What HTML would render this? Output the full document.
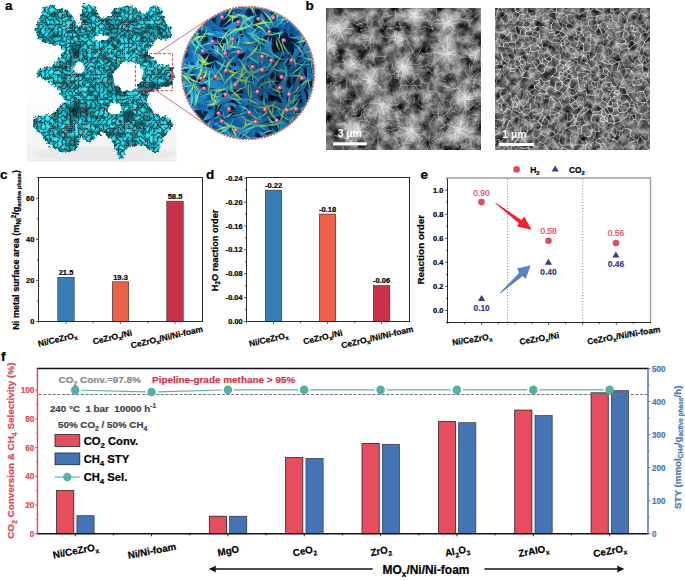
<!DOCTYPE html>
<html><head><meta charset="utf-8"><style>
html,body{margin:0;padding:0;background:#fff;width:685px;height:581px;overflow:hidden}
svg{display:block}
text{font-family:"Liberation Sans",sans-serif}
</style></head><body>
<svg width="685" height="581" viewBox="0 0 685 581" font-family="Liberation Sans, sans-serif">
<defs>
<linearGradient id="floor" x1="0" y1="0" x2="0" y2="1">
 <stop offset="0" stop-color="#ffffff"/><stop offset="0.6" stop-color="#fdfdfd"/><stop offset="1" stop-color="#f0f0f0"/>
</linearGradient>
<filter id="rough" x="-10%" y="-10%" width="120%" height="120%" color-interpolation-filters="sRGB">
 <feTurbulence type="fractalNoise" baseFrequency="0.3" numOctaves="2" seed="4" result="n"/>
 <feDisplacementMap in="SourceGraphic" in2="n" scale="6" xChannelSelector="R" yChannelSelector="G" result="d"/>
 <feTurbulence type="turbulence" baseFrequency="0.24" numOctaves="2" seed="9" result="t"/>
 <feColorMatrix in="t" type="matrix" values="1 0 0 0 0  1 0 0 0 0  1 0 0 0 0  0 0 0 0 1" result="tg"/>
 <feComponentTransfer in="tg" result="col">
  <feFuncR type="table" tableValues="0.02 0.08 0.19 0.25 0.27 0.28"/>
  <feFuncG type="table" tableValues="0.13 0.55 0.84 0.91 0.93 0.93"/>
  <feFuncB type="table" tableValues="0.16 0.6 0.89 0.95 0.97 0.97"/>
 </feComponentTransfer>
 <feTurbulence type="fractalNoise" baseFrequency="0.05" numOctaves="2" seed="3" result="lo"/>
 <feColorMatrix in="lo" type="matrix" values="0 0 0 0 0  0 0 0 0 0.12  0 0 0 0 0.14  -2.0 0 0 0 1.0" result="sh"/>
 <feComposite in="sh" in2="col" operator="over" result="col2"/>
 <feTurbulence type="fractalNoise" baseFrequency="0.7" numOctaves="1" seed="21" result="t2"/>
 <feColorMatrix in="t2" type="matrix" values="0 0 0 0 0.55  0 0 0 0 0.1  0 0 0 0 0.08  0 0 -14 0 4.6" result="rd"/>
 <feComposite in="rd" in2="col2" operator="over" result="col3"/>
 <feComposite in="col3" in2="d" operator="in"/>
</filter>
<filter id="rough2" x="-10%" y="-10%" width="120%" height="120%">
 <feTurbulence type="fractalNoise" baseFrequency="0.3" numOctaves="2" seed="5" result="n"/>
 <feDisplacementMap in="SourceGraphic" in2="n" scale="5" xChannelSelector="R" yChannelSelector="G"/>
</filter>
<clipPath id="circ"><circle cx="248" cy="73" r="66"/></clipPath>
<radialGradient id="pk" cx="0.38" cy="0.35" r="0.65">
 <stop offset="0" stop-color="#fff0f4"/><stop offset="0.4" stop-color="#e8708c"/><stop offset="1" stop-color="#a8304c"/>
</radialGradient>
<filter id="sem1" x="0" y="0" width="100%" height="100%" color-interpolation-filters="sRGB">
 <feTurbulence type="fractalNoise" baseFrequency="0.09" numOctaves="4" seed="2" result="lo"/>
 <feColorMatrix in="lo" type="matrix" values="1.1 0 0 0 -0.17  1.1 0 0 0 -0.17  1.1 0 0 0 -0.17  0 0 0 0 1"/>
</filter>
<filter id="sem2" x="0" y="0" width="100%" height="100%" color-interpolation-filters="sRGB">
 <feTurbulence type="fractalNoise" baseFrequency="0.14" numOctaves="3" seed="5" result="lo"/>
 <feColorMatrix in="lo" type="matrix" values="0.9 0 0 0 -0.07  0.9 0 0 0 -0.07  0.9 0 0 0 -0.07  0 0 0 0 1"/>
</filter>
<linearGradient id="lf0" x1="0" y1="0" x2="1" y2="1"><stop offset="0" stop-color="#38b2f6"/><stop offset="1" stop-color="#12589a"/></linearGradient>
<linearGradient id="lf1" x1="1" y1="0" x2="0" y2="1"><stop offset="0" stop-color="#2898e4"/><stop offset="1" stop-color="#0c4480"/></linearGradient>
<linearGradient id="lf2" x1="0" y1="1" x2="1" y2="0"><stop offset="0" stop-color="#34acf2"/><stop offset="1" stop-color="#105090"/></linearGradient>
<linearGradient id="lf3" x1="1" y1="1" x2="0" y2="0"><stop offset="0" stop-color="#2290dc"/><stop offset="1" stop-color="#0a3c72"/></linearGradient>
<radialGradient id="cbg" cx="0.55" cy="0.6" r="0.6"><stop offset="0" stop-color="#061a36"/><stop offset="1" stop-color="#0f4a86"/></radialGradient>
<radialGradient id="cshade" cx="0.68" cy="0.6" r="0.5"><stop offset="0" stop-color="#000814" stop-opacity="0.4"/><stop offset="1" stop-color="#000814" stop-opacity="0"/></radialGradient>
<radialGradient id="fl"><stop offset="0" stop-color="#e4e4e4" stop-opacity="0.8"/><stop offset="0.55" stop-color="#c8c8c8" stop-opacity="0.55"/><stop offset="1" stop-color="#b0b0b0" stop-opacity="0"/></radialGradient>
<filter id="rough3" x="-20%" y="-20%" width="140%" height="140%"><feTurbulence type="fractalNoise" baseFrequency="0.25" numOctaves="2" seed="7" result="n"/><feDisplacementMap in="SourceGraphic" in2="n" scale="7" xChannelSelector="R" yChannelSelector="G"/></filter>
<clipPath id="s1c"><rect x="326.8" y="8.2" width="154" height="141.7"/></clipPath>
</defs>
<rect x="26.5" y="0" width="150" height="162" fill="url(#floor)"/>
<ellipse cx="105" cy="154" rx="72" ry="7" fill="#e2e2e2" opacity="0.5"/>
<g filter="url(#rough)"><polygon points="35.3,28.9 38.1,22.7 42.0,12.0 45.7,6.2 52.5,4.8 58.0,8.3 66.3,9.6 72.5,15.1 77.3,24.8 79.2,27.0 80.8,13.8 82.8,5.5 89.7,3.4 96.6,8.3 97.8,13.8 103.3,17.9 108.8,16.5 114.3,8.3 122.5,6.2 130.8,5.5 137.7,9.6 142.5,13.8 145.9,12.4 151.5,5.5 158.3,5.5 162.5,12.4 166.6,24.8 171.4,27.5 172.1,34.4 166.6,39.9 159.7,38.6 155.6,41.3 150.0,46.8 147.3,52.3 152.8,57.8 159.7,64.7 168.0,66.0 174.0,69.0 175.0,75.0 172.1,84.8 163.8,87.5 155.6,90.3 150.0,92.0 147.3,94.4 148.7,105.4 154.2,113.7 160.8,116.1 167.0,116.1 171.9,119.9 173.2,126.0 169.5,131.0 164.5,136.0 160.8,144.7 158.3,150.9 150.8,150.9 145.9,147.2 142.2,144.7 136.0,145.9 128.5,147.2 124.8,152.1 121.0,160.8 118.6,157.1 114.9,147.2 109.9,137.2 102.4,132.3 95.0,136.2 91.6,142.0 85.7,142.0 81.0,137.4 78.7,142.0 76.4,149.0 69.4,152.6 60.0,151.4 53.0,147.9 47.2,143.2 42.5,135.0 33.8,129.2 33.2,117.5 39.0,115.2 48.4,115.2 55.4,111.7 60.0,105.8 64.9,101.3 60.8,94.4 55.3,86.2 45.7,80.7 38.8,76.5 36.0,73.0 38.8,69.6 45.7,67.6 52.5,65.5 58.0,60.0 59.4,57.8 63.6,51.0 59.4,45.4 45.7,42.7 37.4,38.6" fill="#38d4e6"/></g>
<g fill="#ffffff" filter="url(#rough2)"><ellipse cx="79.4" cy="67.6" rx="5.2" ry="5.8"/><path d="M123,62 L113,74 L114,83 L123,91.5 L132,90.5 L137,86.5 L141.5,80 L143.5,72.4 L140.5,66 L135.5,62.5 Z"/><ellipse cx="101.5" cy="37.8" rx="7" ry="3.1"/><ellipse cx="114.8" cy="108.7" rx="7" ry="5.6"/></g>
<ellipse cx="128.5" cy="116" rx="6" ry="6" fill="#0c4a55" opacity="0.85" filter="url(#rough2)"/>
<rect x="135.4" y="53.7" width="37" height="37" fill="none" stroke="#c8303c" stroke-width="0.9" stroke-dasharray="3,1.6"/>
<line x1="156.3" y1="53.7" x2="208.5" y2="19" stroke="#c8303c" stroke-width="0.7"/>
<line x1="156.3" y1="90.7" x2="208.5" y2="126.5" stroke="#c8303c" stroke-width="0.7"/>
<defs><linearGradient id="bh" x1="0" y1="0" x2="1" y2="0"><stop offset="0" stop-color="#1890e0"/><stop offset="0.5" stop-color="#c4ee48"/><stop offset="1" stop-color="#20a8e8"/></linearGradient><linearGradient id="bv" x1="0" y1="0" x2="0" y2="1"><stop offset="0" stop-color="#1890e0"/><stop offset="0.5" stop-color="#c4ee48"/><stop offset="1" stop-color="#20a8e8"/></linearGradient><linearGradient id="ch" x1="0" y1="0" x2="1" y2="0"><stop offset="0" stop-color="#1aa0e8"/><stop offset="0.5" stop-color="#5ee8c0"/><stop offset="1" stop-color="#1a98e0"/></linearGradient><linearGradient id="cv" x1="0" y1="0" x2="0" y2="1"><stop offset="0" stop-color="#1aa0e8"/><stop offset="0.5" stop-color="#5ee8c0"/><stop offset="1" stop-color="#1a98e0"/></linearGradient><radialGradient id="cbg2" cx="0.55" cy="0.55" r="0.65"><stop offset="0" stop-color="#020a18"/><stop offset="1" stop-color="#0a2e58"/></radialGradient></defs>
<g clip-path="url(#circ)">
<rect x="180" y="5" width="136" height="136" fill="url(#cbg2)"/>
<path d="M215.7,89.8Q196.5,89.5 177.4,87.9Q196.0,100.2 215.7,89.8Z" fill="url(#lf3)"/>
<path d="M249.4,63.2Q251.1,50.6 258.4,40.2Q243.9,47.8 249.4,63.2Z" fill="url(#lf3)"/>
<path d="M226.5,28.4Q216.1,25.3 205.4,24.6Q214.9,32.3 226.5,28.4Z" fill="url(#lf1)"/>
<path d="M253.6,17.1Q243.3,33.7 256.8,47.9Q251.8,32.9 253.6,17.1Z" fill="url(#lf0)"/>
<path d="M261.7,45.6Q266.7,34.4 256.7,27.3Q263.7,35.3 261.7,45.6Z" fill="url(#cv)"/>
<path d="M303.7,73.2Q304.9,84.0 298.5,92.9Q312.5,86.0 303.7,73.2Z" fill="url(#lf0)"/>
<path d="M310.9,74.6Q301.8,89.7 284.1,89.5Q303.1,92.3 310.9,74.6Z" fill="url(#ch)"/>
<path d="M219.0,111.6Q228.1,109.1 235.3,103.1Q223.3,100.0 219.0,111.6Z" fill="url(#lf0)"/>
<path d="M238.2,109.4Q226.8,112.9 215.9,108.2Q226.7,114.8 238.2,109.4Z" fill="url(#ch)"/>
<path d="M271.6,106.3Q285.2,117.6 293.9,102.2Q283.6,108.6 271.6,106.3Z" fill="url(#lf0)"/>
<path d="M275.0,106.1Q285.3,101.3 296.1,104.6Q285.2,99.6 275.0,106.1Z" fill="url(#bh)"/>
<path d="M243.5,25.5Q253.2,33.2 264.2,38.7Q257.3,26.8 243.5,25.5Z" fill="url(#lf2)"/>
<path d="M250.1,40.2Q253.8,28.6 264.9,23.8Q251.8,26.8 250.1,40.2Z" fill="url(#cv)"/>
<path d="M303.4,49.3Q299.7,37.8 301.8,25.9Q291.2,38.3 303.4,49.3Z" fill="url(#lf3)"/>
<path d="M200.9,47.0Q210.1,41.9 220.7,42.3Q208.4,34.8 200.9,47.0Z" fill="url(#lf3)"/>
<path d="M214.2,57.2Q208.6,43.6 208.9,28.9Q206.7,44.0 214.2,57.2Z" fill="url(#cv)"/>
<path d="M172.4,56.6Q183.3,43.9 199.8,41.0Q178.7,35.9 172.4,56.6Z" fill="url(#lf0)"/>
<path d="M192.5,51.0Q181.8,47.7 172.7,41.4Q180.9,49.7 192.5,51.0Z" fill="url(#bh)"/>
<path d="M317.2,36.1Q301.8,30.2 289.2,19.7Q295.5,41.0 317.2,36.1Z" fill="url(#lf0)"/>
<path d="M292.6,19.5Q304.0,19.5 310.8,28.8Q305.3,17.1 292.6,19.5Z" fill="url(#ch)"/>
<path d="M247.2,83.8Q261.9,83.4 274.1,91.5Q264.6,73.8 247.2,83.8Z" fill="url(#lf2)"/>
<path d="M260.6,103.4Q271.9,92.7 267.2,77.9Q269.7,92.1 260.6,103.4Z" fill="url(#cv)"/>
<path d="M234.8,72.0Q234.9,86.7 249.5,85.0Q240.0,81.0 234.8,72.0Z" fill="url(#lf2)"/>
<path d="M231.0,71.2Q244.7,74.9 254.6,84.9Q246.2,72.2 231.0,71.2Z" fill="url(#bh)"/>
<path d="M226.2,88.1Q221.2,68.6 201.2,66.1Q214.0,76.8 226.2,88.1Z" fill="url(#lf0)"/>
<path d="M219.1,70.3Q209.9,74.2 210.0,84.2Q212.4,75.8 219.1,70.3Z" fill="url(#bv)"/>
<path d="M216.8,135.5Q217.9,124.0 224.5,114.5Q208.1,120.4 216.8,135.5Z" fill="url(#lf3)"/>
<path d="M206.2,131.4Q213.2,115.4 230.5,112.8Q211.8,113.6 206.2,131.4Z" fill="url(#ch)"/>
<path d="M251.6,63.6Q272.0,58.7 265.5,38.8Q259.4,51.7 251.6,63.6Z" fill="url(#lf3)"/>
<path d="M226.6,22.4Q248.4,16.1 241.6,-5.6Q240.0,11.6 226.6,22.4Z" fill="url(#lf0)"/>
<path d="M249.9,127.5Q250.1,106.6 229.5,102.5Q241.1,113.8 249.9,127.5Z" fill="url(#lf0)"/>
<path d="M228.2,124.4Q243.3,134.1 254.8,148.0Q253.2,123.0 228.2,124.4Z" fill="url(#lf2)"/>
<path d="M220.9,42.6Q234.4,55.1 249.3,44.5Q234.9,46.7 220.9,42.6Z" fill="url(#lf0)"/>
<path d="M241.0,51.3Q232.0,47.3 226.8,38.9Q230.4,49.2 241.0,51.3Z" fill="url(#bh)"/>
<path d="M323.6,104.3Q308.3,112.3 291.1,114.1Q310.6,120.0 323.6,104.3Z" fill="url(#lf2)"/>
<path d="M313.1,121.0Q302.9,112.7 296.9,101.0Q300.5,114.6 313.1,121.0Z" fill="url(#cv)"/>
<path d="M325.0,50.8Q318.1,64.1 312.3,77.8Q330.2,69.8 325.0,50.8Z" fill="url(#lf0)"/>
<path d="M316.0,52.6Q320.9,61.9 320.0,72.4Q324.1,61.3 316.0,52.6Z" fill="url(#bv)"/>
<path d="M256.9,95.7Q253.2,120.4 277.9,124.1Q259.8,115.5 256.9,95.7Z" fill="url(#lf3)"/>
<path d="M217.8,26.9Q223.4,14.2 231.3,2.8Q213.4,8.6 217.8,26.9Z" fill="url(#lf2)"/>
<path d="M221.2,26.5Q232.7,22.0 233.5,9.7Q231.1,20.8 221.2,26.5Z" fill="url(#bv)"/>
<path d="M236.2,88.1Q227.5,85.5 218.6,83.7Q225.1,95.2 236.2,88.1Z" fill="url(#lf3)"/>
<path d="M209.9,89.3Q227.7,90.0 238.8,76.0Q226.9,88.3 209.9,89.3Z" fill="url(#ch)"/>
<path d="M237.9,131.7Q251.7,126.4 246.2,112.6Q242.1,122.2 237.9,131.7Z" fill="url(#lf0)"/>
<path d="M233.0,117.4Q245.7,117.0 257.9,121.0Q246.2,114.1 233.0,117.4Z" fill="url(#bh)"/>
<path d="M222.0,27.4Q234.2,32.8 242.5,43.2Q241.5,23.3 222.0,27.4Z" fill="url(#lf2)"/>
<path d="M223.5,16.9Q228.8,9.2 231.9,0.4Q218.0,3.7 223.5,16.9Z" fill="url(#lf1)"/>
<path d="M229.4,26.1Q240.5,10.8 227.7,-3.1Q238.4,10.9 229.4,26.1Z" fill="url(#cv)"/>
<path d="M190.0,21.5Q190.5,33.2 197.6,42.5Q203.0,28.7 190.0,21.5Z" fill="url(#lf1)"/>
<path d="M200.4,33.6Q192.7,32.3 185.4,29.4Q191.8,35.5 200.4,33.6Z" fill="url(#bh)"/>
<path d="M301.1,94.0Q282.6,95.3 284.4,113.7Q293.0,104.0 301.1,94.0Z" fill="url(#lf1)"/>
<path d="M222.5,84.0Q243.0,83.3 251.2,64.5Q236.3,73.5 222.5,84.0Z" fill="url(#lf1)"/>
<path d="M241.6,76.6Q231.6,77.1 226.6,68.4Q230.3,79.5 241.6,76.6Z" fill="url(#ch)"/>
<path d="M275.9,73.0Q269.6,84.9 259.7,94.0Q277.8,91.2 275.9,73.0Z" fill="url(#lf0)"/>
<path d="M288.4,71.4Q281.1,83.0 269.9,91.0Q288.3,89.8 288.4,71.4Z" fill="url(#lf0)"/>
<path d="M277.7,89.1Q286.4,87.0 286.9,78.1Q284.2,85.2 277.7,89.1Z" fill="url(#bv)"/>
<path d="M161.5,80.5Q172.5,64.5 191.8,61.6Q167.8,56.8 161.5,80.5Z" fill="url(#lf3)"/>
<path d="M172.8,61.0Q181.6,67.9 181.1,79.1Q183.8,66.9 172.8,61.0Z" fill="url(#bv)"/>
<path d="M249.5,35.8Q259.8,38.8 269.7,34.6Q259.0,24.7 249.5,35.8Z" fill="url(#lf2)"/>
<path d="M247.2,35.5Q260.1,28.6 273.1,35.4Q260.1,26.3 247.2,35.5Z" fill="url(#ch)"/>
<path d="M259.4,55.9Q244.4,71.0 258.1,87.4Q257.3,71.6 259.4,55.9Z" fill="url(#lf1)"/>
<path d="M296.2,78.5Q288.1,61.7 272.9,72.4Q285.7,71.1 296.2,78.5Z" fill="url(#lf0)"/>
<path d="M240.3,50.1Q255.3,54.3 270.2,58.9Q259.0,41.8 240.3,50.1Z" fill="url(#lf1)"/>
<path d="M197.3,45.1Q181.5,55.7 191.4,71.9Q192.2,58.0 197.3,45.1Z" fill="url(#lf2)"/>
<path d="M192.6,73.3Q191.5,62.0 192.3,50.6Q188.7,62.0 192.6,73.3Z" fill="url(#bv)"/>
<path d="M186.1,39.2Q194.0,57.8 211.6,48.0Q198.0,46.0 186.1,39.2Z" fill="url(#lf0)"/>
<path d="M244.6,50.3Q259.1,29.4 237.7,15.5Q250.5,31.1 244.6,50.3Z" fill="url(#lf1)"/>
<path d="M236.0,38.1Q242.8,32.8 251.3,34.2Q242.3,31.0 236.0,38.1Z" fill="url(#bh)"/>
<path d="M298.6,79.4Q289.0,84.9 285.8,95.6Q299.8,93.6 298.6,79.4Z" fill="url(#lf3)"/>
<path d="M300.1,80.5Q298.2,93.1 285.9,96.7Q300.3,95.0 300.1,80.5Z" fill="url(#bv)"/>
<path d="M263.1,110.5Q259.3,87.7 236.5,83.9Q249.9,97.1 263.1,110.5Z" fill="url(#lf1)"/>
<path d="M238.5,47.6Q249.0,42.2 258.8,35.7Q241.5,29.4 238.5,47.6Z" fill="url(#lf0)"/>
<path d="M239.9,33.7Q252.6,32.3 259.4,43.2Q253.8,30.0 239.9,33.7Z" fill="url(#bh)"/>
<path d="M190.5,42.4Q182.1,58.0 196.9,67.8Q192.6,55.4 190.5,42.4Z" fill="url(#lf1)"/>
<path d="M268.1,102.0Q267.9,83.9 272.4,66.4Q256.0,82.5 268.1,102.0Z" fill="url(#lf2)"/>
<path d="M269.6,78.8Q269.9,87.5 265.4,95.0Q272.5,88.2 269.6,78.8Z" fill="url(#cv)"/>
<path d="M216.6,44.1Q199.3,36.2 193.8,54.5Q204.0,46.5 216.6,44.1Z" fill="url(#lf3)"/>
<path d="M189.6,40.1Q197.7,54.2 214.0,53.8Q199.1,51.8 189.6,40.1Z" fill="url(#ch)"/>
<path d="M251.1,90.0Q241.4,98.8 233.8,109.3Q251.0,107.3 251.1,90.0Z" fill="url(#lf3)"/>
<path d="M302.6,56.8Q322.4,43.5 315.1,20.8Q312.4,40.1 302.6,56.8Z" fill="url(#lf1)"/>
<path d="M322.3,25.3Q304.2,29.9 301.8,48.3Q305.9,31.3 322.3,25.3Z" fill="url(#cv)"/>
<path d="M258.3,2.9Q264.8,14.3 273.0,24.5Q273.2,8.6 258.3,2.9Z" fill="url(#lf3)"/>
<path d="M259.3,89.6Q244.7,86.3 232.5,77.5Q240.0,96.6 259.3,89.6Z" fill="url(#lf3)"/>
<path d="M249.2,92.1Q252.0,79.9 247.2,68.3Q250.3,80.0 249.2,92.1Z" fill="url(#bv)"/>
<path d="M314.8,109.4Q300.2,95.1 287.6,111.3Q301.1,107.8 314.8,109.4Z" fill="url(#lf3)"/>
<path d="M295.1,120.9Q292.7,104.9 304.7,94.1Q290.3,104.1 295.1,120.9Z" fill="url(#bv)"/>
<path d="M187.0,123.2Q187.9,106.1 198.2,92.5Q174.9,101.4 187.0,123.2Z" fill="url(#lf0)"/>
<path d="M186.9,96.6Q202.5,101.5 203.2,117.9Q204.4,100.1 186.9,96.6Z" fill="url(#cv)"/>
<path d="M233.6,22.5Q232.4,35.8 229.6,48.8Q243.5,37.5 233.6,22.5Z" fill="url(#lf0)"/>
<path d="M226.6,38.1Q234.1,46.7 243.3,39.9Q234.4,43.7 226.6,38.1Z" fill="url(#bh)"/>
<path d="M246.2,110.2Q243.4,92.0 225.3,95.0Q236.5,101.5 246.2,110.2Z" fill="url(#lf1)"/>
<path d="M245.5,116.6Q243.8,97.2 224.4,95.1Q241.4,99.5 245.5,116.6Z" fill="url(#cv)"/>
<path d="M288.0,31.7Q304.3,42.6 312.6,24.9Q301.3,31.6 288.0,31.7Z" fill="url(#lf3)"/>
<path d="M318.2,28.9Q303.9,15.7 287.3,25.8Q303.6,18.2 318.2,28.9Z" fill="url(#bh)"/>
<path d="M235.0,37.1Q229.0,43.9 222.4,50.2Q236.8,51.3 235.0,37.1Z" fill="url(#lf1)"/>
<path d="M216.4,36.7Q219.6,52.8 235.4,57.2Q221.8,50.7 216.4,36.7Z" fill="url(#bv)"/>
<path d="M279.8,131.7Q288.7,126.9 290.1,116.9Q277.5,119.1 279.8,131.7Z" fill="url(#lf2)"/>
<path d="M181.3,77.8Q188.5,61.1 181.0,44.5Q180.8,61.1 181.3,77.8Z" fill="url(#lf1)"/>
<path d="M192.5,67.9Q179.3,58.5 163.2,59.6Q178.8,60.4 192.5,67.9Z" fill="url(#ch)"/>
<path d="M237.0,128.1Q230.5,114.4 222.0,101.8Q217.6,121.8 237.0,128.1Z" fill="url(#lf1)"/>
<path d="M235.2,127.4Q224.2,122.1 223.2,110.0Q221.7,123.9 235.2,127.4Z" fill="url(#cv)"/>
<path d="M238.2,127.6Q251.9,120.1 266.3,126.2Q251.5,113.0 238.2,127.6Z" fill="url(#lf1)"/>
<path d="M260.7,118.8Q254.2,127.3 244.5,131.8Q255.6,129.0 260.7,118.8Z" fill="url(#bh)"/>
<path d="M243.2,87.3Q229.0,79.5 218.8,92.0Q230.8,88.5 243.2,87.3Z" fill="url(#lf3)"/>
<path d="M224.2,83.6Q224.8,92.5 231.3,98.6Q227.4,91.3 224.2,83.6Z" fill="url(#cv)"/>
<path d="M221.8,53.0Q221.7,69.5 238.1,69.2Q227.5,63.6 221.8,53.0Z" fill="url(#lf2)"/>
<path d="M194.9,110.3Q214.9,102.0 208.8,81.3Q203.0,96.4 194.9,110.3Z" fill="url(#lf3)"/>
<path d="M239.5,4.7Q237.7,17.3 240.2,29.7Q251.0,16.9 239.5,4.7Z" fill="url(#lf1)"/>
<path d="M233.6,28.7Q230.9,14.8 239.8,3.8Q228.4,14.2 233.6,28.7Z" fill="url(#bv)"/>
<path d="M256.1,133.8Q245.3,127.6 237.3,117.9Q239.5,134.3 256.1,133.8Z" fill="url(#lf1)"/>
<path d="M170.3,73.0Q184.8,59.5 204.5,60.7Q181.8,51.4 170.3,73.0Z" fill="url(#lf1)"/>
<path d="M196.8,56.2Q180.9,58.7 181.1,74.8Q183.4,60.8 196.8,56.2Z" fill="url(#cv)"/>
<path d="M291.7,75.7Q278.4,58.1 256.6,61.6Q274.2,68.6 291.7,75.7Z" fill="url(#lf2)"/>
<path d="M294.2,106.4Q279.3,119.4 295.6,130.7Q293.5,118.6 294.2,106.4Z" fill="url(#lf1)"/>
<path d="M254.1,33.7Q266.8,29.3 278.4,22.3Q261.2,17.3 254.1,33.7Z" fill="url(#lf3)"/>
<path d="M197.5,22.2Q206.3,32.3 218.5,26.7Q208.5,22.3 197.5,22.2Z" fill="url(#lf3)"/>
<path d="M213.5,34.1Q201.2,29.0 198.8,15.9Q199.5,30.3 213.5,34.1Z" fill="url(#bv)"/>
<path d="M198.3,108.1Q213.3,111.2 214.4,95.9Q207.4,103.4 198.3,108.1Z" fill="url(#lf3)"/>
<path d="M169.0,77.4Q185.0,84.5 193.6,99.7Q194.1,74.4 169.0,77.4Z" fill="url(#lf2)"/>
<path d="M186.2,97.9Q192.2,85.9 182.9,76.4Q190.6,86.2 186.2,97.9Z" fill="url(#cv)"/>
<path d="M237.5,22.3Q242.0,39.7 259.5,44.2Q247.4,34.4 237.5,22.3Z" fill="url(#lf3)"/>
<path d="M235.4,92.4Q218.1,81.1 214.4,60.7Q208.6,87.3 235.4,92.4Z" fill="url(#lf2)"/>
<path d="M201.6,108.3Q192.5,100.4 180.7,99.0Q187.3,112.3 201.6,108.3Z" fill="url(#lf1)"/>
<path d="M198.3,88.4Q190.3,98.2 191.1,110.9Q192.3,98.8 198.3,88.4Z" fill="url(#cv)"/>
<path d="M310.9,40.0Q299.3,33.4 287.9,26.3Q294.3,41.8 310.9,40.0Z" fill="url(#lf3)"/>
<path d="M248.9,117.2Q229.7,119.3 210.9,123.8Q232.3,133.9 248.9,117.2Z" fill="url(#lf0)"/>
<path d="M218.2,130.3Q224.2,115.5 239.3,110.3Q222.9,114.1 218.2,130.3Z" fill="url(#bh)"/>
<path d="M273.7,145.5Q283.5,134.3 270.8,126.6Q275.7,135.5 273.7,145.5Z" fill="url(#lf2)"/>
<path d="M257.6,41.6Q241.2,45.2 226.3,52.9Q246.1,58.8 257.6,41.6Z" fill="url(#lf2)"/>
<path d="M243.8,36.3Q233.5,47.1 236.4,61.7Q235.9,47.8 243.8,36.3Z" fill="url(#bv)"/>
<path d="M225.0,65.2Q228.1,49.3 212.8,43.9Q215.6,56.4 225.0,65.2Z" fill="url(#lf0)"/>
<path d="M214.6,50.8Q222.0,56.8 229.9,51.5Q222.1,53.5 214.6,50.8Z" fill="url(#ch)"/>
<path d="M254.7,40.8Q240.7,53.3 255.3,65.1Q253.7,53.0 254.7,40.8Z" fill="url(#lf0)"/>
<path d="M258.8,64.3Q263.1,49.2 258.9,34.1Q260.7,49.2 258.8,64.3Z" fill="url(#cv)"/>
<path d="M272.5,63.9Q247.9,71.6 257.4,95.6Q260.8,77.7 272.5,63.9Z" fill="url(#lf2)"/>
<path d="M259.7,66.9Q268.4,78.9 273.1,92.9Q271.3,77.3 259.7,66.9Z" fill="url(#cv)"/>
<path d="M247.9,137.5Q252.8,120.7 256.9,103.7Q239.9,117.3 247.9,137.5Z" fill="url(#lf1)"/>
<path d="M208.1,47.1Q213.7,65.4 229.3,54.4Q218.4,51.5 208.1,47.1Z" fill="url(#lf1)"/>
<path d="M221.6,65.5Q217.8,53.5 217.5,40.9Q215.3,53.9 221.6,65.5Z" fill="url(#bv)"/>
<path d="M189.1,36.7Q189.9,58.3 210.6,64.8Q197.0,52.9 189.1,36.7Z" fill="url(#lf2)"/>
<path d="M253.6,23.6Q241.8,10.7 233.2,-4.5Q232.9,17.1 253.6,23.6Z" fill="url(#lf1)"/>
<path d="M257.2,4.8Q241.2,4.2 234.9,18.9Q242.1,5.6 257.2,4.8Z" fill="url(#bh)"/>
<path d="M291.8,133.8Q292.2,118.2 290.8,102.6Q284.1,118.4 291.8,133.8Z" fill="url(#lf3)"/>
<path d="M265.5,102.4Q277.5,106.0 287.3,113.7Q282.3,96.8 265.5,102.4Z" fill="url(#lf1)"/>
<path d="M278.1,99.4Q275.2,108.0 280.4,115.4Q276.9,107.7 278.1,99.4Z" fill="url(#bv)"/>
<path d="M301.2,70.8Q295.6,86.5 283.4,97.7Q301.8,90.6 301.2,70.8Z" fill="url(#lf3)"/>
<path d="M257.9,106.6Q257.6,116.1 258.3,125.7Q268.0,115.9 257.9,106.6Z" fill="url(#lf3)"/>
<path d="M261.4,125.8Q261.4,113.4 251.8,105.6Q258.3,114.9 261.4,125.8Z" fill="url(#cv)"/>
<path d="M243.1,88.9Q234.0,80.9 225.6,72.3Q224.0,91.5 243.1,88.9Z" fill="url(#lf3)"/>
<path d="M229.6,55.9Q234.7,45.0 226.8,35.9Q227.3,46.0 229.6,55.9Z" fill="url(#lf1)"/>
<path d="M245.7,61.1Q251.6,76.0 267.4,73.6Q256.6,67.3 245.7,61.1Z" fill="url(#lf0)"/>
<path d="M247.8,55.9Q259.1,62.4 265.2,73.8Q260.9,60.6 247.8,55.9Z" fill="url(#cv)"/>
<path d="M194.3,67.5Q175.2,75.4 182.8,94.6Q185.7,79.8 194.3,67.5Z" fill="url(#lf1)"/>
<path d="M288.6,29.1Q275.6,18.9 260.8,26.1Q274.8,27.0 288.6,29.1Z" fill="url(#lf2)"/>
<path d="M284.2,29.0Q272.6,37.4 259.4,31.7Q272.9,40.4 284.2,29.0Z" fill="url(#ch)"/>
<path d="M249.2,42.6Q244.8,62.4 226.9,71.9Q253.9,69.3 249.2,42.6Z" fill="url(#lf2)"/>
<path d="M223.0,52.0Q230.8,66.7 246.6,61.4Q231.7,64.5 223.0,52.0Z" fill="url(#ch)"/>
<path d="M220.5,72.0Q209.8,73.0 199.3,75.4Q211.4,83.1 220.5,72.0Z" fill="url(#lf1)"/>
<path d="M213.8,62.5Q203.5,75.7 212.6,89.8Q205.9,75.8 213.8,62.5Z" fill="url(#bv)"/>
<path d="M271.1,39.8Q252.0,56.4 265.8,77.5Q266.2,58.3 271.1,39.8Z" fill="url(#lf2)"/>
<path d="M258.7,61.1Q269.4,58.5 274.2,48.6Q268.0,56.7 258.7,61.1Z" fill="url(#bh)"/>
<path d="M207.5,35.7Q220.3,36.9 232.6,40.7Q223.1,22.9 207.5,35.7Z" fill="url(#lf0)"/>
<path d="M199.9,105.9Q219.8,109.4 217.4,89.4Q210.4,99.5 199.9,105.9Z" fill="url(#lf3)"/>
<path d="M200.6,97.3Q208.2,92.6 216.9,94.9Q207.9,90.4 200.6,97.3Z" fill="url(#ch)"/>
<path d="M267.1,135.0Q257.6,126.2 244.9,128.7Q255.7,133.0 267.1,135.0Z" fill="url(#lf3)"/>
<path d="M256.5,69.7Q262.5,48.0 243.4,36.0Q249.4,53.1 256.5,69.7Z" fill="url(#lf0)"/>
<path d="M208.2,132.9Q224.7,130.4 240.6,125.4Q221.9,118.3 208.2,132.9Z" fill="url(#lf3)"/>
<path d="M248.5,117.5Q235.4,116.9 222.4,117.8Q235.6,129.2 248.5,117.5Z" fill="url(#lf1)"/>
<path d="M227.8,18.9Q250.7,14.9 257.7,-7.3Q241.8,4.7 227.8,18.9Z" fill="url(#lf3)"/>
<path d="M252.1,5.3Q238.4,1.0 226.0,8.2Q238.6,3.3 252.1,5.3Z" fill="url(#ch)"/>
<path d="M241.7,118.4Q249.7,129.1 252.2,142.3Q261.1,124.1 241.7,118.4Z" fill="url(#lf1)"/>
<path d="M189.8,117.0Q196.5,102.5 199.9,86.9Q183.5,98.2 189.8,117.0Z" fill="url(#lf2)"/>
<path d="M182.4,104.3Q190.7,101.2 199.5,101.1Q190.1,98.0 182.4,104.3Z" fill="url(#ch)"/>
<path d="M184.7,101.7Q198.2,104.1 211.3,99.8Q197.2,89.6 184.7,101.7Z" fill="url(#lf0)"/>
<path d="M275.2,104.9Q265.0,116.4 250.5,121.8Q272.5,127.5 275.2,104.9Z" fill="url(#lf3)"/>
<path d="M261.1,108.8Q256.1,117.3 263.6,123.8Q258.8,116.9 261.1,108.8Z" fill="url(#cv)"/>
<path d="M244.1,38.8Q232.6,42.7 221.5,47.4Q237.5,55.7 244.1,38.8Z" fill="url(#lf2)"/>
<path d="M239.4,92.4Q228.9,70.6 205.4,76.7Q225.0,78.9 239.4,92.4Z" fill="url(#lf2)"/>
<path d="M215.5,78.6Q223.6,82.4 224.5,91.2Q225.7,80.9 215.5,78.6Z" fill="url(#cv)"/>
<path d="M242.7,81.3Q255.8,71.5 248.9,56.7Q247.9,69.5 242.7,81.3Z" fill="url(#lf3)"/>
<path d="M240.7,77.4Q251.4,69.4 251.9,56.1Q249.0,68.1 240.7,77.4Z" fill="url(#cv)"/>
<path d="M297.5,32.7Q292.3,19.5 293.2,5.3Q278.8,21.6 297.5,32.7Z" fill="url(#lf1)"/>
<path d="M281.4,10.2Q292.0,18.9 305.6,20.3Q293.0,16.5 281.4,10.2Z" fill="url(#bh)"/>
<path d="M287.5,72.5Q275.8,90.3 288.6,107.4Q284.9,90.0 287.5,72.5Z" fill="url(#lf0)"/>
<path d="M192.1,89.9Q182.2,80.6 172.8,70.9Q172.3,90.7 192.1,89.9Z" fill="url(#lf1)"/>
<path d="M191.9,88.3Q187.7,73.5 173.0,69.0Q185.3,75.9 191.9,88.3Z" fill="url(#cv)"/>
<path d="M297.6,81.5Q301.7,96.6 304.7,111.8Q310.5,94.5 297.6,81.5Z" fill="url(#lf1)"/>
<path d="M306.3,82.9Q295.6,91.3 290.8,104.1Q297.1,92.4 306.3,82.9Z" fill="url(#cv)"/>
<path d="M190.3,76.0Q203.2,75.1 214.3,68.6Q199.8,64.3 190.3,76.0Z" fill="url(#lf1)"/>
<path d="M185.7,79.4Q197.8,70.6 212.6,73.0Q197.3,68.3 185.7,79.4Z" fill="url(#bh)"/>
<path d="M245.5,64.4Q264.8,65.7 265.1,46.4Q255.1,55.2 245.5,64.4Z" fill="url(#lf0)"/>
<path d="M263.8,65.0Q261.0,49.1 244.9,48.1Q259.7,50.5 263.8,65.0Z" fill="url(#ch)"/>
<path d="M197.6,80.9Q204.5,67.1 190.0,61.8Q191.8,72.1 197.6,80.9Z" fill="url(#lf3)"/>
<path d="M202.0,73.2Q191.2,76.2 181.2,71.2Q191.0,78.8 202.0,73.2Z" fill="url(#ch)"/>
<path d="M186.6,78.5Q184.7,98.9 204.6,103.9Q196.5,90.6 186.6,78.5Z" fill="url(#lf2)"/>
<path d="M210.8,144.7Q218.4,124.7 237.6,115.3Q210.8,117.9 210.8,144.7Z" fill="url(#lf3)"/>
<path d="M221.0,126.6Q229.9,129.7 234.1,138.1Q231.1,128.3 221.0,126.6Z" fill="url(#ch)"/>
<path d="M303.8,115.4Q319.0,103.1 315.6,83.9Q310.6,99.9 303.8,115.4Z" fill="url(#lf0)"/>
<path d="M275.8,114.3Q265.9,94.3 245.5,103.5Q263.3,101.5 275.8,114.3Z" fill="url(#lf0)"/>
<path d="M282.4,37.5Q283.7,22.1 291.1,8.7Q270.1,18.0 282.4,37.5Z" fill="url(#lf1)"/>
<path d="M280.1,21.1Q287.3,24.0 291.0,30.9Q289.4,21.8 280.1,21.1Z" fill="url(#bh)"/>
<path d="M262.1,28.5Q280.6,21.1 299.9,25.6Q280.0,13.5 262.1,28.5Z" fill="url(#lf2)"/>
<path d="M227.3,39.8Q242.0,56.6 259.8,42.9Q243.1,46.2 227.3,39.8Z" fill="url(#lf2)"/>
<path d="M271.7,113.3Q256.2,105.4 241.2,96.4Q252.1,112.7 271.7,113.3Z" fill="url(#lf0)"/>
<path d="M248.3,99.1Q259.8,98.2 266.6,107.6Q260.5,96.7 248.3,99.1Z" fill="url(#ch)"/>
<path d="M292.5,15.9Q279.9,25.9 290.3,38.2Q287.4,26.7 292.5,15.9Z" fill="url(#lf3)"/>
<path d="M295.5,19.8Q285.5,18.8 281.2,27.9Q286.8,21.0 295.5,19.8Z" fill="url(#ch)"/>
<path d="M307.8,135.8Q287.4,126.7 284.6,104.5Q281.3,131.2 307.8,135.8Z" fill="url(#lf3)"/>
<path d="M299.3,112.0Q287.5,117.5 288.6,130.5Q289.4,118.6 299.3,112.0Z" fill="url(#cv)"/>
<path d="M245.9,122.2Q234.4,134.8 218.1,139.5Q239.2,142.4 245.9,122.2Z" fill="url(#lf2)"/>
<path d="M221.3,128.1Q230.6,131.5 236.3,139.7Q232.5,129.2 221.3,128.1Z" fill="url(#bh)"/>
<path d="M291.3,107.4Q299.6,87.7 278.5,84.4Q288.4,93.9 291.3,107.4Z" fill="url(#lf0)"/>
<path d="M269.6,87.7Q259.2,92.0 248.0,90.5Q260.6,103.0 269.6,87.7Z" fill="url(#lf0)"/>
<path d="M180.0,113.4Q196.1,106.5 212.3,112.9Q195.9,93.9 180.0,113.4Z" fill="url(#lf3)"/>
<path d="M287.7,65.0Q303.4,56.1 302.6,38.0Q293.8,50.8 287.7,65.0Z" fill="url(#lf0)"/>
<path d="M304.8,67.2Q307.0,47.6 288.6,40.5Q304.2,49.3 304.8,67.2Z" fill="url(#bv)"/>
<path d="M215.6,96.0Q223.4,85.3 228.5,73.2Q214.7,80.4 215.6,96.0Z" fill="url(#lf3)"/>
<path d="M230.7,87.4Q218.9,88.7 207.2,86.4Q218.8,90.8 230.7,87.4Z" fill="url(#bh)"/>
<path d="M260.2,103.0Q259.3,88.0 265.2,74.2Q250.1,86.4 260.2,103.0Z" fill="url(#lf3)"/>
<path d="M257.0,96.3Q258.3,86.1 267.6,81.8Q256.4,84.7 257.0,96.3Z" fill="url(#bv)"/>
<path d="M270.8,118.0Q281.7,116.6 292.1,113.0Q279.0,104.9 270.8,118.0Z" fill="url(#lf0)"/>
<path d="M282.2,103.8Q283.2,118.8 274.4,131.1Q285.4,119.4 282.2,103.8Z" fill="url(#cv)"/>
<path d="M210.4,135.6Q222.1,152.7 241.2,144.8Q226.0,139.4 210.4,135.6Z" fill="url(#lf1)"/>
<path d="M233.7,145.4Q226.6,140.6 224.6,132.2Q224.6,142.0 233.7,145.4Z" fill="url(#bv)"/>
<path d="M228.5,84.6Q205.1,86.4 205.4,109.9Q211.8,92.5 228.5,84.6Z" fill="url(#lf3)"/>
<path d="M206.5,89.5Q213.8,100.4 226.6,97.8Q215.0,97.5 206.5,89.5Z" fill="url(#ch)"/>
<path d="M283.4,6.3Q276.6,22.4 262.0,32.3Q282.2,27.0 283.4,6.3Z" fill="url(#lf3)"/>
<path d="M215.5,104.7Q207.6,111.4 202.8,120.5Q217.4,119.2 215.5,104.7Z" fill="url(#lf2)"/>
<path d="M256.6,127.4Q259.4,138.7 270.8,140.4Q265.1,132.4 256.6,127.4Z" fill="url(#lf0)"/>
<path d="M274.8,128.6Q268.5,139.7 257.6,146.2Q270.4,141.6 274.8,128.6Z" fill="url(#bv)"/>
<path d="M316.8,93.0Q316.1,112.6 301.9,126.1Q324.9,116.5 316.8,93.0Z" fill="url(#lf2)"/>
<path d="M293.3,116.7Q302.8,104.6 318.2,104.4Q301.7,102.3 293.3,116.7Z" fill="url(#bh)"/>
<path d="M250.6,85.9Q243.3,70.4 236.0,55.0Q233.9,74.8 250.6,85.9Z" fill="url(#lf0)"/>
<path d="M232.2,60.7Q234.6,78.4 252.5,79.3Q236.3,76.6 232.2,60.7Z" fill="url(#bh)"/>
<path d="M287.1,25.0Q285.1,12.2 281.0,-0.1Q271.9,15.4 287.1,25.0Z" fill="url(#lf0)"/>
<path d="M248.6,107.6Q249.4,128.0 269.9,128.4Q259.0,118.2 248.6,107.6Z" fill="url(#lf0)"/>
<path d="M292.6,52.9Q271.8,46.5 261.8,65.8Q276.0,56.6 292.6,52.9Z" fill="url(#lf3)"/>
<path d="M282.3,48.8Q280.4,64.1 266.7,71.3Q282.0,65.2 282.3,48.8Z" fill="url(#cv)"/>
<path d="M197.1,55.9Q216.6,52.8 211.7,33.7Q206.9,46.4 197.1,55.9Z" fill="url(#lf1)"/>
<path d="M204.2,30.6Q193.4,45.7 201.9,62.2Q195.4,45.8 204.2,30.6Z" fill="url(#cv)"/>
<path d="M302.2,31.0Q306.7,42.1 307.6,54.0Q315.4,40.1 302.2,31.0Z" fill="url(#lf3)"/>
<path d="M190.5,79.9Q192.3,96.6 208.9,93.7Q200.1,86.2 190.5,79.9Z" fill="url(#lf1)"/>
<path d="M192.5,76.4Q191.9,93.1 207.9,98.0Q193.7,91.8 192.5,76.4Z" fill="url(#bv)"/>
<path d="M250.1,121.2Q260.8,100.5 247.0,81.7Q247.0,101.6 250.1,121.2Z" fill="url(#lf1)"/>
<path d="M288.0,37.1Q308.2,45.8 319.6,27.1Q305.2,36.3 288.0,37.1Z" fill="url(#lf2)"/>
<path d="M303.5,25.3Q303.4,35.7 298.9,45.2Q306.1,36.4 303.5,25.3Z" fill="url(#bv)"/>
<path d="M234.1,119.6Q240.5,109.1 251.0,102.5Q232.7,101.3 234.1,119.6Z" fill="url(#lf1)"/>
<path d="M175.6,63.5Q194.4,66.6 201.6,49.0Q188.4,55.9 175.6,63.5Z" fill="url(#lf3)"/>
<path d="M214.4,113.1Q209.0,124.0 198.5,129.9Q216.8,131.3 214.4,113.1Z" fill="url(#lf2)"/>
<path d="M209.7,108.3Q226.6,98.0 245.9,94.1Q223.7,90.7 209.7,108.3Z" fill="url(#lf0)"/>
<path d="M216.4,113.8Q218.9,99.4 233.2,96.4Q217.3,97.9 216.4,113.8Z" fill="url(#bv)"/>
<path d="M266.9,110.5Q277.7,111.0 287.8,107.1Q275.4,97.0 266.9,110.5Z" fill="url(#lf1)"/>
<path d="M267.6,104.3Q281.2,108.3 288.9,120.1Q283.1,105.7 267.6,104.3Z" fill="url(#bh)"/>
<path d="M227.3,51.1Q236.3,73.2 260.1,71.7Q243.8,61.2 227.3,51.1Z" fill="url(#lf1)"/>
<path d="M301.7,61.4Q311.0,44.0 326.2,31.3Q299.8,34.9 301.7,61.4Z" fill="url(#lf2)"/>
<path d="M277.5,87.2Q280.3,114.1 307.4,112.4Q285.0,108.6 277.5,87.2Z" fill="url(#lf0)"/>
<path d="M289.0,108.9Q289.8,100.6 290.8,92.3Q286.7,100.3 289.0,108.9Z" fill="url(#bv)"/>
<path d="M288.2,53.5Q281.1,64.9 272.4,75.1Q288.3,70.1 288.2,53.5Z" fill="url(#lf0)"/>
<path d="M261.8,90.5Q250.5,76.3 235.9,87.0Q248.8,88.9 261.8,90.5Z" fill="url(#lf1)"/>
<path d="M218.3,78.4Q211.6,91.2 222.4,100.7Q222.1,89.2 218.3,78.4Z" fill="url(#lf2)"/>
<path d="M190.8,44.8Q195.0,58.3 207.8,52.2Q198.8,49.6 190.8,44.8Z" fill="url(#lf1)"/>
<path d="M260.9,11.9Q256.9,21.9 261.6,31.6Q270.0,21.5 260.9,11.9Z" fill="url(#lf1)"/>
<path d="M257.8,18.0Q266.8,23.7 271.3,33.4Q268.5,22.2 257.8,18.0Z" fill="url(#bv)"/>
<path d="M235.3,97.2Q219.5,96.7 204.6,101.8Q221.5,109.4 235.3,97.2Z" fill="url(#lf0)"/>
<path d="M217.8,101.9Q220.0,93.2 228.8,91.4Q218.6,91.8 217.8,101.9Z" fill="url(#ch)"/>
<path d="M247.9,88.6Q265.2,93.1 282.3,98.1Q267.7,83.9 247.9,88.6Z" fill="url(#lf1)"/>
<path d="M227.5,-6.0Q231.5,10.2 247.9,13.2Q238.3,2.9 227.5,-6.0Z" fill="url(#lf0)"/>
<path d="M247.9,19.6Q243.9,5.7 229.9,9.4Q239.2,14.0 247.9,19.6Z" fill="url(#lf3)"/>
<path d="M170.1,56.7Q173.3,72.1 187.7,65.9Q177.3,64.3 170.1,56.7Z" fill="url(#lf1)"/>
<path d="M169.6,61.3Q180.4,65.2 189.3,57.9Q179.9,62.2 169.6,61.3Z" fill="url(#ch)"/>
<path d="M198.1,76.9Q214.6,97.3 236.5,82.8Q216.9,82.6 198.1,76.9Z" fill="url(#lf2)"/>
<path d="M217.6,69.1Q213.6,78.6 220.8,85.9Q215.2,78.3 217.6,69.1Z" fill="url(#bv)"/>
<path d="M209.1,77.3Q215.1,90.5 226.8,82.1Q217.5,81.4 209.1,77.3Z" fill="url(#lf2)"/>
<path d="M257.2,140.2Q252.0,127.1 238.2,129.9Q248.1,134.3 257.2,140.2Z" fill="url(#lf3)"/>
<path d="M235.6,146.3Q243.8,131.7 259.7,126.7Q242.1,129.6 235.6,146.3Z" fill="url(#ch)"/>
<path d="M264.9,-3.3Q248.8,-4.8 244.4,10.8Q255.3,4.7 264.9,-3.3Z" fill="url(#lf0)"/>
<path d="M294.7,83.7Q309.9,78.0 301.0,64.3Q297.6,73.9 294.7,83.7Z" fill="url(#lf3)"/>
<path d="M305.5,64.2Q297.4,73.0 295.8,85.0Q298.9,73.8 305.5,64.2Z" fill="url(#bv)"/>
<path d="M281.2,79.1Q281.8,64.7 289.7,52.7Q274.5,62.3 281.2,79.1Z" fill="url(#lf3)"/>
<path d="M259.7,146.3Q245.3,143.2 232.3,136.4Q241.8,153.0 259.7,146.3Z" fill="url(#lf3)"/>
<path d="M253.3,149.2Q254.0,136.4 241.4,133.6Q251.4,138.3 253.3,149.2Z" fill="url(#bv)"/>
<path d="M217.2,29.9Q224.6,14.7 227.8,-2.0Q211.8,10.4 217.2,29.9Z" fill="url(#lf3)"/>
<path d="M230.9,2.5Q219.0,5.6 220.8,17.8Q221.1,7.0 230.9,2.5Z" fill="url(#bv)"/>
<path d="M285.6,61.2Q271.1,62.3 267.3,76.3Q277.1,69.5 285.6,61.2Z" fill="url(#lf2)"/>
<path d="M218.3,67.8Q240.9,65.4 241.2,42.7Q235.4,60.4 218.3,67.8Z" fill="url(#lf0)"/>
<path d="M310.7,41.5Q306.3,56.3 293.2,64.4Q314.4,62.4 310.7,41.5Z" fill="url(#lf3)"/>
<path d="M273.2,132.4Q257.2,116.1 238.3,128.9Q256.0,128.6 273.2,132.4Z" fill="url(#lf1)"/>
<path d="M249.1,124.4Q258.7,125.2 266.8,130.7Q259.5,123.2 249.1,124.4Z" fill="url(#ch)"/>
<path d="M322.1,60.0Q310.7,50.7 297.1,56.4Q309.4,59.8 322.1,60.0Z" fill="url(#lf0)"/>
<path d="M194.3,45.7Q189.8,65.3 205.1,78.4Q198.3,62.5 194.3,45.7Z" fill="url(#lf2)"/>
<path d="M197.1,68.3Q207.2,63.5 209.6,52.5Q204.7,61.5 197.1,68.3Z" fill="url(#bv)"/>
<path d="M274.8,4.7Q263.2,-5.4 255.2,7.7Q264.8,4.9 274.8,4.7Z" fill="url(#lf2)"/>
<path d="M231.1,77.7Q241.1,78.0 251.0,76.0Q240.4,69.6 231.1,77.7Z" fill="url(#lf2)"/>
<path d="M176.5,34.6Q187.7,38.7 199.5,40.8Q191.2,25.8 176.5,34.6Z" fill="url(#lf3)"/>
<path d="M289.5,67.2Q279.2,60.8 267.1,59.9Q274.7,74.4 289.5,67.2Z" fill="url(#lf3)"/>
<path d="M291.8,87.7Q293.1,69.0 305.8,55.3Q284.8,65.5 291.8,87.7Z" fill="url(#lf3)"/>
<path d="M282.5,66.5Q296.6,60.5 309.1,69.3Q296.9,58.1 282.5,66.5Z" fill="url(#ch)"/>
<path d="M212.3,51.6Q225.2,65.9 235.6,49.7Q224.1,53.0 212.3,51.6Z" fill="url(#lf0)"/>
<path d="M227.1,59.6Q225.4,52.5 226.1,45.3Q222.8,52.7 227.1,59.6Z" fill="url(#bv)"/>
<path d="M247.9,22.7Q232.7,17.4 223.0,30.2Q235.7,27.4 247.9,22.7Z" fill="url(#lf0)"/>
<path d="M230.6,32.8Q242.5,31.2 244.7,19.4Q240.8,29.4 230.6,32.8Z" fill="url(#ch)"/>
<path d="M272.0,67.1Q268.8,52.4 253.8,53.1Q263.4,59.4 272.0,67.1Z" fill="url(#lf2)"/>
<path d="M266.5,77.4Q254.7,66.0 259.9,50.4Q252.6,66.5 266.5,77.4Z" fill="url(#cv)"/>
<path d="M264.4,27.1Q255.2,41.2 239.1,45.9Q260.5,48.2 264.4,27.1Z" fill="url(#lf3)"/>
<path d="M264.7,45.8Q259.2,31.6 244.0,32.6Q258.0,33.5 264.7,45.8Z" fill="url(#ch)"/>
<path d="M232.3,134.7Q247.1,129.3 262.5,132.2Q246.1,117.9 232.3,134.7Z" fill="url(#lf2)"/>
<path d="M220.9,77.4Q240.4,82.0 254.0,67.4Q237.6,72.7 220.9,77.4Z" fill="url(#lf3)"/>
<path d="M243.0,144.1Q238.8,127.4 221.5,127.3Q233.8,133.8 243.0,144.1Z" fill="url(#lf3)"/>
<path d="M294.3,44.2Q295.5,62.8 283.5,77.2Q302.7,65.2 294.3,44.2Z" fill="url(#lf1)"/>
<path d="M294.5,54.3Q285.3,58.5 281.1,67.7Q286.5,59.6 294.5,54.3Z" fill="url(#cv)"/>
<path d="M186.4,23.6Q202.7,21.3 217.4,28.6Q204.0,12.8 186.4,23.6Z" fill="url(#lf0)"/>
<path d="M236.5,138.3Q251.7,126.9 250.4,108.0Q245.1,123.9 236.5,138.3Z" fill="url(#lf2)"/>
<path d="M217.3,120.1Q200.1,125.2 208.5,141.1Q210.0,129.4 217.3,120.1Z" fill="url(#lf2)"/>
<path d="M275.2,61.0Q270.8,78.3 288.6,79.5Q280.5,71.2 275.2,61.0Z" fill="url(#lf3)"/>
<path d="M289.5,77.6Q285.1,69.1 275.8,67.1Q283.7,71.1 289.5,77.6Z" fill="url(#ch)"/>
<path d="M274.4,61.1Q267.1,49.3 269.3,35.6Q258.4,51.0 274.4,61.1Z" fill="url(#lf0)"/>
<path d="M226.1,14.9Q223.9,1.4 210.7,4.6Q218.6,9.4 226.1,14.9Z" fill="url(#lf3)"/>
<path d="M215.7,3.5Q218.4,11.9 213.4,19.2Q220.3,12.1 215.7,3.5Z" fill="url(#cv)"/>
<path d="M308.0,82.6Q308.4,94.0 308.0,105.5Q315.6,94.0 308.0,82.6Z" fill="url(#lf2)"/>
<path d="M303.6,87.1Q310.5,91.5 310.2,99.7Q312.2,90.6 303.6,87.1Z" fill="url(#cv)"/>
<path d="M223.7,55.6Q245.8,56.2 244.6,34.1Q235.8,46.4 223.7,55.6Z" fill="url(#lf1)"/>
<path d="M244.5,46.7Q233.7,47.1 223.9,42.4Q233.1,49.6 244.5,46.7Z" fill="url(#ch)"/>
<path d="M247.9,67.9Q245.4,85.5 240.0,102.5Q257.1,88.2 247.9,67.9Z" fill="url(#lf3)"/>
<path d="M236.6,33.6Q248.0,26.3 256.1,15.4Q240.2,17.9 236.6,33.6Z" fill="url(#lf1)"/>
<path d="M248.2,15.2Q237.2,22.8 243.3,34.6Q238.8,23.2 248.2,15.2Z" fill="url(#bv)"/>
<path d="M228.4,86.3Q222.4,68.6 220.3,50.1Q209.3,71.6 228.4,86.3Z" fill="url(#lf3)"/>
<path d="M232.3,84.9Q225.3,68.3 231.1,51.3Q217.8,68.6 232.3,84.9Z" fill="url(#lf1)"/>
<path d="M225.6,33.1Q211.0,19.5 195.7,6.8Q201.5,30.3 225.6,33.1Z" fill="url(#lf1)"/>
<path d="M260.7,114.7Q250.3,110.0 239.0,111.5Q248.2,124.0 260.7,114.7Z" fill="url(#lf1)"/>
<path d="M255.2,60.7Q267.5,75.5 265.8,94.7Q275.3,73.1 255.2,60.7Z" fill="url(#lf3)"/>
<path d="M320.3,49.6Q316.2,68.5 304.3,83.8Q327.9,74.0 320.3,49.6Z" fill="url(#lf0)"/>
<path d="M235.2,149.6Q236.0,128.8 215.8,123.7Q227.9,134.8 235.2,149.6Z" fill="url(#lf0)"/>
<path d="M225.2,129.3Q231.8,136.8 232.5,146.8Q233.4,136.1 225.2,129.3Z" fill="url(#bv)"/>
<path d="M309.7,81.1Q314.6,63.8 303.2,49.9Q304.7,65.9 309.7,81.1Z" fill="url(#lf3)"/>
<path d="M296.3,63.0Q307.4,68.3 317.1,60.8Q307.2,66.6 296.3,63.0Z" fill="url(#ch)"/>
<path d="M300.1,117.5Q281.1,101.9 262.0,117.5Q281.1,110.4 300.1,117.5Z" fill="url(#lf1)"/>
<path d="M269.6,109.6Q272.2,122.7 285.2,126.1Q274.6,120.4 269.6,109.6Z" fill="url(#cv)"/>
<path d="M186.1,25.0Q202.1,31.8 219.0,36.1Q206.2,19.7 186.1,25.0Z" fill="url(#lf1)"/>
<path d="M279.8,67.2Q269.0,53.2 272.4,35.8Q261.0,55.1 279.8,67.2Z" fill="url(#lf0)"/>
<path d="M242.2,97.7Q252.2,101.5 261.2,107.2Q253.6,98.8 242.2,97.7Z" fill="url(#bh)"/>
<path d="M251.3,24.0Q261.3,27.3 267.8,35.4Q263.4,24.2 251.3,24.0Z" fill="url(#bh)"/>
<path d="M271.6,65.8Q256.4,65.8 247.8,78.4Q258.3,69.5 271.6,65.8Z" fill="url(#ch)"/>
<path d="M278.6,56.4Q275.7,67.5 264.7,70.9Q278.4,70.1 278.6,56.4Z" fill="url(#bv)"/>
<path d="M237.4,105.8Q246.4,108.6 252.0,116.2Q249.0,105.0 237.4,105.8Z" fill="url(#ch)"/>
<path d="M240.4,60.7Q257.8,56.3 260.2,38.5Q255.0,53.8 240.4,60.7Z" fill="url(#bv)"/>
<path d="M300.5,56.1Q312.2,65.0 323.7,55.9Q312.1,60.8 300.5,56.1Z" fill="url(#bh)"/>
<path d="M273.3,119.2Q271.5,107.1 277.8,96.6Q269.2,106.7 273.3,119.2Z" fill="url(#bv)"/>
<path d="M251.8,108.2Q241.6,114.9 229.4,115.9Q242.4,117.3 251.8,108.2Z" fill="url(#ch)"/>
<path d="M201.8,63.2Q187.7,64.6 185.3,78.6Q189.5,66.6 201.8,63.2Z" fill="url(#bh)"/>
<path d="M241.5,73.5Q251.0,72.0 260.7,72.5Q250.9,69.4 241.5,73.5Z" fill="url(#bh)"/>
<path d="M311.1,41.2Q302.0,38.0 294.5,43.9Q302.5,41.1 311.1,41.2Z" fill="url(#bh)"/>
<path d="M221.8,108.4Q209.2,99.7 211.6,84.6Q206.4,100.9 221.8,108.4Z" fill="url(#bv)"/>
<path d="M267.2,63.8Q276.7,75.9 290.5,69.1Q277.3,73.5 267.2,63.8Z" fill="url(#bh)"/>
<path d="M230.0,16.0Q244.2,13.7 253.2,24.9Q245.7,9.6 230.0,16.0Z" fill="url(#bh)"/>
<path d="M178.8,98.8Q195.3,96.0 194.2,79.2Q192.7,93.9 178.8,98.8Z" fill="url(#bv)"/>
<path d="M236.3,56.8Q242.3,63.5 245.6,71.8Q244.1,62.4 236.3,56.8Z" fill="url(#cv)"/>
<path d="M275.8,102.9Q277.9,120.4 295.6,121.5Q279.9,118.4 275.8,102.9Z" fill="url(#bh)"/>
<path d="M229.3,40.2Q220.0,43.7 222.4,53.3Q222.9,45.2 229.3,40.2Z" fill="url(#bv)"/>
<path d="M229.9,86.6Q219.8,91.1 208.9,88.9Q220.2,95.1 229.9,86.6Z" fill="url(#bh)"/>
<path d="M197.7,65.4Q208.2,66.3 216.9,60.3Q207.6,64.1 197.7,65.4Z" fill="url(#bh)"/>
<path d="M195.4,69.7Q184.4,62.5 175.2,71.8Q184.9,66.7 195.4,69.7Z" fill="url(#ch)"/>
<path d="M256.7,87.6Q268.0,80.5 281.3,81.7Q267.2,77.4 256.7,87.6Z" fill="url(#bh)"/>
<path d="M203.5,85.6Q193.0,96.2 196.2,110.7Q195.9,97.0 203.5,85.6Z" fill="url(#bv)"/>
<path d="M243.1,61.9Q251.7,66.4 251.8,76.2Q253.7,65.2 243.1,61.9Z" fill="url(#bv)"/>
<path d="M239.3,13.1Q244.1,19.9 246.0,28.1Q246.7,18.8 239.3,13.1Z" fill="url(#bv)"/>
<path d="M221.6,92.8Q232.7,103.2 247.3,98.9Q233.2,100.9 221.6,92.8Z" fill="url(#bh)"/>
<path d="M282.6,6.2Q275.6,12.6 276.7,22.0Q278.6,13.7 282.6,6.2Z" fill="url(#bv)"/>
<path d="M288.2,53.6Q295.1,59.5 295.2,68.6Q297.9,58.2 288.2,53.6Z" fill="url(#bv)"/>
<path d="M275.0,45.7Q263.7,35.6 248.7,37.8Q262.8,38.7 275.0,45.7Z" fill="url(#bh)"/>
<path d="M182.3,54.3Q173.1,66.5 183.5,77.8Q175.7,66.4 182.3,54.3Z" fill="url(#bv)"/>
<path d="M250.4,79.2Q244.1,90.6 251.3,101.3Q246.6,90.5 250.4,79.2Z" fill="url(#bv)"/>
<path d="M222.9,80.5Q216.4,76.4 211.0,71.0Q214.8,78.4 222.9,80.5Z" fill="url(#bh)"/>
<path d="M193.6,85.5Q205.9,73.5 201.6,57.0Q202.0,72.5 193.6,85.5Z" fill="url(#bv)"/>
<path d="M314.3,51.1Q307.7,64.4 314.2,77.6Q310.0,64.4 314.3,51.1Z" fill="url(#cv)"/>
<path d="M274.3,29.0Q271.5,13.6 257.1,7.5Q269.2,15.4 274.3,29.0Z" fill="url(#bv)"/>
<path d="M308.8,100.0Q303.7,115.4 288.1,119.9Q305.6,117.4 308.8,100.0Z" fill="url(#bh)"/>
<path d="M204.8,61.5Q193.9,68.5 182.3,63.0Q194.2,72.4 204.8,61.5Z" fill="url(#ch)"/>
<path d="M222.2,21.0Q236.8,12.1 231.4,-4.1Q232.8,10.7 222.2,21.0Z" fill="url(#bv)"/>
<path d="M248.1,123.1Q261.0,129.0 274.5,125.1Q261.2,125.8 248.1,123.1Z" fill="url(#bh)"/>
<path d="M245.6,58.2Q244.5,69.4 236.6,77.4Q247.6,70.8 245.6,58.2Z" fill="url(#cv)"/>
<path d="M199.5,135.2Q205.7,127.5 212.9,120.6Q202.6,124.6 199.5,135.2Z" fill="url(#bv)"/>
<path d="M298.7,96.9Q293.1,102.6 285.5,105.2Q294.3,104.5 298.7,96.9Z" fill="url(#ch)"/>
<path d="M198.4,53.4Q194.3,38.1 180.6,30.2Q191.2,40.5 198.4,53.4Z" fill="url(#cv)"/>
<path d="M245.7,49.8Q234.9,44.3 223.3,47.6Q234.6,47.3 245.7,49.8Z" fill="url(#bh)"/>
<path d="M235.1,-1.6Q249.5,4.2 257.3,17.7Q252.0,1.3 235.1,-1.6Z" fill="url(#bh)"/>
<path d="M204.4,37.8Q195.4,46.3 192.4,58.3Q197.3,47.5 204.4,37.8Z" fill="url(#bv)"/>
<path d="M205.2,126.1Q198.0,120.6 194.8,112.2Q195.7,122.3 205.2,126.1Z" fill="url(#bv)"/>
<path d="M229.3,33.7Q222.7,38.2 214.9,36.8Q223.2,40.3 229.3,33.7Z" fill="url(#bh)"/>
<path d="M192.2,68.1Q201.1,65.2 199.3,56.0Q197.3,63.0 192.2,68.1Z" fill="url(#cv)"/>
<path d="M276.3,19.2Q277.0,10.3 283.2,3.9Q273.5,8.7 276.3,19.2Z" fill="url(#cv)"/>
<path d="M279.2,99.6Q266.6,110.3 251.2,104.3Q267.3,114.4 279.2,99.6Z" fill="url(#bh)"/>
<path d="M262.9,124.4Q249.3,124.9 239.4,134.2Q250.8,128.5 262.9,124.4Z" fill="url(#ch)"/>
<path d="M247.2,27.7Q261.1,22.9 275.9,22.5Q260.4,18.9 247.2,27.7Z" fill="url(#bh)"/>
<path d="M222.7,97.1Q218.0,103.9 209.7,103.6Q219.0,105.9 222.7,97.1Z" fill="url(#bh)"/>
<path d="M269.5,86.4Q275.0,94.1 284.2,92.1Q276.4,90.4 269.5,86.4Z" fill="url(#bh)"/>
<path d="M256.9,91.2Q251.9,78.8 252.7,65.3Q249.4,79.2 256.9,91.2Z" fill="url(#cv)"/>
<path d="M235.8,125.4Q222.1,124.9 211.2,133.1Q222.9,127.5 235.8,125.4Z" fill="url(#bh)"/>
<path d="M268.5,46.5Q256.5,40.1 246.8,30.5Q254.0,43.5 268.5,46.5Z" fill="url(#ch)"/>
<path d="M274.6,130.0Q265.8,129.1 259.7,135.6Q266.8,131.7 274.6,130.0Z" fill="url(#ch)"/>
<path d="M283.1,28.4Q276.7,34.4 279.2,42.7Q279.3,35.1 283.1,28.4Z" fill="url(#bv)"/>
<path d="M196.5,44.9Q200.4,36.8 194.7,29.8Q197.8,37.1 196.5,44.9Z" fill="url(#cv)"/>
<path d="M270.9,73.0Q259.0,74.2 254.2,85.1Q261.0,76.9 270.9,73.0Z" fill="url(#ch)"/>
<path d="M230.8,26.1Q230.2,37.0 228.1,47.8Q233.1,37.4 230.8,26.1Z" fill="url(#cv)"/>
<path d="M268.2,114.8Q262.9,101.9 265.4,88.1Q259.5,102.2 268.2,114.8Z" fill="url(#cv)"/>
<path d="M215.3,75.6Q224.1,68.8 225.7,57.7Q221.5,67.3 215.3,75.6Z" fill="url(#cv)"/>
<path d="M237.9,31.6Q244.6,18.6 258.9,15.1Q242.2,15.4 237.9,31.6Z" fill="url(#ch)"/>
<path d="M298.4,56.8Q311.5,47.8 325.7,54.8Q311.2,44.6 298.4,56.8Z" fill="url(#bh)"/>
<path d="M187.6,50.5Q203.8,54.8 206.6,71.4Q206.4,52.5 187.6,50.5Z" fill="url(#bv)"/>
<path d="M266.3,42.0Q269.5,60.1 287.9,60.4Q272.0,57.2 266.3,42.0Z" fill="url(#ch)"/>
<path d="M279.0,87.1Q293.0,76.5 283.3,61.8Q289.0,75.8 279.0,87.1Z" fill="url(#cv)"/>
<path d="M240.2,16.4Q232.6,16.4 225.5,13.8Q231.9,20.6 240.2,16.4Z" fill="url(#bh)"/>
<path d="M226.1,82.3Q231.9,96.5 246.1,102.1Q234.9,93.5 226.1,82.3Z" fill="url(#bh)"/>
<path d="M246.6,50.9Q236.4,48.4 227.6,54.2Q236.9,51.3 246.6,50.9Z" fill="url(#ch)"/>
<path d="M308.9,34.1Q313.4,47.9 312.8,62.3Q317.3,47.3 308.9,34.1Z" fill="url(#bv)"/>
<path d="M196.7,89.6Q188.2,80.6 182.6,69.5Q186.0,82.1 196.7,89.6Z" fill="url(#bv)"/>
<path d="M304.4,60.3Q320.8,62.4 327.9,77.4Q322.9,59.5 304.4,60.3Z" fill="url(#ch)"/>
<path d="M211.5,63.6Q201.6,62.5 195.4,54.6Q199.5,66.2 211.5,63.6Z" fill="url(#bh)"/>
<path d="M254.3,16.6Q252.1,4.9 253.0,-7.0Q248.4,5.1 254.3,16.6Z" fill="url(#bv)"/>
<path d="M278.2,134.2Q282.2,124.6 273.4,119.0Q280.2,125.2 278.2,134.2Z" fill="url(#cv)"/>
<path d="M223.8,76.2Q227.5,63.4 237.3,54.3Q224.1,61.3 223.8,76.2Z" fill="url(#bv)"/>
<path d="M255.4,19.8Q244.1,30.4 228.7,29.1Q245.5,34.5 255.4,19.8Z" fill="url(#bh)"/>
<path d="M243.2,69.5Q226.2,73.2 221.6,90.0Q228.8,76.0 243.2,69.5Z" fill="url(#bh)"/>
<path d="M267.8,99.4Q265.3,117.4 282.9,121.9Q268.4,115.3 267.8,99.4Z" fill="url(#bv)"/>
<path d="M283.8,115.2Q297.7,121.0 301.9,135.4Q300.2,118.7 283.8,115.2Z" fill="url(#bv)"/>
<path d="M207.9,25.1Q204.5,37.0 195.3,45.2Q206.9,38.5 207.9,25.1Z" fill="url(#bv)"/>
<path d="M285.7,30.2Q278.8,35.1 271.0,31.6Q279.1,38.2 285.7,30.2Z" fill="url(#ch)"/>
<path d="M232.0,84.2Q244.9,79.5 247.6,66.1Q242.2,77.2 232.0,84.2Z" fill="url(#bv)"/>
<path d="M220.1,31.2Q229.0,39.7 227.1,51.9Q232.0,38.7 220.1,31.2Z" fill="url(#bv)"/>
<path d="M188.2,79.5Q180.5,87.0 178.9,97.6Q182.3,87.9 188.2,79.5Z" fill="url(#bv)"/>
<path d="M223.3,83.7Q210.4,92.4 214.7,107.3Q212.5,93.1 223.3,83.7Z" fill="url(#bv)"/>
<path d="M197.6,48.6Q210.0,40.9 224.1,44.8Q209.6,38.1 197.6,48.6Z" fill="url(#ch)"/>
<path d="M251.7,72.2Q240.8,79.0 246.8,90.4Q244.8,80.1 251.7,72.2Z" fill="url(#bv)"/>
<path d="M244.5,116.6Q246.8,124.8 241.2,131.3Q249.5,125.4 244.5,116.6Z" fill="url(#bv)"/>
<path d="M214.0,109.5Q213.9,99.2 222.8,93.8Q212.0,98.1 214.0,109.5Z" fill="url(#bv)"/>
<path d="M217.4,35.2Q209.6,30.6 201.3,34.2Q209.3,34.9 217.4,35.2Z" fill="url(#ch)"/>
<path d="M231.7,73.2Q227.1,86.7 236.6,97.4Q229.7,86.2 231.7,73.2Z" fill="url(#cv)"/>
<path d="M212.8,133.8Q231.9,134.4 234.7,115.5Q229.1,131.1 212.8,133.8Z" fill="url(#ch)"/>
<path d="M285.9,103.9Q292.7,100.2 300.3,99.1Q292.0,98.1 285.9,103.9Z" fill="url(#bh)"/>
<path d="M235.5,81.3Q252.5,80.6 255.7,63.9Q251.1,79.0 235.5,81.3Z" fill="url(#ch)"/>
<path d="M299.1,86.5Q305.1,82.1 312.2,79.9Q303.6,79.2 299.1,86.5Z" fill="url(#bh)"/>
<path d="M247.3,27.9Q230.2,25.1 224.7,41.5Q232.0,28.0 247.3,27.9Z" fill="url(#bh)"/>
<path d="M274.9,34.1Q281.5,45.7 284.5,58.6Q284.2,44.6 274.9,34.1Z" fill="url(#bv)"/>
<path d="M242.6,-6.4Q254.0,0.4 254.8,13.7Q255.9,-0.7 242.6,-6.4Z" fill="url(#cv)"/>
<path d="M197.0,16.3Q204.0,24.6 200.4,34.7Q206.5,24.1 197.0,16.3Z" fill="url(#bv)"/>
<path d="M206.5,65.6Q205.5,76.0 198.8,83.9Q209.4,77.6 206.5,65.6Z" fill="url(#bv)"/>
<path d="M206.9,70.6Q209.8,82.4 207.8,94.5Q213.0,82.3 206.9,70.6Z" fill="url(#bv)"/>
<path d="M293.8,22.4Q285.3,14.5 276.6,22.1Q285.3,17.2 293.8,22.4Z" fill="url(#bh)"/>
<path d="M223.6,64.9Q229.3,76.4 241.7,73.0Q231.0,72.6 223.6,64.9Z" fill="url(#bh)"/>
<path d="M276.2,37.2Q274.5,45.7 280.6,51.9Q277.3,44.9 276.2,37.2Z" fill="url(#bv)"/>
<path d="M246.8,109.0Q251.2,118.9 262.1,119.9Q252.6,117.1 246.8,109.0Z" fill="url(#bh)"/>
<path d="M262.2,121.3Q247.2,123.8 237.1,112.4Q246.5,125.7 262.2,121.3Z" fill="url(#bh)"/>
<path d="M238.4,33.5Q239.4,42.4 235.0,50.3Q242.5,43.1 238.4,33.5Z" fill="url(#cv)"/>
<path d="M229.8,87.3Q241.3,85.7 239.1,74.4Q237.8,83.3 229.8,87.3Z" fill="url(#bv)"/>
<path d="M262.2,124.9Q276.9,119.5 291.2,125.7Q276.9,117.0 262.2,124.9Z" fill="url(#ch)"/>
<path d="M272.8,30.0Q263.8,23.3 259.2,13.1Q262.0,24.8 272.8,30.0Z" fill="url(#bv)"/>
<path d="M192.6,31.6Q195.0,47.2 210.1,52.0Q198.0,44.6 192.6,31.6Z" fill="url(#cv)"/>
<path d="M231.2,86.7Q247.5,78.0 241.2,60.6Q244.1,76.7 231.2,86.7Z" fill="url(#bv)"/>
<path d="M288.0,7.0Q284.6,20.9 272.8,29.2Q286.6,22.4 288.0,7.0Z" fill="url(#cv)"/>
<path d="M173.2,91.5Q185.1,89.6 185.7,77.6Q182.9,87.6 173.2,91.5Z" fill="url(#cv)"/>
<path d="M244.6,128.5Q228.6,127.5 217.7,115.8Q226.9,131.2 244.6,128.5Z" fill="url(#bh)"/>
<path d="M288.4,99.0Q288.0,90.4 294.8,85.1Q285.3,89.1 288.4,99.0Z" fill="url(#cv)"/>
<path d="M196.1,81.2Q180.3,76.7 175.1,61.1Q178.7,78.4 196.1,81.2Z" fill="url(#bh)"/>
<path d="M265.4,76.5Q272.5,80.5 275.3,88.1Q274.8,78.5 265.4,76.5Z" fill="url(#cv)"/>
<path d="M229.5,68.5Q221.6,63.7 213.7,59.1Q219.6,67.2 229.5,68.5Z" fill="url(#ch)"/>
<path d="M190.4,85.3Q192.6,100.0 188.7,114.4Q196.1,100.2 190.4,85.3Z" fill="url(#cv)"/>
<path d="M182.6,108.6Q191.3,108.5 199.8,110.4Q191.5,106.1 182.6,108.6Z" fill="url(#ch)"/>
<path d="M261.7,87.8Q258.7,73.6 244.2,72.5Q257.0,75.6 261.7,87.8Z" fill="url(#bh)"/>
<path d="M236.9,140.3Q237.3,130.1 229.1,124.0Q233.6,131.8 236.9,140.3Z" fill="url(#bv)"/>
<path d="M207.9,47.5Q220.6,51.4 226.3,63.4Q222.4,49.4 207.9,47.5Z" fill="url(#bh)"/>
<path d="M248.7,108.3Q254.4,95.3 249.5,81.9Q252.1,95.2 248.7,108.3Z" fill="url(#bv)"/>
<path d="M264.7,22.6Q275.8,10.8 292.0,10.8Q274.4,7.6 264.7,22.6Z" fill="url(#ch)"/>
<path d="M299.2,99.2Q294.3,107.9 284.8,110.8Q297.0,111.3 299.2,99.2Z" fill="url(#bh)"/>
<path d="M227.7,50.8Q235.4,45.1 233.1,35.8Q233.2,44.3 227.7,50.8Z" fill="url(#bv)"/>
<path d="M260.5,65.9Q256.0,57.6 246.7,56.4Q253.8,60.8 260.5,65.9Z" fill="url(#ch)"/>
<path d="M250.8,85.3Q234.4,87.7 227.8,102.9Q235.7,89.4 250.8,85.3Z" fill="url(#bh)"/>
<path d="M273.5,81.4Q278.2,89.5 279.9,98.7Q280.6,88.6 273.5,81.4Z" fill="url(#bv)"/>
<path d="M286.1,121.1Q274.8,125.2 262.7,124.0Q275.2,128.7 286.1,121.1Z" fill="url(#ch)"/>
<path d="M189.5,68.9Q200.5,70.8 206.2,61.2Q199.6,68.8 189.5,68.9Z" fill="url(#bh)"/>
<path d="M258.3,40.6Q248.9,43.0 239.4,41.5Q249.1,46.9 258.3,40.6Z" fill="url(#bh)"/>
<path d="M308.2,57.5Q298.5,69.2 285.8,77.4Q300.8,71.8 308.2,57.5Z" fill="url(#ch)"/>
<path d="M209.1,36.2Q194.8,32.9 187.2,45.5Q196.3,36.4 209.1,36.2Z" fill="url(#bh)"/>
<path d="M219.4,46.5Q224.3,32.7 237.0,25.3Q222.3,31.0 219.4,46.5Z" fill="url(#bv)"/>
<path d="M214.0,66.8Q221.3,75.4 225.3,86.0Q223.8,74.0 214.0,66.8Z" fill="url(#bv)"/>
<path d="M274.9,128.1Q272.4,119.1 264.7,113.8Q270.2,120.7 274.9,128.1Z" fill="url(#bv)"/>
<path d="M281.1,37.1Q281.6,50.9 293.6,57.9Q284.3,49.3 281.1,37.1Z" fill="url(#cv)"/>
<path d="M274.9,59.4Q266.1,50.0 253.5,52.1Q265.1,53.0 274.9,59.4Z" fill="url(#bh)"/>
<path d="M221.5,41.1Q229.4,32.4 241.0,30.3Q227.8,29.4 221.5,41.1Z" fill="url(#ch)"/>
<path d="M206.5,67.8Q197.0,71.6 196.3,81.8Q199.1,73.1 206.5,67.8Z" fill="url(#bv)"/>
<path d="M173.1,85.3Q187.4,90.2 199.7,81.4Q187.1,87.6 173.1,85.3Z" fill="url(#ch)"/>
<path d="M229.3,37.6Q242.4,32.3 245.2,18.4Q240.4,30.6 229.3,37.6Z" fill="url(#cv)"/>
<path d="M219.8,98.0Q214.0,105.0 204.8,104.5Q215.6,108.9 219.8,98.0Z" fill="url(#bh)"/>
<path d="M256.7,117.9Q268.0,117.8 267.9,106.5Q265.6,115.5 256.7,117.9Z" fill="url(#bv)"/>
<path d="M273.3,53.4Q270.6,64.1 263.4,72.4Q274.4,66.1 273.3,53.4Z" fill="url(#cv)"/>
<path d="M189.5,83.5Q176.3,81.4 169.0,70.3Q174.1,84.8 189.5,83.5Z" fill="url(#bh)"/>
<path d="M217.9,73.9Q207.6,81.8 194.9,85.1Q208.9,84.5 217.9,73.9Z" fill="url(#ch)"/>
<path d="M255.6,30.0Q247.7,25.5 242.2,18.4Q246.3,27.1 255.6,30.0Z" fill="url(#bh)"/>
<path d="M230.7,79.3Q230.8,86.4 229.5,93.5Q235.1,86.8 230.7,79.3Z" fill="url(#cv)"/>
<path d="M205.1,93.5Q196.1,89.9 194.8,80.2Q194.4,91.2 205.1,93.5Z" fill="url(#bv)"/>
<path d="M291.6,107.5Q297.2,99.5 293.4,90.5Q294.6,99.2 291.6,107.5Z" fill="url(#cv)"/>
<path d="M229.7,12.8Q220.3,0.6 206.4,7.1Q219.6,3.6 229.7,12.8Z" fill="url(#bh)"/>
<path d="M308.3,66.8Q304.5,81.6 313.0,94.2Q306.7,81.2 308.3,66.8Z" fill="url(#cv)"/>
<path d="M188.6,113.2Q203.2,100.3 192.0,84.3Q200.1,99.9 188.6,113.2Z" fill="url(#cv)"/>
<path d="M294.2,99.9Q277.4,108.1 282.5,126.1Q280.7,109.6 294.2,99.9Z" fill="url(#bv)"/>
<path d="M242.3,58.7Q241.2,73.1 255.4,76.0Q243.8,71.1 242.3,58.7Z" fill="url(#bv)"/>
<path d="M258.0,122.4Q245.4,120.5 239.4,131.8Q247.1,123.8 258.0,122.4Z" fill="url(#bh)"/>
<path d="M204.4,83.1Q189.7,81.4 182.9,68.4Q188.0,83.9 204.4,83.1Z" fill="url(#bh)"/>
<path d="M188.4,53.6Q182.8,43.5 188.4,33.3Q178.8,43.5 188.4,53.6Z" fill="url(#cv)"/>
<path d="M230.3,75.2Q241.3,83.5 255.0,82.4Q242.3,80.1 230.3,75.2Z" fill="url(#bh)"/>
<path d="M283.9,77.7Q297.9,73.8 310.7,80.6Q298.3,70.7 283.9,77.7Z" fill="url(#bh)"/>
<rect x="180" y="5" width="136" height="136" fill="url(#cshade)"/>
<circle cx="203.0" cy="51.3" r="2.2" fill="url(#pk)"/>
<circle cx="201.4" cy="78.5" r="2.2" fill="url(#pk)"/>
<circle cx="204.2" cy="88.6" r="2.2" fill="url(#pk)"/>
<circle cx="222.3" cy="17.5" r="2.2" fill="url(#pk)"/>
<circle cx="212.6" cy="41.8" r="2.2" fill="url(#pk)"/>
<circle cx="225.3" cy="53.7" r="2.2" fill="url(#pk)"/>
<circle cx="215.9" cy="76.9" r="2.2" fill="url(#pk)"/>
<circle cx="225.8" cy="94.9" r="2.2" fill="url(#pk)"/>
<circle cx="218.7" cy="113.5" r="2.2" fill="url(#pk)"/>
<circle cx="222.1" cy="121.5" r="2.2" fill="url(#pk)"/>
<circle cx="238.5" cy="22.3" r="2.2" fill="url(#pk)"/>
<circle cx="232.7" cy="39.6" r="2.2" fill="url(#pk)"/>
<circle cx="238.9" cy="52.2" r="2.2" fill="url(#pk)"/>
<circle cx="226.1" cy="70.8" r="2.2" fill="url(#pk)"/>
<circle cx="235.5" cy="84.9" r="2.2" fill="url(#pk)"/>
<circle cx="229.1" cy="109.3" r="2.2" fill="url(#pk)"/>
<circle cx="236.1" cy="130.3" r="2.2" fill="url(#pk)"/>
<circle cx="258.4" cy="18.9" r="2.2" fill="url(#pk)"/>
<circle cx="262.3" cy="56.8" r="2.2" fill="url(#pk)"/>
<circle cx="252.7" cy="67.0" r="2.2" fill="url(#pk)"/>
<circle cx="257.5" cy="91.9" r="2.2" fill="url(#pk)"/>
<circle cx="249.6" cy="112.7" r="2.2" fill="url(#pk)"/>
<circle cx="255.9" cy="122.2" r="2.2" fill="url(#pk)"/>
<circle cx="273.5" cy="18.0" r="2.2" fill="url(#pk)"/>
<circle cx="269.4" cy="32.2" r="2.2" fill="url(#pk)"/>
<circle cx="271.5" cy="60.7" r="2.2" fill="url(#pk)"/>
<circle cx="262.4" cy="70.2" r="2.2" fill="url(#pk)"/>
<circle cx="280.1" cy="88.0" r="2.2" fill="url(#pk)"/>
<circle cx="265.2" cy="109.7" r="2.2" fill="url(#pk)"/>
<circle cx="277.1" cy="120.9" r="2.2" fill="url(#pk)"/>
<circle cx="283.9" cy="40.5" r="2.2" fill="url(#pk)"/>
<circle cx="291.5" cy="60.4" r="2.2" fill="url(#pk)"/>
<circle cx="281.7" cy="77.2" r="2.2" fill="url(#pk)"/>
<circle cx="289.3" cy="94.5" r="2.2" fill="url(#pk)"/>
<circle cx="287.0" cy="110.3" r="2.2" fill="url(#pk)"/>
<circle cx="302.2" cy="78.4" r="2.2" fill="url(#pk)"/>
<circle cx="296.3" cy="109.3" r="2.2" fill="url(#pk)"/>
</g>
<circle cx="248" cy="73" r="65.6" fill="none" stroke="#8a8a8a" stroke-width="0.8"/>
<circle cx="248" cy="73" r="66.7" fill="none" stroke="#c8303c" stroke-width="0.9" stroke-dasharray="2,1.2"/>
<rect x="326.8" y="8.2" width="154" height="141.7" fill="#555" filter="url(#sem1)"/>
<g clip-path="url(#s1c)">
<path d="M360.7 117.3Q361.4 113.9 362.2 111.2M424.6 90.2Q422.3 90.5 417.0 92.1M357.0 19.8Q363.9 16.7 365.6 13.1M416.8 17.8Q413.4 15.2 412.7 13.1M380.7 135.9Q381.4 133.2 385.1 132.8M398.4 79.9Q397.5 77.6 394.4 77.9M411.8 134.4Q409.1 136.9 404.5 139.2M369.9 37.6Q371.4 40.4 370.6 43.7M369.6 123.0Q366.7 119.5 360.6 120.8M480.5 18.9Q482.7 12.4 483.1 9.9M472.3 57.3Q468.4 59.1 463.2 56.0M465.7 136.3Q465.5 142.7 467.3 146.2M428.9 140.1Q431.5 136.8 429.7 132.6M427.9 91.5Q423.0 94.5 422.2 96.9M472.1 82.1Q478.9 83.2 481.3 86.0M402.6 149.3Q404.5 152.7 403.5 155.9M347.0 93.0Q343.3 89.8 341.6 90.0M411.5 67.4Q412.6 72.9 415.1 76.7M396.5 107.8Q399.0 110.8 403.2 115.9M431.5 148.7Q428.4 143.4 429.0 139.0M388.3 20.6Q387.1 22.2 386.7 25.3M372.9 42.5Q370.9 41.2 370.1 38.0M366.9 33.1Q365.7 38.5 369.9 44.0M367.8 62.5Q369.5 63.7 371.6 69.1M413.8 64.8Q417.2 65.3 420.6 63.5M327.5 110.9Q330.6 111.5 331.4 113.1M432.5 30.1Q431.1 25.9 432.3 21.5M458.1 55.2Q462.1 57.1 464.2 57.7M467.2 125.0Q469.8 121.7 468.9 116.1M457.0 96.4Q452.4 99.1 450.6 102.7M433.8 60.9Q436.3 57.1 434.1 51.4M468.9 76.8Q465.4 72.8 465.2 69.4M405.8 105.8Q405.9 107.1 404.5 112.1M355.8 144.7Q353.3 145.0 346.7 143.1M396.6 128.2Q392.5 128.6 391.0 130.6M349.0 22.8Q346.9 24.6 337.9 25.9M327.2 89.0Q322.1 90.6 319.2 95.5M374.9 114.7Q371.1 116.2 368.3 116.1M385.8 119.0Q387.3 120.2 392.2 119.0M462.1 90.1Q456.0 88.9 454.9 82.6M395.7 103.9Q388.7 106.4 385.1 104.6M435.1 113.2Q442.1 114.0 444.0 111.8M377.3 81.0Q376.6 78.2 377.1 72.9M395.8 105.9Q398.6 103.2 400.1 102.8M338.8 95.4Q339.5 94.2 344.4 90.2M447.7 48.9Q448.9 48.6 451.1 46.2M403.4 143.8Q401.3 141.5 400.7 133.4M399.4 23.4Q400.1 28.0 404.5 33.1M402.5 131.7Q403.5 128.7 407.9 128.0M439.2 102.8Q440.1 107.6 446.3 111.8M475.4 107.3Q479.1 103.3 485.5 104.5M432.3 16.0Q430.0 19.2 430.7 21.2M354.0 114.8Q353.7 109.8 352.4 103.0M385.2 25.5Q382.3 22.5 382.2 16.4M459.9 62.7Q455.7 68.1 451.8 69.3M471.3 146.9Q470.1 139.8 470.6 136.2M393.9 30.6Q396.2 30.7 400.6 34.2M452.4 89.7Q449.9 87.3 443.2 85.7M398.6 8.9Q402.2 11.5 401.7 15.5M393.9 27.8Q391.8 29.1 386.4 28.0M372.1 73.7Q372.2 69.0 366.2 63.9M360.0 148.7Q366.7 150.1 369.3 146.1M467.9 49.0Q471.3 48.8 472.3 47.5M470.4 27.9Q470.2 20.6 464.0 19.3M400.0 130.2Q396.8 132.2 394.3 137.2M426.3 95.1Q430.5 94.5 434.7 94.6M339.4 26.2Q334.4 24.3 331.8 22.6M479.6 147.4Q476.6 150.1 474.5 149.6M471.6 79.8Q469.7 78.4 466.8 74.7M372.5 53.3Q370.4 56.1 370.0 56.6M468.4 103.6Q469.0 100.2 469.2 92.0M402.3 61.2Q401.7 65.9 402.9 73.1M415.3 69.3Q411.2 69.4 409.3 66.9M465.8 50.3Q466.6 53.8 464.9 54.7M340.8 95.7Q340.2 89.4 340.0 86.7M423.7 117.6Q421.2 119.2 421.9 124.3M359.3 75.7Q355.4 71.8 350.4 69.4M387.9 110.4Q382.3 110.7 380.7 115.6M399.4 67.8Q395.8 65.2 394.2 65.1M448.1 87.3Q453.7 89.5 459.6 88.2M339.2 97.0Q337.1 95.5 335.4 94.6M348.4 112.2Q346.6 116.1 345.6 118.4M416.7 78.2Q415.3 81.2 408.8 84.6M418.4 28.4Q419.9 28.2 425.4 26.7M392.8 106.9Q386.8 103.3 385.2 98.1M400.9 138.2Q399.1 134.2 396.8 133.8M355.8 92.9Q357.6 97.0 361.4 99.1M477.0 120.2Q472.6 117.1 468.2 116.6M472.2 64.8Q471.1 68.6 472.0 72.7M426.2 28.8Q423.3 30.1 420.3 30.7M391.6 68.7Q393.1 65.9 392.3 63.3M326.8 94.6Q326.3 90.1 326.1 88.1M480.5 72.6Q474.8 74.9 474.4 82.1M346.0 122.6Q339.9 122.0 336.5 127.2M400.1 121.1Q396.9 120.5 395.8 120.5M399.0 9.5Q403.0 8.5 404.0 3.5M396.7 60.0Q394.9 64.5 397.4 68.2M360.3 60.0Q357.1 65.0 356.9 67.2M403.2 110.4Q405.8 108.3 409.3 107.5M409.9 70.9Q413.5 73.9 415.5 80.0M433.2 139.3Q434.9 138.5 436.8 134.4M468.8 148.2Q467.5 150.4 465.7 151.2M418.1 135.5Q419.8 138.6 419.1 140.8M423.0 17.4Q423.2 19.0 426.0 20.7M404.1 51.4Q405.3 54.8 406.5 56.0M373.3 47.1Q372.7 45.2 374.0 38.9M370.3 104.5Q364.9 107.1 364.2 111.0M397.5 38.1Q401.4 36.5 408.2 40.4M428.4 20.5Q424.1 21.7 418.6 18.4M349.0 137.2Q346.4 139.1 340.9 136.8M458.4 85.4Q462.4 85.3 470.1 88.1M409.3 93.0Q408.8 96.2 407.3 97.2M335.5 33.9Q331.0 27.9 325.3 28.7M336.5 124.4Q340.9 125.4 345.3 124.2M355.2 114.8Q355.9 111.4 361.1 105.8M361.4 38.1Q363.7 39.0 373.0 35.0M426.2 67.6Q428.0 70.3 432.7 73.2M343.0 107.4Q348.2 104.2 354.9 107.0M407.8 15.9Q401.9 17.4 396.7 14.1M388.0 115.9Q389.6 117.7 388.5 123.9M330.5 57.6Q328.5 53.2 325.5 51.5M359.5 130.0Q352.8 133.2 349.4 133.5M358.6 23.4Q360.3 23.5 362.7 24.1M359.8 129.5Q358.1 127.1 360.3 120.0M327.7 13.1Q325.5 11.4 323.9 11.4M463.4 18.9Q464.6 17.5 467.5 17.1M375.8 94.9Q373.8 93.0 372.1 93.2M420.2 55.7Q419.9 57.0 417.6 61.5M345.4 53.1Q352.9 55.7 354.7 57.2M443.1 83.0Q444.9 83.9 448.6 87.6M423.5 82.4Q424.6 83.6 427.8 82.8M427.9 147.1Q427.4 154.5 425.0 156.2M431.6 52.7Q424.2 55.2 421.6 52.8M435.7 8.3Q437.9 14.0 435.8 17.2M439.3 119.7Q438.2 116.9 437.9 110.8M346.5 146.2Q352.3 142.0 353.4 138.8M475.0 96.4Q476.0 94.2 478.7 89.2M394.2 131.5Q391.2 129.2 384.9 129.6M480.2 58.5Q481.6 63.5 483.1 66.7M466.8 78.7Q470.7 78.0 473.8 75.6M383.4 60.0Q386.5 56.2 386.2 54.9M374.3 29.9Q372.9 32.9 372.9 34.4M414.7 143.8Q418.1 146.6 422.3 150.9M443.2 53.1Q439.8 51.9 438.5 53.2M425.7 107.2Q420.3 107.7 418.0 103.3M376.0 64.7Q371.9 60.7 374.1 53.1M467.6 28.3Q468.2 25.9 471.3 25.2M381.2 18.9Q383.1 16.3 385.5 16.3M378.1 121.6Q377.3 124.6 378.2 127.1M436.1 72.9Q435.4 69.3 439.8 63.2M404.4 131.5Q408.9 133.2 410.3 133.6M364.1 110.6Q362.9 114.1 365.1 118.8M441.9 100.0Q447.2 100.9 449.0 99.0M411.7 147.9Q419.4 152.8 421.3 154.9M398.6 49.7Q399.1 45.9 397.6 40.8M339.1 63.5Q338.5 69.2 334.1 70.7M474.7 17.0Q478.0 14.0 482.9 13.7M427.7 19.2Q428.1 24.1 431.9 26.2M426.8 105.0Q432.8 107.8 433.7 114.1M382.6 145.5Q380.8 143.6 381.4 141.6M473.1 87.2Q473.0 83.0 477.2 78.4M383.9 43.8Q390.8 40.0 393.2 38.4M402.4 134.0Q406.8 132.2 410.3 133.3M388.9 116.8Q390.3 115.6 390.2 112.7M396.7 14.1Q401.3 13.6 405.4 18.7M327.1 40.0Q327.7 32.8 327.7 30.9M364.0 113.6Q362.2 116.0 358.0 118.3M479.5 19.5Q475.1 24.3 475.4 26.9M418.4 100.6Q419.7 98.3 418.5 96.4M331.8 39.8Q330.3 35.1 331.0 30.7M391.0 133.8Q398.2 132.0 400.7 130.9M339.1 21.1Q341.3 21.8 342.7 24.2M423.5 25.8Q430.0 29.2 434.0 28.7M459.8 86.2Q452.9 88.8 451.0 91.0M399.9 121.6Q395.6 119.5 396.8 111.5M378.8 146.8Q376.9 138.8 378.6 135.2M452.8 57.9Q457.0 60.4 462.6 57.6M400.2 145.8Q395.4 142.3 395.3 139.5M408.7 68.8Q408.1 68.2 405.8 65.1M342.6 95.7Q342.4 90.6 346.9 87.8M431.1 16.9Q430.8 14.1 427.0 10.9M400.0 123.1Q395.0 122.0 393.5 124.7M350.9 57.0Q354.4 57.7 356.7 62.0M360.3 107.4Q356.4 110.5 353.1 112.1M340.8 96.7Q340.3 100.3 340.2 106.1M477.2 75.3Q475.4 75.4 473.8 78.2M357.0 131.3Q352.4 134.1 348.2 132.6M350.8 63.4Q348.6 63.5 341.6 59.5M458.6 127.3Q460.3 133.1 461.4 137.8M464.9 119.7Q464.1 118.3 461.0 118.1M371.5 134.3Q372.3 136.6 374.5 139.3M396.8 77.4Q396.8 74.9 397.3 73.2M340.0 56.0Q339.2 54.2 333.8 48.5M469.7 79.6Q471.6 79.7 475.7 79.6M455.8 25.9Q451.9 25.8 446.2 23.8M380.4 27.3Q377.3 28.0 372.0 29.6M326.8 8.1Q323.0 6.8 318.5 7.8M402.4 86.0Q404.5 85.5 406.8 83.6M329.0 86.2Q327.0 85.4 323.3 79.2M379.2 67.8Q384.6 68.0 388.8 69.4M471.3 103.8Q475.2 105.2 481.3 109.0M355.6 147.9Q353.8 152.1 351.1 158.4M445.1 114.9Q448.4 111.4 451.7 107.1M365.1 66.6Q358.6 64.0 353.6 64.1M365.8 70.9Q365.0 68.8 366.5 66.4M438.5 67.3Q437.1 65.5 434.0 65.8M396.4 116.2Q399.9 115.7 403.1 117.9M387.6 119.2Q390.3 118.1 392.3 119.5M440.4 99.9Q439.9 95.7 437.8 92.2M371.1 19.3Q373.5 22.4 370.1 29.6M399.3 141.3Q396.2 138.9 393.0 138.1M368.2 77.2Q369.2 78.7 372.5 78.6M421.7 85.9Q413.7 84.7 409.9 85.7M450.9 86.4Q449.3 87.5 445.7 87.4M367.8 14.4Q367.6 19.2 364.9 23.2M334.5 42.9Q336.5 41.3 337.5 37.9M456.9 77.3Q456.9 79.4 458.2 84.2M439.8 127.8Q443.8 126.5 445.4 128.3M380.2 24.8Q381.2 26.6 387.3 33.8M426.2 141.7Q429.6 137.2 429.5 135.4M428.5 91.1Q437.5 90.2 439.5 95.4M358.0 145.5Q355.9 147.6 349.3 146.4M472.0 12.1Q469.2 9.8 466.7 8.9M384.9 81.2Q383.5 88.1 388.3 91.5M368.9 29.5Q368.7 26.7 367.1 24.8M395.2 9.8Q395.8 13.9 395.9 21.0M471.7 142.5Q464.0 146.8 461.6 147.7M358.2 113.1Q355.9 115.5 351.7 114.6M367.4 24.8Q366.5 20.1 367.2 16.5M442.8 139.6Q438.4 138.4 434.4 140.9M398.7 27.8Q394.2 25.2 393.3 23.6M473.8 17.8Q468.9 23.4 468.5 25.0M439.9 50.3Q436.4 48.7 431.2 47.2M438.6 104.4Q439.5 108.9 437.1 112.1M368.6 115.0Q363.4 110.5 362.7 104.6M327.8 125.7Q328.7 122.3 327.2 120.7M370.2 110.8Q370.4 108.6 370.8 104.8M441.5 128.2Q444.1 124.4 446.5 123.8M446.2 100.6Q451.4 101.7 451.4 108.4M393.5 25.1Q394.3 22.1 397.5 19.7M461.7 131.5Q456.7 131.1 455.4 129.1M448.8 77.2Q451.2 76.4 451.7 74.3M366.8 103.9Q363.5 106.1 359.0 110.8M458.5 99.4Q454.5 104.2 456.1 109.3M408.4 41.2Q408.9 47.8 412.7 50.8M446.4 80.8Q443.4 79.6 441.5 80.0M337.0 86.1Q336.1 88.7 337.7 90.7M469.9 82.8Q468.6 81.8 467.1 79.0M420.9 121.2Q419.4 115.4 421.6 113.9M439.5 150.0Q442.6 149.9 444.6 148.0M437.4 115.7Q438.0 114.6 439.3 110.9M474.2 88.1Q473.8 85.4 474.2 78.3M359.2 122.4Q357.8 124.6 352.7 123.0M441.2 88.8Q443.3 90.2 444.9 91.4M356.7 24.7Q359.7 24.4 361.5 23.0M452.3 121.3Q452.0 126.5 446.7 130.6M422.8 79.7Q423.3 82.2 420.5 84.8M395.3 13.4Q395.4 17.6 399.8 21.2M417.8 43.8Q419.2 40.8 419.0 38.9M352.0 80.0Q351.5 85.5 354.3 87.4M385.3 90.0Q382.1 90.2 375.8 86.7M406.2 132.0Q400.0 136.8 396.8 136.8M419.3 66.4Q421.7 66.8 429.8 65.4M451.7 72.3Q455.2 72.0 460.6 75.6M382.6 114.3Q385.9 111.8 389.0 107.3M341.6 73.0Q344.4 71.9 344.7 66.7M439.8 129.6Q440.3 131.7 439.4 135.2M465.2 79.3Q467.1 81.5 466.3 86.5M402.7 144.2Q406.1 143.4 411.6 143.6M463.3 119.2Q461.6 120.3 458.8 121.3M358.4 12.5Q355.0 15.0 355.4 18.3M416.8 137.1Q416.1 135.0 416.4 132.3M455.2 89.7Q453.9 88.1 450.5 82.4M446.1 145.8Q447.0 143.9 449.8 143.8M394.8 33.2Q398.2 33.7 399.7 31.5M468.5 98.5Q459.9 99.5 456.7 98.4M433.4 42.9Q436.3 44.6 439.5 43.8M384.4 14.4Q380.7 18.0 379.3 19.2M456.7 10.6Q462.6 8.5 464.3 3.6M362.8 124.8Q366.3 122.7 367.7 119.6M450.9 100.2Q450.7 103.4 450.5 105.2M334.2 135.9Q341.0 135.2 344.1 137.2M335.6 42.4Q333.0 41.0 327.0 34.3M406.8 38.3Q410.6 36.5 412.4 31.7M344.1 103.3Q343.1 101.3 339.8 100.2M350.6 99.1Q348.3 100.7 344.4 98.7M407.4 102.3Q410.3 95.2 410.9 92.8M413.3 63.2Q410.9 63.2 404.5 57.1M404.7 58.3Q410.8 53.1 413.6 52.0M409.2 134.1Q412.0 131.8 410.6 123.2M338.6 55.2Q334.3 56.3 333.5 59.1M418.6 55.6Q421.6 55.8 423.6 56.9M393.4 97.7Q397.8 97.7 399.7 99.9M364.0 86.0Q363.8 92.5 369.1 94.7M326.9 87.6Q328.4 82.9 335.7 82.3M348.7 107.2Q345.5 108.0 343.2 112.1M480.9 60.2Q479.8 64.7 480.7 66.0M336.4 28.2Q336.2 29.6 334.8 32.8M397.6 44.2Q399.2 46.4 400.2 48.0M440.3 132.5Q436.3 134.5 432.2 139.6M444.1 131.8Q441.7 130.3 440.0 127.9M427.0 85.9Q426.5 90.4 430.6 97.0M339.8 84.7Q335.9 90.7 335.6 94.9M423.6 18.5Q417.8 15.2 414.2 13.8M381.3 76.3Q381.8 78.5 383.7 84.2M434.1 75.5Q437.9 75.2 442.8 71.7M470.0 36.2Q466.0 37.3 460.7 37.1M391.7 74.2Q393.9 73.8 401.4 75.7M464.4 119.5Q467.2 117.4 471.2 114.1M477.7 135.6Q472.2 141.2 469.6 141.5M458.2 60.7Q453.8 62.0 452.1 64.6M342.2 146.4Q344.0 149.0 344.0 150.2M332.2 88.0Q334.0 81.2 341.5 80.5M462.4 140.1Q461.1 135.9 463.8 132.8M407.5 43.7Q405.1 36.7 406.1 34.4M470.4 95.1Q474.4 92.4 476.0 92.0M388.9 14.5Q386.5 12.6 382.3 13.9M340.9 139.5Q340.7 136.9 339.6 135.0M478.6 114.5Q477.0 114.3 474.7 111.3M466.1 123.1Q461.3 121.1 456.1 125.2M470.8 129.8Q475.5 128.7 477.8 126.0M331.4 64.8Q331.6 65.6 329.6 69.5M426.8 137.0Q422.8 144.3 420.3 145.4M431.4 69.7Q427.6 69.8 426.7 71.7M460.8 18.9Q465.8 21.0 468.9 19.8M456.7 117.9Q463.0 116.7 464.4 108.8M357.8 33.2Q365.0 36.0 366.9 36.6M476.0 46.2Q477.5 46.8 481.7 48.2M393.0 92.2Q393.1 94.9 396.3 103.2M472.3 86.1Q475.3 92.1 472.3 98.0M470.3 68.9Q468.6 67.6 469.7 63.1M366.4 28.3Q362.7 29.6 359.6 31.0M392.4 117.4Q389.7 115.9 386.7 116.2M337.8 113.5Q336.2 109.3 334.1 108.8M355.0 82.6Q357.2 82.3 361.4 81.1M430.6 63.5Q428.4 63.7 424.8 65.4M393.8 99.4Q396.3 98.6 397.2 97.1M370.6 122.4Q367.3 120.4 363.4 116.6M432.3 100.1Q429.3 98.0 428.9 88.7M396.2 26.3Q399.1 28.1 405.9 26.9M435.1 74.2Q435.8 71.3 434.4 69.3M359.1 41.9Q361.9 39.6 370.9 40.8M338.2 123.9Q347.2 124.9 350.0 122.5M348.4 23.8Q349.1 24.4 352.0 26.0M398.1 105.0Q395.4 103.3 387.6 108.0M405.8 118.1Q407.1 120.4 409.8 123.6M404.1 73.5Q407.5 68.2 412.9 66.8M402.2 68.2Q404.0 60.4 401.1 57.0M392.3 126.2Q387.2 125.0 385.3 119.9M399.5 46.0Q395.8 46.6 391.4 44.9M465.0 41.3Q467.7 41.4 473.5 43.5M441.9 149.9Q442.2 145.4 443.6 144.3M365.3 48.9Q367.8 46.5 369.7 42.8M337.8 33.6Q336.0 38.9 338.7 41.3M382.6 126.9Q376.2 132.0 373.8 132.3M386.7 9.3Q391.2 6.6 391.6 3.0M401.8 142.7Q403.2 144.9 407.7 151.8M451.2 136.3Q446.4 132.0 441.9 133.1M438.5 128.0Q441.8 129.5 442.8 135.0M348.1 24.2Q346.6 19.8 346.1 17.1M369.3 64.8Q372.0 66.3 374.3 69.3M461.6 149.1Q461.6 147.8 463.5 144.0M402.8 133.3Q399.8 131.1 397.6 126.8M381.0 111.7Q380.0 115.2 379.0 119.4M450.2 71.9Q448.4 65.8 446.0 63.7M336.6 42.7Q340.3 42.9 341.7 43.0M459.8 114.6Q461.2 115.0 463.3 117.5M420.0 138.8Q420.4 143.9 416.8 148.8M346.0 34.4Q347.4 28.3 353.8 27.4M379.8 32.6Q381.7 37.8 388.4 37.6M345.4 116.7Q349.6 118.6 350.1 124.0M433.4 104.7Q430.4 104.0 428.8 105.5M449.0 100.4Q451.7 99.5 455.5 96.1M385.8 56.6Q383.0 56.4 375.4 56.2M334.3 144.6Q332.5 146.5 332.0 150.0M466.2 51.4Q462.7 49.4 460.2 48.9M435.4 115.7Q432.8 118.7 429.9 118.7M462.6 135.0Q464.7 136.2 466.7 136.7M338.4 18.9Q342.8 20.0 348.4 23.6M418.7 25.9Q414.2 24.8 411.1 25.0M419.5 90.7Q415.8 86.8 415.3 84.7M412.1 53.3Q414.9 49.6 414.9 48.4M332.9 8.4Q331.5 10.6 334.7 16.4M449.5 118.9Q447.4 117.5 447.7 113.0M433.3 118.5Q428.8 121.5 429.4 126.0M377.0 18.8Q373.3 20.2 372.3 21.3M456.1 54.4Q454.0 55.4 450.3 58.1M436.6 131.9Q435.2 134.6 431.4 137.4M416.6 122.8Q419.4 125.9 420.7 131.2M329.6 75.8Q326.7 77.7 326.3 80.3M386.3 16.9Q391.4 15.0 392.7 15.3M386.1 59.1Q387.5 64.1 381.9 70.3M339.6 76.7Q331.0 77.7 328.7 72.5M392.6 149.7Q397.7 151.0 403.5 151.0M441.2 122.4Q442.7 115.4 447.3 112.6M430.1 66.9Q431.8 65.7 434.2 61.6M363.9 125.1Q370.9 124.7 375.2 127.6M395.6 84.7Q400.6 83.2 402.0 77.2M437.4 70.0Q436.0 72.6 431.5 80.0M329.0 35.3Q329.3 38.2 331.4 42.5M428.9 10.2Q427.4 4.8 424.1 3.7M458.5 32.2Q460.7 29.5 463.6 28.8M345.7 63.5Q340.0 64.0 335.3 64.1M435.7 140.1Q437.3 138.4 441.8 138.3M364.8 77.1Q365.5 72.6 372.5 69.4M381.6 110.4Q383.0 111.4 387.0 110.2M388.6 16.6Q388.3 13.0 385.0 10.6M388.0 99.4Q391.9 102.6 394.1 104.4M424.6 15.7Q427.2 17.8 429.1 22.4M414.0 103.1Q413.9 98.8 414.9 97.5M406.6 130.5Q406.5 134.1 406.3 137.8M364.0 44.8Q365.0 41.1 369.7 38.9M466.6 13.6Q465.9 12.0 460.4 7.1M410.9 46.6Q412.6 47.9 412.1 52.7M409.3 146.1Q405.5 146.0 403.5 147.8M432.9 17.4Q434.9 19.3 438.5 20.1M349.0 39.4Q349.9 38.1 353.5 36.3M429.2 103.2Q426.4 100.8 421.1 100.7M439.5 130.8Q442.0 133.6 441.3 136.1M448.8 122.1Q450.9 122.6 453.1 123.2M423.2 92.7Q427.8 91.2 428.9 83.9M347.2 132.1Q344.4 140.1 348.3 144.0M344.7 64.6Q349.2 65.9 352.2 65.5M455.8 46.6Q451.5 52.7 449.7 53.6M408.8 103.8Q405.7 98.3 401.9 95.5M416.4 57.8Q418.9 52.7 420.7 49.2M439.4 17.6Q440.8 19.3 445.5 18.7M350.9 141.7Q354.3 141.7 355.1 139.8M452.0 111.1Q457.9 112.1 459.1 114.4M446.8 124.2Q451.2 126.1 456.8 128.9M362.9 26.5Q360.6 27.7 352.2 22.0M471.8 51.4Q471.0 48.9 466.2 46.7M461.5 144.0Q461.5 148.6 460.4 152.1M412.7 98.9Q410.7 98.1 408.7 96.8M466.9 119.3Q467.5 124.2 466.8 125.5M413.3 96.8Q413.6 93.2 415.6 90.0M470.1 34.5Q470.3 39.0 473.9 41.3M473.2 106.0Q471.4 105.6 463.6 110.9M360.7 70.4Q361.3 66.7 356.8 59.5M403.6 96.4Q406.9 94.4 407.4 85.8M342.9 14.7Q346.5 17.9 347.0 18.6M439.7 118.9Q442.8 125.3 446.1 126.6M354.8 74.3Q351.9 80.9 353.0 84.5M378.3 117.7Q376.5 115.1 372.8 111.8M391.6 77.3Q390.9 80.5 388.7 81.2M385.8 124.1Q384.1 127.5 381.2 128.3M353.4 74.3Q357.1 74.7 359.9 71.5M399.2 145.9Q397.1 142.3 394.5 138.1M457.5 41.9Q457.9 38.3 457.1 32.6M401.0 80.5Q402.9 82.9 398.5 91.1M397.7 76.0Q401.1 75.0 405.3 73.4M355.2 130.2Q359.5 131.5 363.2 132.3M398.0 149.7Q400.7 147.9 404.4 148.9M379.5 129.9Q379.3 133.8 379.6 135.1M449.1 72.5Q451.1 72.6 454.8 70.2M363.7 34.7Q361.3 35.3 355.7 40.4M455.0 144.6Q458.4 146.4 459.7 149.0M452.7 61.8Q449.2 61.9 448.2 60.5M452.7 126.0Q457.2 129.9 460.0 134.1M360.7 19.1Q362.4 22.4 366.6 23.4M402.2 39.8Q398.7 35.9 397.1 35.5M477.0 140.3Q476.5 143.5 479.4 146.4M439.1 149.0Q438.5 154.6 436.3 159.4M443.5 32.8Q443.6 27.5 446.5 26.0M473.3 75.2Q477.4 73.3 478.1 70.8M409.2 95.2Q411.5 93.0 412.7 92.5M442.8 40.4Q440.0 39.4 439.1 37.9M427.1 146.2Q424.2 149.5 424.8 155.4M461.3 140.9Q467.4 134.8 469.0 132.3M461.3 108.3Q459.1 105.3 458.4 101.4M361.4 38.0Q363.0 37.0 366.4 34.3M422.3 111.9Q421.7 111.9 418.5 110.3M330.1 89.5Q331.5 86.7 330.9 81.6M460.6 129.8Q458.9 128.9 451.5 122.7M360.6 61.7Q360.0 60.7 359.8 57.6M409.8 85.5Q404.2 86.2 400.4 84.5M479.8 98.9Q474.4 93.6 473.7 92.1M398.6 102.0Q392.0 101.2 388.1 99.3M348.9 20.9Q343.9 21.5 338.7 23.4M471.7 114.4Q477.0 115.5 478.9 114.2M419.1 73.8Q415.9 75.0 414.8 74.6M447.1 55.3Q449.8 53.7 450.7 50.4M340.7 84.7Q338.5 92.2 336.7 94.0M456.6 66.3Q452.3 65.0 449.9 58.9M399.0 58.0Q399.5 57.2 402.4 53.6M343.6 29.8Q340.3 32.1 338.6 33.0M403.3 31.3Q399.1 31.6 397.4 32.0M429.0 9.8Q431.0 8.5 431.4 5.6M368.4 55.5Q370.8 48.1 371.1 45.4M439.6 147.4Q439.5 149.7 442.3 151.7M368.2 64.7Q370.3 65.0 372.2 65.2M364.6 38.9Q363.0 34.3 360.8 29.4M371.0 110.5Q369.4 113.4 367.1 115.4M384.1 114.9Q379.1 112.8 376.6 107.2M387.5 27.4Q385.7 29.8 386.2 31.2M422.3 82.8Q418.9 75.9 416.4 73.2M332.6 91.8Q341.1 89.5 343.7 91.2M340.5 19.0Q337.3 16.4 333.8 16.7M368.4 124.4Q369.2 121.1 370.8 119.9M468.4 128.8Q471.5 125.6 477.7 122.6M377.2 113.3Q374.2 118.1 375.3 120.4M326.5 79.3Q326.9 77.5 328.5 72.8M465.0 11.0Q459.1 7.6 454.5 8.1M365.9 9.5Q367.2 9.3 370.1 6.8M409.1 83.4Q407.9 80.7 406.3 79.1M400.9 9.2Q402.8 4.6 408.3 4.0M385.9 100.2Q388.8 99.4 394.7 95.9M352.0 51.7Q347.9 49.7 344.4 48.8M362.8 44.4Q364.6 45.1 367.4 49.1M423.3 99.6Q424.6 97.1 422.7 92.1M449.5 59.9Q453.0 59.8 454.8 57.9M425.2 49.1Q426.4 49.1 428.7 46.6M395.6 69.3Q397.5 72.4 398.1 73.1M424.7 55.7Q423.6 59.4 420.4 60.4M346.3 79.2Q347.0 81.2 346.7 89.3M335.3 135.6Q340.0 139.3 345.8 136.7M378.6 127.2Q379.7 119.5 380.2 115.9M478.8 127.4Q477.6 123.8 479.0 122.3M474.8 141.5Q473.4 144.5 473.7 145.8M457.4 91.0Q459.3 92.1 464.1 91.7" stroke="#cfcfcf" stroke-width="0.7" fill="none" opacity="0.7"/>
<circle cx="336.8" cy="27.6" r="17.4" fill="url(#fl)" filter="url(#rough3)"/>
<circle cx="415" cy="15.3" r="14.5" fill="url(#fl)" filter="url(#rough3)"/>
<circle cx="446.8" cy="22.7" r="15.9" fill="url(#fl)" filter="url(#rough3)"/>
<circle cx="446.8" cy="52" r="17.4" fill="url(#fl)" filter="url(#rough3)"/>
<circle cx="402.8" cy="66.7" r="14.5" fill="url(#fl)" filter="url(#rough3)"/>
<circle cx="369.8" cy="81.3" r="14.5" fill="url(#fl)" filter="url(#rough3)"/>
<circle cx="463.9" cy="98.5" r="14.5" fill="url(#fl)" filter="url(#rough3)"/>
<circle cx="383.2" cy="105.8" r="14.5" fill="url(#fl)" filter="url(#rough3)"/>
<circle cx="351.4" cy="64.2" r="10.2" fill="url(#fl)" filter="url(#rough3)"/>
<circle cx="410.1" cy="130.2" r="15.9" fill="url(#fl)" filter="url(#rough3)"/>
<circle cx="459" cy="130.2" r="17.4" fill="url(#fl)" filter="url(#rough3)"/>
<circle cx="356.3" cy="130.2" r="14.5" fill="url(#fl)" filter="url(#rough3)"/>
<circle cx="473.7" cy="54.5" r="8.7" fill="url(#fl)" filter="url(#rough3)"/>
<circle cx="397.9" cy="39.8" r="8.7" fill="url(#fl)" filter="url(#rough3)"/>
<circle cx="330" cy="45" r="11.6" fill="url(#fl)" filter="url(#rough3)"/>
<path d="M335.1 25.4Q345.0 23.6 349.6 21.8M338.1 26.4Q341.7 35.3 343.6 39.7M334.7 26.2Q333.1 28.4 330.3 31.9M339.0 30.5Q329.3 35.7 326.5 36.5M336.9 28.3Q345.0 29.5 348.2 25.1M338.3 27.3Q339.9 31.4 338.3 40.3M339.7 28.0Q340.2 35.7 344.0 38.7M335.7 25.6Q330.5 26.6 328.1 23.2M337.5 26.8Q335.6 27.9 330.0 32.3M335.7 26.1Q338.2 21.4 345.9 16.6M337.3 28.9Q342.9 33.5 352.0 33.3M335.8 25.5Q326.2 26.3 322.3 29.9M336.0 25.5Q339.3 29.2 347.3 26.1M337.2 26.8Q333.9 30.0 326.3 35.9M339.7 28.3Q338.7 24.2 336.1 20.1M339.1 30.5Q349.5 26.7 354.2 29.9M333.9 27.4Q332.4 30.5 326.8 29.6M337.6 25.5Q342.4 25.7 343.2 29.3M413.6 16.6Q420.2 18.1 424.0 15.5M415.2 16.9Q421.0 16.1 423.5 19.7M412.9 14.8Q416.0 14.0 419.5 11.5M414.2 13.2Q418.2 10.9 420.3 8.8M415.4 13.4Q413.0 9.9 408.6 9.8M417.8 13.1Q413.0 15.0 411.2 12.9M414.3 14.1Q416.9 10.4 418.7 5.8M415.3 13.1Q411.8 14.3 409.2 13.4M413.6 15.3Q418.2 15.7 422.9 13.3M417.3 16.9Q409.7 17.7 407.7 14.6M417.0 15.0Q420.3 11.1 421.1 8.8M416.1 17.6Q409.3 11.6 407.2 9.8M417.2 16.8Q415.3 17.7 413.5 22.0M413.2 16.8Q410.3 19.1 404.3 21.5M412.8 17.2Q408.4 18.0 404.4 16.0M417.6 12.4Q413.7 13.4 407.6 9.8M413.2 17.8Q417.2 14.3 415.8 7.6M417.1 17.9Q423.7 18.7 427.2 15.2M446.9 22.3Q450.5 21.7 453.7 17.2M444.3 24.6Q443.5 17.7 439.1 14.5M447.9 25.3Q452.9 24.2 459.4 21.7M445.3 22.2Q444.7 24.5 444.4 29.7M448.2 19.9Q453.7 27.9 455.0 30.7M449.6 23.0Q448.9 24.2 444.5 29.2M444.8 20.0Q442.3 19.5 433.2 20.7M448.0 21.4Q444.6 24.8 434.4 23.6M447.2 20.3Q451.3 26.6 454.5 28.8M444.1 25.2Q443.8 29.8 441.9 35.0M444.2 23.7Q451.4 18.2 457.9 19.7M447.5 20.3Q448.1 16.4 446.5 14.4M447.0 25.5Q451.2 31.6 455.8 33.8M444.6 22.2Q442.6 20.1 439.8 19.5M445.4 24.1Q451.6 21.2 454.8 23.8M449.5 22.3Q450.9 19.7 450.9 13.6M446.9 25.1Q441.9 27.1 437.4 35.7M444.2 20.0Q441.0 16.4 442.1 10.5M444.8 53.9Q454.2 54.9 456.6 54.5M444.6 49.2Q444.1 42.1 438.3 40.3M449.5 51.0Q446.9 54.7 440.1 57.1M448.1 54.9Q445.1 58.4 441.3 65.4M447.3 50.2Q448.0 47.3 447.6 37.3M446.0 54.2Q441.3 52.6 438.4 54.2M446.8 50.2Q449.2 52.9 457.0 57.1M447.3 52.5Q450.6 52.6 455.0 51.6M448.3 51.5Q448.0 60.9 450.8 64.3M446.3 54.9Q441.6 55.4 435.4 52.3M447.5 49.2Q450.9 41.2 451.4 39.0M444.3 53.9Q444.7 47.6 441.2 45.1M444.4 50.8Q435.3 49.8 429.7 55.6M448.4 54.6Q444.9 53.2 445.0 49.2M444.7 52.4Q441.6 51.3 436.7 52.9M448.5 52.4Q446.9 51.9 442.8 47.5M444.3 53.6Q451.0 54.1 455.6 51.3M448.1 51.1Q442.0 47.4 441.0 45.0M400.3 67.5Q397.7 65.2 397.1 61.6M401.5 68.9Q398.3 70.9 398.2 79.3M403.3 65.9Q400.2 63.7 397.9 60.8M404.8 69.6Q407.1 60.6 409.2 57.3M402.7 68.2Q404.3 66.1 401.7 59.6M400.3 66.6Q403.0 67.6 412.6 67.0M403.0 65.3Q401.7 68.1 397.6 72.8M404.8 65.2Q400.8 67.0 398.8 65.8M401.7 68.5Q403.0 74.1 403.0 77.3M402.6 67.8Q398.9 71.3 393.9 73.5M400.1 69.1Q403.5 69.9 408.1 70.7M403.9 64.6Q406.0 68.0 404.5 71.5M404.1 65.3Q404.4 69.8 403.3 73.0M402.4 64.3Q398.3 67.8 396.3 71.8M403.1 64.0Q399.1 65.9 397.9 68.1M402.1 68.7Q398.0 68.4 396.3 65.8M404.5 66.2Q408.8 62.9 414.3 64.2M402.1 66.7Q401.6 62.5 397.4 61.5M369.7 79.6Q364.5 84.7 363.3 85.8M369.8 82.1Q369.9 84.4 371.0 90.4M370.8 82.0Q376.5 85.8 381.5 87.1M369.0 84.2Q374.8 85.1 377.6 83.3M369.2 82.3Q369.0 78.8 367.4 75.7M369.7 80.7Q372.0 81.6 374.8 80.1M369.1 80.4Q363.5 80.8 359.0 76.3M370.9 84.0Q369.5 80.5 367.3 79.0M371.3 82.2Q366.5 78.4 361.6 79.2M370.6 78.9Q373.6 74.4 376.9 68.5M370.4 83.2Q368.9 85.8 365.4 93.6M371.6 80.8Q378.1 82.3 379.9 87.8M367.3 79.9Q371.4 78.4 376.9 79.1M371.4 79.9Q374.8 82.9 376.8 83.4M367.8 83.8Q368.6 77.9 368.3 75.7M368.9 80.4Q370.6 78.6 374.4 76.4M371.5 83.5Q365.0 78.7 363.1 76.7M372.3 81.7Q366.7 76.1 364.2 71.6M464.1 98.0Q464.1 94.2 469.8 89.1M464.6 99.9Q466.1 102.2 464.8 105.8M466.2 99.4Q472.0 99.6 473.8 99.1M461.7 96.5Q462.7 97.1 466.8 99.4M462.1 98.9Q463.7 97.2 467.5 94.1M465.5 100.9Q465.2 109.1 471.6 112.0M465.6 97.3Q463.3 94.5 462.1 92.2M462.9 97.4Q464.5 94.6 465.2 89.3M463.9 99.3Q464.8 104.3 465.7 111.7M466.0 96.9Q460.5 93.0 458.5 88.4M466.2 97.2Q469.2 98.4 478.9 94.6M462.1 100.1Q466.9 96.3 471.3 97.8M464.7 99.3Q470.0 100.6 476.9 97.8M461.2 98.8Q464.5 102.1 467.4 104.2M466.8 100.8Q469.1 95.0 471.1 92.7M461.7 96.5Q457.6 100.6 457.8 105.1M465.8 98.4Q464.1 93.6 466.1 91.5M466.9 99.6Q468.5 97.9 470.5 95.7M381.6 107.0Q385.3 107.5 388.5 112.1M385.5 108.1Q388.7 106.2 391.1 103.7M385.3 104.2Q377.7 110.0 376.4 112.8M381.5 105.1Q376.1 104.1 374.8 100.5M382.0 105.9Q382.2 111.8 384.5 115.6M381.1 104.8Q376.6 102.1 368.8 103.7M382.1 105.6Q381.8 110.3 384.6 114.5M381.7 108.1Q378.6 101.5 379.2 96.5M384.5 106.7Q389.3 106.5 393.1 109.9M380.6 103.8Q387.0 103.2 388.6 101.8M386.0 108.0Q389.4 105.0 392.6 98.6M386.0 104.1Q382.7 104.4 379.6 103.7M385.6 107.0Q386.7 107.7 390.7 108.8M382.0 106.0Q379.5 113.7 378.6 116.0M384.8 108.0Q382.8 106.4 383.4 101.1M382.6 104.3Q384.1 103.4 384.4 99.4M382.1 106.3Q380.3 100.4 375.2 99.2M385.2 103.2Q387.8 107.1 387.9 110.0M351.0 66.1Q353.0 66.6 354.4 68.8M353.5 66.9Q356.5 66.6 360.2 70.2M352.8 63.0Q354.5 60.8 354.8 59.4M348.9 61.4Q350.3 62.9 353.4 64.5M353.1 62.5Q355.0 64.5 355.6 66.0M353.0 66.3Q350.1 65.8 348.2 65.6M354.1 66.4Q356.9 63.0 357.2 59.6M351.2 62.8Q354.7 64.0 354.9 67.5M352.9 66.3Q354.4 67.0 354.1 70.2M349.1 67.0Q349.2 66.1 349.3 62.8M352.5 62.6Q354.3 65.9 356.7 69.2M353.6 65.2Q350.5 61.0 351.5 58.0M353.3 64.8Q355.1 61.0 359.0 59.9M349.2 66.4Q351.8 63.9 353.0 61.3M349.0 65.5Q344.8 64.0 342.8 59.1M351.8 64.8Q353.4 62.3 356.5 61.4M350.0 64.3Q353.6 65.0 355.4 63.4M349.6 61.2Q353.3 61.4 355.8 57.7M407.7 130.7Q404.5 129.8 397.9 125.8M411.9 130.6Q415.0 127.6 419.5 128.8M411.1 128.2Q406.7 126.5 405.9 120.1M408.7 130.7Q410.9 129.9 414.5 127.7M412.9 129.9Q415.6 135.5 414.5 137.6M409.5 129.8Q405.8 134.5 403.1 136.2M410.9 128.7Q410.9 135.6 412.7 139.8M412.3 130.2Q421.1 137.7 422.8 138.9M407.3 132.9Q407.3 136.1 413.5 142.0M410.1 130.5Q416.0 136.1 421.9 134.2M412.0 128.0Q413.0 133.7 408.9 136.8M412.2 129.6Q407.1 126.8 400.9 127.9M409.8 129.4Q411.2 132.0 405.9 141.3M410.5 128.2Q414.1 124.1 413.6 121.9M407.2 128.1Q408.7 131.0 408.2 134.5M412.1 129.5Q413.1 127.0 408.9 118.9M409.3 132.7Q406.2 128.7 400.3 122.9M410.6 128.4Q415.7 135.5 418.7 137.1M461.9 132.5Q468.0 135.3 469.4 138.1M459.8 132.7Q459.9 128.2 461.3 121.2M458.3 129.0Q450.9 126.1 447.0 122.9M459.7 131.6Q458.0 127.6 455.6 126.9M458.3 130.7Q451.6 136.7 446.0 136.8M456.7 133.1Q462.8 131.4 469.2 137.4M457.2 130.2Q455.2 132.4 453.9 140.0M456.0 130.3Q454.7 139.4 455.0 142.0M456.1 130.1Q455.5 133.3 448.7 143.3M458.8 130.8Q462.3 126.9 467.5 125.2M458.2 130.5Q457.4 136.2 459.0 138.2M460.6 128.3Q453.5 131.7 447.9 131.0M461.2 129.7Q466.3 130.7 468.1 130.3M456.8 127.2Q458.5 128.2 462.1 134.5M457.7 130.6Q461.2 128.2 461.7 120.1M458.0 133.1Q460.0 131.7 465.2 126.9M461.1 132.3Q467.0 132.0 473.6 131.8M457.0 127.6Q461.0 128.0 467.6 130.8M358.2 130.2Q358.6 128.4 358.0 124.2M354.6 127.4Q356.3 123.2 354.7 121.6M353.5 127.5Q356.1 123.1 356.6 121.5M354.4 132.5Q356.9 133.6 361.1 136.5M358.3 128.1Q360.7 125.2 366.0 126.3M359.0 129.7Q357.6 126.1 357.0 124.7M355.4 132.0Q353.9 138.3 356.8 142.3M354.5 132.9Q350.8 129.7 344.4 128.4M355.7 129.4Q358.3 128.4 364.4 127.5M354.3 131.8Q352.4 138.0 350.5 143.6M358.6 131.6Q356.2 134.1 350.5 138.2M355.0 127.5Q353.8 130.5 349.4 137.3M356.3 132.9Q362.0 129.9 362.7 123.4M353.9 132.4Q358.5 126.6 358.2 120.8M354.8 130.5Q348.9 135.6 345.7 139.6M358.8 131.1Q366.8 130.9 369.7 133.3M357.8 132.0Q363.6 133.1 364.9 140.8M358.4 128.0Q351.4 131.3 349.1 134.5M476.2 53.8Q479.3 51.4 479.3 49.3M473.5 55.3Q471.7 54.7 468.7 56.5M472.1 54.2Q475.0 56.0 477.7 55.4M475.5 51.7Q478.7 50.6 479.7 51.0M472.9 55.4Q474.2 54.1 475.8 52.0M476.0 51.6Q476.3 55.0 475.6 56.8M474.3 51.7Q475.1 52.8 478.6 53.2M475.1 57.0Q477.9 57.5 478.8 56.8M475.5 54.0Q471.6 50.2 469.8 49.0M475.0 57.4Q474.1 60.4 473.6 63.8M471.2 55.4Q470.3 56.0 466.3 53.5M473.3 52.8Q475.0 54.2 477.4 54.0M473.4 57.4Q475.9 58.6 479.0 60.9M473.3 55.9Q471.9 55.5 468.8 53.8M471.1 53.4Q471.8 51.1 473.3 50.8M473.6 55.9Q471.1 57.5 470.6 58.1M473.0 53.1Q472.4 53.5 469.8 56.5M475.4 55.1Q476.1 58.4 474.4 59.3M399.5 39.3Q401.8 37.6 403.1 38.1M400.8 41.1Q402.8 42.8 403.3 47.1M398.8 41.9Q396.1 44.4 393.4 43.5M398.5 37.9Q396.0 37.2 393.7 32.2M399.1 41.6Q402.0 40.1 403.8 40.1M399.5 42.3Q399.2 44.3 401.4 46.9M395.9 38.3Q394.5 36.6 394.6 31.0M400.1 40.0Q404.0 40.8 405.5 43.0M396.9 40.1Q402.4 41.3 404.3 39.1M397.6 42.1Q397.6 43.5 397.9 45.3M399.8 37.5Q400.8 38.2 402.8 38.6M395.7 37.5Q396.8 32.7 396.4 30.0M399.5 40.3Q398.0 38.0 399.3 33.8M395.3 41.8Q395.7 37.0 395.1 34.1M397.3 38.3Q399.0 34.5 400.2 33.3M398.8 42.0Q398.0 41.8 395.4 42.0M396.0 39.4Q394.7 40.1 392.8 39.4M397.7 38.4Q397.4 34.9 400.6 31.7M329.7 44.9Q326.7 43.9 326.1 40.9M332.7 45.0Q327.7 45.0 325.3 45.4M328.3 43.2Q329.2 40.3 332.5 39.9M328.5 46.5Q331.2 47.1 336.5 45.7M328.8 47.6Q330.4 46.0 331.3 44.5M330.7 42.3Q329.4 38.8 329.7 37.7M329.6 45.4Q330.2 48.7 327.4 51.2M330.3 45.0Q331.8 45.5 336.9 46.4M329.0 43.7Q331.5 47.7 336.6 49.1M331.9 47.8Q334.5 50.2 334.4 55.0M329.2 47.6Q327.7 43.3 326.5 41.8M329.1 45.0Q325.7 44.6 322.6 45.4M329.5 42.7Q327.5 45.3 325.3 50.2M331.6 46.2Q327.3 48.0 326.5 52.8M332.9 42.3Q328.3 42.1 325.5 41.6M327.6 46.7Q330.0 47.2 332.2 47.0M332.9 45.8Q334.1 39.1 335.7 36.0M329.5 42.6Q328.6 43.6 327.7 47.5" stroke="#eeeeee" stroke-width="0.6" fill="none" opacity="0.8"/>
</g>
<defs><clipPath id="s2c"><rect x="495.1" y="8.2" width="154.7" height="141.7"/></clipPath></defs>
<rect x="495.1" y="8.2" width="154.7" height="141.7" fill="#666" filter="url(#sem2)"/>
<g clip-path="url(#s2c)">
<path d="M490.2 5.1Q491.4 3.1 494.7 1.9M494.7 1.9Q497.4 0.5 499.7 -0.6M655.5 155.1Q655.2 154.9 654.0 154.7M654.0 154.7Q653.4 154.8 652.5 154.4M487.2 87.9Q487.9 88.0 490.8 86.4M490.8 86.4Q492.4 84.4 493.5 84.2M490.2 78.9Q490.1 80.9 491.4 81.7M491.4 81.7Q492.2 82.5 493.5 84.2M490.2 78.9Q490.8 76.7 491.7 75.6M491.7 75.6Q493.3 74.6 494.8 73.7M494.7 84.3Q496.8 83.3 496.7 80.0M496.7 80.0Q497.6 78.2 500.4 77.9M500.4 77.9Q499.4 77.3 498.4 76.7M498.4 76.7Q497.7 76.5 497.5 75.4M652.5 154.4Q652.3 153.7 652.5 153.1M652.5 153.1Q652.0 153.4 652.0 153.7M497.0 87.5Q497.1 88.1 497.7 89.0M497.7 89.0Q497.1 88.7 496.8 88.6M496.8 88.6Q497.0 89.9 497.6 91.4M497.6 91.4Q497.3 92.2 496.6 92.7M504.6 88.0Q503.0 88.1 501.9 90.0M501.9 90.0Q500.0 93.2 500.0 94.2M487.2 87.9Q488.7 88.5 489.0 89.0M489.0 89.0Q489.3 90.3 489.1 92.1M494.7 84.3Q496.2 84.3 496.8 85.2M496.8 85.2Q496.5 86.1 497.0 87.5M489.1 92.1Q490.1 90.9 492.3 89.7M492.3 89.7Q493.6 89.0 496.8 88.6M489.1 92.1Q489.3 92.3 490.1 91.9M490.1 91.9Q489.6 93.2 489.8 94.0M494.4 94.5Q494.0 93.7 492.7 93.1M492.7 93.1Q492.0 92.7 489.8 94.0M481.8 127.3Q483.0 127.0 485.7 128.2M485.7 128.2Q486.4 128.2 487.9 129.3M490.5 117.5Q490.6 117.5 490.9 117.4M490.9 117.4Q491.4 116.9 492.4 116.4M487.9 129.3Q489.5 127.6 490.9 127.1M490.9 127.1Q492.2 126.4 493.9 126.6M490.2 5.1Q490.6 5.7 490.7 5.8M490.7 5.8Q490.0 6.1 489.2 6.5M537.7 71.0Q535.0 71.2 534.2 72.3M534.2 72.3Q533.6 72.7 533.1 73.4M535.1 68.0Q535.6 69.1 535.8 70.0M535.8 70.0Q536.7 69.8 537.1 69.6M538.5 64.9Q536.4 62.5 535.9 61.7M535.9 61.7Q534.8 61.8 534.2 60.7M527.8 70.6Q528.2 70.6 528.8 70.7M528.8 70.7Q529.5 69.2 529.2 68.6M527.8 70.6Q527.1 71.1 526.7 70.8M526.7 70.8Q526.4 70.9 525.8 71.0M525.8 71.0Q523.8 70.5 523.5 68.3M523.5 68.3Q522.7 65.7 523.2 65.0M525.3 62.9Q526.4 62.1 526.6 61.7M526.6 61.7Q527.6 61.6 527.8 62.4M532.3 73.6Q531.3 73.1 530.7 72.9M530.7 72.9Q528.6 71.2 527.8 70.6M532.3 73.6Q532.4 74.8 530.9 77.0M530.9 77.0Q530.4 78.1 529.8 79.0M522.5 77.2Q522.4 76.5 521.5 75.8M521.5 75.8Q522.2 75.1 522.5 75.1M523.2 74.0Q523.3 73.9 523.2 73.6M523.2 73.6Q523.1 74.2 522.5 75.1M532.2 62.7Q531.4 63.1 531.0 63.9M531.0 63.9Q530.5 63.2 529.6 63.1M523.7 90.2Q522.8 91.2 524.3 94.6M524.3 94.6Q522.3 96.4 522.8 99.0M522.8 99.0Q523.6 99.5 524.0 99.8M524.0 99.8Q526.4 101.4 527.1 102.1M526.5 90.6Q526.6 90.9 526.3 91.3M526.3 91.3Q525.7 90.9 525.7 90.1M526.5 90.6Q527.6 93.1 527.2 94.3M527.2 94.3Q528.9 97.5 528.8 99.4M527.1 102.1Q527.6 102.2 527.7 102.8M527.7 102.8Q527.8 102.5 528.3 102.0M533.9 95.5Q532.9 96.1 532.1 97.0M532.1 97.0Q529.7 97.7 528.8 99.4M535.5 96.3Q535.2 95.7 534.0 95.7M534.0 95.7Q533.9 95.6 533.9 95.5M532.5 5.6Q533.3 7.5 535.3 7.5M535.3 7.5Q535.9 7.2 536.1 7.3M488.9 95.3Q489.4 96.7 490.2 97.3M490.2 97.3Q490.1 98.0 490.1 99.3M490.1 99.3Q488.4 101.0 487.0 101.1M487.0 101.1Q486.0 101.6 485.4 102.0M489.8 94.0Q489.0 94.5 488.4 95.6M488.4 95.6Q488.5 95.3 488.9 95.3M492.8 105.5Q495.5 106.2 496.6 106.0M496.6 106.0Q498.5 106.9 498.8 108.1M492.8 105.5Q492.3 105.8 491.7 105.8M491.7 105.8Q491.3 106.7 491.5 107.2M501.0 109.6Q500.7 109.3 499.9 109.0M499.9 109.0Q499.2 108.3 498.8 108.1M501.0 109.6Q499.4 109.6 497.3 110.9M497.3 110.9Q493.2 110.6 492.1 109.9M492.1 109.9Q491.9 109.4 491.4 109.3M491.4 109.3Q491.0 109.0 491.2 108.2M485.4 102.0Q487.1 102.6 487.8 104.0M487.8 104.0Q488.6 106.9 491.5 107.2M481.2 111.0Q484.5 110.0 485.2 108.7M485.2 108.7Q487.4 106.6 491.2 108.2M493.1 113.8Q493.5 111.9 493.1 111.4M493.1 111.4Q492.6 111.1 492.1 109.9M537.9 105.2Q536.5 105.0 535.8 104.5M535.8 104.5Q535.2 104.1 534.0 102.0M535.5 96.3Q537.6 95.6 538.3 95.2M538.3 95.2Q538.5 95.2 538.8 95.1M540.7 105.6Q540.9 103.4 540.9 101.4M540.9 101.4Q541.4 100.3 542.0 98.2M538.8 95.1Q539.4 95.5 541.3 95.7M541.3 95.7Q542.3 97.4 542.0 98.2M528.9 91.5Q530.4 91.2 532.1 89.5M532.1 89.5Q533.3 88.7 535.3 88.8M539.8 90.6Q538.3 90.9 537.0 89.9M537.0 89.9Q536.6 89.4 535.3 88.8M493.1 113.8Q496.8 111.8 498.9 112.6M498.9 112.6Q499.9 113.6 503.3 113.6M506.0 87.7Q506.1 88.3 507.3 90.4M507.3 90.4Q507.1 91.9 507.8 92.5M507.8 92.5Q507.8 93.1 507.6 93.3M507.6 93.3Q507.1 95.2 505.5 95.6M501.5 96.3Q503.1 96.5 504.0 95.5M504.0 95.5Q505.2 95.2 505.5 95.6M510.5 120.8Q511.7 123.1 511.2 123.9M511.2 123.9Q512.4 124.1 513.3 125.7M513.3 125.7Q510.3 128.1 509.6 128.1M509.6 128.1Q509.1 129.0 507.8 130.9M507.8 130.9Q508.1 130.6 508.0 130.1M508.0 130.1Q507.6 130.1 506.9 129.6M502.7 127.1Q501.8 126.5 500.0 126.9M500.0 126.9Q499.8 127.8 499.5 128.4M496.2 126.7Q496.5 127.4 496.7 128.1M496.7 128.1Q497.6 128.1 499.5 128.4M504.3 118.6Q504.0 119.1 502.9 119.4M502.9 119.4Q503.0 119.3 503.5 119.4M504.3 118.6Q505.0 119.3 507.4 118.9M507.4 118.9Q508.5 119.8 509.2 120.8M506.9 129.6Q505.9 128.6 504.9 127.9M504.9 127.9Q504.4 127.2 502.7 127.1M493.9 126.6Q494.8 126.7 495.9 127.3M495.9 127.3Q496.2 126.9 496.2 126.7M504.3 118.6Q504.2 117.5 503.0 116.0M503.0 116.0Q503.6 115.4 504.1 115.3M544.0 159.1Q544.2 158.1 545.0 157.8M545.0 157.8Q544.9 158.0 544.6 158.3M544.0 159.1Q542.1 157.8 541.8 157.2M541.8 157.2Q539.6 155.9 538.9 156.0M539.8 154.1Q539.9 154.1 540.4 154.1M540.4 154.1Q539.1 154.5 538.9 156.0M572.1 147.1Q572.1 148.2 572.7 148.9M572.7 148.9Q572.8 149.9 572.1 150.2M575.5 144.7Q577.0 145.0 578.0 144.0M578.0 144.0Q578.7 144.9 579.7 145.0M571.6 146.5Q571.0 144.4 568.0 144.3M568.0 144.3Q567.0 144.1 566.0 144.1M566.0 144.1Q565.4 142.9 565.8 140.2M565.8 140.2Q564.9 136.2 563.2 134.3M563.2 134.3Q564.4 135.5 567.3 137.6M567.3 137.6Q568.3 138.5 570.4 138.5M562.8 133.7Q562.1 134.3 561.9 135.2M561.9 135.2Q562.6 135.2 563.2 134.3M565.9 128.3Q567.8 128.3 568.2 129.5M568.2 129.5Q570.0 130.8 571.2 130.9M571.2 130.9Q571.5 131.2 572.7 132.1M572.7 132.1Q572.8 133.0 571.9 135.0M576.4 136.6Q574.5 137.6 573.4 136.8M573.4 136.8Q572.7 138.5 570.8 138.9M538.5 157.0Q539.4 157.6 539.6 157.8M539.6 157.8Q539.0 157.1 538.7 156.3M531.1 158.7Q530.9 156.6 530.5 155.8M530.5 155.8Q531.0 155.2 531.4 154.5M515.4 126.6Q514.8 126.2 514.0 125.4M514.0 125.4Q513.6 125.4 513.3 125.7M515.4 126.6Q514.2 128.2 515.4 131.3M515.4 131.3Q516.1 133.6 514.7 136.3M647.7 76.4Q646.0 78.2 644.5 78.3M644.5 78.3Q643.6 78.9 643.0 79.1M647.7 76.4Q650.0 77.0 651.5 80.9M651.5 80.9Q651.7 81.9 654.0 84.4M654.0 84.4Q653.5 84.3 653.3 84.7M653.3 84.7Q652.6 85.3 651.5 86.0M643.0 79.8Q642.7 80.0 642.1 79.6M642.1 79.6Q642.6 79.3 643.0 79.1M653.4 72.0Q652.3 72.2 650.9 72.5M650.9 72.5Q649.3 72.3 648.3 72.8M648.3 72.8Q648.4 72.9 648.7 72.9M648.7 72.9Q648.0 73.6 647.7 73.6M647.3 32.7Q647.9 33.2 648.7 33.8M648.7 33.8Q649.2 34.2 649.5 35.2M649.5 35.2Q650.4 34.2 652.6 33.9M652.6 33.9Q655.5 33.4 657.5 32.1M651.2 28.0Q651.3 26.2 650.8 25.3M650.8 25.3Q651.7 24.7 652.2 24.8M664.3 31.5Q662.4 32.1 661.7 32.4M661.7 32.4Q660.8 33.5 657.5 32.1M579.3 84.9Q579.5 84.9 579.9 85.2M579.9 85.2Q579.7 85.0 579.6 84.9M577.0 78.8Q578.1 79.0 581.1 78.7M581.1 78.7Q582.0 80.3 584.0 80.6M584.0 80.6Q584.5 80.7 584.8 81.6M584.8 81.6Q585.0 81.6 585.2 81.4M542.0 98.2Q543.8 98.7 545.4 98.1M545.4 98.1Q547.5 98.6 549.7 97.7M547.9 93.6Q548.1 94.6 550.0 96.3M550.0 96.3Q550.3 96.8 550.4 97.0M534.2 60.7Q535.0 60.2 534.8 59.0M534.8 59.0Q534.9 58.8 535.3 58.4M535.3 58.4Q535.8 58.1 537.5 58.9M537.5 58.9Q537.8 58.4 538.0 57.6M523.7 90.2Q523.5 89.3 523.3 88.7M523.3 88.7Q521.8 88.6 521.1 88.9M520.0 89.9Q518.6 91.2 517.8 92.7M517.8 92.7Q516.5 95.0 516.5 96.2M521.1 88.9Q519.3 86.8 518.7 86.6M518.7 86.6Q517.6 84.4 518.1 83.5M509.4 93.1Q509.3 93.8 509.4 94.4M509.4 94.4Q509.3 94.1 509.6 93.2M509.4 93.1Q513.0 90.6 513.8 87.6M513.8 87.6Q516.7 85.8 517.8 83.4M518.1 83.5Q517.7 83.6 517.4 84.3M517.4 84.3Q517.8 83.7 517.8 83.4M510.7 93.2Q511.0 93.5 511.2 93.7M511.2 93.7Q510.0 93.7 509.6 93.2M512.6 100.9Q512.2 103.9 512.1 104.8M512.1 104.8Q512.2 105.5 510.9 106.7M510.9 106.7Q511.4 107.5 511.5 108.1M511.5 108.1Q512.1 108.0 512.8 107.2M522.5 77.2Q521.2 79.8 521.0 80.7M521.0 80.7Q518.5 81.1 518.1 83.5M522.4 75.1Q522.9 74.9 523.2 75.0M523.2 75.0Q522.8 75.1 522.5 75.1M517.8 83.4Q517.0 83.2 516.6 82.7M516.6 82.7Q515.4 82.9 513.2 82.0M515.2 72.8Q515.4 72.9 515.7 72.6M515.7 72.6Q514.9 72.4 514.7 72.0M506.0 87.7Q506.8 86.3 507.4 83.6M507.4 83.6Q508.7 82.8 508.8 81.7M497.5 75.4Q497.7 74.1 499.3 71.9M499.3 71.9Q500.4 71.0 500.1 69.4M491.3 68.8Q491.5 68.1 491.2 67.7M491.2 67.7Q491.5 68.5 491.8 68.9M491.3 68.8Q489.5 65.9 488.7 64.2M488.7 64.2Q489.1 63.6 488.4 62.0M527.4 7.1Q527.4 7.3 527.3 7.5M527.3 7.5Q527.0 6.7 526.4 6.3M527.4 7.1Q529.8 7.1 530.7 6.4M530.7 6.4Q531.8 6.0 532.5 5.6M526.4 6.3Q524.8 6.1 524.5 5.3M524.5 5.3Q524.4 5.0 524.5 4.3M524.5 4.3Q523.0 3.3 521.4 2.0M521.4 2.0Q520.0 1.1 520.8 -2.6M584.0 80.6Q583.3 79.5 583.5 78.7M583.5 78.7Q583.5 78.0 583.5 76.9M583.5 76.9Q581.8 77.4 580.8 77.2M580.8 77.2Q579.4 76.1 577.3 76.5M651.2 2.8Q651.5 3.4 651.0 4.3M651.0 4.3Q651.2 4.2 651.3 3.9M651.3 3.9Q648.8 4.6 646.8 4.5M646.8 4.5Q643.4 4.8 640.9 4.5M651.4 4.1Q651.2 4.2 651.2 4.3M651.2 4.3Q651.3 4.0 651.3 3.9M651.7 6.0Q653.7 6.7 655.8 6.0M655.8 6.0Q656.6 7.0 657.9 7.4M655.3 15.6Q654.8 14.3 656.3 11.5M656.3 11.5Q656.9 10.4 656.6 9.7M657.9 7.4Q657.4 8.4 657.8 9.7M657.8 9.7Q657.4 9.6 656.6 9.7M539.8 90.6Q540.2 90.0 540.4 89.8M540.4 89.8Q540.6 89.7 540.7 89.4M512.9 108.5Q512.5 109.2 512.3 110.6M512.3 110.6Q512.4 111.5 512.2 112.0M512.2 112.0Q512.0 112.2 511.1 112.1M511.1 112.1Q511.6 112.1 512.3 112.8M512.3 112.8Q512.9 112.9 514.9 113.8M514.9 113.8Q516.1 114.2 516.9 116.5M516.9 116.5Q517.1 116.6 517.1 116.7M517.1 116.7Q517.5 116.6 518.0 116.5M518.0 116.5Q519.5 116.2 520.0 114.2M520.0 114.2Q520.4 113.3 520.5 113.1M508.0 106.1Q508.8 105.7 510.7 106.7M510.7 106.7Q510.7 106.7 510.9 106.7M508.0 106.1Q507.8 106.8 507.1 106.9M507.1 106.9Q506.6 107.8 506.9 108.7M512.9 107.3Q512.9 107.3 512.9 107.3M512.9 107.3Q512.9 108.1 512.9 108.5M516.3 107.2Q517.9 106.8 518.9 108.0M518.9 108.0Q519.4 108.6 519.7 109.6M519.7 109.6Q520.0 109.9 520.7 111.0M520.7 111.0Q521.2 111.3 521.5 112.0M521.5 112.0Q521.6 111.8 521.6 111.7M521.6 111.7Q521.1 112.6 520.5 113.1M504.1 115.3Q506.6 116.4 508.3 115.3M508.3 115.3Q511.6 113.0 512.3 112.8M510.5 120.8Q511.9 118.8 512.6 118.2M512.6 118.2Q515.7 117.2 516.9 116.5M501.3 103.9Q502.1 103.6 502.6 103.1M502.6 103.1Q503.7 102.6 504.1 102.7M506.9 102.7Q506.7 103.1 506.1 103.1M506.1 103.1Q507.0 102.6 507.5 101.9M494.4 94.5Q494.8 96.3 495.7 97.2M495.7 97.2Q496.0 99.4 496.3 101.3M498.8 108.1Q498.4 107.1 498.7 104.4M498.7 104.4Q498.5 103.3 498.2 102.8M494.0 103.3Q495.6 102.3 496.0 101.5M496.0 101.5Q496.1 101.7 496.1 101.9M508.0 106.1Q508.0 105.8 507.9 105.2M507.9 105.2Q507.8 104.0 506.9 102.7M545.8 152.7Q546.8 152.6 547.3 152.4M547.3 152.4Q547.7 152.4 547.8 152.3M545.8 152.7Q545.0 152.4 543.7 152.0M543.7 152.0Q541.9 150.1 541.6 149.4M545.8 155.7Q545.4 155.0 545.7 154.2M545.7 154.2Q547.0 154.9 547.9 154.7M545.8 155.7Q546.2 156.5 546.4 157.7M546.4 157.7Q546.2 157.7 545.9 157.6M545.9 157.6Q546.0 157.8 546.0 158.1M546.0 158.1Q546.3 158.3 547.1 158.4M547.1 158.4Q547.8 158.4 548.9 157.8M548.9 157.8Q549.0 157.0 549.7 156.8M547.9 152.4Q548.7 151.6 548.8 151.4M548.8 151.4Q548.4 152.1 547.8 152.3M547.9 152.4Q548.1 153.1 548.6 153.7M548.6 153.7Q548.0 154.1 547.9 154.7M542.4 154.6Q543.0 153.7 544.0 152.6M544.0 152.6Q544.7 152.1 545.8 152.7M543.5 155.1Q544.4 155.3 544.8 155.9M544.8 155.9Q545.1 155.5 545.8 155.7M544.6 158.3Q545.7 158.0 546.2 158.1M546.2 158.1Q546.0 158.0 545.9 157.6M552.4 157.7Q552.8 157.0 552.8 156.0M552.8 156.0Q554.6 154.0 554.3 152.7M547.9 152.4Q548.4 152.9 549.7 152.5M549.7 152.5Q550.4 151.6 553.4 151.3M554.3 152.7Q555.6 152.8 557.4 153.7M557.4 153.7Q557.9 153.6 558.3 153.1M543.7 143.4Q544.8 142.8 545.4 140.1M545.4 140.1Q545.8 139.4 545.7 137.6M543.7 143.4Q544.1 143.7 544.1 143.7M544.1 143.7Q544.4 144.3 545.0 145.7M549.5 138.2Q547.8 139.0 547.0 138.7M547.0 138.7Q546.8 138.0 545.7 137.6M549.5 138.2Q549.5 139.3 550.3 141.9M550.3 141.9Q549.8 143.2 549.6 144.3M545.1 145.7Q546.1 144.8 546.6 144.8M546.6 144.8Q548.0 145.3 548.9 145.3M549.6 144.3Q549.1 145.0 549.1 145.2M549.1 145.2Q548.9 145.2 548.9 145.3M559.6 155.6Q560.0 155.9 560.5 155.6M560.5 155.6Q561.4 156.4 562.4 156.1M562.4 156.1Q562.8 156.9 563.6 157.0M563.6 157.0Q563.4 156.8 563.2 156.9M540.5 142.3Q539.7 141.8 538.0 140.4M538.0 140.4Q538.2 139.7 537.7 137.3M534.5 137.5Q535.8 137.9 536.8 137.8M536.8 137.8Q537.4 137.5 537.7 137.3M534.5 137.5Q534.6 139.1 533.6 140.7M533.6 140.7Q533.0 141.6 533.2 143.1M534.5 137.5Q533.8 137.3 533.4 136.8M533.4 136.8Q532.7 136.4 532.4 136.1M532.4 136.1Q531.5 136.0 529.3 136.1M529.3 136.1Q528.5 136.9 525.2 136.7M525.2 136.7Q524.9 137.8 524.1 138.6M524.1 138.6Q523.2 138.9 522.4 138.5M533.2 143.1Q533.1 142.8 533.1 142.8M533.1 142.8Q533.1 143.2 532.8 143.7M532.8 143.7Q532.6 144.3 531.2 145.6M531.2 145.6Q530.1 145.1 528.7 145.2M516.6 152.0Q517.7 152.5 518.6 153.6M518.6 153.6Q519.3 152.8 520.1 152.8M520.1 152.8Q520.8 155.1 521.5 156.2M521.5 156.2Q521.9 157.0 523.0 158.3M531.0 159.0Q529.7 157.3 528.4 157.2M528.4 157.2Q527.0 158.0 524.7 157.0M524.7 157.0Q524.1 157.8 524.3 158.3M524.3 158.3Q523.4 158.5 523.0 158.3M512.3 146.3Q512.3 146.2 512.3 146.0M512.3 146.0Q513.4 145.1 514.3 144.3M512.3 146.3Q514.1 146.9 515.0 147.8M515.0 147.8Q514.9 148.6 516.2 149.9M516.2 149.9Q516.6 148.6 516.8 148.2M516.8 148.2Q517.4 147.9 517.9 147.8M520.5 137.7Q518.9 138.2 518.3 138.3M518.3 138.3Q518.3 137.8 517.8 137.4M519.8 146.1Q519.8 145.2 520.8 142.6M520.8 142.6Q521.1 140.5 521.9 138.5M519.8 146.1Q519.6 146.1 519.5 146.0M519.5 146.0Q518.5 147.2 517.9 147.8M507.5 136.8Q506.1 138.6 503.5 139.1M503.5 139.1Q502.8 140.3 500.8 143.2M507.5 136.8Q507.8 137.0 508.3 137.0M508.3 137.0Q508.2 136.9 508.0 136.8M508.0 136.8Q507.3 137.5 507.6 140.1M507.6 140.1Q508.0 141.0 507.9 141.4M502.7 145.8Q503.5 145.5 505.0 144.5M505.0 144.5Q505.3 143.3 507.9 141.4M580.6 144.4Q581.1 144.7 581.2 145.5M581.2 145.5Q582.4 145.2 583.3 145.0M580.6 144.4Q580.7 144.9 581.2 145.1M581.2 145.1Q580.6 145.2 579.7 145.0M583.1 148.6Q583.2 148.3 583.2 147.9M583.2 147.9Q583.0 148.0 582.4 148.5M583.1 148.6Q583.1 148.5 582.8 148.3M582.8 148.3Q584.1 147.0 583.9 145.6M627.3 58.2Q628.1 61.2 630.2 61.6M630.2 61.6Q630.9 62.5 631.2 62.7M627.3 58.2Q627.6 57.6 627.8 56.6M627.8 56.6Q629.1 56.0 630.6 53.9M634.4 64.3Q635.1 64.0 635.3 63.3M635.3 63.3Q635.0 63.0 635.0 61.8M635.0 61.8Q633.5 60.8 631.9 58.3M631.9 58.3Q632.5 57.1 630.6 53.9M627.3 58.2Q626.2 58.8 625.3 58.4M625.3 58.4Q624.6 60.3 622.7 60.3M622.7 60.3Q622.6 60.7 622.8 61.8M622.8 61.8Q622.5 61.5 622.3 61.2M625.5 67.3Q623.5 66.1 623.2 63.7M623.2 63.7Q622.4 62.7 622.3 61.2M612.0 65.2Q612.1 65.9 612.6 68.5M612.6 68.5Q612.8 68.9 612.9 69.7M614.9 71.5Q615.9 71.7 617.0 71.7M617.0 71.7Q617.0 71.3 617.6 70.7M582.8 160.5Q581.6 158.2 580.2 156.7M580.2 156.7Q578.6 153.9 576.2 152.5M583.1 148.6Q584.4 148.8 584.9 148.8M584.9 148.8Q585.7 149.1 585.8 150.4M585.8 150.4Q586.6 150.1 587.0 150.2M587.0 150.2Q586.6 150.3 586.1 150.9M587.6 143.5Q587.5 143.6 587.2 143.7M587.2 143.7Q587.7 143.6 587.9 143.7M590.8 150.5Q590.1 150.6 588.9 149.8M588.9 149.8Q587.3 151.2 586.1 150.9M590.8 150.5Q592.6 150.7 592.9 152.5M592.9 152.5Q593.0 152.3 593.0 152.3M593.7 162.6Q592.7 160.9 592.7 158.3M592.7 158.3Q592.1 156.7 593.0 152.3M648.3 72.8Q649.0 72.1 648.8 70.9M648.8 70.9Q649.0 68.8 647.8 67.3M647.8 67.3Q646.5 67.3 646.1 67.3M646.1 67.3Q646.2 66.6 646.1 65.8M642.5 70.8Q643.0 72.3 644.0 72.9M644.0 72.9Q644.4 72.7 645.6 73.0M646.1 65.8Q645.2 65.8 644.1 65.9M644.1 65.9Q643.2 65.3 642.8 65.2M635.5 66.6Q636.1 67.5 637.0 68.1M637.0 68.1Q639.0 68.7 639.6 71.7M641.7 64.6Q641.4 65.1 641.4 65.4M641.4 65.4Q641.9 65.3 642.3 64.8M642.5 70.8Q642.1 70.5 641.2 70.5M641.2 70.5Q640.4 71.1 639.6 71.7M642.8 65.2Q642.5 64.5 642.1 64.0M642.1 64.0Q642.3 64.2 642.3 64.8M647.8 67.3Q650.1 67.0 650.8 65.9M650.8 65.9Q651.1 66.1 651.7 65.8M651.7 65.8Q651.8 65.6 651.8 65.3M651.8 65.3Q652.2 65.6 652.7 65.7M641.3 76.8Q644.0 75.5 644.6 74.9M644.6 74.9Q645.1 74.4 645.6 73.0M640.1 75.0Q641.2 75.1 643.6 73.4M643.6 73.4Q644.8 73.0 645.6 73.0M645.6 73.0Q645.5 73.0 645.5 72.9M645.5 72.9Q645.6 72.9 645.6 73.0M649.6 35.4Q650.2 36.5 651.7 38.0M651.7 38.0Q652.1 38.6 651.9 39.5M652.4 39.4Q652.2 39.2 651.5 38.7M651.5 38.7Q651.6 39.3 651.9 39.5M649.5 49.1Q648.9 46.5 650.7 45.2M650.7 45.2Q651.8 43.2 651.9 42.5M649.5 49.1Q649.2 49.1 648.9 49.4M648.9 49.4Q648.5 49.2 646.9 48.5M646.9 48.5Q647.0 47.5 647.2 46.1M647.2 46.1Q646.4 44.5 646.9 43.0M646.9 43.0Q648.5 42.1 648.8 42.3M648.8 42.3Q650.8 41.3 651.5 41.3M644.3 41.4Q644.8 41.9 644.8 42.9M644.8 42.9Q645.9 43.5 646.9 43.0M651.9 39.5Q651.7 40.6 651.0 40.9M651.0 40.9Q651.3 41.2 651.5 41.3M642.4 46.8Q642.3 47.1 642.2 47.9M642.2 47.9Q641.6 47.0 640.5 46.6M640.5 46.6Q639.6 47.0 639.1 46.7M639.1 46.7Q638.6 45.9 638.0 45.4M641.3 39.7Q641.7 39.8 642.6 40.3M642.6 40.3Q643.8 40.6 644.1 41.4M641.3 39.7Q641.1 40.2 639.8 40.7M639.8 40.7Q637.9 41.8 637.0 43.7M637.0 43.7Q636.8 43.7 636.6 43.8M636.6 43.8Q637.0 44.1 638.0 45.4M645.3 48.9Q644.4 49.0 643.7 48.8M643.7 48.8Q643.5 48.2 642.4 46.8M645.3 48.9Q645.2 48.6 645.4 48.3M645.4 48.3Q645.8 48.1 646.9 48.5M644.3 41.4Q644.1 41.1 643.5 41.1M643.5 41.1Q643.6 41.4 644.1 41.4M639.2 52.3Q639.9 50.6 640.6 49.5M640.6 49.5Q640.3 47.8 640.5 46.6M639.2 52.3Q637.3 51.4 636.8 49.6M636.8 49.6Q636.8 49.3 636.5 48.8M636.5 48.8Q637.0 47.7 637.5 47.5M637.5 47.5Q638.3 46.0 638.0 45.4M630.4 52.4Q631.6 51.8 633.2 51.7M633.2 51.7Q634.1 50.8 636.5 48.8M497.2 11.8Q498.6 11.7 500.3 11.9M500.3 11.9Q502.4 11.4 503.1 11.3M503.1 11.3Q501.0 8.7 501.2 7.8M501.2 7.8Q501.1 5.5 500.3 3.9M499.7 -0.6Q500.5 0.2 501.2 1.3M501.2 1.3Q501.0 1.4 500.7 1.2M489.8 7.5Q493.7 9.0 494.4 10.4M494.4 10.4Q496.2 10.8 497.1 11.3M495.6 24.6Q496.0 27.4 494.1 28.7M494.1 28.7Q492.5 30.2 492.0 31.9M579.5 112.5Q579.7 112.2 580.2 111.9M580.2 111.9Q579.8 112.4 579.6 112.9M574.2 109.7Q573.5 110.5 572.3 111.9M572.3 111.9Q571.8 112.2 571.7 112.9M575.4 118.7Q575.2 118.2 574.6 117.6M574.6 117.6Q574.3 117.6 573.7 117.8M550.4 97.0Q550.2 96.9 550.4 96.3M550.4 96.3Q551.0 96.4 551.1 96.8M551.9 96.2Q551.2 96.2 550.7 96.9M550.7 96.9Q551.0 96.8 551.1 96.8M532.6 32.3Q533.2 31.7 534.3 31.3M534.3 31.3Q535.2 30.8 537.8 31.8M532.6 32.3Q532.8 31.8 534.3 29.9M534.3 29.9Q534.4 27.3 536.6 26.7M536.6 26.7Q536.9 26.6 537.7 26.2M537.7 26.2Q539.3 26.7 540.5 27.2M540.5 27.2Q540.2 27.8 540.1 28.8M540.1 28.8Q540.3 29.6 538.8 31.5M542.7 58.7Q542.9 59.4 543.1 59.6M543.1 59.6Q543.5 59.0 543.8 58.9M516.4 96.2Q516.3 96.0 515.7 95.4M515.7 95.4Q515.7 95.6 516.1 96.6M516.1 96.6Q514.9 97.2 514.2 97.7M514.2 97.7Q512.9 99.1 512.2 100.6M514.0 96.0Q513.7 97.1 513.7 97.5M513.7 97.5Q512.8 98.2 511.2 99.1M512.2 100.6Q511.6 100.4 510.7 100.6M510.7 100.6Q511.0 100.5 511.2 100.2M516.5 96.2Q517.2 95.8 517.4 95.7M517.4 95.7Q517.1 96.1 516.4 96.2M515.2 102.1Q515.5 102.2 515.5 102.6M515.5 102.6Q514.9 102.2 514.3 102.1M509.6 93.2Q510.9 95.2 511.0 95.6M511.0 95.6Q511.3 96.7 511.2 99.1M516.2 102.2Q517.3 102.3 517.6 102.2M517.6 102.2Q518.6 102.1 519.3 101.6M519.2 103.3Q519.1 103.4 518.9 103.5M518.9 103.5Q519.1 102.1 519.3 101.7M519.3 101.7Q518.9 101.6 518.5 101.4M518.5 101.4Q519.1 101.5 519.3 101.6M516.3 107.2Q515.4 107.7 515.2 107.9M515.2 107.9Q515.9 107.2 516.3 106.9M515.2 102.1Q515.0 102.2 514.5 102.3M514.5 102.3Q515.7 102.0 516.2 102.2M519.7 109.6Q519.5 108.9 519.3 106.8M519.3 106.8Q519.5 104.6 519.2 103.3M519.5 101.3Q519.9 101.9 520.2 102.5M520.2 102.5Q520.1 102.4 519.3 101.6M527.1 102.1Q526.6 103.4 525.9 104.6M525.9 104.6Q525.6 105.6 524.2 106.2M489.8 48.4Q489.5 49.1 489.0 49.1M489.0 49.1Q489.8 48.5 489.8 48.0M532.8 44.8Q532.0 45.2 530.8 45.9M530.8 45.9Q530.1 45.7 529.5 45.5M520.5 48.6Q521.1 48.2 522.6 47.9M522.6 47.9Q522.9 48.5 523.0 48.9M527.8 62.4Q527.3 60.9 528.5 57.6M528.5 57.6Q528.5 55.3 528.0 54.2M522.5 56.0Q522.1 56.1 521.8 56.8M521.8 56.8Q522.4 57.3 523.1 59.3M517.0 67.7Q516.8 67.9 516.5 67.8M516.5 67.8Q516.9 67.7 517.0 67.1M517.0 67.1Q516.9 66.6 517.3 65.9M517.3 65.9Q518.3 66.3 519.7 65.7M520.6 65.0Q520.7 64.7 520.3 64.2M520.3 64.2Q520.1 65.2 519.7 65.7M500.5 69.1Q501.3 71.9 502.9 73.2M502.9 73.2Q504.5 75.6 504.0 77.7M504.0 77.7Q504.1 77.5 504.4 77.1M504.4 77.1Q504.6 77.7 505.8 77.9M503.8 65.2Q504.1 65.5 504.2 65.8M504.2 65.8Q502.9 65.9 502.4 65.1M503.8 65.2Q501.9 67.7 504.0 72.1M504.0 72.1Q506.2 75.1 506.2 76.7M505.8 77.9Q505.5 77.8 505.2 77.5M505.2 77.5Q506.0 76.8 506.2 76.7M501.2 64.3Q499.7 64.5 499.2 64.8M499.2 64.8Q499.0 64.4 498.5 64.1M501.2 64.3Q501.8 63.7 502.1 63.5M502.1 63.5Q501.9 64.0 502.4 65.1M494.0 66.4Q494.0 66.7 493.5 67.3M493.5 67.3Q492.1 67.4 491.8 68.9M508.8 81.7Q507.0 80.2 506.7 79.8M506.7 79.8Q506.0 78.5 505.8 77.9M510.2 71.7Q509.5 72.4 508.3 73.7M508.3 73.7Q507.5 74.4 506.2 76.7M510.2 71.7Q510.0 71.6 509.6 71.5M509.6 71.5Q510.4 71.0 510.2 69.4M510.2 69.4Q509.6 68.7 508.0 67.8M508.0 67.8Q505.1 67.3 504.7 64.9M488.4 62.0Q489.5 61.3 489.9 61.0M489.9 61.0Q490.2 60.1 490.8 59.7M500.8 32.6Q500.4 32.6 499.2 32.7M499.2 32.7Q499.4 32.6 499.4 32.4M503.6 23.9Q504.0 23.3 505.5 23.4M505.5 23.4Q505.8 24.2 505.9 24.8M499.4 32.4Q499.6 32.3 500.3 31.6M500.3 31.6Q499.5 31.5 499.0 31.9M505.9 24.8Q506.4 25.2 507.4 26.0M507.4 26.0Q507.1 26.6 507.9 28.4M509.4 31.9Q509.5 30.4 509.1 29.6M509.1 29.6Q509.1 29.6 509.1 29.6M509.1 29.6Q508.9 29.7 508.7 29.9M508.7 29.9Q508.0 29.0 507.9 28.4M512.2 33.4Q512.7 33.6 513.7 32.9M513.7 32.9Q515.9 33.5 517.2 34.4M512.2 33.4Q511.7 32.6 511.5 32.2M511.5 32.2Q510.7 32.7 509.4 31.9M517.2 34.4Q516.0 32.3 516.0 31.1M516.0 31.1Q514.7 29.7 516.0 26.2M509.1 29.6Q510.3 29.2 512.9 28.5M512.9 28.5Q513.7 27.8 516.0 26.2M547.7 3.3Q547.5 4.1 545.5 6.2M545.5 6.2Q542.8 7.6 542.5 11.3M536.3 7.8Q536.2 8.2 537.0 9.7M537.0 9.7Q538.7 9.6 539.3 9.8M564.1 1.7Q565.9 0.8 567.0 -0.1M567.0 -0.1Q568.1 0.6 571.3 -0.5M585.2 81.4Q585.4 81.4 586.6 80.6M586.6 80.6Q586.7 81.3 586.4 81.7M586.4 81.7Q587.8 81.0 589.3 80.7M589.3 80.7Q590.1 79.4 590.0 78.9M590.2 73.6Q590.8 74.3 591.0 76.8M591.0 76.8Q590.6 78.2 590.0 78.9M588.7 73.7Q585.4 72.7 583.8 72.6M583.8 72.6Q582.2 72.8 578.6 71.7M577.3 76.5Q577.1 75.5 577.3 73.5M577.3 73.5Q577.2 73.2 578.0 72.0M578.0 72.0Q576.8 72.1 576.5 72.1M576.5 72.1Q575.3 71.1 575.3 70.2M609.1 63.9Q609.1 64.3 608.9 64.6M608.9 64.6Q609.2 64.2 609.1 63.9M616.4 62.3Q616.3 60.9 615.2 60.5M615.2 60.5Q615.2 60.6 615.2 60.6M609.1 63.9Q608.1 63.2 608.5 61.0M608.5 61.0Q608.9 60.0 610.3 58.9M615.2 60.6Q612.6 59.4 611.9 59.0M611.9 59.0Q610.6 59.1 610.3 58.9M640.9 4.5Q641.7 5.4 641.7 6.4M641.7 6.4Q641.9 7.3 641.3 8.0M651.7 6.0Q651.5 6.0 650.7 6.7M650.7 6.7Q651.1 6.6 651.5 6.5M655.3 15.6Q654.4 16.0 653.3 15.4M653.3 15.4Q650.6 15.5 649.5 15.4M656.6 9.7Q654.6 10.3 652.9 9.4M652.9 9.4Q652.2 9.5 651.2 8.6M627.3 48.2Q627.0 47.7 628.0 45.8M628.0 45.8Q627.0 45.3 627.0 44.6M627.0 44.6Q628.4 43.9 629.2 42.6M629.2 42.6Q630.8 41.3 631.0 40.3M634.0 40.5Q633.3 40.6 633.2 41.2M633.2 41.2Q632.7 41.0 631.0 40.3M638.2 100.0Q637.8 100.1 637.7 100.3M637.7 100.3Q637.3 101.7 637.0 102.1M636.9 103.4Q637.4 103.5 637.8 103.1M637.8 103.1Q637.8 103.6 637.4 105.0M637.4 105.0Q637.4 105.9 638.1 106.1M638.1 106.1Q638.6 106.0 639.9 106.4M645.0 102.8Q644.4 103.6 641.6 104.9M641.6 104.9Q641.4 106.2 639.9 106.4M526.6 124.0Q525.9 124.5 524.0 125.3M524.0 125.3Q524.0 126.1 523.2 126.4M526.6 124.0Q526.7 124.0 526.8 123.8M526.8 123.8Q527.1 122.7 528.1 122.5M528.1 122.5Q526.1 119.8 524.6 119.4M524.6 119.4Q522.5 119.8 518.7 117.9M518.7 117.9Q519.1 119.3 518.8 122.3M518.8 122.3Q519.3 124.6 518.8 125.3M523.2 126.4Q522.6 127.0 521.3 127.1M521.3 127.1Q521.2 127.0 521.2 127.0M518.8 125.3Q519.6 125.8 521.0 127.1M521.0 127.1Q521.1 127.0 521.2 127.0M527.2 131.4Q527.7 131.9 528.1 132.6M528.1 132.6Q527.5 131.9 527.2 131.5M527.2 131.4Q527.7 130.3 527.4 128.1M527.4 128.1Q527.8 124.9 526.6 124.0M527.2 131.5Q526.9 130.0 525.8 129.8M525.8 129.8Q525.7 127.9 523.2 126.4M515.4 126.6Q516.2 126.1 516.9 125.4M516.9 125.4Q517.6 125.0 518.8 125.3M518.0 116.5Q518.8 116.6 519.3 117.7M519.3 117.7Q519.0 117.9 518.7 117.9M522.4 138.5Q522.1 139.4 521.1 139.4M521.1 139.4Q521.5 138.9 521.9 138.5M514.7 136.3Q515.4 136.7 516.2 136.4M516.2 136.4Q517.4 137.4 517.8 137.4M524.2 106.2Q523.9 106.9 523.2 107.1M523.2 107.1Q523.0 108.5 523.8 109.4M530.5 108.5Q529.4 108.5 526.9 108.5M526.9 108.5Q525.5 108.7 523.8 109.4M521.5 112.0Q521.6 111.9 522.3 111.0M522.3 111.0Q522.0 111.6 521.5 112.0M523.8 109.4Q523.3 109.3 522.8 109.9M522.8 109.9Q522.5 111.0 521.5 112.0M553.3 149.9Q553.3 150.0 553.4 150.1M553.4 150.1Q553.6 149.3 552.6 148.3M552.6 148.3Q554.1 147.3 554.5 147.2M554.5 147.2Q556.1 145.2 556.3 144.4M556.3 144.4Q556.2 145.3 557.3 146.1M557.3 146.1Q557.6 146.6 557.7 146.9M553.4 151.3Q553.1 150.8 552.5 150.8M552.5 150.8Q553.1 150.0 553.3 149.9M558.3 153.1Q558.4 152.7 559.9 151.2M559.9 151.2Q560.0 151.0 560.1 150.9M560.1 150.9Q558.5 150.8 558.1 149.9M558.1 149.9Q558.1 148.2 557.6 147.8M548.9 145.3Q550.5 145.2 551.7 146.9M551.7 146.9Q551.7 147.7 552.6 148.3M553.4 141.9Q553.7 142.5 553.9 142.7M553.9 142.7Q555.6 144.1 556.3 144.0M553.4 141.9Q552.8 141.1 553.1 138.9M553.1 138.9Q553.7 138.2 554.0 136.6M556.3 144.0Q556.6 144.1 557.4 144.1M557.4 144.1Q559.0 142.7 559.4 142.2M559.4 142.2Q558.9 140.5 559.3 139.1M559.3 139.1Q560.5 136.0 560.2 134.6M560.2 134.6Q559.2 134.5 558.4 133.7M558.4 133.7Q557.0 133.5 555.9 134.2M554.0 136.6Q554.1 135.3 554.7 134.9M554.7 134.9Q555.4 134.7 555.9 134.2M549.6 144.3Q550.0 144.4 550.6 144.2M550.6 144.2Q551.6 143.8 553.4 141.9M556.3 144.4Q556.2 144.3 556.1 144.2M556.1 144.2Q556.3 144.2 556.3 144.0M549.5 138.2Q549.7 137.5 550.6 137.3M550.6 137.3Q552.1 136.7 554.0 136.6M562.1 145.3Q562.0 145.1 561.8 144.6M561.8 144.6Q561.5 144.9 561.9 146.0M562.8 133.7Q562.7 133.7 562.5 133.5M562.5 133.5Q560.6 134.2 560.2 134.6M566.0 144.1Q564.5 144.5 564.2 145.8M564.2 145.8Q563.1 145.1 562.1 145.3M563.2 156.9Q563.4 156.5 563.8 156.3M563.8 156.3Q564.8 156.3 565.3 156.7M532.4 136.1Q532.4 134.4 533.1 133.0M533.1 133.0Q534.4 131.7 533.8 129.7M527.2 131.4Q527.7 130.6 529.6 130.0M529.6 130.0Q530.0 129.0 532.0 128.1M528.1 122.5Q528.7 122.5 529.1 122.0M529.1 122.0Q529.3 122.2 529.6 122.1M531.2 124.9Q531.3 125.2 531.3 125.8M531.3 125.8Q531.4 125.5 531.4 125.3M540.6 133.2Q542.9 132.4 543.4 131.5M543.4 131.5Q546.7 131.2 548.4 129.3M545.1 136.3Q546.4 134.4 547.8 134.2M547.8 134.2Q548.1 132.6 549.7 131.1M549.7 131.1Q549.7 130.3 550.1 129.3M550.1 129.3Q549.0 129.1 548.4 129.3M537.7 137.3Q538.2 136.2 539.0 136.1M539.0 136.1Q540.7 135.6 540.7 133.7M533.8 129.7Q534.9 129.2 537.0 130.1M537.0 130.1Q537.8 130.3 539.3 129.9M539.3 129.9Q539.6 130.0 540.7 130.5M540.7 130.5Q541.0 132.4 540.6 133.2M543.7 143.4Q543.0 143.5 542.6 143.1M542.6 143.1Q542.0 142.9 540.5 142.3M545.7 137.6Q545.8 137.3 546.4 137.2M546.4 137.2Q545.9 137.2 545.1 136.3M555.0 133.3Q554.9 133.4 554.6 133.4M554.6 133.4Q555.0 133.9 555.9 134.2M555.0 133.3Q554.9 132.3 554.6 132.1M554.6 132.1Q554.7 131.3 555.0 129.6M551.0 123.5Q551.0 123.2 550.9 123.1M550.9 123.1Q550.6 124.2 549.4 124.2M548.4 129.3Q547.3 128.1 547.0 127.0M547.0 127.0Q547.3 126.9 547.5 126.3M549.4 124.2Q547.8 125.0 547.3 124.7M547.3 124.7Q547.6 125.2 547.5 126.3M547.5 126.3Q545.5 125.7 544.8 125.7M544.8 125.7Q542.8 126.3 541.5 125.2M531.4 125.3Q532.8 126.6 535.5 126.1M535.5 126.1Q538.4 124.7 541.4 125.1M538.3 150.8Q538.4 149.7 537.9 149.0M537.9 149.0Q536.7 147.1 536.0 146.5M538.3 150.8Q538.9 151.3 539.3 151.6M539.3 151.6Q539.4 151.5 539.5 151.4M540.1 150.8Q540.2 150.9 540.2 151.1M540.2 151.1Q539.9 151.3 539.5 151.4M538.2 144.8Q537.7 145.3 538.1 146.8M538.1 146.8Q537.6 146.5 536.0 146.5M541.6 149.4Q541.1 149.7 540.8 149.9M540.8 149.9Q540.4 150.3 540.1 150.8M540.0 142.5Q539.3 142.6 537.9 143.2M537.9 143.2Q537.7 144.2 538.2 144.8M539.8 154.1Q538.7 153.2 538.9 152.2M538.9 152.2Q539.0 152.0 539.5 151.4M535.5 146.2Q533.8 145.8 533.2 146.1M533.2 146.1Q532.9 145.2 532.8 143.7M535.5 146.2Q534.7 146.1 533.7 146.3M533.7 146.3Q533.9 148.0 533.8 148.4M538.3 150.8Q538.2 150.8 537.9 150.6M537.9 150.6Q537.1 150.6 536.6 150.8M536.6 150.8Q535.7 150.3 535.0 150.4M535.0 150.4Q534.6 148.8 533.8 148.4M492.1 134.0Q492.6 134.5 493.6 134.5M493.6 134.5Q493.7 135.0 493.9 135.7M492.1 134.0Q492.8 132.3 494.6 130.5M494.6 130.5Q498.5 131.1 499.5 129.3M499.5 129.3Q499.9 129.8 499.8 130.4M499.8 130.4Q499.3 131.1 499.8 133.1M490.7 132.9Q491.1 132.7 491.8 132.9M491.8 132.9Q492.2 133.5 492.1 134.0M488.3 141.8Q490.2 141.7 491.2 140.4M491.2 140.4Q494.1 137.9 494.2 136.7M494.2 136.7Q494.1 136.0 494.6 135.5M494.6 135.5Q494.1 135.8 493.9 135.7M487.9 129.3Q489.0 129.5 490.3 130.1M490.3 130.1Q490.7 131.6 490.7 132.9M499.5 128.4Q500.1 128.0 500.6 128.2M500.6 128.2Q499.9 128.9 499.5 129.3M507.5 136.8Q507.0 136.8 505.9 136.8M505.9 136.8Q505.6 136.5 504.7 136.5M508.8 136.2Q508.5 136.7 507.9 136.7M507.9 136.7Q508.0 136.7 508.0 136.8M504.7 136.5Q503.5 135.4 503.0 135.3M503.0 135.3Q501.7 133.6 499.8 133.1M495.4 155.8Q495.6 156.9 497.0 157.5M497.0 157.5Q499.1 158.1 500.0 157.2M512.3 146.3Q511.7 146.0 511.5 145.5M511.5 145.5Q511.8 145.8 511.6 146.3M516.1 151.5Q516.3 151.3 516.7 151.2M516.7 151.2Q516.9 150.6 516.2 149.9M516.1 151.5Q515.9 151.7 515.3 151.6M515.3 151.6Q516.3 152.1 516.6 152.0M510.5 153.6Q510.1 153.3 509.2 153.7M509.2 153.7Q509.6 153.7 510.0 153.9M502.7 145.8Q503.6 147.6 504.7 148.2M504.7 148.2Q504.5 148.3 504.3 148.4M501.2 158.7Q502.4 157.1 503.2 154.8M503.2 154.8Q504.4 153.4 504.7 151.7M510.0 153.9Q510.1 154.1 510.1 154.3M510.1 154.3Q509.3 153.5 508.9 153.0M508.9 153.0Q509.0 152.5 508.5 150.5M508.5 150.5Q507.9 149.4 508.3 146.7M638.8 55.4Q638.3 56.2 638.4 56.5M638.4 56.5Q638.5 57.4 638.3 58.2M638.8 55.4Q638.5 55.2 638.5 55.0M638.5 55.0Q639.2 55.1 639.7 54.9M639.7 54.9Q639.8 55.4 640.2 55.8M640.2 55.8Q641.6 54.9 642.4 54.9M641.3 63.6Q640.5 61.0 641.5 59.2M641.5 59.2Q641.1 56.8 642.8 55.2M635.0 61.8Q634.7 60.4 635.7 59.4M635.7 59.4Q637.6 58.4 638.3 58.2M630.7 53.8Q634.0 53.2 635.5 54.8M635.5 54.8Q638.0 54.5 638.8 55.4M630.7 53.8Q630.7 54.5 630.8 55.0M630.8 55.0Q630.8 54.5 630.6 53.9M639.2 52.3Q639.5 52.6 639.4 52.9M639.4 52.9Q639.7 54.0 639.7 54.9M630.4 52.4Q630.0 53.3 629.4 53.4M629.4 53.4Q630.3 53.4 630.7 53.8M645.3 48.9Q644.3 49.3 643.6 51.1M643.6 51.1Q644.2 53.8 642.4 54.9M635.4 66.6Q634.5 66.1 634.7 64.3M634.7 64.3Q634.5 64.3 634.4 64.3M626.3 68.8Q626.3 69.0 626.5 69.2M626.5 69.2Q626.3 69.0 625.7 68.3M626.3 68.8Q626.1 72.5 625.6 74.2M625.6 74.2Q625.3 76.0 622.8 78.0M625.7 68.3Q623.9 68.5 621.8 69.4M621.8 69.4Q620.0 70.0 619.3 71.2M622.8 78.0Q622.5 77.0 621.7 74.6M621.7 74.6Q619.5 72.2 619.3 71.2M635.4 66.6Q634.8 69.0 633.2 69.6M633.2 69.6Q632.9 69.8 631.3 70.7M617.6 70.7Q617.1 71.5 617.4 72.2M617.4 72.2Q618.6 71.4 619.3 71.2M622.3 61.2Q621.5 61.2 619.7 60.9M619.7 60.9Q619.0 61.4 619.2 62.5M602.8 46.1Q603.5 46.5 603.9 47.0M603.9 47.0Q603.8 46.8 603.7 46.6M602.8 46.1Q601.8 45.4 600.6 44.9M600.6 44.9Q599.8 45.6 599.3 45.7M599.3 45.7Q599.0 47.3 597.3 49.5M597.3 49.5Q596.4 52.1 596.3 53.9M596.3 53.9Q597.9 53.1 600.4 52.8M600.4 52.8Q601.1 53.7 602.2 54.1M602.2 54.1Q603.3 51.5 603.6 50.7M603.6 50.7Q603.0 49.1 603.7 46.6M609.1 63.9Q608.2 64.6 607.6 64.8M607.6 64.8Q607.7 64.7 608.1 64.4M609.1 63.9Q609.0 63.2 607.6 61.4M607.6 61.4Q605.4 59.7 604.4 57.8M602.0 61.5Q602.5 60.6 603.2 60.1M603.2 60.1Q603.0 60.2 602.1 61.0M604.4 57.8Q605.0 58.3 604.4 60.0M604.4 60.0Q603.3 61.0 602.1 61.0M584.5 87.1Q584.3 87.4 583.9 87.7M583.9 87.7Q584.1 88.4 585.3 89.6M586.4 82.6Q587.3 82.6 588.6 83.7M588.6 83.7Q588.4 84.9 589.2 86.1M589.2 86.1Q589.3 87.1 588.3 88.2M588.3 88.2Q588.1 88.6 588.7 89.5M580.0 88.7Q581.8 89.1 582.3 89.4M582.3 89.4Q584.0 90.3 585.3 89.6M586.4 81.7Q585.8 81.4 585.5 81.6M585.5 81.6Q586.1 81.9 586.4 82.6M578.9 91.5Q580.0 91.6 581.1 90.9M581.1 90.9Q584.4 89.8 585.5 89.9M578.9 91.5Q579.3 91.3 579.3 90.8M579.3 90.8Q579.0 89.6 580.0 88.7M576.6 93.7Q577.1 94.3 577.1 95.3M577.1 95.3Q577.5 95.7 579.3 96.8M576.6 93.7Q576.9 93.9 577.6 93.5M577.6 93.5Q578.1 92.3 578.9 91.5M579.3 96.8Q581.2 97.2 582.2 97.0M582.2 97.0Q582.4 97.3 583.7 98.2M586.7 95.4Q586.4 95.6 585.7 96.4M585.7 96.4Q585.8 96.7 585.6 97.3M610.9 77.4Q610.3 76.5 611.2 73.5M611.2 73.5Q609.7 73.0 609.2 70.7M610.9 77.4Q610.5 77.2 608.6 76.2M608.6 76.2Q608.1 76.4 607.6 76.2M609.2 70.7Q608.7 70.1 608.5 69.9M608.5 69.9Q608.6 70.3 608.6 70.8M602.1 73.6Q603.7 74.8 605.2 75.9M605.2 75.9Q605.5 76.4 606.0 77.0M602.1 73.6Q602.8 72.4 603.0 71.9M603.0 71.9Q603.2 71.9 603.6 72.0M606.0 77.0Q607.3 76.2 607.8 75.4M607.8 75.4Q607.8 75.6 607.6 76.2M604.9 68.2Q604.1 67.5 603.9 67.4M603.9 67.4Q604.1 68.0 604.2 68.4M612.9 69.7Q612.4 69.1 611.8 69.1M611.8 69.1Q609.8 69.0 609.2 70.7M602.1 73.6Q601.1 74.1 600.0 74.2M600.0 74.2Q599.7 74.2 598.7 75.2M606.0 77.0Q606.2 76.7 606.5 76.2M606.5 76.2Q606.1 76.8 605.5 77.5M598.7 75.2Q598.9 76.4 599.3 77.4M599.3 77.4Q599.3 78.1 599.9 78.7M610.9 77.4Q611.5 77.9 612.5 77.7M612.5 77.7Q612.4 78.0 612.4 78.1M613.5 77.6Q613.6 77.5 613.7 77.5M613.7 77.5Q612.7 77.7 612.4 78.1M622.8 78.5Q622.9 77.8 623.9 77.1M623.9 77.1Q623.1 77.9 622.8 78.0M613.5 77.6Q613.8 77.5 613.7 76.8M613.7 76.8Q613.9 77.8 615.0 78.3M631.1 70.7Q631.8 73.6 630.4 74.3M630.4 74.3Q627.9 76.7 627.3 78.6M622.8 78.5Q622.9 78.5 623.2 78.8M623.2 78.8Q623.2 78.9 623.2 78.9M627.3 78.6Q626.7 79.7 625.7 79.7M625.7 79.7Q624.6 79.4 623.2 78.9M636.9 97.4Q635.0 97.8 634.1 99.4M634.1 99.4Q633.6 99.6 632.1 100.4M632.1 100.4Q631.9 100.0 631.1 99.6M631.1 99.6Q631.4 99.9 632.0 100.8M632.0 100.8Q632.2 101.1 632.8 101.6M632.8 101.6Q633.7 101.5 634.5 102.5M597.3 149.6Q596.2 150.7 594.5 151.5M594.5 151.5Q593.4 151.5 593.0 152.3M597.3 149.6Q597.2 149.6 597.1 149.6M597.1 149.6Q596.8 148.7 596.7 147.9M583.3 145.0Q583.5 144.6 584.1 143.4M584.1 143.4Q583.6 141.8 583.2 141.3M580.6 144.4Q580.7 144.1 581.2 143.3M581.2 143.3Q582.4 142.1 582.4 141.3M582.4 141.3Q582.5 141.1 582.9 140.9M582.9 140.9Q583.2 141.1 583.2 141.3M575.5 144.7Q575.6 142.7 575.7 141.0M575.7 141.0Q577.4 139.7 578.3 138.4M582.4 141.3Q581.0 140.8 580.4 140.3M580.4 140.3Q579.6 138.6 578.3 138.4M576.4 136.6Q576.9 135.9 577.7 136.0M577.7 136.0Q577.9 136.2 578.0 136.3M572.1 147.1Q571.7 146.7 571.0 146.7M571.0 146.7Q571.2 146.6 571.6 146.5M578.3 138.4Q578.5 137.7 579.1 137.1M579.1 137.1Q578.5 136.4 578.0 136.3M597.3 149.6Q597.5 149.7 598.5 149.3M598.5 149.3Q598.1 149.6 598.0 149.9M596.7 147.9Q596.2 146.7 595.7 145.2M595.7 145.2Q596.8 144.0 596.5 141.3M590.9 144.4Q591.7 142.6 594.3 142.0M594.3 142.0Q595.5 141.6 596.2 140.7M655.2 147.6Q654.6 147.5 653.3 148.5M653.3 148.5Q651.6 149.7 650.5 149.7M620.2 152.5Q621.9 155.3 622.8 158.0M622.8 158.0Q623.2 159.4 625.1 162.8M638.2 76.6Q637.0 77.1 635.8 76.1M635.8 76.1Q634.6 75.8 634.3 76.0M639.1 73.8Q639.7 73.5 640.5 73.4M640.5 73.4Q640.3 74.1 639.6 74.8M639.1 73.8Q638.5 74.3 637.6 74.0M637.6 74.0Q636.6 74.0 633.9 73.9M639.6 71.7Q640.5 72.6 640.5 73.3M640.5 73.3Q639.8 73.5 639.1 73.8M640.1 75.0Q640.1 75.2 640.0 75.3M640.0 75.3Q639.9 75.2 639.6 74.8M652.6 63.0Q652.9 63.2 653.3 63.5M653.3 63.5Q653.2 64.0 653.2 64.6M653.2 64.6Q654.0 63.7 654.4 63.7M654.4 63.7Q657.1 64.1 658.0 62.3M653.1 59.8Q654.2 60.0 655.3 60.9M655.3 60.9Q656.3 61.2 658.0 62.3M653.7 53.0Q653.6 53.1 653.2 53.4M653.2 53.4Q652.6 54.3 651.2 56.0M646.1 65.8Q646.1 65.5 646.6 64.6M646.6 64.6Q646.7 64.6 646.7 64.7M651.7 65.8Q650.7 65.1 649.7 63.7M649.7 63.7Q649.8 63.0 649.3 62.6M649.3 62.6Q649.3 61.9 649.6 61.0M649.6 61.0Q649.6 61.3 649.7 61.3M655.9 47.6Q655.3 45.9 654.1 44.9M654.1 44.9Q653.9 44.4 652.0 42.6M655.9 47.6Q656.2 47.6 656.4 47.4M656.4 47.4Q658.5 45.7 659.0 44.9M652.0 42.6Q654.5 44.5 655.1 44.6M655.1 44.6Q656.1 43.6 658.5 44.2M653.5 52.5Q652.2 51.8 651.9 50.3M651.9 50.3Q650.6 49.0 649.5 49.1M657.3 40.7Q657.8 41.5 658.3 42.0M658.3 42.0Q658.1 43.6 658.5 44.2M526.5 31.3Q528.7 31.5 529.3 30.2M529.3 30.2Q529.5 30.4 530.4 30.7M530.4 30.7Q531.3 30.4 532.4 31.1M532.4 31.1Q532.7 31.4 532.1 32.6M532.1 35.4Q532.9 34.5 533.1 34.4M533.1 34.4Q532.7 33.5 532.1 32.6M524.1 36.8Q522.7 36.8 522.0 36.0M522.0 36.0Q521.4 35.6 519.4 35.3M524.1 36.8Q525.0 36.7 525.8 35.2M525.8 35.2Q525.7 35.3 525.5 35.7M528.1 43.2Q527.9 42.7 527.9 41.6M527.9 41.6Q526.5 42.2 526.0 42.1M528.1 43.2Q528.6 41.4 531.3 41.2M531.3 41.2Q532.7 40.1 533.1 36.9M526.0 42.1Q525.7 40.2 524.2 39.6M524.2 39.6Q523.7 38.6 524.1 36.8M533.1 36.9Q532.3 36.9 531.9 36.6M531.9 36.6Q531.8 35.6 532.1 35.4M532.6 32.3Q532.9 32.8 533.4 33.4M533.4 33.4Q532.6 33.1 532.1 32.6M533.4 37.0Q534.8 36.7 536.6 35.4M536.6 35.4Q536.8 33.6 537.8 31.8M495.5 21.6Q495.9 20.7 495.7 20.0M495.7 20.0Q497.3 19.3 497.7 19.0M495.5 21.6Q495.1 21.9 494.1 22.4M494.1 22.4Q492.2 22.8 491.3 23.0M490.6 22.7Q490.8 21.8 489.9 19.0M489.9 19.0Q488.1 17.5 487.9 16.5M490.6 22.7Q490.5 22.3 489.9 21.9M489.9 21.9Q490.9 22.3 491.3 23.0M491.2 15.3Q491.1 15.9 490.7 16.6M490.7 16.6Q490.0 17.3 487.9 16.3M487.9 16.5Q487.7 16.2 487.3 16.2M487.3 16.2Q487.5 16.2 487.9 16.3M488.9 31.9Q489.8 30.9 489.3 28.5M489.3 28.5Q489.1 25.8 491.3 23.0M490.3 32.4Q491.2 32.4 491.6 31.9M491.6 31.9Q491.9 31.8 492.0 31.9M486.1 22.7Q485.8 21.4 486.5 18.8M486.5 18.8Q488.0 17.2 487.9 16.5M489.8 7.5Q490.3 9.0 491.0 12.4M491.0 12.4Q491.4 13.2 491.2 15.3M497.2 11.8Q496.2 13.1 496.6 14.7M496.6 14.7Q496.3 16.4 496.6 17.2M503.0 52.7Q503.7 52.9 504.7 52.4M504.7 52.4Q506.5 53.8 507.4 53.6M503.0 52.7Q502.7 52.6 502.5 52.7M502.5 52.7Q501.9 52.9 501.2 53.6M507.4 53.6Q507.8 54.8 507.6 55.3M507.6 55.3Q507.9 56.3 510.1 59.2M507.1 62.7Q507.4 62.8 507.6 63.1M507.6 63.1Q508.2 62.7 508.2 62.1M503.9 47.3Q506.3 46.5 508.1 47.2M508.1 47.2Q509.8 46.7 510.5 46.9M513.1 49.8Q512.9 49.5 513.0 48.5M513.0 48.5Q513.2 48.4 513.8 48.9M513.1 49.8Q511.6 50.3 510.9 51.5M510.9 51.5Q510.3 53.2 507.4 53.6M510.5 46.9Q510.4 47.4 511.2 48.8M511.2 48.8Q512.0 49.0 513.8 48.9M506.5 36.4Q505.3 37.2 505.1 37.6M505.1 37.6Q504.7 38.3 502.4 40.9M498.7 39.2Q498.4 37.1 499.3 35.0M499.3 35.0Q499.1 34.4 499.4 32.4M498.7 39.2Q499.8 39.7 500.7 39.1M500.7 39.1Q500.7 39.7 500.4 40.4M500.4 40.4Q500.5 40.1 500.9 39.5M500.9 39.5Q501.5 40.5 502.4 40.9M507.5 43.2Q509.0 42.5 509.8 41.9M509.8 41.9Q510.0 41.3 511.0 40.0M507.5 43.2Q507.7 42.9 507.6 42.3M507.6 42.3Q507.3 42.7 507.5 43.2M510.6 39.0Q511.0 38.5 511.1 38.4M511.1 38.4Q510.7 39.1 511.0 40.0M508.2 43.7Q507.7 43.1 507.3 42.8M507.3 42.8Q507.5 43.0 507.5 43.2M513.4 42.2Q513.3 41.8 512.6 40.8M512.6 40.8Q511.6 40.4 511.0 40.0M510.5 46.9Q510.0 46.5 510.0 46.0M510.0 46.0Q508.8 44.5 508.2 43.7M504.0 43.6Q504.0 42.8 503.2 42.7M503.2 42.7Q502.4 42.2 502.4 40.9M490.7 33.5Q492.5 34.4 494.0 36.1M494.0 36.1Q496.1 39.2 498.0 39.4M490.7 33.5Q490.1 35.4 490.7 38.4M490.7 38.4Q491.4 41.6 492.1 42.3M492.1 42.3Q492.3 42.6 492.7 42.7M492.7 42.7Q492.5 42.6 492.3 42.6M498.7 39.2Q498.0 39.0 497.4 38.5M497.4 38.5Q497.7 39.0 498.0 39.4M490.3 32.4Q490.1 32.4 489.6 32.0M489.6 32.0Q489.8 32.2 490.7 33.5M549.7 97.7Q549.6 99.3 549.4 101.9M549.4 101.9Q547.9 105.1 548.8 106.1M554.1 107.0Q552.2 107.9 551.2 107.6M551.2 107.6Q550.3 107.2 550.1 107.1M548.8 106.1Q549.7 106.0 550.0 106.3M550.0 106.3Q550.2 106.7 550.1 107.1M540.7 105.6Q541.3 106.0 541.2 106.5M541.2 106.5Q541.6 107.1 542.4 107.4M554.1 107.0Q555.4 107.3 556.6 109.6M556.6 109.6Q559.2 110.6 560.6 111.0M550.1 107.1Q550.2 107.6 550.3 108.1M550.3 108.1Q550.4 110.4 550.3 111.5M550.3 111.5Q551.6 110.9 555.6 111.4M555.6 111.4Q556.6 112.4 559.5 113.0M559.5 113.0Q559.3 111.7 559.5 111.2M559.5 111.2Q559.9 110.8 560.6 111.0M567.9 113.4Q567.7 112.9 567.6 112.7M567.6 112.7Q567.4 113.0 567.0 113.5M567.0 113.5Q567.1 114.7 567.8 117.5M567.8 117.5Q567.5 119.6 567.0 121.3M556.1 102.5Q557.3 102.9 557.9 103.4M557.9 103.4Q558.9 102.2 559.6 101.9M562.6 108.1Q562.0 108.1 561.3 108.5M561.3 108.5Q561.3 109.8 561.6 110.5M561.6 110.5Q561.8 111.2 562.1 111.3M562.1 111.3Q561.2 111.4 560.6 111.0M566.0 127.2Q568.2 127.7 568.9 127.5M568.9 127.5Q569.1 126.9 569.9 125.9M566.0 127.2Q565.9 127.0 566.0 126.7M566.0 126.7Q565.8 126.4 565.0 124.9M569.9 125.9Q573.0 124.7 573.6 123.1M573.6 123.1Q574.2 120.9 575.5 118.9M575.4 118.7Q575.5 119.5 575.9 119.9M575.9 119.9Q576.0 119.5 575.5 118.9M565.0 124.9Q566.1 123.8 566.0 123.3M566.0 123.3Q566.1 121.7 567.0 121.3M570.6 104.7Q570.8 104.3 571.4 103.4M571.4 103.4Q571.2 103.6 571.5 104.1M571.5 104.1Q572.9 103.8 575.3 104.3M575.3 104.3Q576.6 103.9 577.4 103.8M578.6 105.3Q578.6 105.4 578.5 105.4M578.5 105.4Q578.1 105.0 577.4 103.8M574.2 109.7Q573.7 110.2 573.5 110.3M573.5 110.3Q573.8 109.7 574.1 109.5M582.5 104.9Q583.0 105.3 583.2 105.3M583.2 105.3Q583.1 105.9 583.8 107.0M569.7 104.3Q569.9 104.6 570.5 104.9M570.5 104.9Q570.5 104.8 570.6 104.7M576.2 100.7Q576.7 100.9 576.9 100.9M576.9 100.9Q576.0 100.6 575.4 100.9M576.2 100.7Q576.8 102.2 577.1 103.0M577.1 103.0Q577.1 103.2 577.4 103.8M583.7 98.2Q584.0 100.0 582.8 101.1M582.8 101.1Q583.8 103.8 582.5 104.9M538.0 57.5Q539.4 56.7 539.7 56.6M539.7 56.6Q539.0 54.6 539.3 54.1M545.0 58.2Q545.6 58.7 545.7 59.3M545.7 59.3Q545.6 59.0 545.0 58.2M545.0 58.2Q544.9 56.5 544.0 55.9M544.0 55.9Q544.5 54.6 543.6 53.5M514.8 59.8Q516.7 59.6 517.5 59.7M517.5 59.7Q518.2 60.8 519.2 61.6M514.7 58.6Q514.7 58.4 515.1 57.9M515.1 57.9Q516.5 58.1 517.7 56.6M517.7 56.6Q518.6 56.7 518.8 56.4M518.8 56.4Q519.8 56.6 520.4 56.7M519.3 61.5Q519.9 61.3 520.1 60.7M520.1 60.7Q519.8 61.3 519.2 61.6M513.1 49.8Q512.8 53.3 514.6 54.7M514.6 54.7Q515.7 56.0 514.7 58.6M510.1 59.2Q511.4 59.9 512.0 59.7M512.0 59.7Q513.4 59.6 514.4 59.1M522.5 56.0Q522.3 55.7 521.8 55.5M521.8 55.5Q522.2 55.5 522.4 55.9M522.4 55.9Q521.3 55.8 521.0 55.5M521.0 55.5Q520.5 56.1 520.4 56.7M510.6 64.3Q512.1 65.3 512.8 64.9M512.8 64.9Q513.3 64.7 514.8 65.3M515.4 66.3Q515.5 66.3 515.5 66.3M515.5 66.3Q514.9 65.8 514.8 65.3M510.2 69.4Q510.5 69.4 511.2 69.4M511.2 69.4Q510.7 69.2 510.6 69.0M508.2 62.1Q508.5 62.9 509.3 64.3M509.3 64.3Q509.9 64.5 510.6 64.3M514.8 59.8Q515.6 61.4 515.2 62.7M515.2 62.7Q514.4 63.5 514.8 65.3M497.4 52.6Q496.4 51.1 495.2 49.2M495.2 49.2Q495.8 46.1 494.9 45.1M497.4 52.6Q497.6 52.5 497.5 52.2M497.5 52.2Q496.4 52.2 495.4 52.8M494.0 52.7Q492.8 54.0 492.8 55.3M492.8 55.3Q491.3 56.3 490.6 56.3M490.8 59.7Q490.6 59.6 490.3 59.4M490.3 59.4Q490.9 58.8 491.0 58.2M494.2 60.6Q494.2 60.3 494.1 60.3M494.1 60.3Q494.0 60.4 494.0 60.5M494.2 60.6Q494.3 60.8 494.7 60.9M494.7 60.9Q496.1 60.3 496.9 60.8M494.0 60.5Q494.4 60.4 495.1 60.6M495.1 60.6Q494.9 59.3 494.5 58.3M497.0 59.4Q496.8 59.6 496.8 59.8M496.8 59.8Q496.0 59.6 494.7 58.2M494.0 66.4Q494.5 64.7 494.6 63.0M494.6 63.0Q495.1 61.5 494.2 60.6M498.5 64.1Q498.1 63.8 497.8 63.5M497.8 63.5Q498.0 62.9 496.9 60.8M491.0 58.2Q491.7 58.0 492.0 57.7M492.0 57.7Q493.8 57.2 494.5 58.3M498.7 52.7Q498.8 52.5 498.9 52.4M498.9 52.4Q498.2 52.4 497.4 52.6M602.8 46.1Q602.8 43.5 604.1 42.6M604.1 42.6Q603.3 40.6 603.5 38.3M603.5 38.3Q604.1 38.0 604.4 38.1M604.4 38.1Q605.4 37.9 606.9 38.7M603.7 46.6Q604.9 46.1 605.9 46.3M605.9 46.3Q606.0 46.7 606.4 46.7M606.4 46.7Q608.5 44.2 609.2 43.4M609.2 43.4Q610.4 40.9 610.9 40.3M610.9 40.3Q610.4 40.5 609.6 40.3M609.6 40.3Q607.7 39.4 606.9 38.7M596.5 16.0Q595.5 16.6 595.1 16.5M595.1 16.5Q594.0 16.4 592.3 17.0M591.7 16.1Q591.8 16.3 591.9 17.2M591.9 17.2Q592.2 17.1 592.3 17.0M591.7 16.1Q590.4 14.4 590.7 13.1M590.7 13.1Q590.1 11.2 590.6 10.5M590.6 10.5Q591.3 10.8 591.6 10.8M591.6 10.8Q592.0 10.6 592.7 9.9M596.7 20.0Q595.8 20.1 594.0 20.0M594.0 20.0Q593.2 19.2 591.4 19.5M566.0 11.0Q564.6 9.3 563.5 8.7M563.5 8.7Q562.1 6.8 559.3 5.0M559.5 -0.7Q559.0 1.4 559.3 2.2M559.3 2.2Q560.1 3.3 559.3 5.0M568.6 6.9Q568.5 5.9 568.7 5.5M568.7 5.5Q568.1 5.2 567.8 4.4M568.6 6.9Q569.2 8.2 568.4 9.1M568.4 9.1Q567.7 9.6 566.0 11.0M564.1 1.7Q565.2 1.7 566.1 2.6M566.1 2.6Q567.5 3.1 567.8 4.4M547.7 3.3Q547.9 7.0 550.2 8.2M550.2 8.2Q552.5 9.6 553.7 12.2M542.5 11.3Q543.6 11.5 544.0 12.5M544.0 12.5Q543.4 13.4 543.5 13.8M553.7 12.2Q553.0 12.4 551.5 12.8M551.5 12.8Q550.5 12.7 548.3 14.5M555.9 12.1Q555.6 11.8 554.7 12.3M554.7 12.3Q555.2 12.4 555.4 12.5M588.4 21.4Q588.4 20.4 588.5 20.0M588.5 20.0Q587.9 18.4 586.4 17.8M588.4 21.4Q588.8 20.1 589.8 19.8M589.8 19.8Q590.8 20.1 591.4 19.5M591.7 16.1Q590.3 16.9 588.0 16.0M588.0 16.0Q587.4 17.1 586.5 17.6M586.5 17.6Q587.2 17.3 587.6 17.2M587.6 17.2Q587.3 17.6 586.4 17.8M590.6 10.5Q590.1 11.0 589.2 10.8M589.2 10.8Q589.2 10.8 589.1 10.6M586.5 17.6Q587.1 16.2 586.6 15.1M586.6 15.1Q588.0 13.2 588.4 10.8M567.8 4.4Q569.7 3.1 570.6 3.0M570.6 3.0Q571.2 2.4 571.8 2.0M571.6 0.1Q571.9 0.5 572.1 0.6M572.1 0.6Q571.8 1.5 571.8 2.0M588.1 25.5Q588.2 25.4 588.3 25.4M588.3 25.4Q588.4 25.5 588.5 25.5M598.0 25.2Q595.9 25.3 594.3 24.9M594.3 24.9Q591.0 26.5 588.5 25.5M594.9 34.4Q595.8 33.9 595.8 32.4M595.8 32.4Q595.7 32.0 595.4 31.8M597.7 36.3Q598.7 36.5 599.5 36.9M599.5 36.9Q600.1 35.5 601.6 35.4M596.0 44.0Q596.1 43.8 596.0 43.4M596.0 43.4Q596.2 43.8 596.1 44.1M596.0 44.0Q595.9 41.5 597.7 39.5M597.7 39.5Q596.9 38.3 597.7 36.3M603.5 38.3Q602.6 37.2 602.3 36.5M602.3 36.5Q602.2 35.8 601.6 35.4M599.3 45.7Q598.7 45.4 597.7 45.8M597.7 45.8Q596.3 45.3 596.1 44.1M598.0 25.2Q598.4 24.8 598.5 24.4M598.5 24.4Q598.5 25.4 598.0 25.7M588.5 25.5Q589.8 27.2 591.0 28.7M591.0 28.7Q593.3 30.3 595.4 31.8M573.2 65.2Q573.3 64.6 573.6 64.0M573.6 64.0Q573.1 63.3 573.0 62.9M573.0 62.9Q573.3 62.5 573.3 62.3M573.3 62.3Q572.6 62.3 571.9 62.4M595.4 62.4Q593.8 61.4 593.5 60.3M593.5 60.3Q592.8 59.7 592.4 59.3M597.9 58.5Q598.1 57.5 597.5 56.9M597.5 56.9Q596.4 56.3 596.0 55.2M596.1 44.1Q595.5 46.3 594.5 47.3M594.5 47.3Q595.4 50.7 593.9 52.7M593.9 52.7Q594.6 53.8 595.8 53.8M595.8 53.8Q595.9 53.9 596.2 54.0M597.9 58.5Q597.6 58.7 597.4 58.8M597.4 58.8Q598.2 58.5 598.7 58.6M602.2 54.1Q602.4 53.3 602.9 53.1M602.9 53.1Q602.5 54.1 602.4 54.4M598.7 58.6Q599.7 57.3 601.1 56.3M601.1 56.3Q602.0 54.8 602.4 54.4M594.8 82.0Q595.5 83.9 594.9 84.6M594.9 84.6Q594.5 86.4 595.2 86.9M592.2 81.2Q591.8 81.7 590.8 84.0M590.8 84.0Q591.4 84.2 591.5 84.6M595.2 86.9Q594.7 86.9 594.3 86.8M594.3 86.8Q593.8 87.4 593.1 87.7M590.0 78.9Q590.9 79.3 591.2 78.9M591.2 78.9Q592.0 80.0 592.2 81.2M589.2 86.1Q589.5 85.4 589.8 85.0M589.8 85.0Q591.1 84.6 591.5 84.6M592.1 89.1Q590.7 89.2 590.4 88.7M590.4 88.7Q589.9 88.6 588.7 89.5M592.1 89.1Q592.4 89.0 592.6 88.4M592.6 88.4Q592.8 88.2 593.1 87.7M585.0 62.7Q583.7 62.5 582.6 62.5M582.6 62.5Q581.1 61.8 580.9 60.4M582.0 67.3Q581.4 67.6 581.2 68.6M581.2 68.6Q581.1 68.4 580.7 68.0M580.7 68.0Q581.5 67.4 580.6 65.2M580.6 65.2Q580.0 64.7 579.0 64.6M579.0 64.6Q577.8 64.1 577.6 63.3M577.6 63.3Q577.8 61.7 577.6 60.7M590.2 73.6Q590.3 73.1 590.7 72.8M590.7 72.8Q590.7 72.8 590.7 72.9M578.6 71.7Q579.3 70.4 579.1 68.8M579.1 68.8Q579.9 68.8 580.7 68.0M590.7 71.0Q590.6 70.9 590.2 70.9M590.2 70.9Q591.0 71.6 590.7 72.9M574.5 68.0Q575.6 66.5 577.4 66.8M577.4 66.8Q577.7 66.2 579.0 64.6M573.0 62.9Q574.0 61.1 574.4 60.8M574.4 60.8Q575.9 60.5 577.5 60.7M577.5 60.7Q577.2 60.8 576.4 61.2M576.4 61.2Q577.0 60.6 577.6 60.7M551.2 45.0Q551.7 45.6 552.7 45.9M552.7 45.9Q554.9 47.1 556.5 49.0M548.1 49.6Q547.9 50.1 548.2 51.0M548.2 51.0Q549.1 52.8 550.1 54.2M545.0 58.2Q547.3 57.9 547.9 57.2M547.9 57.2Q548.9 55.1 550.1 54.2M538.4 45.3Q538.1 44.7 536.6 44.0M536.6 44.0Q536.4 42.6 536.7 42.1M540.5 47.4Q540.8 47.1 541.4 47.2M541.4 47.2Q541.6 46.7 542.3 46.9M536.7 42.1Q536.8 41.4 536.8 40.9M536.8 40.9Q537.6 40.0 537.7 39.1M541.7 39.5Q541.0 39.2 540.6 38.9M540.6 38.9Q540.1 38.8 539.0 38.6M539.0 38.6Q538.6 39.0 538.4 39.2M538.4 39.2Q538.2 39.3 537.7 39.1M532.8 44.8Q533.1 43.5 534.2 43.3M534.2 43.3Q535.0 42.9 536.7 42.1M538.0 50.6Q538.5 50.4 540.1 49.9M540.1 49.9Q540.1 47.9 540.5 47.4M548.1 48.5Q547.6 47.6 546.0 47.8M546.0 47.8Q545.2 48.1 542.3 46.9M533.4 37.0Q533.9 37.2 535.5 37.5M535.5 37.5Q536.1 38.6 537.7 39.1M580.8 20.6Q578.3 19.9 577.3 20.1M577.3 20.1Q576.3 18.9 574.5 19.3M580.8 20.6Q581.7 23.2 581.3 24.1M581.3 24.1Q581.2 24.5 581.1 25.2M574.2 20.4Q575.4 20.9 576.3 22.8M576.3 22.8Q576.1 24.0 577.7 26.0M577.7 26.0Q578.8 26.4 579.6 26.6M579.6 26.6Q580.8 25.7 581.1 25.2M580.8 20.6Q581.1 19.8 581.9 19.6M581.9 19.6Q581.5 18.5 581.9 17.3M588.1 25.5Q588.3 25.1 588.7 24.7M588.7 24.7Q588.3 24.9 587.4 26.2M581.9 17.3Q583.3 17.7 583.5 18.7M583.5 18.7Q584.5 18.7 586.4 17.8M581.1 25.2Q581.0 25.4 581.1 25.5M581.1 25.5Q581.2 25.4 581.2 25.2M581.2 25.2Q583.1 25.0 583.7 25.4M583.7 25.4Q584.6 26.8 586.9 26.2M612.9 50.5Q613.8 49.0 614.1 46.9M614.1 46.9Q615.4 46.1 617.4 45.3M612.9 50.5Q612.5 51.0 612.1 51.5M612.1 51.5Q613.0 51.3 613.4 51.7M613.4 51.7Q615.2 52.2 616.1 52.3M616.1 52.3Q617.7 53.6 618.6 53.4M620.7 49.7Q620.5 50.4 620.7 50.6M620.7 50.6Q619.6 51.5 619.0 53.3M609.3 48.0Q609.7 48.3 610.2 49.7M610.2 49.7Q611.9 49.9 612.9 50.5M609.3 48.0Q610.6 48.9 613.9 47.3M613.9 47.3Q614.9 46.1 617.1 44.5M617.1 44.5Q617.3 45.3 617.6 45.4M617.6 45.4Q617.5 45.3 617.4 45.3M627.3 48.2Q625.3 47.7 624.0 48.8M624.0 48.8Q622.2 49.0 620.7 49.7M626.3 43.8Q625.8 44.1 625.7 44.1M625.7 44.1Q626.5 44.1 627.0 44.6M622.7 60.3Q622.1 57.5 619.9 56.8M619.9 56.8Q618.9 54.5 619.0 53.3M614.5 56.6Q615.5 55.6 615.8 55.3M615.8 55.3Q617.0 54.3 618.6 53.4M592.7 9.9Q592.2 8.4 592.3 8.0M592.3 8.0Q592.9 7.0 592.8 6.3M595.9 3.3Q596.8 4.0 597.4 4.4M597.4 4.4Q597.7 5.2 598.4 6.3M596.2 9.6Q596.3 9.0 596.6 8.7M596.6 8.7Q597.6 8.4 598.4 6.3M603.9 13.6Q604.4 14.1 604.5 15.0M604.5 15.0Q603.7 15.1 603.0 15.0M603.0 15.0Q601.1 16.2 599.0 15.7M599.0 15.7Q598.6 15.5 596.9 16.4M638.0 27.8Q637.2 28.3 636.9 29.0M636.9 29.0Q635.7 28.9 633.8 28.2M638.0 27.8Q637.8 27.7 637.5 27.7M637.5 27.7Q637.8 27.6 638.0 27.8M638.0 27.8Q636.9 27.7 634.9 26.4M634.9 26.4Q632.9 25.2 632.1 25.5M635.2 21.3Q634.8 23.3 636.1 24.0M636.1 24.0Q638.0 23.9 639.2 25.5M635.2 21.3Q635.4 21.0 637.7 18.3M637.7 18.3Q638.7 16.9 639.7 14.0M639.2 25.5Q642.7 24.1 643.6 24.2M643.6 24.2Q644.7 22.4 645.6 21.5M639.7 14.0Q640.4 14.1 641.7 13.4M641.7 13.4Q641.4 13.4 641.3 13.5M645.6 21.5Q646.7 20.3 647.3 20.0M647.3 20.0Q647.3 19.8 647.2 18.9M639.2 25.7Q638.9 25.2 638.5 24.8M638.5 24.8Q639.1 25.1 639.2 25.5M639.2 25.7Q638.6 26.7 638.5 26.8M638.5 26.8Q638.3 27.3 638.0 27.8M630.3 22.7Q630.3 23.2 630.9 24.3M630.9 24.3Q631.6 24.8 631.7 25.2M630.3 22.7Q632.2 23.1 633.1 22.0M633.1 22.0Q634.2 21.0 635.2 21.3M645.6 31.0Q645.9 28.3 646.3 25.8M646.3 25.8Q646.5 24.6 645.6 21.5M641.3 8.0Q641.8 11.0 640.3 11.7M640.3 11.7Q640.5 12.8 641.3 13.5M649.5 15.4Q648.8 15.5 648.5 15.8M648.5 15.8Q648.0 16.7 647.1 16.7M647.3 32.7Q646.9 33.3 645.7 33.1M645.7 33.1Q645.8 32.6 646.0 32.3M652.2 24.8Q650.7 23.2 650.2 21.7M650.2 21.7Q648.4 20.2 647.2 18.9M634.0 40.5Q634.3 39.3 634.9 39.0M634.9 39.0Q634.8 37.0 635.7 36.3M635.7 36.3Q637.2 36.7 638.3 35.8M638.3 35.8Q639.8 35.7 640.7 34.9M646.0 32.3Q644.8 32.3 644.5 32.6M644.5 32.6Q642.7 34.1 641.0 34.5M638.0 27.8Q638.0 28.1 638.2 28.2M638.2 28.2Q638.0 29.1 637.8 30.2M637.8 30.2Q638.6 30.8 640.0 33.1M640.0 33.1Q640.3 33.6 641.0 34.5M640.7 34.9Q640.9 35.2 641.3 35.2M641.3 35.2Q641.2 34.6 641.0 34.5M631.7 25.2Q631.9 26.9 630.7 27.7M630.7 27.7Q630.4 29.0 631.6 31.1M634.9 35.6Q634.8 34.3 634.2 34.0M634.2 34.0Q633.5 33.4 634.2 31.2M633.6 31.0Q633.8 31.3 633.5 31.9M633.5 31.9Q634.0 31.4 634.2 31.2M628.5 36.1Q626.7 37.2 625.7 38.3M625.7 38.3Q624.7 38.4 623.7 39.1M623.3 39.0Q623.1 38.1 623.9 34.5M623.9 34.5Q626.0 31.5 626.0 30.6M623.3 39.0Q623.3 39.3 623.9 40.2M623.9 40.2Q623.9 39.6 623.7 39.1M634.9 35.6Q632.3 34.5 631.5 33.9M631.5 33.9Q630.1 34.1 628.9 34.4M631.6 31.1Q631.3 31.5 630.7 31.4M630.7 31.4Q629.1 31.5 628.5 32.8M602.8 11.9Q602.8 11.5 603.8 10.3M603.8 10.3Q603.9 10.0 603.1 9.0M598.4 6.3Q598.4 6.6 598.7 6.8M598.7 6.8Q598.5 6.3 598.6 6.1M603.9 13.6Q604.2 13.1 604.2 12.8M604.2 12.8Q604.2 12.9 603.9 13.6M653.5 52.5Q653.6 52.5 653.8 52.5M653.8 52.5Q653.9 52.9 653.7 53.0M536.9 85.2Q535.8 85.3 535.3 85.9M535.3 85.9Q534.7 85.6 534.4 85.1M534.4 85.1Q533.2 84.4 533.1 83.4M533.1 83.4Q532.1 83.1 531.7 82.6M535.0 77.6Q535.1 79.3 534.5 80.1M534.5 80.1Q534.7 80.2 534.6 80.7M540.7 89.4Q540.0 87.8 539.5 87.0M539.5 87.0Q537.9 86.5 536.9 85.2M529.8 79.0Q530.9 79.3 531.3 81.0M531.3 81.0Q531.2 81.2 531.8 81.9M525.7 90.1Q527.5 88.3 527.6 87.4M527.6 87.4Q529.3 85.0 531.7 82.6M486.9 142.5Q485.3 143.0 485.1 144.6M485.1 144.6Q484.0 145.5 483.5 146.2M494.9 140.7Q493.6 141.6 493.1 143.9M493.1 143.9Q491.9 145.5 490.0 145.5M490.0 145.5Q489.3 146.7 486.2 146.4M486.2 146.4Q484.8 146.4 483.5 146.2M481.1 147.3Q481.6 147.1 483.4 147.3M483.4 147.3Q483.4 147.0 483.5 146.2M493.7 151.2Q495.0 150.6 495.7 148.6M495.7 148.6Q495.6 148.2 495.4 147.5M495.4 147.5Q495.3 147.6 495.1 147.9M495.1 147.9Q494.8 147.4 494.9 146.7M495.5 139.0Q496.1 140.4 497.6 140.3M497.6 140.3Q498.1 139.4 499.1 139.2M495.5 139.0Q494.8 140.0 494.2 140.1M494.2 140.1Q494.8 140.1 495.2 140.5M499.1 139.2Q499.6 141.2 499.7 142.0M499.7 142.0Q500.4 142.6 500.5 143.1M500.5 143.1Q500.1 142.7 499.9 142.3M499.9 142.3Q498.8 143.2 498.6 143.6M494.2 136.7Q494.5 137.0 494.4 137.2M494.4 137.2Q494.8 138.1 495.5 139.0M494.9 140.7Q495.2 140.5 495.4 140.6M495.4 140.6Q495.3 140.6 495.2 140.5M496.5 147.6Q497.0 147.8 497.3 148.0M497.3 148.0Q497.8 147.6 498.2 146.7M496.5 147.6Q496.9 147.3 496.9 147.2M496.9 147.2Q496.5 147.3 495.4 147.5M498.2 146.7Q498.5 146.3 498.3 145.0M498.3 145.0Q498.7 144.6 498.6 143.6M500.8 143.2Q501.1 142.9 501.5 142.5M501.5 142.5Q501.0 142.7 500.5 143.1M502.2 145.7Q501.9 145.4 500.8 145.5M500.8 145.5Q500.5 145.8 500.2 146.8M500.2 146.8Q499.9 147.2 498.5 147.5M498.5 147.5Q498.1 146.9 498.2 146.7M561.4 150.2Q562.4 150.9 563.2 151.9M563.2 151.9Q564.1 152.1 564.6 151.7M564.6 151.7Q567.1 151.2 568.7 151.0M568.7 151.0Q570.0 150.8 570.5 151.2M571.9 150.4Q571.7 150.7 571.6 151.3M571.6 151.3Q571.5 151.0 571.4 150.9M572.1 150.2Q572.1 150.0 572.0 149.6M572.0 149.6Q571.8 150.1 571.9 150.4M562.4 156.1Q562.6 155.5 563.0 154.6M563.0 154.6Q563.1 153.6 564.6 151.7M565.3 156.7Q565.9 155.5 566.8 154.8M566.8 154.8Q567.3 154.4 570.5 151.2M571.0 154.8Q570.9 153.8 570.1 153.2M570.1 153.2Q570.2 151.3 571.4 150.9M530.4 120.7Q530.0 118.5 529.6 116.9M529.6 116.9Q528.1 115.4 527.6 115.3M530.5 108.5Q530.6 109.9 530.2 110.6M530.2 110.6Q531.1 110.7 532.3 110.3M527.6 115.3Q528.8 113.6 529.0 112.3M529.0 112.3Q531.4 111.9 532.3 110.3M541.4 112.5Q541.2 111.9 540.5 111.7M540.5 111.7Q541.3 112.0 541.4 113.0M541.4 112.5Q540.3 112.0 537.3 112.1M537.3 112.1Q533.3 109.8 532.4 110.4M533.6 114.1Q533.6 113.7 533.0 113.4M533.0 113.4Q532.6 112.0 532.4 110.4M537.9 105.2Q537.7 107.1 536.1 108.2M536.1 108.2Q533.2 110.5 532.4 110.4M532.4 110.4Q532.0 110.3 531.5 110.2M531.5 110.2Q531.9 110.2 532.4 110.4M541.4 125.1Q541.6 125.1 542.3 125.3M542.3 125.3Q541.4 125.1 541.1 123.8M528.7 149.2Q529.4 150.0 529.5 150.3M529.5 150.3Q529.3 150.7 528.5 151.0M521.3 147.9Q522.4 148.5 522.8 149.8M522.8 149.8Q523.1 150.3 522.8 150.6M522.8 150.6Q523.7 151.3 525.3 150.9M525.3 150.9Q526.9 151.0 528.0 151.3M528.0 151.3Q528.1 151.3 528.5 151.1M528.5 151.1Q528.5 151.1 528.5 151.0M528.7 145.2Q528.5 145.4 528.6 145.7M528.6 145.7Q528.3 146.6 528.6 147.1M519.8 146.1Q520.1 146.4 520.3 147.1M520.3 147.1Q520.4 147.7 521.3 147.9M533.8 148.4Q533.4 148.7 531.8 149.0M531.8 149.0Q530.1 148.7 528.7 149.2M530.0 152.1Q530.1 151.6 530.0 151.1M530.0 151.1Q529.1 151.1 528.5 151.0M520.1 152.8Q520.3 152.8 520.4 152.9M520.4 152.9Q522.0 152.5 522.8 150.6M524.7 157.0Q526.1 155.5 525.9 153.1M525.9 153.1Q526.3 151.5 528.0 151.3M500.5 149.5Q499.9 150.7 500.1 151.1M500.1 151.1Q499.3 151.2 498.6 150.5M500.5 149.5Q501.3 149.4 501.8 149.7M501.8 149.7Q502.6 149.5 503.9 150.5M498.4 152.2Q498.4 152.2 498.4 152.3M498.4 152.3Q498.5 152.9 499.2 153.1M500.2 146.8Q499.1 148.3 499.3 149.0M499.3 149.0Q499.6 149.0 500.5 149.5M496.5 147.6Q496.7 147.8 497.1 148.2M497.1 148.2Q498.1 149.5 498.6 150.5M504.3 148.4Q503.7 149.1 503.7 149.7M503.7 149.7Q503.9 149.9 503.9 150.5M504.7 151.7Q504.4 151.8 503.8 152.0M503.8 152.0Q503.9 151.6 504.0 150.9M500.0 157.2Q498.5 155.8 498.7 154.3M498.7 154.3Q498.8 154.1 499.2 153.1M495.6 152.6Q497.0 152.9 497.9 152.2M497.9 152.2Q498.1 152.2 498.4 152.2M604.5 57.3Q604.5 56.7 603.7 55.7M603.7 55.7Q603.1 54.8 602.5 54.5M604.5 57.3Q605.3 56.2 608.2 57.0M608.2 57.0Q609.3 56.6 609.6 56.3M608.3 52.2Q608.2 52.8 608.4 54.8M608.4 54.8Q609.2 55.5 609.9 55.7M609.9 55.7Q609.7 55.4 609.4 55.2M609.4 55.2Q609.5 55.4 609.9 55.8M602.1 61.0Q600.5 61.3 599.2 60.8M599.2 60.8Q599.4 59.8 598.7 58.6M602.4 54.4Q602.4 55.2 602.6 55.4M602.6 55.4Q602.5 54.8 602.5 54.5M610.3 58.9Q609.3 57.9 609.1 57.7M609.1 57.7Q609.4 57.4 609.6 56.3M606.4 46.7Q606.9 47.9 607.7 48.0M607.7 48.0Q607.7 47.7 607.6 47.6M607.6 47.6Q607.6 48.0 607.7 48.9M607.7 48.9Q608.4 50.2 608.3 52.2M609.3 48.0Q609.0 47.4 609.3 46.8M609.3 46.8Q608.2 47.5 607.6 47.6M613.4 51.7Q613.2 53.7 611.2 54.6M611.2 54.6Q610.2 55.5 609.9 55.7M585.6 97.3Q586.2 98.5 590.3 101.3M590.3 101.3Q591.4 103.3 593.9 104.6M594.7 104.1Q596.8 102.9 595.7 98.7M595.7 98.7Q595.2 97.1 595.9 95.6M595.1 94.8Q595.1 95.1 594.6 95.7M594.6 95.7Q595.2 95.5 595.9 95.6M627.3 78.6Q629.8 80.0 630.4 80.6M630.4 80.6Q631.7 80.6 632.1 81.9M634.3 76.0Q634.3 77.5 633.2 78.5M633.2 78.5Q633.3 79.3 633.7 79.8M632.1 81.9Q632.3 80.8 632.5 80.1M632.5 80.1Q633.2 79.6 633.7 79.8M633.7 79.8Q634.6 80.2 635.1 80.2M635.1 80.2Q637.4 80.4 637.9 78.9M641.7 84.1Q640.2 83.2 639.8 82.9M639.8 82.9Q638.8 82.3 638.8 81.1M641.7 84.1Q642.0 83.5 642.3 81.9M642.3 81.9Q643.1 80.6 643.0 79.8M642.3 78.7Q641.6 78.3 641.0 78.2M641.0 78.2Q640.3 78.9 638.7 79.4M638.8 81.1Q639.4 80.1 639.8 79.4M639.8 79.4Q639.0 79.4 638.7 79.4M638.7 79.4Q638.3 79.7 637.6 80.0M637.6 80.0Q637.5 79.8 637.9 78.9M636.7 93.5Q635.6 93.3 635.4 92.2M635.4 92.2Q635.2 92.4 634.3 92.0M634.3 92.0Q634.4 91.1 634.7 88.0M634.7 88.0Q633.8 86.6 633.8 85.3M627.6 93.9Q629.5 92.0 631.8 92.2M631.8 92.2Q633.0 92.3 634.3 92.0M641.7 84.1Q641.8 83.9 641.6 83.6M641.6 83.6Q641.8 84.3 641.7 84.7M651.5 86.0Q651.2 87.0 650.6 87.3M650.6 87.3Q650.1 87.8 649.3 87.8M649.3 87.8Q647.8 87.9 646.9 87.5M646.9 87.5Q645.7 87.7 645.4 89.1M653.8 97.8Q653.0 96.9 652.2 96.7M652.2 96.7Q652.6 96.1 652.8 95.1M654.6 98.1Q654.7 98.2 655.2 98.6M655.2 98.6Q654.0 98.7 653.8 97.8M646.8 101.0Q647.8 100.2 648.2 100.0M648.2 100.0Q647.9 100.3 647.7 100.4M651.1 93.3Q651.2 93.2 651.1 92.9M651.1 92.9Q651.7 93.3 651.6 94.1M614.3 152.7Q613.0 153.2 612.6 153.0M612.6 153.0Q612.1 153.9 611.5 154.9M618.2 153.5Q618.2 154.4 616.7 156.1M616.7 156.1Q616.0 156.2 615.6 156.9M612.7 148.4Q612.6 149.7 613.2 150.4M613.2 150.4Q614.4 152.2 614.3 152.7M607.3 151.0Q608.8 151.5 609.6 153.8M609.6 153.8Q610.7 154.3 611.5 154.9M610.8 148.1Q609.2 148.2 607.9 147.9M607.9 147.9Q608.0 148.7 607.2 149.4M618.8 153.4Q618.7 153.0 618.5 152.5M618.5 152.5Q618.1 153.2 618.2 153.5M618.9 145.1Q620.0 144.9 620.7 145.6M620.7 145.6Q621.2 147.0 622.6 148.2M622.6 148.2Q623.2 148.0 623.7 147.7M623.7 147.7Q623.4 148.3 622.6 148.5M571.2 130.9Q572.9 130.9 574.7 132.4M574.7 132.4Q576.5 132.5 576.9 132.1M578.0 136.3Q577.5 136.4 577.4 136.1M577.4 136.1Q577.8 135.3 578.6 134.8M601.9 155.4Q601.2 152.6 602.0 151.5M602.0 151.5Q602.0 150.7 601.8 149.4M601.9 155.4Q600.8 155.3 599.8 155.7M599.8 155.7Q599.6 156.0 599.6 156.2M600.8 149.2Q601.7 149.1 602.4 148.9M602.4 148.9Q602.1 149.1 601.8 149.4M617.7 141.8Q618.2 141.7 618.7 140.8M618.7 140.8Q620.0 140.1 620.9 138.6M620.9 138.6Q620.8 137.9 620.6 137.4M620.6 137.4Q620.7 136.9 619.3 135.0M619.3 135.0Q618.8 135.0 617.7 135.0M617.7 135.0Q616.5 134.3 614.9 135.2M613.5 139.1Q614.1 137.6 614.7 136.9M614.7 136.9Q614.1 136.3 614.0 136.2M612.9 139.3Q613.2 139.0 613.0 138.1M613.0 138.1Q613.5 138.6 613.5 139.1M612.9 139.3Q612.9 141.3 611.9 142.2M611.9 142.2Q611.4 142.3 611.0 142.9M618.9 145.1Q618.7 144.8 618.8 144.1M618.8 144.1Q617.7 142.6 617.7 141.8M611.0 142.9Q610.5 144.2 611.0 145.6M611.0 145.6Q610.3 147.3 610.8 148.1M622.5 130.4Q621.3 132.4 622.4 134.5M622.4 134.5Q622.4 135.4 622.9 137.6M621.4 130.6Q620.5 130.9 619.4 133.0M619.4 133.0Q619.4 134.4 619.3 135.0M617.0 130.1Q617.5 130.1 618.1 130.3M618.1 130.3Q619.4 131.4 621.4 130.6M617.0 130.1Q617.0 131.4 616.9 133.6M616.9 133.6Q615.6 134.0 614.9 135.2M629.5 143.9Q628.5 142.2 628.4 141.3M628.4 141.3Q629.1 140.2 628.7 138.9M638.3 139.2Q637.1 140.0 633.5 138.4M633.5 138.4Q631.5 137.2 630.3 135.4M622.6 148.2Q623.3 147.1 625.6 146.0M625.6 146.0Q628.4 145.9 629.3 144.6M629.3 144.6Q629.5 144.5 629.9 144.2M629.9 144.2Q629.6 143.9 629.5 143.9M622.9 137.6Q625.1 137.8 626.2 138.1M626.2 138.1Q627.2 139.2 628.7 138.9M637.8 150.8Q638.6 150.2 638.8 147.5M638.8 147.5Q639.8 145.6 639.6 144.9M639.6 144.9Q639.1 143.8 637.6 143.9M637.6 143.9Q637.5 143.2 637.5 141.1M622.5 130.4Q623.1 129.3 622.9 128.8M622.9 128.8Q624.8 128.6 625.4 128.4M622.6 148.5Q622.8 150.1 624.5 151.0M624.5 151.0Q625.2 151.4 627.2 154.1M633.1 148.5Q632.9 149.3 632.0 150.8M632.0 150.8Q630.5 152.2 629.8 153.4M627.2 154.1Q627.5 154.4 628.5 154.3M628.5 154.3Q629.4 153.9 629.8 153.4M646.9 63.4Q646.6 61.3 646.7 60.7M646.7 60.7Q647.6 58.9 648.7 58.0M646.9 63.4Q646.6 62.3 645.3 61.2M645.3 61.2Q645.8 60.7 645.5 59.1M646.2 57.3Q646.0 57.7 645.3 58.7M645.3 58.7Q645.5 58.8 645.5 59.1M648.7 57.4Q649.6 57.5 649.9 57.5M649.9 57.5Q649.1 57.5 648.7 58.0M646.7 64.7Q646.3 64.9 645.9 64.8M645.9 64.8Q646.6 64.1 646.9 63.4M649.7 61.3Q649.0 60.2 648.4 58.7M648.4 58.7Q648.8 58.1 648.7 58.0M642.8 55.2Q643.2 55.1 643.8 55.4M643.8 55.4Q645.0 56.3 646.2 57.3M651.2 56.0Q651.0 56.4 651.0 57.3M651.0 57.3Q649.7 57.3 648.7 57.4M509.5 5.9Q511.9 6.2 513.4 7.1M513.4 7.1Q514.9 7.8 515.6 10.5M509.5 5.9Q509.2 6.4 508.1 6.6M508.1 6.6Q508.6 6.4 508.9 6.0M503.1 11.3Q503.8 13.1 505.4 13.1M505.4 13.1Q505.7 13.3 505.8 13.3M508.9 6.0Q506.5 8.1 506.8 9.9M506.8 9.9Q506.0 11.7 505.8 13.3M500.3 19.5Q501.1 19.0 502.5 17.7M502.5 17.7Q504.0 16.6 505.8 13.6M505.8 13.3Q505.9 13.6 506.4 14.0M506.4 14.0Q506.2 13.9 505.8 13.6M524.5 4.3Q523.3 7.9 521.1 8.3M521.1 8.3Q518.2 11.0 516.2 11.6M515.6 10.5Q516.5 10.7 516.6 11.7M516.6 11.7Q516.4 11.7 516.2 11.6M517.4 12.5Q517.5 12.8 517.3 13.1M517.3 13.1Q517.3 12.1 516.3 11.8M523.4 27.4Q523.3 27.7 523.2 28.0M523.2 28.0Q523.3 27.5 523.4 27.2M530.4 30.7Q530.5 31.1 530.9 31.2M530.9 31.2Q530.7 30.6 530.5 29.7M530.5 29.7Q529.9 29.1 530.1 28.1M530.1 28.1Q530.5 27.6 531.4 27.5M533.4 12.7Q532.9 13.0 532.0 12.8M532.0 12.8Q530.7 13.1 528.8 13.4M518.3 35.5Q518.4 35.3 518.5 34.9M518.5 34.9Q518.7 34.8 519.4 35.3M516.0 26.2Q515.6 26.4 515.4 26.4M515.4 26.4Q515.7 26.1 516.3 25.5M523.4 27.2Q522.8 27.6 522.6 27.6M522.6 27.6Q523.0 27.0 523.1 26.5M505.9 24.8Q505.8 24.3 505.7 23.6M505.7 23.6Q506.2 24.0 506.3 24.4M506.3 24.4Q508.6 22.6 510.0 23.0M510.0 23.0Q512.0 23.5 513.4 23.2M517.2 39.7Q518.0 41.3 519.8 42.0M519.8 42.0Q520.4 42.7 522.8 43.6M514.9 43.0Q515.4 45.4 515.7 46.6M515.7 46.6Q515.1 47.7 515.2 48.2M519.2 48.2Q519.0 48.4 518.2 48.6M518.2 48.6Q518.2 48.6 518.4 48.6M518.4 48.6Q517.4 48.3 517.0 47.8M517.0 47.8Q516.7 48.0 515.8 48.4M515.8 48.4Q515.7 48.4 515.7 48.5M515.7 48.5Q515.6 48.5 515.2 48.2M513.4 42.2Q514.5 42.1 515.0 42.7M515.0 42.7Q514.8 42.8 514.9 43.0M526.0 42.1Q524.9 42.6 523.8 42.1M523.8 42.1Q523.7 42.3 522.8 43.6M513.8 48.9Q513.8 48.8 513.8 48.8M513.8 48.8Q514.1 48.8 515.2 48.2M520.5 48.6Q519.3 49.2 519.0 49.4M519.0 49.4Q518.9 48.9 519.2 48.2M517.7 56.6Q516.2 55.2 516.8 52.5M516.8 52.5Q515.4 51.2 515.8 48.4M559.4 113.2Q558.8 116.1 558.2 117.7M558.2 117.7Q558.0 119.7 558.7 120.9M553.9 121.2Q554.9 122.0 555.6 121.9M555.6 121.9Q556.8 122.0 557.6 121.2M553.9 121.2Q552.2 119.8 551.6 118.7M551.6 118.7Q550.3 116.7 549.6 115.3M567.0 113.5Q565.9 113.0 564.6 112.5M564.6 112.5Q563.2 112.4 561.6 110.5M565.0 124.9Q563.5 123.2 561.0 123.3M561.0 123.3Q560.5 123.1 558.7 120.9M550.3 111.5Q550.4 112.6 549.8 114.1M549.8 114.1Q549.4 114.4 549.5 115.3M549.5 115.3Q549.7 114.7 549.4 114.5M549.4 114.5Q549.5 114.6 549.6 115.3M555.0 129.6Q556.4 128.4 555.7 126.2M555.7 126.2Q558.2 125.1 557.6 121.2M549.5 115.3Q548.7 114.6 546.8 115.4M546.8 115.4Q545.5 116.0 544.8 116.4M577.9 84.2Q577.3 85.2 575.8 86.3M575.8 86.3Q574.8 87.7 573.4 88.5M576.4 93.7Q575.2 91.2 575.4 90.1M575.4 90.1Q574.7 89.5 573.4 88.5M551.9 96.2Q554.1 95.6 555.0 96.5M555.0 96.5Q556.4 98.6 559.4 99.2M559.6 101.9Q559.7 101.3 559.4 100.5M559.4 100.5Q559.3 101.0 559.8 101.5M559.4 99.2Q559.6 97.0 561.5 95.5M561.5 95.5Q562.0 94.6 562.6 93.3M563.4 93.4Q563.6 93.7 563.6 94.4M563.6 94.4Q564.5 94.6 564.9 96.0M562.6 108.1Q564.8 107.7 565.5 106.8M565.5 106.8Q566.0 105.2 567.1 104.6M569.7 104.3Q569.7 104.2 569.7 104.2M569.7 104.2Q569.5 104.1 569.4 104.1M567.1 104.6Q567.3 104.4 567.4 103.9M567.4 103.9Q568.7 103.6 569.4 104.1M497.7 45.5Q497.8 46.0 498.0 46.6M498.0 46.6Q498.2 46.5 498.3 46.4M500.9 46.0Q500.1 45.5 499.3 45.9M499.3 45.9Q499.1 46.0 498.3 46.4M503.7 46.2Q503.0 46.5 501.4 46.5M501.4 46.5Q501.2 46.4 500.9 46.0M500.4 40.4Q500.8 42.4 500.7 43.3M500.7 43.3Q499.7 43.5 498.8 43.9M498.7 52.7Q497.8 51.4 497.3 49.9M497.3 49.9Q497.4 47.2 498.3 46.4M623.3 39.0Q622.5 39.9 622.0 39.9M622.0 39.9Q622.2 39.6 621.6 38.6M626.0 30.6Q625.9 29.8 625.8 29.2M625.8 29.2Q625.4 29.1 624.6 29.3M627.5 22.2Q626.8 22.6 626.5 22.9M626.5 22.9Q625.4 23.6 625.0 24.3M627.5 22.2Q627.7 22.8 628.0 22.9M628.0 22.9Q629.2 22.2 630.3 22.7M617.0 43.4Q617.3 41.7 616.1 40.8M616.1 40.8Q615.8 40.1 616.0 39.0M621.6 38.6Q621.1 38.2 619.0 39.0M619.0 39.0Q616.8 38.8 616.0 39.0M549.6 20.4Q550.1 20.8 552.2 22.5M552.2 22.5Q552.6 22.7 553.0 23.0M549.6 20.4Q549.4 19.8 548.6 17.9M548.6 17.9Q549.0 17.1 548.9 16.6M548.9 16.6Q551.4 17.1 551.8 19.4M551.8 19.4Q554.6 21.3 556.8 20.5M555.7 22.5Q556.2 22.8 557.0 22.9M557.0 22.9Q556.6 21.8 557.0 21.4M543.5 13.8Q543.5 14.0 543.6 14.3M543.6 14.3Q543.1 14.7 543.0 14.8M543.0 14.8Q542.2 15.6 543.7 18.5M543.7 18.5Q542.5 19.7 542.4 21.7M555.4 12.5Q556.1 14.5 557.3 15.9M557.3 15.9Q556.6 17.9 556.8 20.5M568.6 6.9Q569.2 7.5 570.7 7.1M570.7 7.1Q572.3 7.4 572.9 7.9M566.1 14.2Q566.2 14.5 566.9 14.5M566.9 14.5Q566.7 14.7 566.4 14.8M556.5 49.0Q556.5 49.0 556.5 49.0M556.5 49.0Q556.9 48.9 557.4 49.0M555.9 54.3Q557.9 54.7 558.6 54.9M558.6 54.9Q559.2 54.3 560.3 54.6M557.4 49.0Q559.3 51.3 559.2 52.5M559.2 52.5Q559.5 53.6 560.3 54.6M571.9 54.2Q571.4 54.2 570.8 54.6M570.8 54.6Q571.4 56.0 571.5 57.0M569.8 60.2Q569.9 58.8 569.8 57.5M569.8 57.5Q570.4 57.5 571.5 57.0M596.0 44.0Q595.2 45.2 593.5 44.8M593.5 44.8Q592.4 44.0 590.6 44.1M591.0 34.7Q591.3 34.7 591.9 34.5M591.9 34.5Q593.5 34.9 594.9 34.4M596.1 64.6Q597.1 64.4 598.4 65.3M598.4 65.3Q598.8 65.0 600.4 64.1M596.1 64.6Q596.2 64.2 596.7 64.0M596.7 64.0Q596.2 64.1 595.8 65.0M600.4 64.1Q600.7 64.7 601.1 65.1M601.1 65.1Q602.4 66.9 603.4 68.0M603.4 68.0Q602.6 68.8 602.2 68.9M602.2 68.9Q601.1 68.7 599.3 70.0M595.4 62.4Q595.3 62.7 595.7 63.6M595.7 63.6Q595.8 63.8 596.1 64.6M597.4 74.2Q596.8 73.6 595.3 73.9M595.3 73.9Q593.1 74.7 590.7 72.9M597.4 74.2Q597.5 73.6 597.5 73.1M597.5 73.1Q598.3 72.6 599.3 70.0M566.6 27.2Q566.0 26.2 566.8 24.7M566.8 24.7Q566.7 24.6 566.6 24.5M566.6 24.5Q568.2 23.5 568.6 23.0M568.6 23.0Q568.6 22.9 568.6 22.8M568.6 22.8Q569.0 22.8 569.3 23.2M569.3 23.2Q569.7 23.1 570.2 22.8M571.4 24.6Q570.8 24.1 569.8 23.7M569.8 23.7Q570.0 23.0 570.2 22.8M574.5 19.3Q574.0 18.9 573.9 18.2M573.9 18.2Q574.4 17.0 574.3 16.1M571.9 14.8Q572.4 14.6 573.0 15.0M573.0 15.0Q574.1 15.5 574.3 16.1M577.7 26.0Q576.3 27.2 576.1 28.7M576.1 28.7Q575.8 28.9 575.0 29.3M575.0 29.3Q574.2 27.0 573.9 25.9M573.9 25.9Q573.0 24.7 571.4 24.6M562.0 29.0Q561.3 27.1 560.0 26.4M560.0 26.4Q558.1 24.0 558.3 21.6M562.5 28.7Q562.6 27.3 562.3 24.8M562.3 24.8Q562.2 23.3 563.1 22.7M560.3 21.2Q561.0 21.5 561.2 21.9M561.2 21.9Q562.5 22.1 563.1 22.7M566.6 27.2Q565.7 26.5 564.5 27.0M564.5 27.0Q562.8 27.7 562.5 28.7M566.6 24.5Q566.1 24.8 565.1 24.4M565.1 24.4Q564.7 24.2 563.1 22.7M566.4 14.8Q564.1 16.6 563.0 17.5M563.0 17.5Q561.8 20.5 560.3 21.2M557.0 21.4Q558.0 21.4 558.4 20.9M558.4 20.9Q558.2 21.4 558.3 21.6M586.9 26.2Q585.4 28.1 583.6 29.5M583.6 29.5Q582.5 31.2 581.6 32.2M581.0 31.7Q580.9 32.2 580.5 32.4M580.5 32.4Q580.8 32.3 581.6 32.2M591.0 34.7Q591.4 34.9 591.8 35.4M591.8 35.4Q591.6 35.3 590.9 34.5M587.4 26.2Q588.0 27.8 588.5 29.9M588.5 29.9Q588.8 30.9 588.3 31.3M590.9 34.5Q591.3 33.6 590.5 32.1M590.5 32.1Q589.7 31.9 588.3 31.3M595.9 3.2Q594.7 3.4 593.3 3.1M593.3 3.1Q592.4 3.3 591.2 2.4M590.8 2.0Q590.6 2.3 590.4 2.4M590.4 2.4Q591.0 2.2 591.2 2.4M595.9 3.3Q595.6 3.5 595.1 3.9M595.1 3.9Q595.7 3.8 595.9 3.2M587.8 4.0Q588.4 3.4 588.4 3.1M588.4 3.1Q589.6 2.8 590.8 2.0M583.6 -1.8Q584.0 -0.4 584.1 -0.0M584.1 -0.0Q586.1 2.7 587.0 3.8M616.0 32.3Q615.6 34.9 616.4 35.9M616.4 35.9Q616.0 37.9 615.3 38.4M610.9 40.3Q611.5 39.8 613.2 39.5M613.2 39.5Q613.9 38.5 614.7 38.4M607.6 33.8Q609.6 35.6 610.0 36.3M610.0 36.3Q613.0 36.6 614.7 38.4M602.2 34.5Q604.2 34.6 604.7 34.1M604.7 34.1Q605.5 32.9 605.9 32.0M607.6 33.8Q607.7 33.7 607.9 33.7M607.9 33.7Q606.7 32.2 605.9 32.0M598.6 24.6Q599.6 24.8 600.1 24.3M600.1 24.3Q599.9 24.3 599.9 24.3M599.9 24.3Q600.6 26.6 601.1 27.0M601.1 27.0Q602.8 28.3 604.3 28.1M604.3 28.1Q604.0 29.0 604.8 30.4M604.8 30.4Q605.5 30.6 606.3 31.1M627.5 22.2Q627.2 22.0 626.5 21.4M626.5 21.4Q627.3 21.0 627.4 20.7M625.0 24.3Q623.0 23.7 621.8 24.2M621.8 24.2Q620.7 22.0 618.3 21.9M618.3 21.9Q619.0 20.6 618.4 19.3M618.4 19.3Q618.7 16.9 618.0 16.2M619.6 14.7Q622.4 15.8 623.7 16.9M623.7 16.9Q625.4 19.9 627.4 20.7M618.7 4.8Q619.5 3.3 622.1 3.1M622.1 3.1Q623.1 2.0 624.1 -0.7M629.9 3.9Q628.9 3.4 627.4 3.1M627.4 3.1Q626.9 2.9 625.5 1.3M626.6 7.8Q626.5 7.9 626.1 7.7M626.1 7.7Q625.3 6.7 623.6 5.7M623.6 5.7Q625.3 4.7 625.3 2.8M625.3 2.8Q625.5 2.0 625.5 1.3M631.7 4.0Q630.3 4.0 630.0 3.1M630.0 3.1Q629.7 3.6 629.9 3.9M624.1 -0.7Q624.0 0.2 624.6 1.4M624.6 1.4Q625.3 1.5 625.5 1.3M651.3 117.7Q651.9 115.7 651.1 113.1M651.1 113.1Q651.2 112.7 653.0 110.8M654.6 98.1Q654.9 100.3 656.0 101.0M656.0 101.0Q655.8 101.2 655.2 102.1M636.9 103.4Q636.2 103.4 634.5 103.8M634.5 103.8Q634.6 104.2 634.1 105.0M634.5 102.5Q633.8 102.8 632.8 104.1M632.8 104.1Q632.9 104.2 633.0 104.3M633.0 104.3Q633.4 104.5 634.7 104.7M634.7 104.7Q634.4 104.9 634.1 105.0M637.4 105.0Q636.8 104.9 635.8 105.8M635.8 105.8Q635.4 106.3 635.0 108.0M634.1 105.0Q633.9 105.7 633.9 106.3M633.9 106.3Q634.7 107.2 635.0 108.0M537.7 121.0Q536.5 120.9 536.1 120.2M536.1 120.2Q535.5 120.4 533.7 119.0M533.7 118.9Q534.3 119.1 534.6 120.0M534.6 120.0Q534.0 119.3 533.7 119.0M533.7 118.9Q534.8 116.8 536.6 115.8M536.6 115.8Q539.7 115.4 541.5 113.1M541.5 113.1Q542.4 113.1 542.9 114.0M542.9 114.0Q542.4 114.1 542.2 114.0M540.0 123.0Q539.8 123.0 539.7 122.8M539.7 122.8Q539.3 121.5 537.7 121.0M544.8 116.4Q544.2 115.4 542.9 114.9M542.9 114.9Q542.9 114.8 542.2 114.0M530.4 120.7Q531.1 119.8 531.4 119.6M531.4 119.6Q532.1 119.8 533.7 119.0M533.6 114.1Q533.1 115.2 532.7 117.2M532.7 117.2Q533.5 118.4 533.7 118.9M583.8 107.0Q584.9 107.6 585.8 107.7M585.8 107.7Q586.6 108.6 588.6 109.2M579.6 112.9Q580.2 113.4 580.1 115.0M580.1 115.0Q580.6 115.0 582.4 115.2M593.1 114.6Q593.0 114.3 593.4 113.2M593.4 113.2Q592.8 112.5 592.5 112.1M593.9 104.6Q594.0 106.7 592.8 107.5M592.8 107.5Q591.6 108.2 591.5 109.6M592.5 112.1Q591.8 111.7 591.6 110.5M591.6 110.5Q591.6 110.3 591.5 109.6M588.6 109.2Q589.2 108.8 590.2 109.1M590.2 109.1Q590.6 109.5 591.5 109.6M575.5 118.9Q575.8 119.6 577.2 119.7M577.2 119.7Q576.8 119.8 576.5 119.8M576.9 132.1Q577.0 131.7 577.7 130.5M577.7 130.5Q578.1 129.8 577.7 129.0M577.7 129.0Q577.6 127.9 577.7 126.4M577.7 126.4Q576.5 126.1 575.9 125.9M575.0 125.3Q575.9 125.3 576.2 125.6M576.2 125.6Q576.1 125.8 575.9 125.9M615.0 78.3Q614.4 80.1 615.2 81.3M615.2 81.3Q615.8 82.2 617.8 85.7M623.2 78.9Q623.2 79.3 623.2 79.5M623.2 79.5Q623.1 79.2 623.2 79.0M626.2 85.6Q625.6 83.1 625.2 82.4M625.2 82.4Q624.7 81.6 623.2 79.0M626.2 85.6Q626.2 86.7 625.5 86.9M625.5 86.9Q625.2 87.4 624.6 87.5M595.1 94.8Q594.9 94.5 594.8 94.3M594.8 94.3Q594.9 94.1 595.1 93.5M594.9 92.9Q595.1 92.6 595.1 92.3M595.1 92.3Q595.2 93.2 595.1 93.5M618.5 114.6Q618.6 116.5 620.3 118.1M620.3 118.1Q620.7 119.6 621.2 120.5M617.0 130.1Q616.0 128.5 615.9 127.6M615.9 127.6Q614.9 126.9 613.9 126.7M613.9 126.7Q613.8 126.3 614.4 125.6M614.4 125.6Q614.4 124.6 613.6 123.9M613.6 123.9Q613.8 123.5 614.6 122.9M614.6 122.9Q614.0 123.1 613.9 123.6M625.4 128.4Q624.5 126.7 624.2 125.5M624.2 125.5Q622.6 121.5 621.4 120.5M621.4 120.5Q621.1 120.0 620.6 119.7M620.6 119.7Q621.0 120.1 621.2 120.5M632.4 83.1Q632.5 83.6 632.5 84.3M632.5 84.3Q633.0 84.5 633.4 84.6M632.4 83.1Q632.0 83.3 630.8 83.3M630.8 83.3Q628.1 85.7 626.8 85.6M628.4 87.8Q630.5 87.4 631.2 87.0M631.2 87.0Q632.5 86.2 633.4 84.6M628.4 87.8Q627.6 87.1 627.2 86.6M627.2 86.6Q627.0 86.3 626.8 85.6M632.1 81.9Q632.8 82.6 632.9 83.3M632.9 83.3Q632.5 83.0 632.4 83.1M638.8 81.1Q638.0 82.6 635.3 83.2M635.3 83.2Q634.5 83.7 633.4 84.6M626.2 85.6Q626.4 85.6 626.4 85.6M626.4 85.6Q626.6 85.5 626.8 85.6M627.3 93.2Q626.5 90.9 627.2 89.8M627.2 89.8Q628.1 88.5 628.4 87.8M624.6 87.5Q624.9 88.3 625.6 89.5M625.6 89.5Q626.9 91.6 627.3 93.2M608.1 161.7Q608.6 161.9 608.9 161.8M608.9 161.8Q608.9 161.1 608.5 160.8M608.5 160.8Q607.5 158.0 607.2 155.0M607.2 155.0Q607.9 152.4 607.2 151.3M603.8 155.6Q604.4 155.0 605.9 154.0M605.9 154.0Q606.6 153.1 607.2 151.3M611.5 155.8Q610.6 156.4 608.8 157.3M608.8 157.3Q609.5 159.6 608.5 160.8M601.9 155.4Q602.7 156.0 603.1 156.3M603.1 156.3Q603.5 155.8 603.8 155.6M607.3 151.0Q607.7 151.2 608.2 151.0M608.2 151.0Q607.8 151.3 607.2 151.3M607.2 149.4Q606.6 148.6 606.9 147.8M606.9 147.8Q606.5 148.1 606.3 148.6M601.8 149.4Q602.5 149.7 603.1 149.7M603.1 149.7Q604.1 149.9 606.3 148.6M612.4 139.2Q610.5 138.2 609.7 138.2M609.7 138.2Q608.4 137.9 608.1 137.4M608.1 137.4Q608.5 135.4 608.9 134.0M608.9 134.0Q608.5 133.5 607.8 132.5M613.9 126.7Q613.7 126.4 613.2 126.4M613.2 126.4Q613.2 127.1 613.2 127.5M596.5 141.3Q596.7 141.5 596.8 142.1M596.8 142.1Q598.2 143.1 598.8 143.3M596.2 140.7Q595.7 141.5 595.3 141.6M595.3 141.6Q595.5 141.0 596.4 140.1M599.4 138.5Q600.7 139.2 600.8 140.5M600.8 140.5Q601.4 142.1 603.2 143.5M598.8 138.6Q598.4 139.2 597.0 139.7M597.0 139.7Q596.5 140.1 596.4 140.1M598.8 143.3Q600.4 143.9 601.7 143.3M601.7 143.3Q602.4 143.0 603.2 143.5M600.5 145.0Q601.0 145.4 601.6 146.0M601.6 146.0Q602.9 146.3 604.4 144.8M604.3 144.5Q603.9 144.4 603.6 144.5M603.6 144.5Q603.8 144.4 604.4 144.8M604.3 144.5Q604.5 144.4 604.9 143.7M604.9 143.7Q604.3 143.1 604.2 141.4M603.0 137.1Q604.2 137.3 604.9 138.2M604.9 138.2Q605.7 138.4 606.3 137.9M639.7 153.7Q641.8 152.3 643.4 151.9M643.4 151.9Q646.9 151.0 648.5 149.4M639.6 144.9Q640.9 145.2 642.9 144.9M642.9 144.9Q643.1 144.8 644.9 143.3M644.9 143.3Q645.7 144.5 645.7 145.9M645.7 145.9Q646.4 148.8 648.5 149.4M639.3 157.2Q638.8 157.3 638.5 157.7M638.5 157.7Q638.6 157.3 639.2 156.8M650.5 149.7Q649.6 150.4 649.4 150.6M649.4 150.6Q650.0 149.9 650.2 149.6M639.2 156.8Q639.4 155.8 638.3 154.2M638.3 154.2Q639.4 154.2 639.7 153.7M637.5 156.6Q635.3 157.5 631.8 156.6M631.8 156.6Q628.0 158.2 627.2 158.7M627.2 158.7Q627.9 158.5 628.0 157.5M628.0 157.5Q627.4 158.0 627.2 158.6M625.1 162.8Q625.2 162.3 626.0 160.5M626.0 160.5Q627.1 159.7 627.2 158.7M627.2 154.1Q628.0 155.3 627.7 156.7M627.7 156.7Q627.6 157.1 627.2 158.6M508.5 14.9Q510.9 15.7 511.6 15.7M511.6 15.7Q512.3 15.5 512.5 15.3M508.5 14.9Q508.3 15.5 507.9 16.7M507.9 16.7Q508.0 17.7 508.2 18.8M512.5 17.0Q512.0 18.4 512.1 19.3M512.1 19.3Q510.9 19.4 510.3 20.1M509.4 20.3Q509.7 20.4 510.4 21.1M510.4 21.1Q510.0 20.5 510.3 20.1M516.3 11.8Q513.6 12.8 513.2 14.1M513.2 14.1Q513.1 14.6 512.5 15.3M506.3 24.4Q507.8 23.5 507.9 21.9M507.9 21.9Q508.6 21.7 509.4 20.3M513.4 23.2Q512.9 21.3 512.9 20.8M512.9 20.8Q511.7 19.8 510.3 20.1M516.2 22.3Q514.3 21.9 513.6 19.9M513.6 19.9Q512.7 18.1 512.5 17.0M543.0 14.8Q541.8 15.7 539.8 16.1M539.8 16.1Q537.8 16.5 535.8 16.7M542.4 21.7Q542.7 22.0 542.8 22.1M542.8 22.1Q542.3 22.1 542.2 22.4M542.2 22.4Q541.1 22.0 539.4 20.7M539.4 20.7Q536.4 19.5 535.2 19.5M531.9 16.3Q533.1 17.1 534.1 16.9M534.1 16.9Q534.2 15.8 534.6 15.3M539.3 9.8Q538.3 11.1 536.1 11.7M536.1 11.7Q536.6 14.8 535.1 15.7M535.8 16.7Q535.4 16.8 535.1 16.8M535.1 16.8Q534.9 16.3 535.1 15.7M525.0 22.1Q523.2 21.9 522.6 21.7M522.6 21.7Q521.7 21.5 518.1 20.2M526.8 13.0Q526.7 14.1 525.8 14.8M525.8 14.8Q525.5 14.8 525.0 15.1M568.2 97.7Q568.8 98.3 569.9 98.8M569.9 98.8Q570.2 99.6 569.8 100.0M568.2 97.7Q569.3 96.3 569.9 96.0M569.9 96.0Q570.2 95.8 571.0 94.9M572.2 98.5Q573.0 98.5 573.7 97.4M573.7 97.4Q573.9 96.9 573.9 95.1M564.9 96.0Q565.3 95.9 565.5 95.9M565.5 95.9Q567.4 97.1 568.2 97.7M569.4 104.1Q569.2 102.1 569.7 101.4M569.7 101.4Q569.9 100.9 569.8 100.0M566.7 91.0Q567.5 91.9 567.7 92.5M567.7 92.5Q569.1 93.0 571.0 94.9M571.6 0.1Q572.3 0.8 574.4 0.5M574.4 0.5Q575.4 0.1 576.2 -0.5M576.6 -0.8Q576.0 0.2 576.0 0.5M576.0 0.5Q575.9 0.0 576.2 -0.5M587.3 10.6Q585.7 9.0 584.3 7.8M584.3 7.8Q583.5 6.8 581.8 6.4M581.8 6.4Q581.4 6.1 580.5 5.2M580.5 5.2Q580.4 5.5 580.1 5.9M579.5 14.4Q579.6 14.8 579.5 15.3M579.5 15.3Q579.5 15.0 578.7 14.1M578.7 14.1Q578.4 12.1 578.2 10.3M578.2 10.3Q578.3 7.5 578.7 6.5M580.1 5.9Q579.2 5.9 578.8 6.6M578.8 6.6Q578.8 6.4 578.8 6.4M583.6 -1.8Q582.3 0.5 583.0 2.7M583.0 2.7Q580.3 3.6 580.1 5.9M574.3 16.1Q574.7 14.9 575.8 13.9M575.8 13.9Q577.9 13.9 578.7 14.1M575.8 6.3Q576.8 6.3 577.7 6.8M577.7 6.8Q578.2 6.9 578.7 6.5M576.6 -0.8Q576.2 2.5 577.3 3.5M577.3 3.5Q578.9 4.3 578.8 6.4M576.1 51.8Q575.9 52.2 576.1 52.7M576.1 52.7Q575.3 52.9 574.5 53.9M574.3 48.8Q573.8 48.8 573.5 48.8M573.5 48.8Q573.6 48.2 573.7 48.0M570.2 46.9Q569.7 48.0 569.8 48.3M569.8 48.3Q569.0 48.7 568.0 49.1M571.9 54.2Q571.2 53.0 570.2 52.9M570.2 52.9Q569.3 52.7 567.2 50.7M568.0 49.1Q568.5 50.3 568.6 50.7M568.6 50.7Q568.0 50.4 567.2 50.7M576.1 51.8Q576.2 51.8 576.3 51.8M576.3 51.8Q576.9 51.8 577.3 51.9M577.0 58.4Q577.9 58.3 578.4 57.1M578.4 57.1Q578.1 56.3 578.8 55.5M577.3 51.9Q578.1 52.5 579.1 52.9M579.1 52.9Q578.5 54.1 578.8 55.5M590.4 59.0Q590.7 60.3 590.5 60.8M590.5 60.8Q589.8 61.2 588.4 60.7M540.5 27.2Q541.3 27.4 541.5 27.3M541.5 27.3Q541.8 26.7 542.1 26.4M539.5 35.5Q541.6 33.6 542.5 33.4M542.5 33.4Q544.1 33.5 544.4 33.0M541.7 39.5Q543.0 39.4 544.7 39.8M544.7 39.8Q546.1 39.0 546.3 38.6M546.3 38.6Q546.8 37.4 546.4 37.0M546.4 37.0Q546.3 37.4 546.1 37.7M544.4 33.0Q544.0 34.8 545.0 36.0M545.0 36.0Q545.1 37.0 546.1 37.7M551.2 45.0Q551.5 44.8 552.6 44.7M552.6 44.7Q552.6 43.8 551.7 42.3M546.3 38.6Q546.6 39.0 547.1 39.1M547.1 39.1Q547.4 39.5 548.0 39.5M548.0 39.5Q548.3 40.3 549.8 40.4M549.8 40.4Q550.1 41.8 551.7 42.0M551.7 42.3Q551.6 41.9 552.0 41.4M552.0 41.4Q551.8 41.8 551.7 42.0M548.0 39.5Q548.4 37.2 548.1 36.6M548.1 36.6Q548.2 34.4 549.5 33.8M554.4 36.9Q553.5 38.5 553.5 38.9M553.5 38.9Q553.8 38.6 554.2 38.5M551.7 42.0Q551.7 39.9 553.0 39.1M553.0 39.1Q554.0 39.1 554.2 38.5M575.0 29.3Q575.1 30.3 575.1 30.8M575.1 30.8Q574.8 30.2 574.7 30.1M570.3 32.1Q571.1 31.8 572.6 30.2M572.6 30.2Q573.7 29.8 574.7 30.1M581.0 31.7Q579.4 31.6 577.7 30.9M577.7 30.9Q576.8 30.5 575.0 30.4M574.7 30.1Q574.2 29.5 574.1 29.4M574.1 29.4Q574.8 29.8 575.0 30.4M616.0 32.3Q614.3 32.0 613.5 30.9M613.5 30.9Q612.7 29.5 613.1 28.3M606.3 31.1Q607.6 30.3 608.4 29.8M608.4 29.8Q609.2 28.8 610.1 28.9M604.3 28.1Q604.9 28.0 605.9 27.6M605.9 27.6Q606.9 26.9 607.1 25.1M616.7 22.7Q616.4 23.2 615.4 25.3M615.4 25.3Q614.9 25.8 613.4 26.9M612.6 19.6Q611.8 21.9 612.0 23.0M612.0 23.0Q611.7 23.4 611.1 24.3M611.1 24.3Q611.2 24.4 611.1 24.6M611.1 24.6Q612.7 26.0 613.4 26.9M618.3 21.9Q617.6 21.8 617.3 22.2M617.3 22.2Q617.0 22.7 616.7 22.7M613.1 28.3Q613.3 28.6 613.4 28.7M613.4 28.7Q612.9 27.3 613.4 26.9M639.7 14.0Q639.3 13.9 639.3 13.5M639.3 13.5Q639.1 13.5 638.8 13.8M631.7 4.0Q632.3 4.7 632.8 5.8M632.8 5.8Q632.5 7.7 632.2 8.4M638.8 13.8Q638.5 12.7 637.7 12.2M637.7 12.2Q635.9 12.5 634.6 11.4M632.2 8.4Q632.8 9.7 634.1 10.3M634.1 10.3Q634.2 11.0 634.6 11.4M620.0 9.9Q618.9 9.8 615.9 11.5M615.9 11.5Q614.7 11.0 613.1 11.5M618.5 6.2Q617.8 6.1 615.4 7.0M615.4 7.0Q614.4 6.3 614.2 6.1M611.0 8.0Q610.5 9.6 610.7 10.6M610.7 10.6Q611.1 10.5 612.2 11.0M612.2 11.0Q613.0 10.6 613.1 10.4M613.1 10.4Q613.0 10.8 613.1 11.5M618.7 4.8Q618.7 5.5 617.8 6.7M617.8 6.7Q618.2 6.2 618.5 6.2M623.6 5.7Q623.2 6.1 622.2 7.1M622.2 7.1Q621.5 6.8 619.7 7.9M610.1 7.6Q610.6 7.4 611.0 7.4M611.0 7.4Q611.1 7.5 611.0 8.0M603.9 13.6Q605.0 14.4 605.7 15.1M605.7 15.1Q607.2 15.5 607.7 14.9M609.5 14.3Q610.4 13.3 610.1 12.7M610.1 12.7Q610.5 11.3 612.2 11.0M612.4 17.9Q612.7 17.9 613.5 17.8M613.5 17.8Q614.3 17.5 615.9 15.7M615.9 15.7Q615.4 15.7 614.1 14.3M614.1 14.3Q614.3 14.0 614.1 13.6M611.9 19.0Q611.8 18.9 611.4 19.0M611.4 19.0Q611.6 19.2 612.6 19.6M611.9 19.0Q612.8 19.6 613.1 19.5M613.1 19.5Q612.8 18.5 612.4 17.9M609.5 14.3Q610.8 14.2 611.3 14.2M611.3 14.2Q611.1 14.9 611.5 16.0M613.1 11.5Q613.8 12.6 614.2 13.5M614.2 13.5Q614.1 13.5 614.1 13.6M619.6 14.7Q621.1 14.3 621.3 12.7M621.3 12.7Q621.1 12.0 621.0 11.3M648.4 119.9Q647.1 118.5 646.2 117.9M646.2 117.9Q643.8 115.9 642.8 113.8M642.8 113.8Q644.4 112.5 646.4 112.4M646.4 112.4Q650.4 110.3 651.0 109.0M655.2 102.1Q654.2 102.7 653.2 103.3M653.2 103.3Q650.8 105.0 650.0 106.6M646.8 101.0Q647.0 101.8 646.6 102.3M646.6 102.3Q646.4 102.5 646.3 102.8M650.0 106.6Q648.1 106.4 647.7 105.4M647.7 105.4Q647.8 103.3 646.3 102.8M646.3 102.8Q646.6 102.8 646.9 103.0M646.9 103.0Q646.5 102.7 646.1 102.8M642.8 113.8Q642.0 113.4 641.0 114.0M641.0 114.0Q640.9 113.8 641.0 113.6M640.6 118.8Q640.8 118.5 642.0 117.1M642.0 117.1Q642.2 116.2 641.0 113.6M639.9 106.4Q640.5 109.0 639.1 110.3M639.1 110.3Q639.1 111.8 638.3 112.4M638.3 112.4Q639.0 112.8 639.3 113.2M639.3 113.2Q639.7 112.9 640.5 113.2M638.3 112.4Q638.0 112.1 637.6 112.2M637.6 112.2Q637.7 112.2 637.8 112.4M621.4 120.5Q621.5 119.8 622.1 119.6M622.1 119.6Q623.3 119.2 624.5 118.8M631.1 122.4Q631.1 121.1 630.1 120.8M630.1 120.8Q630.2 121.2 630.3 121.3M628.2 113.3Q627.5 112.8 626.7 111.8M626.7 111.8Q627.0 111.5 627.3 111.1M628.8 107.8Q628.3 108.8 627.4 108.9M627.4 108.9Q627.6 109.0 627.5 109.3M627.5 109.3Q625.9 108.2 625.7 107.5M625.7 107.5Q622.7 105.8 621.9 105.3M632.0 100.8Q631.5 100.8 630.5 101.7M630.5 101.7Q629.9 103.2 629.6 103.5M633.0 104.3Q632.5 104.6 631.9 104.4M631.9 104.4Q630.7 104.3 629.7 103.9M625.9 95.1Q626.6 94.5 626.6 93.4M626.6 93.4Q627.1 93.7 627.5 93.9M634.9 108.4Q633.0 107.2 632.0 107.5M632.0 107.5Q630.2 107.3 628.8 107.8M622.0 94.9Q623.6 93.8 625.1 94.4M625.1 94.4Q625.6 94.5 625.9 95.1M622.0 94.9Q621.0 95.8 620.9 96.0M620.9 96.0Q619.5 98.3 619.8 99.1M582.4 115.2Q582.4 115.8 583.5 117.2M583.5 117.2Q582.8 118.2 584.5 121.1M576.5 119.8Q576.8 121.2 578.6 121.5M578.6 121.5Q581.5 120.5 582.6 121.3M584.5 121.1Q584.4 121.0 584.5 120.6M584.5 120.6Q583.2 120.6 582.6 121.3M575.9 125.9Q578.0 125.8 579.0 124.9M579.0 124.9Q580.5 123.8 581.0 122.8M577.7 129.0Q577.6 129.2 576.9 129.4M576.9 129.4Q577.6 129.0 577.9 128.8M581.0 122.8Q579.1 124.4 579.4 127.0M579.4 127.0Q579.4 127.5 577.9 128.8M578.6 134.8Q579.8 133.7 580.6 133.7M580.6 133.7Q581.0 134.2 581.7 134.2M581.2 127.9Q581.0 128.2 580.4 128.6M580.4 128.6Q579.6 128.9 577.9 128.8M584.5 121.1Q585.2 122.5 586.4 122.8M586.4 122.8Q587.3 123.1 588.5 123.1M588.5 123.1Q588.9 124.0 589.0 124.5M589.0 124.5Q588.3 124.2 587.5 124.8M581.7 134.2Q582.8 133.7 583.9 132.9M583.9 132.9Q584.5 133.7 584.6 133.9M584.6 133.9Q584.3 135.0 584.7 136.1M584.7 136.1Q585.8 136.4 587.1 136.5M596.4 140.1Q595.7 138.2 595.0 137.8M595.0 137.8Q593.9 137.3 593.1 137.3M608.3 123.1Q607.8 125.3 605.9 126.2M605.9 126.2Q604.5 126.3 604.2 127.2M613.2 127.5Q610.8 129.9 609.7 129.9M609.7 129.9Q608.6 131.0 606.3 130.5M604.2 127.2Q604.5 128.2 605.7 128.5M605.7 128.5Q606.2 130.0 606.3 130.5M603.0 137.1Q603.0 136.0 602.5 135.3M602.5 135.3Q603.0 135.0 604.0 133.7M608.1 137.4Q607.6 137.6 607.3 137.6M607.3 137.6Q606.6 137.8 606.3 137.9M607.8 132.5Q606.7 132.8 606.0 132.2M606.0 132.2Q606.0 131.8 606.4 131.2M604.0 133.7Q604.9 132.5 606.3 131.5M606.3 131.5Q606.4 131.3 606.4 131.2M606.3 130.5Q606.4 130.6 607.2 131.4M607.2 131.4Q606.6 131.5 606.4 131.2M595.3 131.4Q596.6 132.1 597.3 131.6M597.3 131.6Q598.0 131.8 598.7 131.3M595.3 131.4Q594.7 131.4 594.4 131.5M594.4 131.5Q593.3 130.3 592.0 129.3M597.8 123.5Q597.1 122.6 595.4 122.1M595.4 122.1Q592.7 122.2 591.3 121.4M600.5 126.8Q599.6 127.0 598.7 127.9M598.7 127.9Q598.1 129.1 599.0 131.0M592.0 129.3Q591.9 128.2 591.3 126.5M591.3 126.5Q589.8 125.8 589.0 123.0M593.1 137.3Q595.1 135.4 595.3 135.2M595.3 135.2Q596.1 132.6 595.3 131.4M600.1 121.5Q599.9 121.4 599.8 121.4M599.8 121.4Q599.4 122.9 597.8 123.5M604.2 127.2Q603.3 127.7 601.8 128.1M601.8 128.1Q601.5 127.1 600.5 126.8M588.5 123.1Q588.0 123.6 588.0 123.9M588.0 123.9Q588.1 123.5 589.0 123.0M595.9 95.6Q596.9 95.0 597.3 94.4M597.3 94.4Q597.5 94.6 598.7 95.4M598.7 95.4Q598.3 94.4 599.5 92.6M599.5 92.6Q599.5 91.7 599.1 90.1M619.5 86.4Q620.1 87.2 619.5 88.8M619.5 88.8Q619.6 89.4 618.9 90.6M622.0 94.9Q621.7 94.7 620.6 93.2M620.6 93.2Q620.3 93.5 620.3 93.7M595.7 87.1Q597.1 87.2 597.7 86.0M597.7 86.0Q597.8 86.5 597.7 86.8M597.7 86.8Q598.2 88.0 598.7 88.4M598.7 88.4Q599.2 88.7 601.1 87.9M599.4 89.7Q600.2 89.1 601.2 89.2M601.2 89.2Q601.2 88.9 601.1 88.6M601.1 87.9Q601.3 88.4 601.8 89.1M601.8 89.1Q601.5 89.0 601.1 88.6M597.6 81.5Q598.5 82.3 597.5 85.0M597.5 85.0Q597.5 85.4 597.7 86.8M594.9 92.9Q595.3 92.3 596.5 91.3M596.5 91.3Q596.1 90.2 596.3 89.5M599.1 90.1Q599.3 90.1 599.5 90.1M599.5 90.1Q599.4 89.9 599.4 89.7M605.7 146.0Q605.8 146.2 606.3 146.5M606.3 146.5Q605.9 145.8 605.5 145.6M605.7 146.0Q605.8 145.4 606.6 143.9M606.6 143.9Q607.7 144.0 608.3 143.8M605.5 145.6Q605.1 144.4 605.6 142.9M605.6 142.9Q606.4 142.0 606.5 141.8M608.3 143.8Q608.5 143.4 608.7 143.1M608.7 143.1Q607.9 142.7 607.7 141.7M607.7 141.7Q607.4 141.7 606.9 141.7M606.9 141.7Q606.6 141.8 606.5 141.8M606.3 148.6Q606.3 148.0 605.9 147.8M605.9 147.8Q605.4 146.4 605.7 146.0M611.0 142.9Q610.3 142.8 609.6 142.9M609.6 142.9Q609.4 143.5 608.3 143.8M606.0 141.1Q606.2 141.1 606.4 141.3M606.4 141.3Q606.4 141.5 606.5 141.8M612.4 139.2Q610.8 138.8 609.4 140.3M609.4 140.3Q608.6 140.5 607.7 141.7M656.4 144.2Q655.2 142.7 654.0 142.7M654.0 142.7Q653.4 141.6 653.2 140.0M653.2 140.0Q652.8 140.6 652.8 141.5M652.8 141.5Q651.7 141.5 651.1 140.9M526.2 20.8Q526.2 20.8 526.4 20.8M526.4 20.8Q526.6 20.1 526.0 18.6M526.2 20.8Q527.5 20.0 529.2 20.5M529.2 20.5Q530.1 21.2 529.9 22.5M531.7 17.8Q531.9 18.1 531.8 19.4M531.8 19.4Q533.1 20.3 534.0 20.2M525.0 22.1Q525.8 21.2 526.6 20.8M526.6 20.8Q526.5 20.8 526.2 20.8M531.9 16.3Q531.8 16.5 531.5 16.8M531.5 16.8Q531.6 17.2 531.7 17.8M535.9 26.4Q535.0 25.4 533.9 24.6M533.9 24.6Q533.7 24.0 532.9 21.9M567.5 37.9Q567.6 38.5 567.1 39.5M567.1 39.5Q567.6 39.6 568.8 40.4M568.8 40.4Q568.2 40.9 567.7 42.5M567.7 42.5Q566.1 42.5 564.6 44.2M568.8 40.4Q569.1 40.9 569.3 41.2M569.3 41.2Q570.1 42.2 570.4 42.9M568.0 49.1Q567.1 47.9 567.0 47.6M567.0 47.6Q566.0 47.0 564.2 45.5M564.6 44.2Q564.5 44.6 563.9 45.1M563.9 45.1Q564.1 45.3 564.2 45.5M551.7 42.3Q554.1 42.5 557.3 42.1M557.3 42.1Q560.2 42.7 560.9 43.9M560.4 40.4Q558.0 38.8 556.6 38.7M556.6 38.7Q555.7 38.8 555.0 38.5M560.4 40.4Q561.2 40.9 561.0 42.3M561.0 42.3Q561.4 42.7 561.3 43.0M555.0 38.5Q555.2 38.2 555.6 37.5M555.6 37.5Q554.7 38.3 554.2 38.5M566.1 51.6Q566.1 51.3 565.9 51.3M565.9 51.3Q564.9 51.3 564.7 51.6M566.1 51.6Q566.0 52.2 565.6 53.4M565.6 53.4Q565.5 54.1 566.4 55.6M567.2 50.7Q566.6 50.5 566.4 50.0M566.4 50.0Q565.8 51.0 566.1 51.6M560.3 54.6Q560.0 54.7 559.3 55.1M559.3 55.1Q559.7 55.3 560.5 54.7M574.3 48.8Q575.0 48.3 576.4 49.1M576.4 49.1Q577.2 49.0 579.4 48.5M577.3 51.9Q578.4 52.5 579.9 51.6M579.9 51.6Q580.5 51.3 580.5 50.6M576.9 46.0Q576.5 47.2 574.8 47.5M574.8 47.5Q574.6 47.9 573.7 48.0M576.9 46.0Q577.3 45.6 578.1 45.5M578.1 45.5Q578.7 45.9 579.1 46.8M579.4 48.5Q579.5 48.3 579.8 48.1M579.8 48.1Q579.5 47.5 579.1 46.8M590.6 44.1Q591.6 46.6 590.5 47.9M590.5 47.9Q590.4 50.0 589.0 51.0M578.8 55.5Q579.5 55.4 579.8 55.6M579.8 55.6Q581.2 54.2 582.4 54.4M580.5 50.6Q581.8 50.6 582.2 51.6M582.2 51.6Q582.5 51.5 582.8 51.2M582.8 51.2Q581.8 51.7 581.5 52.5M581.5 52.5Q581.4 53.2 582.4 54.4M590.4 59.0Q589.3 58.3 589.1 57.3M589.1 57.3Q590.0 54.8 589.3 53.9M549.5 33.8Q549.3 32.9 549.8 32.4M549.8 32.4Q549.6 32.4 549.4 32.5M549.4 32.5Q549.5 32.7 549.5 32.7M549.5 32.7Q549.4 32.2 548.7 32.2M554.7 35.1Q555.0 36.7 554.1 37.2M554.1 37.2Q554.4 37.0 554.4 36.9M548.7 32.2Q548.4 32.0 546.8 30.7M546.8 30.7Q546.0 28.4 545.0 27.9M559.2 33.1Q560.4 33.7 560.3 35.8M560.3 35.8Q561.0 36.5 561.0 36.8M559.2 33.1Q560.3 32.4 560.4 31.7M560.4 31.7Q560.4 31.0 561.0 30.8M561.0 30.8Q561.7 30.2 561.8 30.1M561.8 30.1Q561.6 30.4 561.0 30.8M567.3 36.6Q567.3 36.1 567.6 35.5M567.6 35.5Q567.5 36.1 567.4 36.5M567.3 36.6Q566.5 36.0 565.9 35.9M565.9 35.9Q564.2 37.4 562.8 37.2M562.8 37.2Q562.5 37.3 562.3 37.0M562.3 37.0Q562.0 36.8 561.0 36.8M555.0 38.5Q556.5 39.0 557.0 38.5M557.0 38.5Q559.7 36.8 561.0 36.8M562.0 29.0Q561.2 29.9 560.8 30.8M560.8 30.8Q561.0 30.8 561.0 30.8M570.3 32.1Q569.3 34.1 568.8 34.5M568.8 34.5Q569.0 34.7 569.0 34.8M567.5 37.9Q567.7 37.9 568.0 37.5M568.0 37.5Q567.8 37.3 567.3 36.6M560.4 40.4Q561.1 39.6 562.3 39.5M562.3 39.5Q562.4 38.8 562.8 37.2M563.8 41.5Q563.1 42.3 563.2 43.0M563.2 43.0Q562.5 42.9 561.3 43.0M570.4 42.9Q571.7 42.8 572.7 42.0M572.7 42.0Q575.0 42.2 575.7 41.3M569.0 34.8Q570.3 34.7 572.3 34.8M572.3 34.8Q573.3 35.6 573.9 37.1M573.9 37.1Q574.6 37.5 574.3 38.7M574.3 38.7Q574.4 40.6 575.7 41.3M577.1 41.3Q576.1 41.0 575.8 40.9M575.8 40.9Q575.7 41.2 575.7 41.3M608.6 22.0Q608.6 21.9 608.7 21.9M608.7 21.9Q608.1 23.0 606.5 22.7M608.6 22.0Q608.9 21.5 608.5 21.0M608.5 21.0Q609.7 20.5 609.9 19.5M606.5 22.7Q605.2 22.7 604.2 22.3M604.2 22.3Q604.0 21.9 603.2 21.8M603.5 19.7Q603.0 20.0 602.6 20.9M602.6 20.9Q603.1 21.3 603.2 21.8M611.1 24.3Q610.8 24.4 610.1 24.3M610.1 24.3Q609.4 23.2 608.6 22.0M607.1 25.1Q607.1 24.9 607.0 24.3M607.0 24.3Q606.9 23.0 606.5 22.7M611.9 19.0Q610.5 19.0 610.1 18.8M610.1 18.8Q609.8 19.4 609.9 19.5M607.7 14.9Q607.9 16.7 607.4 17.3M607.4 17.3Q608.2 17.8 608.7 18.1M603.0 15.0Q603.0 15.4 603.7 16.3M603.7 16.3Q602.7 18.0 603.5 19.7M629.0 16.6Q629.0 16.8 628.7 16.9M628.7 16.9Q628.8 18.8 627.6 19.5M627.7 11.4Q627.5 10.4 627.7 10.1M627.7 10.1Q627.2 9.9 626.1 10.5M626.1 10.5Q624.9 11.0 623.1 11.7M623.1 11.7Q623.0 11.5 622.6 11.5M626.6 7.8Q626.7 8.4 625.5 10.2M625.5 10.2Q625.7 10.5 626.1 10.5M631.4 114.7Q631.1 115.0 630.6 114.9M630.6 114.9Q630.8 115.0 631.5 115.2M631.4 114.7Q631.9 114.4 633.0 114.5M633.0 114.5Q634.3 113.6 635.4 114.0M631.5 115.2Q632.4 116.5 632.5 116.9M632.5 116.9Q633.3 118.7 633.4 119.4M628.2 113.3Q628.9 113.8 629.6 114.5M629.6 114.5Q631.0 114.3 631.4 114.7M630.3 121.3Q630.3 119.9 629.7 117.1M629.7 117.1Q630.6 115.5 631.5 115.2M627.3 111.1Q627.3 111.0 627.3 111.0M627.3 111.0Q627.2 109.9 627.5 109.3M601.9 86.0Q600.7 85.2 600.0 84.4M600.0 84.4Q599.4 83.0 599.1 80.7M599.1 80.7Q599.0 80.6 598.9 80.6M598.9 80.6Q599.5 80.0 599.7 79.6M599.7 79.6Q601.0 80.3 601.6 81.1M601.6 81.1Q602.6 82.8 605.8 82.2M605.8 82.2Q605.9 81.9 606.1 81.9M606.1 81.9Q606.0 82.1 605.9 82.3M607.1 82.8Q606.5 82.8 606.2 83.3M606.2 83.3Q606.9 85.5 607.3 86.1M607.1 82.8Q606.8 82.0 606.6 81.5M606.6 81.5Q606.2 82.0 605.9 82.3M601.8 86.8Q601.9 86.5 602.2 85.5M602.2 85.5Q602.0 85.8 601.9 86.0M597.6 81.5Q598.0 81.6 598.6 81.1M598.6 81.1Q598.7 80.7 599.1 80.7M601.8 86.8Q601.8 87.0 601.6 87.2M601.6 87.2Q601.5 87.4 601.1 87.9M599.9 78.7Q599.3 79.0 598.9 80.2M598.9 80.2Q599.5 79.7 599.7 79.6M605.5 77.5Q605.5 78.2 606.0 79.9M606.0 79.9Q605.3 80.7 605.8 82.2M612.7 89.9Q612.7 89.4 612.4 88.9M612.4 88.9Q611.8 87.5 612.0 86.8M612.7 89.9Q614.2 89.7 614.6 90.7M614.6 90.7Q614.5 90.8 614.4 91.1M614.9 90.9Q614.9 91.2 615.3 91.8M615.3 91.8Q614.6 91.2 614.4 91.1M614.9 90.9Q615.5 90.1 614.4 87.3M614.4 87.3Q615.0 86.3 614.7 85.9M617.8 85.7Q615.8 85.5 615.2 87.0M615.2 87.0Q615.2 86.4 614.7 85.9M607.3 86.1Q607.2 86.2 607.2 86.4M607.2 86.4Q607.7 87.5 609.1 87.6M609.1 87.6Q609.4 87.1 610.1 86.3M610.1 86.3Q611.0 86.1 612.0 86.8M606.0 94.2Q606.9 95.4 608.4 95.6M608.4 95.6Q608.8 95.7 608.9 95.8M606.0 94.2Q606.7 93.8 606.8 93.4M606.8 93.4Q606.6 93.1 606.9 91.9M604.3 94.4Q605.1 95.1 605.9 94.8M605.9 94.8Q605.9 94.5 606.0 94.2M657.6 139.4Q657.7 138.4 661.1 134.7M661.1 134.7Q662.2 133.9 664.0 131.2M654.1 138.1Q655.2 137.1 654.9 134.4M654.9 134.4Q654.9 132.4 654.0 130.5M659.1 142.4Q658.4 141.9 657.7 140.0M657.7 140.0Q657.6 139.7 657.6 139.4M657.2 120.4Q654.8 122.0 654.7 124.2M654.7 124.2Q652.9 127.3 653.1 130.1M633.0 128.5Q633.6 129.0 635.5 129.3M635.5 129.3Q636.1 128.8 636.9 128.1M648.4 122.0Q649.6 125.0 650.8 127.0M650.8 127.0Q651.9 127.9 652.3 129.9M645.0 142.1Q645.7 140.8 647.6 140.2M647.6 140.2Q648.0 140.1 648.5 139.8M648.5 139.8Q648.5 136.3 648.4 135.4M648.4 135.4Q647.8 133.2 647.8 132.1M647.8 132.1Q646.3 132.3 645.9 131.4M645.9 131.4Q642.6 131.8 641.8 132.6M640.9 136.7Q641.4 135.6 641.3 135.0M641.3 135.0Q642.1 134.4 641.8 132.6M644.9 143.3Q645.1 143.4 646.0 143.6M646.0 143.6Q645.5 142.4 645.0 142.1M651.1 140.9Q651.0 140.1 650.6 139.5M650.6 139.5Q649.2 139.7 648.5 139.8M638.3 139.2Q638.4 137.8 639.7 137.2M639.7 137.2Q640.0 136.8 640.9 136.7M652.3 129.9Q651.6 130.4 651.1 130.5M651.1 130.5Q648.5 130.8 647.8 132.1M636.9 128.1Q638.1 130.4 640.5 130.5M640.5 130.5Q641.1 130.9 641.8 132.6M561.0 44.1Q560.5 46.1 559.8 47.1M559.8 47.1Q559.3 48.4 558.7 48.8M564.7 51.6Q563.7 52.0 563.4 52.2M563.4 52.2Q563.0 51.3 563.1 50.5M586.1 56.6Q584.9 56.2 584.4 56.6M584.4 56.6Q584.7 56.8 584.7 57.3M586.1 56.6Q586.1 56.9 586.3 57.1M586.3 57.1Q586.4 56.3 586.6 55.6M586.6 55.6Q585.1 56.1 584.5 55.7M584.5 55.7Q583.1 55.2 582.6 54.8M584.7 57.3Q584.5 57.3 584.4 57.1M584.4 57.1Q583.4 56.8 582.7 56.6M587.4 61.8Q585.9 60.4 585.4 59.3M585.4 59.3Q585.2 58.8 584.7 57.3M589.3 53.9Q588.2 53.9 586.9 55.7M586.9 55.7Q586.8 55.7 586.6 55.6M589.0 51.0Q585.9 51.5 585.1 52.0M585.1 52.0Q584.4 51.3 583.3 51.0M582.4 54.4Q581.9 54.0 581.9 53.7M581.9 53.7Q582.1 54.0 582.6 54.8M551.5 24.4Q550.4 25.2 549.1 25.7M549.1 25.7Q548.2 26.8 546.4 27.5M553.8 31.6Q553.4 31.4 552.9 30.9M552.9 30.9Q552.8 30.7 552.6 30.4M613.8 92.7Q614.1 93.0 614.1 93.5M614.1 93.5Q614.0 95.3 615.1 96.6M617.3 95.0Q617.4 96.1 616.4 96.9M616.4 96.9Q615.5 96.7 615.1 96.6M609.6 95.2Q610.0 94.8 610.7 93.9M610.7 93.9Q612.4 92.5 613.8 92.7M608.9 95.8Q609.3 96.6 610.7 97.1M610.7 97.1Q610.5 97.9 610.6 98.3M618.3 99.8Q618.1 99.7 617.8 99.4M617.8 99.4Q616.7 99.2 616.0 99.2M589.8 43.4Q589.4 42.5 588.9 42.2M588.9 42.2Q587.2 41.9 586.3 42.6M585.2 37.7Q585.4 38.3 586.5 39.5M586.5 39.5Q586.1 41.1 586.3 42.6M586.3 42.6Q586.2 42.5 586.0 42.2M586.0 42.2Q584.8 43.6 583.4 43.4M575.9 36.7Q576.3 36.7 576.4 36.9M576.4 36.9Q578.6 38.7 579.2 39.4M579.1 46.8Q579.7 45.5 581.7 44.1M581.7 44.1Q582.0 43.7 582.7 43.3M579.1 40.4Q579.3 40.5 579.9 40.7M579.9 40.7Q582.0 41.8 582.7 43.3M579.2 35.1Q578.9 35.3 578.6 35.5M578.6 35.5Q579.0 36.0 580.0 37.8M579.2 35.1Q579.7 34.8 579.7 34.3M579.7 34.3Q580.2 33.3 581.7 32.6M580.0 37.8Q580.6 37.2 582.6 36.4M582.6 36.4Q583.2 36.1 583.6 36.2M576.4 32.7Q576.9 34.5 576.9 34.9M576.9 34.9Q577.6 35.6 579.2 35.1M579.2 39.4Q578.8 39.8 578.6 39.8M578.6 39.8Q579.4 38.2 580.0 37.8M581.6 32.2Q581.4 31.8 580.7 31.2M580.7 31.2Q581.5 31.4 581.7 32.6M585.2 37.7Q584.9 37.5 583.9 36.9M583.9 36.9Q583.5 36.6 583.6 36.2" stroke="#c4c4c4" stroke-width="0.75" fill="none" opacity="0.85"/>
<path d="M494.7 84.3Q494.2 84.6 493.3 85.1M493.3 85.1Q493.5 84.8 493.5 84.2M494.8 73.7Q495.6 73.8 497.3 73.9M497.3 73.9Q497.1 74.4 497.5 75.4M639.3 157.2Q641.6 158.8 644.1 158.4M644.1 158.4Q646.5 158.6 647.7 157.4M647.7 157.4Q648.4 157.3 649.9 156.3M649.9 156.3Q651.6 155.2 652.0 153.7M497.0 87.5Q498.3 88.0 500.8 88.3M500.8 88.3Q502.2 88.2 504.6 88.0M481.2 111.0Q484.1 113.6 485.4 113.9M485.4 113.9Q488.2 115.8 490.5 117.5M481.8 127.3Q483.2 126.1 485.2 121.7M485.2 121.7Q488.5 118.9 490.5 117.5M540.7 72.5Q540.3 71.7 538.1 70.7M538.1 70.7Q537.8 70.8 537.7 71.0M535.1 68.0Q535.7 66.7 534.7 65.0M534.7 65.0Q532.7 63.0 532.2 62.7M537.1 69.6Q536.6 68.1 536.9 67.1M536.9 67.1Q537.1 66.2 538.5 64.9M532.2 62.7Q532.5 62.0 532.2 61.5M532.2 61.5Q533.3 61.3 534.2 60.7M546.4 66.7Q544.8 67.2 544.7 69.0M544.7 69.0Q544.8 72.2 544.0 73.0M546.4 66.7Q545.8 66.3 545.4 65.7M545.4 65.7Q545.2 64.9 544.1 64.3M542.8 73.4Q543.1 72.8 543.6 72.1M543.6 72.1Q543.7 72.3 544.0 73.0M542.8 73.4Q542.0 73.3 541.7 73.3M541.7 73.3Q540.9 72.8 540.7 72.5M544.1 64.3Q543.4 63.7 542.2 63.8M542.2 63.8Q541.4 63.6 540.9 63.4M538.5 64.9Q538.5 64.9 538.6 64.9M538.6 64.9Q539.5 63.6 540.4 63.3M540.9 63.4Q541.1 63.8 541.6 63.9M541.6 63.9Q541.0 63.7 540.4 63.3M529.6 63.1Q529.3 63.2 528.7 63.8M528.7 63.8Q528.0 63.2 527.8 62.4M532.3 73.6Q532.7 73.7 533.4 73.1M533.4 73.1Q533.3 73.2 533.1 73.4M535.1 68.0Q532.9 68.5 532.0 67.6M532.0 67.6Q529.9 68.8 529.2 68.6M522.5 77.2Q524.0 78.0 525.4 77.5M525.4 77.5Q527.0 78.0 529.8 79.0M523.2 74.0Q523.4 73.3 524.4 72.3M524.4 72.3Q525.1 71.6 525.8 71.0M528.8 99.4Q527.9 99.8 527.9 101.3M527.9 101.3Q528.1 101.5 528.3 102.0M528.9 91.5Q529.7 92.9 530.7 94.5M530.7 94.5Q531.4 95.4 533.9 95.5M528.9 91.5Q528.2 90.7 527.5 90.2M527.5 90.2Q527.2 90.7 526.5 90.6M534.0 102.0Q535.0 100.7 535.1 100.2M535.1 100.2Q534.6 98.6 535.5 96.3M491.5 107.2Q491.5 107.5 490.6 108.8M490.6 108.8Q490.8 108.5 491.2 108.2M494.0 103.3Q492.2 101.1 490.9 101.1M490.9 101.1Q490.5 100.5 490.1 99.3M494.0 103.3Q494.6 105.1 494.5 105.6M494.5 105.6Q493.7 105.6 492.8 105.5M493.1 113.8Q493.1 114.6 493.7 114.8M493.7 114.8Q492.4 115.5 492.4 116.4M539.4 93.3Q538.9 93.9 538.0 94.3M538.0 94.3Q538.3 95.0 538.8 95.1M501.6 109.8Q502.0 110.3 502.5 110.9M502.5 110.9Q502.0 109.7 501.0 109.6M503.4 112.4Q503.8 112.9 503.8 113.2M503.8 113.2Q503.4 113.2 503.3 113.6M500.0 94.2Q499.9 94.5 500.2 94.8M500.2 94.8Q501.1 95.1 501.5 96.3M510.5 120.8Q510.0 120.3 509.1 120.5M509.1 120.5Q509.1 120.6 509.2 120.8M509.2 120.8Q507.5 125.1 507.1 126.3M507.1 126.3Q506.7 127.8 506.9 129.6M502.7 127.1Q502.4 124.0 504.3 122.8M504.3 122.8Q504.6 120.8 503.5 119.4M500.2 120.2Q500.6 120.3 501.8 120.5M501.8 120.5Q502.7 120.3 503.5 119.4M494.9 119.1Q497.0 119.8 497.8 118.9M497.8 118.9Q498.2 120.0 500.2 120.2M544.6 158.3Q544.3 158.0 543.2 157.5M543.2 157.5Q543.9 155.8 543.5 155.1M539.8 154.1Q540.5 154.3 542.1 153.8M542.1 153.8Q542.2 154.4 542.4 154.6M542.4 154.6Q542.3 154.8 542.3 154.9M542.3 154.9Q542.8 155.3 543.5 155.1M572.1 147.1Q572.8 145.8 573.4 145.1M573.4 145.1Q574.0 145.2 575.5 144.7M576.2 152.5Q578.8 150.9 579.5 150.6M579.5 150.6Q580.4 150.0 582.4 148.5M571.6 146.5Q571.2 145.5 570.4 142.5M570.4 142.5Q571.6 140.1 570.8 138.9M562.8 133.7Q562.1 132.8 563.3 129.9M563.3 129.9Q565.5 129.0 565.9 128.3M571.9 135.0Q570.4 136.5 570.3 137.7M570.3 137.7Q570.2 137.9 570.4 138.5M538.5 157.0Q536.5 156.5 534.4 158.3M534.4 158.3Q533.4 157.5 531.1 158.7M531.0 159.0Q530.4 158.7 530.1 158.6M530.1 158.6Q530.9 158.7 531.1 158.7M538.9 156.0Q538.7 155.9 538.6 156.0M538.6 156.0Q538.7 156.1 538.7 156.3M507.8 130.9Q507.1 132.5 507.5 133.2M507.5 133.2Q509.0 135.4 508.8 136.2M653.4 72.0Q654.3 70.9 654.7 70.3M654.7 70.3Q654.6 69.4 653.9 67.7M651.5 86.0Q648.7 84.5 646.8 81.8M646.8 81.8Q645.0 79.9 643.0 79.8M647.7 73.6Q647.5 75.3 647.6 75.8M647.6 75.8Q647.7 76.2 647.7 76.4M651.2 28.0Q650.2 28.6 649.2 29.5M649.2 29.5Q647.7 30.3 647.3 32.7M559.3 78.3Q559.1 79.4 560.0 79.8M560.0 79.8Q560.3 81.4 561.6 81.8M559.3 78.3Q558.6 78.6 556.8 77.4M556.8 77.4Q554.2 77.2 552.0 76.1M561.6 81.8Q559.8 81.7 558.8 82.1M558.8 82.1Q558.2 81.4 555.7 82.3M552.0 76.1Q551.6 76.6 551.4 76.8M551.4 76.8Q551.1 76.9 550.7 77.0M550.8 77.5Q551.0 77.3 551.3 76.5M551.3 76.5Q551.1 76.5 550.7 77.0M546.4 66.7Q546.7 66.0 547.5 65.7M547.5 65.7Q547.2 65.9 547.1 66.2M556.4 71.1Q555.9 72.7 554.4 73.9M554.4 73.9Q553.5 74.6 552.0 76.1M556.4 71.1Q556.4 70.6 556.4 68.6M556.4 68.6Q556.7 68.0 556.1 67.2M547.1 66.2Q548.0 67.2 550.8 67.3M550.8 67.3Q551.9 66.7 556.1 67.2M559.3 78.3Q559.2 77.8 558.6 77.5M558.6 77.5Q559.2 77.6 559.4 77.8M559.3 72.3Q559.5 74.2 559.1 75.4M559.1 75.4Q559.4 77.1 559.4 77.8M577.9 84.2Q578.4 83.4 578.5 80.4M578.5 80.4Q578.2 79.7 577.0 78.8M577.9 84.2Q578.6 84.2 579.2 84.4M579.2 84.4Q579.2 84.7 579.3 84.9M549.8 80.1Q549.8 81.1 549.0 81.4M549.0 81.4Q549.0 81.8 549.2 83.6M549.2 83.6Q549.3 83.9 548.6 85.0M548.6 85.0Q549.6 86.1 550.3 86.8M555.7 82.3Q556.1 84.2 554.9 85.8M554.9 85.8Q555.5 86.5 554.8 89.2M550.3 86.8Q551.6 86.6 552.2 87.3M552.2 87.3Q553.1 87.4 554.8 89.2M539.4 93.3Q541.8 94.0 544.2 93.9M544.2 93.9Q545.7 93.8 547.9 93.6M549.7 97.7Q550.2 97.2 551.0 96.5M551.0 96.5Q550.7 96.7 550.4 97.0M562.3 82.5Q562.4 82.4 562.9 81.9M562.9 81.9Q562.1 81.9 561.9 81.9M562.3 82.5Q562.1 82.9 562.0 83.5M562.0 83.5Q562.1 82.9 562.4 82.7M561.9 81.9Q562.3 82.1 562.5 82.1M562.5 82.1Q562.2 82.1 561.6 81.8M554.8 89.2Q555.2 89.0 555.6 89.0M555.6 89.0Q555.9 90.0 556.0 90.8M556.0 90.8Q555.9 90.1 556.3 89.9M556.3 89.9Q557.5 90.4 558.2 90.8M562.4 82.7Q562.9 85.7 561.2 87.2M561.2 87.2Q559.8 89.3 558.2 90.8M571.4 79.4Q571.2 79.6 570.7 79.5M570.7 79.5Q570.4 79.3 568.9 78.6M571.4 79.4Q570.7 80.1 569.4 82.9M569.4 82.9Q568.9 84.9 568.8 86.4M568.9 78.6Q565.6 78.6 564.7 80.4M564.7 80.4Q563.3 81.4 562.3 82.5M562.4 82.7Q563.2 83.1 565.1 85.2M565.1 85.2Q567.4 86.0 568.8 86.4M540.4 63.3Q539.9 61.0 540.0 60.4M540.0 60.4Q539.0 59.5 538.0 57.6M522.8 99.0Q522.9 99.6 522.2 100.2M522.2 100.2Q520.7 101.0 519.5 101.3M520.0 89.9Q520.0 90.0 520.1 90.1M520.1 90.1Q520.9 89.8 521.1 88.9M516.5 96.2Q517.0 97.0 517.3 97.7M517.3 97.7Q518.8 99.2 519.5 101.3M512.6 100.9Q513.1 101.3 513.5 102.1M513.5 102.1Q513.8 101.9 514.3 102.1M514.3 102.1Q513.1 103.3 512.9 103.8M512.9 103.8Q513.8 104.9 512.8 107.2M522.4 75.1Q521.4 73.9 520.6 72.0M520.6 72.0Q518.9 68.3 517.0 67.7M517.0 67.7Q516.4 68.0 515.5 69.1M515.5 69.1Q515.2 70.0 514.7 72.0M494.8 73.7Q493.2 72.1 493.2 71.3M493.2 71.3Q493.0 70.7 493.2 70.5M500.1 69.4Q498.1 70.0 497.3 69.1M497.3 69.1Q495.9 69.9 493.2 70.5M576.6 78.1Q577.4 78.1 577.8 77.4M577.8 77.4Q577.7 77.9 577.0 78.8M576.6 78.1Q577.4 77.6 578.0 77.8M578.0 77.8Q578.0 77.4 577.3 76.5M651.4 4.1Q651.3 4.6 651.3 5.1M651.3 5.1Q651.2 5.5 651.7 6.0M546.2 89.8Q546.2 91.0 545.9 92.6M545.9 92.6Q546.8 93.3 547.9 93.6M546.2 89.8Q545.0 90.0 544.7 90.1M544.7 90.1Q542.4 89.4 542.0 88.4M542.0 88.4Q541.7 88.8 540.4 89.9M540.4 89.9Q540.7 89.7 540.7 89.4M512.9 108.5Q514.1 110.8 517.5 111.2M517.5 111.2Q518.5 112.1 520.5 113.1M512.9 107.3Q513.2 106.6 513.2 106.3M513.2 106.3Q513.3 107.0 512.8 107.2M506.9 108.7Q508.0 108.9 509.7 109.6M509.7 109.6Q511.6 109.9 512.2 112.0M516.3 107.2Q516.0 106.7 515.7 106.1M515.7 106.1Q514.6 107.2 512.9 107.3M506.9 108.7Q507.2 109.5 505.8 111.6M505.8 111.6Q505.0 111.3 503.4 112.4M501.3 96.7Q502.3 97.9 503.9 100.1M503.9 100.1Q503.5 102.1 504.1 102.7M501.3 96.7Q500.0 99.0 499.2 99.6M499.2 99.6Q498.0 100.3 496.3 101.3M498.2 102.8Q498.9 103.7 500.0 103.5M500.0 103.5Q500.3 104.0 501.3 103.9M498.2 102.8Q498.3 101.6 497.5 101.2M497.5 101.2Q496.9 101.9 496.1 101.9M501.5 96.3Q500.6 96.8 500.2 97.4M500.2 97.4Q500.9 96.9 501.3 96.7M501.6 109.8Q501.2 108.0 502.3 107.3M502.3 107.3Q501.3 106.2 501.3 103.9M547.8 152.3Q546.8 149.7 547.5 148.0M547.5 148.0Q545.4 146.9 545.1 145.7M554.3 152.7Q554.1 152.3 553.3 152.1M553.3 152.1Q553.2 151.9 553.4 151.3M540.5 142.3Q540.2 142.8 540.0 143.0M540.0 143.0Q539.9 142.9 540.0 142.5M528.7 145.2Q526.6 144.4 525.7 141.9M525.7 141.9Q524.8 139.7 522.4 138.5M517.8 137.4Q517.6 138.9 516.5 140.6M516.5 140.6Q514.5 141.6 514.3 144.3M500.8 143.2Q501.1 143.6 501.2 143.7M501.2 143.7Q501.8 144.6 502.2 145.7M502.2 145.7Q501.9 145.4 501.7 144.7M501.7 144.7Q502.6 145.7 502.7 145.8M583.9 145.6Q583.8 145.0 582.9 144.8M582.9 144.8Q583.2 145.0 583.3 145.0M634.4 64.3Q634.0 64.1 633.1 63.8M633.1 63.8Q631.7 62.7 631.2 62.7M612.0 65.2Q612.7 64.9 613.1 64.4M613.1 64.4Q613.9 63.5 616.4 62.3M616.4 62.3Q618.2 61.6 618.9 61.6M618.9 61.6Q619.0 62.0 619.2 62.5M617.6 70.7Q617.1 67.8 618.5 66.1M618.5 66.1Q619.4 63.5 619.2 62.5M582.8 160.5Q583.4 155.8 585.6 154.7M585.6 154.7Q586.8 153.6 586.1 150.9M583.9 145.6Q586.2 144.8 587.0 143.4M587.0 143.4Q587.3 143.4 587.6 143.5M585.8 150.4Q584.7 147.0 585.8 145.9M585.8 145.9Q586.8 145.1 587.9 143.7M647.7 73.6Q647.5 73.4 646.5 72.3M646.5 72.3Q646.0 72.6 645.6 73.0M642.5 70.8Q642.1 68.7 642.6 67.0M642.6 67.0Q642.2 66.2 642.8 65.2M635.5 66.6Q636.4 65.5 637.5 65.2M637.5 65.2Q640.5 64.4 641.7 64.6M653.9 67.7Q654.1 67.3 654.2 66.7M654.2 66.7Q653.9 66.0 652.7 65.7M642.3 78.7Q641.2 78.6 640.9 78.1M640.9 78.1Q641.2 77.5 641.3 76.8M642.3 78.7Q642.3 78.2 642.0 78.1M642.0 78.1Q642.2 78.3 643.0 79.1M649.6 35.4Q650.1 36.0 650.1 36.2M650.1 36.2Q650.0 35.9 649.5 35.2M664.3 31.5Q662.4 32.0 657.4 35.3M657.4 35.3Q655.6 39.3 652.4 39.4M652.4 39.4Q653.1 39.7 653.8 40.8M653.8 40.8Q655.0 41.3 657.3 40.7M649.6 35.4Q648.1 36.5 646.9 38.9M646.9 38.9Q646.3 40.3 644.3 41.4M642.4 46.8Q642.3 46.3 644.4 43.5M644.4 43.5Q644.7 41.9 644.1 41.4M630.4 52.4Q629.7 51.7 628.8 51.2M628.8 51.2Q628.6 50.6 628.5 49.1M628.5 49.1Q630.8 48.6 631.2 47.4M631.2 47.4Q632.3 45.2 636.3 43.4M497.1 11.3Q498.3 9.3 498.7 8.3M498.7 8.3Q500.7 5.0 500.3 3.9M489.2 6.5Q489.4 6.5 489.6 6.8M489.6 6.8Q489.6 7.3 489.8 7.5M500.7 1.2Q500.4 1.7 500.4 2.8M500.4 2.8Q500.3 3.3 500.3 3.9M499.0 31.9Q498.0 32.6 495.6 31.9M495.6 31.9Q492.9 31.6 492.0 31.9M566.5 76.6Q566.2 77.4 565.0 77.4M565.0 77.4Q564.2 77.0 564.2 76.4M566.5 76.6Q566.8 76.1 567.2 75.6M567.2 75.6Q568.2 74.1 568.3 73.5M564.2 76.4Q564.0 76.4 563.0 75.6M563.0 75.6Q563.0 75.1 563.1 74.6M563.1 74.6Q563.5 73.1 563.1 72.6M563.1 72.6Q563.0 72.7 562.5 72.8M568.3 73.5Q566.9 73.4 566.6 72.3M566.6 72.3Q566.7 71.7 566.3 71.3M566.3 71.3Q565.4 70.8 564.8 70.9M564.8 70.9Q564.6 71.3 564.0 71.4M564.0 71.4Q564.0 71.8 563.7 72.7M563.7 72.7Q562.9 72.9 562.5 72.8M568.9 78.6Q568.0 78.7 567.6 78.3M567.6 78.3Q567.6 77.9 566.5 76.6M572.6 78.6Q572.0 76.4 572.3 75.7M572.3 75.7Q571.3 74.5 570.0 73.6M570.0 73.6Q569.5 74.2 568.7 74.3M568.7 74.3Q568.2 73.8 568.3 73.5M559.4 77.8Q560.5 77.0 560.9 75.6M560.9 75.6Q561.7 75.0 563.1 74.6M559.3 72.3Q560.4 71.8 560.9 71.9M560.9 71.9Q561.8 72.2 562.5 72.8M579.6 112.9Q577.2 113.6 577.4 116.7M577.4 116.7Q577.1 117.9 575.4 118.7M573.7 117.8Q573.9 117.0 573.9 116.1M573.9 116.1Q572.8 113.9 571.7 112.9M550.3 86.8Q548.6 86.6 547.3 87.9M547.3 87.9Q547.2 88.3 546.2 89.8M538.8 31.5Q537.9 32.0 537.8 32.4M537.8 32.4Q537.9 32.3 537.8 31.8M540.9 63.4Q542.1 62.6 542.7 62.2M542.7 62.2Q542.1 59.8 542.7 58.7M538.0 57.6Q537.9 57.8 538.0 57.9M538.0 57.9Q538.1 57.8 538.0 57.5M547.1 66.2Q547.3 64.1 547.6 63.0M547.6 63.0Q549.0 62.3 549.3 61.2M549.3 61.2Q548.0 61.5 547.2 60.9M547.2 60.9Q545.1 60.5 545.0 58.2M543.8 58.9Q544.2 59.3 544.7 59.2M544.7 59.2Q545.1 58.9 545.0 58.2M516.4 96.2Q515.5 95.0 515.3 94.9M515.3 94.9Q514.7 95.8 514.0 96.0M511.2 100.2Q511.6 99.6 511.4 98.7M511.4 98.7Q511.3 99.0 511.2 99.1M515.2 102.1Q514.7 100.7 514.9 99.5M514.9 99.5Q515.3 98.3 516.1 96.6M512.6 100.9Q512.5 101.2 512.3 101.5M512.3 101.5Q512.0 101.1 512.2 100.6M516.3 106.9Q517.7 105.8 517.4 104.4M517.4 104.4Q516.1 104.0 516.2 102.2M524.2 106.2Q521.7 106.1 520.8 104.3M520.8 104.3Q520.0 103.1 519.3 101.7M536.9 50.4Q535.7 51.5 534.2 51.2M534.2 51.2Q532.2 52.2 530.4 51.1M530.4 51.1Q530.1 50.1 530.6 49.2M530.6 49.2Q531.0 47.0 529.5 45.7M529.5 45.5Q529.8 45.2 530.6 44.5M530.6 44.5Q530.2 45.4 529.5 45.7M523.0 48.9Q523.5 49.1 524.8 50.5M524.8 50.5Q525.7 52.5 528.2 54.0M526.0 54.7Q526.1 55.2 526.0 55.3M526.0 55.3Q527.1 54.1 528.0 54.2M528.0 54.2Q527.2 53.5 527.1 53.4M527.1 53.4Q527.7 53.6 528.2 54.0M529.5 53.3Q529.8 52.3 529.7 51.5M529.7 51.5Q530.1 51.3 530.4 51.1M529.5 53.3Q529.5 53.9 529.4 54.3M529.4 54.3Q528.5 54.0 528.2 54.0M529.5 45.7Q528.6 47.6 526.6 48.4M526.6 48.4Q524.4 48.6 523.0 48.9M525.3 62.9Q524.7 61.0 523.6 60.2M523.6 60.2Q523.5 59.9 523.1 59.3M523.2 74.0Q523.8 71.8 522.2 69.6M522.2 69.6Q520.0 66.3 519.7 65.7M523.2 65.0Q522.7 64.6 522.0 64.4M522.0 64.4Q521.1 64.5 520.6 65.0M500.1 69.4Q500.1 68.6 500.9 68.5M500.9 68.5Q500.9 68.8 500.5 69.1M498.5 64.1Q496.6 64.9 495.8 64.4M495.8 64.4Q495.1 65.3 494.0 66.4M504.7 64.9Q504.7 65.1 504.9 65.3M504.9 65.3Q504.3 65.4 503.8 65.2M510.2 71.7Q511.0 71.2 513.6 71.4M513.6 71.4Q514.5 71.6 514.7 72.0M494.0 66.4Q493.8 65.8 493.0 65.7M493.0 65.7Q493.5 66.3 494.0 66.4M494.0 66.4Q492.7 65.6 492.1 64.6M492.1 64.6Q493.1 63.7 492.2 60.5M500.8 32.6Q501.4 32.1 503.2 31.5M503.2 31.5Q506.0 31.4 507.9 28.4M509.4 31.9Q509.8 32.9 508.9 34.2M508.9 34.2Q508.1 35.7 506.5 35.6M506.5 35.6Q505.2 35.3 504.1 33.4M504.1 33.4Q502.4 32.1 500.8 32.6M570.0 73.6Q570.1 73.4 570.0 72.9M570.0 72.9Q570.4 71.8 571.8 71.0M566.3 71.3Q566.9 70.4 567.0 69.4M567.0 69.4Q568.2 69.5 568.5 69.1M568.5 69.1Q569.3 69.5 569.9 70.7M569.9 70.7Q570.6 70.5 571.8 71.0M563.4 65.4Q563.8 65.3 564.1 65.5M564.1 65.5Q564.3 65.3 564.5 65.2M563.4 65.4Q564.1 66.3 562.9 68.6M562.9 68.6Q563.2 70.7 564.0 71.4M568.5 69.1Q568.2 69.4 567.9 69.3M567.9 69.3Q568.4 68.9 568.5 68.7M568.5 68.7Q568.7 67.3 568.0 66.9M568.0 66.9Q567.9 67.1 567.6 67.2M564.5 65.2Q565.3 65.7 566.1 65.5M566.1 65.5Q566.6 66.2 567.6 67.2M583.5 76.9Q584.5 76.7 587.1 75.3M587.1 75.3Q587.4 74.1 588.7 73.7M578.6 71.7Q578.9 72.2 579.2 73.0M579.2 73.0Q578.2 72.3 578.0 72.0M572.6 78.6Q573.4 78.7 574.0 79.0M574.0 79.0Q575.0 79.2 576.6 78.1M568.5 68.7Q569.6 67.5 571.8 66.2M571.8 66.2Q572.8 65.6 573.2 65.2M575.3 70.2Q575.6 69.9 576.0 69.0M576.0 69.0Q575.6 68.0 574.5 68.0M556.1 67.2Q556.4 66.8 557.1 66.7M557.1 66.7Q557.3 65.6 557.2 65.3M549.3 61.2Q549.8 61.6 551.0 60.9M551.0 60.9Q551.2 60.6 551.4 59.7M563.4 65.4Q561.8 64.2 561.0 63.7M561.0 63.7Q560.0 63.6 559.7 63.6M557.2 65.3Q557.9 64.7 559.4 64.8M559.4 64.8Q559.9 64.5 559.7 63.6M612.0 65.2Q611.2 64.0 610.0 63.7M610.0 63.7Q609.3 64.0 609.1 63.9M641.3 8.0Q644.4 6.3 646.3 6.9M646.3 6.9Q649.5 6.6 651.5 6.5M627.3 48.2Q627.8 47.5 629.1 47.9M629.1 47.9Q628.6 48.1 628.5 49.1M636.3 43.4Q635.7 42.3 634.0 42.5M634.0 42.5Q634.4 41.6 634.0 40.5M638.2 100.0Q638.6 100.4 641.3 102.5M641.3 102.5Q642.4 102.6 645.0 102.8M637.0 102.1Q637.0 102.2 637.0 102.2M637.0 102.2Q636.6 102.7 636.9 103.4M549.8 80.1Q549.2 80.9 547.7 81.0M547.7 81.0Q546.4 81.6 544.0 82.2M543.7 85.3Q544.5 84.6 544.1 82.9M544.1 82.9Q544.3 82.6 544.0 82.2M542.0 88.4Q541.8 87.7 541.8 87.4M541.8 87.4Q541.9 87.0 542.3 86.8M543.7 85.3Q543.7 85.3 543.7 85.2M543.7 85.2Q543.5 85.9 542.3 86.8M544.0 82.2Q543.7 82.1 543.1 81.2M543.1 81.2Q541.8 79.5 540.9 78.0M520.5 137.7Q519.0 134.4 520.2 133.2M520.2 133.2Q520.3 128.4 521.2 127.0M525.2 136.7Q525.8 135.4 526.5 134.7M526.5 134.7Q526.3 133.7 527.2 131.5M530.5 103.1Q530.4 103.8 530.0 104.8M530.0 104.8Q530.4 106.3 530.5 108.5M557.6 147.8Q556.9 147.9 556.6 147.6M556.6 147.6Q557.3 147.5 557.7 146.9M562.1 145.3Q561.2 145.2 560.4 144.6M560.4 144.6Q560.0 143.2 559.4 142.2M567.3 159.6Q568.0 157.0 568.0 156.0M568.0 156.0Q569.7 154.9 571.0 154.8M529.6 122.1Q530.4 123.4 531.4 123.9M531.4 123.9Q531.4 124.2 531.2 124.9M532.0 128.1Q532.5 126.9 532.1 126.2M532.1 126.2Q532.0 126.0 531.4 125.3M540.7 133.7Q541.0 134.0 541.8 134.6M541.8 134.6Q543.3 135.6 545.1 136.3M555.0 133.3Q554.6 132.7 553.0 131.5M553.0 131.5Q552.2 130.9 549.7 131.1M539.3 129.9Q540.5 128.6 541.1 127.3M541.1 127.3Q541.2 125.7 541.5 125.2M541.4 125.1Q541.6 124.7 541.9 124.0M541.9 124.0Q541.4 124.9 541.5 125.2M536.6 150.8Q534.8 151.8 534.5 152.4M534.5 152.4Q532.8 153.1 530.0 152.1M493.9 135.7Q494.6 135.0 496.6 134.5M496.6 134.5Q498.0 132.9 499.8 133.1M501.2 158.7Q500.3 157.8 500.1 157.7M500.1 157.7Q499.9 157.3 500.0 157.2M507.9 141.4Q508.3 142.7 507.4 143.9M507.4 143.9Q507.8 144.9 509.2 145.2M516.1 151.5Q514.7 152.6 513.0 153.5M513.0 153.5Q511.2 154.2 510.5 153.6M511.6 146.3Q510.9 149.1 510.4 150.0M510.4 150.0Q509.7 152.8 510.5 153.6M504.3 148.4Q505.2 147.3 505.9 146.4M505.9 146.4Q506.9 145.9 508.3 146.7M641.3 63.6Q640.3 62.6 639.3 61.1M639.3 61.1Q639.3 59.1 638.3 58.2M635.5 66.6Q635.8 66.6 636.0 66.5M636.0 66.5Q635.6 66.5 635.4 66.6M631.1 70.7Q631.8 70.9 632.2 71.7M632.2 71.7Q631.9 71.1 631.3 70.7M631.1 70.7Q630.8 70.4 629.3 68.7M629.3 68.7Q627.5 68.5 626.3 68.8M602.0 61.5Q604.1 62.7 605.9 63.3M605.9 63.3Q607.2 63.8 608.1 64.4M584.5 87.1Q584.1 85.7 584.7 83.9M584.7 83.9Q585.4 83.5 586.4 82.6M585.5 89.9Q585.8 89.3 586.0 89.0M586.0 89.0Q585.6 89.3 585.3 89.6M579.3 84.9Q579.3 85.4 579.0 86.1M579.0 86.1Q578.7 88.0 580.0 88.7M586.7 95.4Q586.3 93.0 586.3 92.3M586.3 92.3Q586.1 91.8 586.6 91.0M607.6 76.2Q608.4 75.3 608.1 74.2M608.1 74.2Q607.9 74.0 607.2 74.3M607.2 74.3Q607.1 73.6 607.2 73.3M607.2 73.3Q608.5 72.1 608.6 70.8M603.6 72.0Q603.9 72.7 604.7 74.1M604.7 74.1Q606.2 74.3 607.2 74.3M603.6 72.0Q603.7 71.7 603.3 71.0M603.3 71.0Q603.3 70.4 604.2 68.4M604.9 68.2Q606.0 68.7 607.0 68.4M607.0 68.4Q607.1 69.3 608.6 70.8M605.5 77.5Q603.8 79.2 602.2 79.3M602.2 79.3Q601.3 79.5 599.9 78.7M638.2 100.0Q637.2 99.9 636.4 99.1M636.4 99.1Q637.0 97.8 636.9 97.4M637.0 102.1Q636.2 101.9 635.6 101.2M635.6 101.2Q634.8 101.5 634.5 102.5M587.9 143.7Q589.1 144.3 589.5 144.0M589.5 144.0Q589.9 144.2 590.9 144.4M591.3 146.9Q591.6 146.2 591.5 144.8M591.5 144.8Q591.3 144.5 590.9 144.4M587.6 143.5Q587.0 143.3 587.0 142.7M587.0 142.7Q586.8 142.3 586.1 140.6M598.0 149.9Q598.3 151.5 597.8 153.9M597.8 153.9Q598.9 154.9 599.6 156.2M652.0 153.7Q652.3 153.0 651.7 151.3M651.7 151.3Q651.0 150.6 650.5 149.7M618.8 153.4Q619.5 152.7 620.2 152.8M620.2 152.8Q620.1 152.7 620.2 152.5M631.3 70.7Q631.3 71.3 632.6 73.1M632.6 73.1Q633.6 73.6 633.9 73.9M652.6 63.0Q652.2 62.5 652.7 61.1M652.7 61.1Q652.8 60.6 653.1 59.8M651.2 56.0Q651.0 57.6 652.2 59.0M652.2 59.0Q652.7 59.2 653.1 59.8M646.7 64.7Q648.4 63.1 648.9 62.6M648.9 62.6Q649.1 62.7 649.3 62.6M659.0 44.9Q658.9 44.6 658.6 44.5M658.6 44.5Q658.5 44.4 658.5 44.2M653.5 52.5Q654.3 51.4 654.1 50.7M654.1 50.7Q654.5 48.5 655.9 47.6M651.9 42.5Q651.4 42.3 650.8 41.5M650.8 41.5Q651.1 42.0 652.0 42.6M525.5 35.7Q525.8 34.3 525.5 32.3M525.5 32.3Q526.2 31.5 526.5 31.3M525.5 35.7Q526.7 35.4 529.9 36.4M529.9 36.4Q531.0 35.3 532.1 35.4M519.4 35.3Q521.4 33.7 520.6 30.3M520.6 30.3Q521.8 29.4 523.4 27.4M523.4 27.4Q525.1 27.7 525.5 28.3M525.5 28.3Q526.1 29.6 526.5 31.3M533.1 36.9Q533.1 36.6 532.8 36.5M532.8 36.5Q533.0 36.6 533.4 37.0M491.2 15.3Q492.1 14.9 494.9 16.8M494.9 16.8Q496.0 17.2 496.6 17.2M503.6 23.9Q503.5 22.8 502.9 20.5M502.9 20.5Q501.3 20.0 500.4 19.6M495.6 24.6Q495.9 23.3 495.4 22.2M495.4 22.2Q495.5 21.8 495.5 21.6M488.9 31.9Q489.8 31.9 490.4 31.7M490.4 31.7Q490.5 32.3 490.3 32.4M486.1 22.7Q488.0 22.9 488.9 22.8M488.9 22.8Q489.3 23.0 490.6 22.7M501.2 53.6Q501.2 53.6 501.2 53.7M501.2 53.7Q501.1 54.4 501.5 54.7M501.5 54.7Q501.2 56.0 503.4 59.4M503.4 59.4Q505.7 62.5 507.1 62.7M510.1 59.2Q509.6 59.9 509.1 60.9M509.1 60.9Q508.8 61.8 508.2 62.1M501.2 64.3Q500.9 62.8 502.4 59.3M502.4 59.3Q502.6 57.6 501.5 54.7M512.2 33.4Q511.1 34.1 511.3 36.7M511.3 36.7Q511.5 37.8 511.4 38.2M518.3 35.5Q518.0 35.5 517.6 35.4M517.6 35.4Q518.0 35.9 518.0 36.2M506.5 35.6Q506.3 35.7 505.9 35.9M505.9 35.9Q506.1 36.3 506.5 36.4M508.2 43.7Q508.7 42.3 509.8 42.1M509.8 42.1Q511.2 42.5 513.4 42.2M503.9 47.3Q503.8 46.7 502.8 46.1M502.8 46.1Q503.2 46.1 503.7 46.2M503.7 46.2Q504.0 45.0 503.4 44.1M503.4 44.1Q503.9 43.6 504.0 43.6M504.0 43.6Q504.7 42.8 505.1 42.3M505.1 42.3Q506.4 43.3 507.5 43.2M511.4 38.2Q511.5 39.3 512.0 39.7M512.0 39.7Q511.7 39.4 510.6 39.0M498.0 39.4Q497.0 40.4 495.9 41.4M495.9 41.4Q493.7 43.1 492.3 42.6M492.3 43.6Q491.3 44.2 490.5 45.1M490.5 45.1Q489.8 47.4 489.8 48.0M492.3 43.6Q492.4 43.2 492.8 43.1M492.8 43.1Q492.5 43.0 492.3 42.6M554.1 107.0Q553.3 106.4 553.9 103.9M553.9 103.9Q555.5 103.9 556.1 102.5M556.1 102.5Q554.8 101.1 553.5 99.8M553.5 99.8Q551.3 98.9 551.1 96.8M573.7 117.8Q572.1 118.7 571.2 120.6M571.2 120.6Q569.7 122.2 567.0 121.3M562.6 108.1Q561.7 107.0 561.7 105.5M561.7 105.5Q560.7 104.4 559.6 101.9M574.1 109.5Q575.3 108.0 577.5 108.4M577.5 108.4Q578.7 107.6 578.6 105.3M574.1 109.5Q572.4 107.6 572.0 107.0M572.0 107.0Q570.8 105.3 570.6 104.7M579.5 112.5Q581.2 110.3 582.5 109.9M582.5 109.9Q583.3 108.9 583.8 107.0M582.5 104.9Q581.3 105.6 579.7 105.0M579.7 105.0Q579.0 104.9 578.6 105.3M575.4 100.9Q574.6 101.7 572.6 102.7M572.6 102.7Q572.4 103.0 571.5 104.1M579.3 96.8Q578.8 97.3 577.5 97.9M577.5 97.9Q577.6 99.6 576.2 100.7M536.9 50.4Q537.1 49.9 537.4 49.4M537.4 49.4Q537.4 50.1 538.0 50.6M538.0 50.6Q538.8 52.1 538.1 53.4M538.1 53.4Q538.4 54.0 539.3 54.1M514.7 58.6Q515.0 58.5 515.4 57.8M515.4 57.8Q514.5 58.6 514.4 59.1M520.4 56.7Q520.8 58.3 520.7 59.1M520.7 59.1Q520.0 60.3 519.3 61.5M523.1 59.3Q521.3 59.6 520.5 59.9M520.5 59.9Q519.8 61.2 519.3 61.5M520.6 65.0Q521.1 64.3 521.1 62.9M521.1 62.9Q520.0 62.0 519.2 61.6M510.6 69.0Q510.4 66.3 511.7 65.6M511.7 65.6Q511.5 65.2 510.6 64.3M510.6 69.0Q511.5 67.9 514.2 68.7M514.2 68.7Q515.3 67.3 515.4 66.3M517.0 67.1Q516.8 66.9 516.8 66.6M516.8 66.6Q516.0 66.3 515.4 66.3M489.8 48.4Q490.3 48.8 492.0 50.8M492.0 50.8Q492.6 51.7 494.0 52.7M492.3 43.6Q493.3 45.1 494.0 45.4M494.0 45.4Q494.7 45.0 494.9 45.1M494.0 52.7Q493.8 52.9 493.5 53.4M493.5 53.4Q494.4 53.3 495.4 52.8M490.6 56.3Q490.9 56.1 491.0 56.1M491.0 56.1Q490.7 57.6 491.0 58.2M496.9 60.8Q496.2 60.7 496.0 60.7M496.0 60.7Q496.0 60.5 497.0 59.4M494.5 58.3Q494.1 57.7 493.4 57.2M493.4 57.2Q494.2 57.8 494.7 58.2M500.8 53.5Q500.8 53.4 500.6 53.1M500.6 53.1Q501.0 53.6 501.2 53.6M596.7 20.0Q596.6 19.8 595.9 18.8M595.9 18.8Q597.0 16.9 596.9 16.4M596.9 16.4Q597.1 16.2 597.3 15.5M597.3 15.5Q597.1 16.0 596.5 16.0M566.1 14.2Q564.3 13.0 559.8 13.4M559.8 13.4Q557.7 13.4 555.9 12.1M559.3 5.0Q556.6 7.0 556.5 8.7M556.5 8.7Q556.8 10.3 555.9 12.1M543.5 13.8Q544.5 13.4 545.2 13.1M545.2 13.1Q546.3 14.3 548.3 14.5M553.7 12.2Q553.7 12.4 553.7 12.4M553.7 12.4Q554.8 12.3 555.4 12.5M571.3 -0.5Q571.0 -0.4 570.4 -0.3M570.4 -0.3Q571.3 -0.3 571.6 0.1M598.6 24.6Q598.0 24.8 597.2 24.8M597.2 24.8Q597.7 24.9 598.0 25.2M598.6 24.6Q597.4 24.5 596.9 23.3M596.9 23.3Q597.5 20.7 596.7 20.0M588.1 25.5Q588.6 24.4 588.5 24.1M588.5 24.1Q588.2 23.3 588.4 21.4M594.9 34.4Q595.7 35.1 595.8 35.4M595.8 35.4Q596.8 35.8 597.7 36.3M598.0 25.7Q597.7 26.4 597.6 28.9M597.6 28.9Q595.5 29.7 595.4 31.8M598.0 25.7Q600.7 29.9 600.9 30.8M600.9 30.8Q601.6 32.6 602.2 34.5M567.6 67.2Q568.5 66.8 568.6 65.7M568.6 65.7Q570.2 64.3 571.9 62.4M564.5 65.2Q567.1 63.7 567.4 62.3M567.4 62.3Q567.9 62.2 568.9 61.4M568.9 61.4Q569.8 61.5 570.4 62.0M570.4 62.0Q570.4 61.7 569.9 61.0M571.9 62.4Q571.8 61.9 571.4 61.8M571.4 61.8Q570.5 61.0 569.9 61.0M592.4 59.3Q593.5 58.4 593.3 57.0M593.3 57.0Q595.6 56.8 596.0 55.2M596.3 53.9Q595.5 53.9 595.4 54.6M595.4 54.6Q595.7 54.2 596.2 54.0M594.8 82.0Q594.5 81.5 593.3 81.3M593.3 81.3Q592.8 81.4 592.2 81.2M591.5 84.6Q593.1 86.2 593.2 87.1M593.2 87.1Q593.3 87.2 593.1 87.7M587.0 62.5Q587.0 63.6 586.2 63.8M586.2 63.8Q586.0 62.9 585.0 62.7M587.0 62.5Q589.4 64.6 589.4 66.1M589.4 66.1Q589.7 67.5 591.1 68.8M590.7 71.0Q588.4 70.0 586.3 69.8M586.3 69.8Q583.6 69.4 582.0 67.3M548.1 49.6Q547.9 49.5 547.2 48.9M547.2 48.9Q547.5 48.5 548.1 48.5M550.1 54.2Q549.9 54.6 550.0 54.9M550.0 54.9Q550.9 54.9 552.3 56.3M555.9 54.3Q555.9 54.7 555.9 55.1M555.9 55.1Q555.0 55.0 553.9 56.0M553.9 56.0Q553.8 56.2 553.7 56.2M553.7 56.2Q552.6 56.0 552.3 56.3M543.6 53.5Q545.9 51.9 546.6 51.7M546.6 51.7Q547.9 50.6 548.1 49.6M551.4 59.7Q551.6 58.6 551.7 57.8M551.7 57.8Q552.4 57.4 552.3 56.3M559.7 63.6Q559.4 61.8 560.0 61.1M560.0 61.1Q560.0 61.0 560.1 61.0M560.1 61.0Q557.0 58.4 556.4 58.4M556.4 58.4Q555.4 57.9 553.9 56.0M538.4 45.3Q539.0 45.9 539.3 47.4M539.3 47.4Q539.8 47.5 540.5 47.4M542.3 46.9Q542.4 44.4 541.8 42.6M541.8 42.6Q541.0 41.9 541.7 39.5M535.4 46.7Q535.5 46.1 535.9 45.9M535.9 45.9Q537.0 45.6 538.4 45.3M539.5 35.5Q539.8 34.2 539.0 33.4M539.0 33.4Q539.4 32.3 538.8 31.5M539.5 35.5Q539.8 36.0 539.9 36.3M539.9 36.3Q540.0 37.8 539.0 38.6M620.7 49.7Q620.1 48.6 620.2 47.6M620.2 47.6Q617.8 46.9 617.4 45.3M619.0 53.3Q618.4 54.1 618.3 54.2M618.3 54.2Q618.3 53.9 618.6 53.4M617.0 43.4Q616.5 43.6 616.2 43.4M616.2 43.4Q616.5 43.8 617.1 44.5M617.0 43.4Q619.7 43.0 620.7 44.3M620.7 44.3Q621.9 43.3 626.3 43.8M592.8 6.3Q593.9 6.0 594.1 4.3M594.1 4.3Q594.7 4.1 595.9 3.3M596.2 9.6Q597.4 10.0 600.4 11.0M600.4 11.0Q601.0 11.2 602.8 11.9M633.8 28.2Q633.9 27.1 634.1 26.7M634.1 26.7Q632.5 26.5 632.1 25.5M641.3 13.5Q644.0 13.7 644.9 15.0M644.9 15.0Q646.5 15.8 647.1 16.7M631.7 25.2Q631.5 25.9 630.7 26.2M630.7 26.2Q631.3 26.1 632.1 25.5M645.6 31.0Q644.8 29.5 643.4 28.9M643.4 28.9Q642.5 27.1 639.2 25.7M646.0 32.3Q645.9 31.7 645.9 31.1M645.9 31.1Q645.6 30.9 645.6 31.0M641.3 39.7Q640.4 39.2 640.0 38.4M640.0 38.4Q640.2 37.3 640.7 34.9M633.8 28.2Q633.9 29.5 632.8 30.0M632.8 30.0Q633.1 30.3 633.6 31.0M631.6 31.1Q632.0 31.3 633.0 31.4M633.0 31.4Q633.1 31.0 633.6 31.0M635.7 36.3Q635.2 36.0 634.1 35.2M634.1 35.2Q634.4 35.2 634.9 35.6M637.8 30.2Q636.8 31.1 636.5 31.6M636.5 31.6Q634.8 31.0 634.2 31.2M628.5 36.1Q628.8 36.0 629.2 36.0M629.2 36.0Q628.7 35.1 628.9 34.4M628.9 34.4Q628.1 34.1 627.8 34.3M627.8 34.3Q627.8 33.6 628.5 32.8M626.0 30.6Q625.9 31.2 626.1 31.4M626.1 31.4Q627.1 32.0 628.5 32.8M626.3 43.8Q625.4 43.1 625.8 40.9M625.8 40.9Q625.0 39.8 623.7 39.1M603.1 9.0Q603.0 8.2 602.3 7.6M602.3 7.6Q601.6 7.3 600.1 6.0M598.6 6.1Q598.6 6.0 598.4 5.9M598.4 5.9Q599.6 6.3 600.1 6.0M603.1 9.0Q604.8 7.2 605.9 6.8M605.9 6.8Q606.9 5.1 607.0 3.9M600.1 6.0Q601.8 4.2 601.9 3.7M601.9 3.7Q602.6 3.5 606.1 0.5M607.0 3.9Q606.9 3.5 607.1 3.2M607.1 3.2Q606.6 1.0 606.1 0.5M607.0 3.9Q609.0 4.4 609.5 5.5M609.5 5.5Q609.4 6.4 610.1 7.6M659.1 142.4Q657.8 143.0 657.4 143.6M657.4 143.6Q656.8 143.6 656.4 144.2M655.2 147.6Q654.5 146.8 655.1 145.4M655.1 145.4Q655.9 144.4 656.4 144.2M539.0 80.4Q539.8 80.5 540.1 81.1M540.1 81.1Q539.9 81.8 539.4 81.9M539.0 80.4Q538.5 79.9 537.0 80.4M537.0 80.4Q535.2 81.0 534.6 80.7M539.4 81.9Q538.3 82.1 537.4 83.3M537.4 83.3Q536.6 84.8 536.9 85.2M542.3 86.8Q540.1 85.9 539.8 84.6M539.8 84.6Q540.3 82.8 539.4 81.9M540.9 78.0Q539.9 78.3 539.5 79.3M539.5 79.3Q539.4 79.5 539.0 80.4M535.3 88.8Q535.1 88.0 534.5 87.4M534.5 87.4Q534.6 86.1 534.4 85.1M495.4 155.8Q495.9 155.0 496.4 154.7M496.4 154.7Q495.8 154.1 495.6 152.6M490.6 152.1Q492.3 150.7 493.2 151.0M493.2 151.0Q493.6 151.1 493.7 151.2M488.3 141.8Q490.8 140.5 492.6 141.1M492.6 141.1Q493.2 141.3 494.9 140.7M490.0 145.5Q491.3 145.8 491.8 146.1M491.8 146.1Q493.6 146.7 494.9 146.7M495.2 140.5Q495.0 140.7 494.8 140.7M494.8 140.7Q495.3 141.6 495.9 142.3M494.9 146.7Q494.9 145.9 494.8 144.1M494.8 144.1Q495.6 143.2 495.9 142.3M561.9 147.4Q561.4 148.1 561.8 149.1M561.8 149.1Q561.8 149.9 561.4 150.2M561.9 147.4Q563.4 147.7 567.2 149.2M567.2 149.2Q568.4 150.1 571.9 150.4M570.5 151.2Q570.8 150.8 571.6 150.5M571.6 150.5Q571.6 150.6 571.4 150.9M521.5 112.0Q522.9 113.6 523.8 114.2M523.8 114.2Q525.5 115.4 527.6 115.3M529.6 122.1Q529.4 122.5 529.1 122.6M529.1 122.6Q530.3 121.8 530.4 120.7M541.4 113.0Q540.5 113.8 537.2 113.7M537.2 113.7Q534.4 114.9 533.6 114.1M532.3 110.3Q532.6 110.2 533.3 109.6M533.3 109.6Q532.9 110.0 532.4 110.4M542.4 107.4Q543.4 109.4 543.0 110.6M543.0 110.6Q542.5 112.0 541.4 112.5M531.2 124.9Q535.1 122.6 536.0 123.2M536.0 123.2Q537.5 122.3 540.0 123.0M540.0 123.0Q540.2 123.5 540.0 124.4M540.0 124.4Q540.9 124.2 541.1 123.8M549.4 124.2Q548.5 122.1 548.1 120.4M548.1 120.4Q545.7 118.8 544.8 116.6M541.1 123.8Q542.8 121.7 542.9 120.4M542.9 120.4Q542.9 118.1 544.8 116.6M528.6 147.1Q527.5 148.1 524.4 148.4M524.4 148.4Q522.8 147.9 521.3 147.9M528.6 147.1Q528.5 147.6 529.3 149.1M529.3 149.1Q529.1 149.2 528.7 149.2M504.0 150.9Q501.8 151.8 500.6 152.0M500.6 152.0Q499.5 152.3 499.2 153.1M498.6 150.5Q498.4 150.8 497.8 151.1M497.8 151.1Q498.4 151.8 498.4 152.2M604.4 57.8Q603.9 57.4 603.4 57.1M603.4 57.1Q603.7 57.1 604.5 57.3M586.7 95.4Q588.2 94.2 591.9 95.2M591.9 95.2Q594.2 95.4 595.1 94.8M593.9 104.6Q594.2 103.9 595.3 103.7M595.3 103.7Q595.2 103.7 594.7 104.1M638.2 76.6Q638.2 76.7 638.5 76.7M638.5 76.7Q638.5 77.6 637.9 78.9M636.7 93.5Q637.2 92.0 639.6 91.4M639.6 91.4Q642.6 91.4 643.5 91.6M633.8 85.3Q636.9 84.9 638.7 85.2M638.7 85.2Q641.1 84.3 641.7 84.7M645.4 89.1Q644.7 89.5 644.2 90.0M644.2 90.0Q644.1 90.9 643.5 91.6M627.6 93.9Q627.9 95.6 629.9 97.1M629.9 97.1Q631.0 97.6 632.1 100.4M649.3 87.8Q650.2 89.8 650.0 90.5M650.0 90.5Q650.0 91.5 651.1 93.3M646.3 98.8Q646.9 97.6 647.8 96.9M647.8 96.9Q649.3 94.9 651.1 93.3M646.3 98.8Q644.8 96.6 644.8 94.3M644.8 94.3Q643.3 93.4 643.5 91.6M647.7 100.4Q649.0 98.6 650.0 96.4M650.0 96.4Q651.1 94.9 651.6 94.1M646.8 101.0Q646.7 100.2 647.2 99.0M647.2 99.0Q646.9 98.8 646.3 98.8M611.5 155.8Q611.5 155.8 611.5 155.8M611.5 155.8Q611.5 155.5 611.5 154.9M611.5 155.8Q612.6 156.3 614.0 156.6M614.0 156.6Q614.2 157.2 615.0 157.3M612.7 148.4Q611.5 148.6 611.2 148.3M611.2 148.3Q611.1 148.2 610.8 148.1M607.3 151.0Q607.0 150.5 606.5 150.5M606.5 150.5Q606.6 149.8 607.2 149.4M618.5 159.0Q618.4 159.0 618.0 158.6M618.0 158.6Q616.3 157.3 615.6 156.9M578.6 134.8Q578.6 133.9 577.5 132.9M577.5 132.9Q577.1 132.5 576.9 132.1M603.2 116.5Q601.0 118.0 600.6 118.1M600.6 118.1Q600.0 120.0 600.1 121.5M607.3 121.2Q604.8 120.9 604.2 117.9M604.2 117.9Q603.9 116.9 603.5 116.5M607.3 121.2Q608.1 121.8 608.4 122.2M608.4 122.2Q608.1 122.1 607.4 121.5M607.4 121.5Q605.4 121.0 604.4 121.9M604.4 121.9Q602.1 121.7 600.1 121.5M598.0 149.9Q598.0 149.1 598.6 148.5M598.6 148.5Q599.1 148.9 600.8 149.2M617.7 141.8Q617.4 141.9 616.6 141.5M616.6 141.5Q614.8 139.5 613.5 139.1M614.0 136.2Q615.1 136.1 615.5 136.7M615.5 136.7Q615.4 136.4 614.9 135.2M622.5 130.4Q622.5 130.5 622.4 130.8M622.4 130.8Q621.6 130.5 621.4 130.6M629.5 143.9Q631.5 141.7 632.5 141.3M632.5 141.3Q634.6 140.4 637.5 141.1M637.5 141.1Q638.4 139.6 638.1 139.2M638.1 139.2Q638.2 139.2 638.3 139.2M628.7 138.9Q629.7 137.7 630.0 137.2M630.0 137.2Q630.3 136.8 630.3 135.4M637.8 150.8Q637.1 150.6 636.6 150.6M636.6 150.6Q634.9 150.3 633.1 148.5M625.4 128.4Q626.4 128.1 627.1 128.8M627.1 128.8Q628.9 128.7 631.0 129.7M631.0 129.7Q631.4 131.0 630.5 132.5M630.5 132.5Q630.9 134.8 630.3 135.4M646.2 57.3Q647.8 57.6 648.4 57.3M648.4 57.3Q648.4 57.3 648.7 57.4M642.3 64.8Q642.3 63.5 643.0 62.8M643.0 62.8Q643.6 59.8 645.5 59.1M520.8 -2.6Q519.4 -0.1 517.2 2.8M517.2 2.8Q514.9 8.8 515.6 10.5M500.7 1.2Q503.9 1.9 505.3 4.1M505.3 4.1Q507.2 5.3 508.9 6.0M526.4 6.3Q523.4 6.9 522.7 8.7M522.7 8.7Q521.6 11.3 517.4 12.5M516.2 11.6Q515.7 11.7 515.4 11.2M515.4 11.2Q515.9 11.5 516.3 11.8M523.4 27.2Q524.5 27.1 525.6 26.8M525.6 26.8Q526.1 27.1 527.3 27.2M530.5 29.7Q529.8 28.9 529.2 27.9M529.2 27.9Q528.6 27.3 527.3 27.2M527.3 27.2Q528.0 27.1 528.7 26.8M528.7 26.8Q529.2 26.6 530.0 25.6M530.0 25.6Q529.8 25.8 529.6 26.5M529.6 26.5Q530.2 27.3 531.4 27.5M536.6 26.7Q536.1 26.8 535.5 27.3M535.5 27.3Q535.9 27.0 535.9 26.4M535.9 26.4Q535.6 26.8 534.2 27.7M534.2 27.7Q532.4 27.9 531.4 27.5M527.4 7.1Q526.4 8.2 527.2 10.3M527.2 10.3Q527.6 12.2 526.8 13.0M523.1 26.5Q520.2 27.3 519.0 26.9M519.0 26.9Q517.8 26.5 516.3 25.5M513.4 23.2Q513.7 23.3 514.1 23.7M514.1 23.7Q515.1 23.4 515.8 23.9M517.2 39.7Q516.6 40.2 515.8 40.5M515.8 40.5Q515.7 42.4 514.9 43.0M522.8 43.6Q522.2 45.2 521.8 46.7M521.8 46.7Q520.4 48.0 519.2 48.2M518.0 36.2Q517.5 36.9 518.5 39.0M518.5 39.0Q518.0 38.9 517.2 39.7M559.4 113.2Q558.0 112.2 553.4 114.9M553.4 114.9Q551.5 114.1 549.6 115.3M559.5 113.0Q559.3 113.2 558.9 113.5M558.9 113.5Q559.1 113.3 559.4 113.2M551.0 123.5Q552.6 122.7 552.7 121.4M552.7 121.4Q553.3 121.0 553.9 121.2M544.8 116.6Q544.5 116.9 544.1 116.9M544.1 116.9Q544.6 116.4 544.8 116.4M565.9 128.3Q565.3 128.4 565.0 128.3M565.0 128.3Q565.6 127.7 566.0 127.2M576.6 93.7Q576.5 93.3 576.1 93.2M576.1 93.2Q576.4 93.5 576.4 93.7M568.8 86.4Q569.0 86.3 569.4 86.2M569.4 86.2Q569.6 86.8 569.2 87.4M573.4 88.5Q572.7 88.8 571.0 88.4M571.0 88.4Q570.4 87.7 569.2 87.4M558.2 90.8Q558.6 91.2 560.2 91.7M560.2 91.7Q561.9 92.3 562.6 93.3M569.2 87.4Q568.4 88.1 567.1 88.5M567.1 88.5Q566.7 90.1 566.7 91.0M566.7 91.0Q565.8 91.3 565.6 91.9M565.6 91.9Q564.8 92.7 563.4 93.4M562.6 93.3Q562.7 94.0 563.0 94.5M563.0 94.5Q563.0 94.1 563.4 93.4M564.2 100.1Q564.6 98.8 565.3 97.6M565.3 97.6Q565.5 96.5 564.9 96.0M498.8 43.9Q498.9 44.4 499.2 45.2M499.2 45.2Q499.9 45.8 500.9 46.0M624.6 29.3Q624.0 31.5 623.5 32.8M623.5 32.8Q623.3 35.6 621.6 38.6M625.0 24.3Q624.6 25.4 625.1 25.7M625.1 25.7Q624.7 27.4 624.3 28.8M553.0 23.0Q552.8 22.5 553.2 21.8M553.2 21.8Q554.5 21.6 555.7 22.5M557.0 21.4Q557.9 20.9 558.0 20.7M558.0 20.7Q557.6 20.6 556.8 20.5M542.4 21.7Q543.5 21.8 545.1 20.9M545.1 20.9Q546.2 20.1 549.6 20.4M566.8 14.9Q568.4 14.7 568.9 14.4M568.9 14.4Q570.4 13.9 571.9 14.8M571.9 54.2Q572.2 54.2 573.6 53.3M573.6 53.3Q573.9 53.7 574.5 53.9M571.5 57.0Q572.5 57.9 573.1 58.2M573.1 58.2Q574.4 57.5 576.2 57.5M574.5 53.9Q574.2 54.3 574.4 55.0M574.4 55.0Q575.2 55.7 576.2 57.5M569.9 61.0Q570.1 61.0 570.1 61.0M570.1 61.0Q569.9 60.5 569.8 60.2M577.0 58.4Q576.9 57.8 577.3 56.9M577.3 56.9Q576.8 56.9 576.2 57.5M591.0 34.7Q591.4 36.6 590.8 38.0M590.8 38.0Q591.2 40.3 589.8 43.4M590.6 44.1Q590.5 44.3 590.4 44.7M590.4 44.7Q590.2 44.1 589.8 43.4M595.8 65.0Q596.3 66.6 598.3 66.7M598.3 66.7Q599.2 69.2 599.3 70.0M591.1 68.8Q592.1 68.5 592.9 67.7M592.9 67.7Q594.4 67.0 595.8 65.0M598.7 75.2Q598.1 75.6 597.5 75.8M597.5 75.8Q597.1 74.9 597.4 74.2M568.4 29.5Q568.5 29.5 568.6 29.4M568.6 29.4Q567.9 29.0 566.6 27.2M566.8 14.9Q567.6 17.4 566.7 19.2M566.7 19.2Q566.8 20.0 568.6 22.8M562.0 29.0Q562.3 29.1 563.3 29.3M563.3 29.3Q562.9 28.7 562.5 28.7M581.2 25.2Q581.5 26.6 582.2 27.4M582.2 27.4Q582.4 30.7 581.0 31.7M592.8 6.3Q592.2 4.8 592.3 3.9M592.3 3.9Q591.4 3.2 591.2 2.4M587.8 4.0Q587.7 4.1 587.7 4.2M587.7 4.2Q587.2 4.0 587.0 3.8M589.1 10.6Q588.6 9.6 589.0 8.3M589.0 8.3Q588.7 6.2 587.8 4.0M624.3 28.8Q621.7 29.1 621.2 31.7M621.2 31.7Q618.7 31.5 616.0 32.3M606.9 38.7Q606.9 36.3 608.4 35.7M608.4 35.7Q608.3 34.2 607.6 33.8M605.9 32.0Q605.9 31.9 606.1 31.8M606.1 31.8Q606.0 31.5 606.3 31.1M618.0 16.2Q618.0 16.1 618.4 15.6M618.4 15.6Q618.9 14.9 619.6 14.7M629.9 3.9Q628.7 5.9 628.8 6.5M628.8 6.5Q627.0 6.7 626.6 7.8M657.2 120.4Q656.5 120.6 654.2 119.1M654.2 119.1Q652.6 118.3 651.3 117.7M537.7 121.0Q540.0 119.3 540.0 117.4M540.0 117.4Q542.0 116.3 542.2 114.0M582.4 115.2Q583.0 113.3 585.6 112.3M585.6 112.3Q587.7 111.3 588.6 109.2M602.2 109.6Q602.6 111.7 602.0 112.9M602.0 112.9Q601.4 113.6 601.1 114.7M602.2 109.6Q599.2 111.7 597.6 111.9M597.6 111.9Q595.8 111.7 592.5 112.1M601.1 114.7Q598.4 115.4 597.3 114.2M597.3 114.2Q594.6 115.2 593.1 114.6M594.7 104.1Q596.3 104.2 597.0 104.2M597.0 104.2Q597.6 104.3 598.2 104.1M602.2 109.6Q602.4 109.4 602.4 109.1M602.4 109.1Q602.6 108.6 603.1 108.3M603.1 108.3Q601.2 107.9 600.1 106.3M600.1 106.3Q599.1 105.1 598.2 104.1M569.9 125.9Q571.1 126.1 571.7 126.4M571.7 126.4Q573.3 125.1 575.0 125.3M576.5 119.8Q576.4 121.0 575.0 122.3M575.0 122.3Q574.8 124.1 575.0 125.3M623.2 79.0Q622.3 79.8 621.7 82.7M621.7 82.7Q621.8 85.7 619.6 86.4M619.6 86.4Q619.3 87.1 618.8 87.4M618.8 87.4Q619.4 86.9 619.5 86.4M619.6 86.4Q621.3 87.9 622.6 87.5M622.6 87.5Q623.4 87.5 624.6 87.5M592.1 89.1Q593.0 89.6 593.9 90.2M593.9 90.2Q593.7 92.2 594.9 92.9M618.5 114.6Q615.4 115.7 614.2 116.0M614.2 116.0Q613.4 115.2 612.1 115.4M612.1 115.4Q612.5 117.7 613.9 119.2M613.9 119.2Q614.2 121.7 613.9 123.6M621.2 120.5Q618.6 121.8 617.1 122.5M617.1 122.5Q615.0 123.3 613.9 123.6M633.4 84.6Q634.3 85.4 634.4 85.6M634.4 85.6Q634.2 85.0 633.4 84.6M627.6 93.9Q627.0 94.3 626.6 94.6M626.6 94.6Q626.9 94.0 627.5 93.9M633.8 85.3Q633.5 85.4 633.0 85.4M633.0 85.4Q633.3 84.9 633.4 84.6M608.1 161.7Q606.5 159.4 605.8 158.7M605.8 158.7Q605.6 156.9 603.8 155.6M612.9 139.3Q613.5 139.4 613.6 140.1M613.6 140.1Q613.1 139.6 612.4 139.2M614.0 136.2Q614.1 134.7 613.5 134.2M613.5 134.2Q611.5 133.2 611.0 132.6M607.8 132.5Q608.1 132.6 609.1 132.6M609.1 132.6Q609.8 132.7 611.0 132.6M611.0 132.6Q611.4 130.7 613.1 129.0M613.1 129.0Q612.9 128.6 613.2 127.5M599.4 138.5Q599.1 138.2 598.2 138.0M598.2 138.0Q598.4 138.1 598.8 138.6M600.8 149.2Q600.5 148.4 601.0 146.7M601.0 146.7Q601.2 145.4 600.5 145.0M598.8 143.3Q599.4 143.4 599.7 143.3M599.7 143.3Q600.5 144.4 600.5 145.0M603.2 143.5Q603.2 143.3 603.0 142.8M603.0 142.8Q603.4 143.6 604.3 144.5M599.4 138.5Q599.1 138.3 599.0 138.1M599.0 138.1Q599.6 138.4 600.4 138.3M600.4 138.3Q600.8 138.5 601.8 139.6M601.8 139.6Q602.4 140.0 604.2 141.4M600.4 138.3Q601.2 138.2 602.0 137.3M602.0 137.3Q602.8 137.5 603.0 137.1M606.3 137.9Q605.5 138.8 605.9 140.6M605.9 140.6Q605.8 140.7 606.0 141.1M648.5 149.4Q649.7 149.2 650.2 150.1M650.2 150.1Q650.2 149.8 650.2 149.6M637.5 156.6Q636.5 156.1 635.5 155.7M635.5 155.7Q633.0 154.4 631.8 155.2M631.8 155.2Q630.6 156.0 630.0 157.8M630.0 157.8Q627.9 158.6 627.2 158.6M639.2 156.8Q639.0 157.1 638.0 156.8M638.0 156.8Q637.8 156.7 637.5 156.6M629.8 153.4Q630.9 154.1 631.6 154.2M631.6 154.2Q631.7 154.9 631.8 155.2M508.2 18.8Q508.2 19.1 508.3 19.4M508.3 19.4Q508.9 20.0 509.4 20.3M512.5 17.0Q512.5 16.9 512.5 16.8M512.5 16.8Q512.3 16.3 512.5 15.3M505.8 13.6Q506.4 13.7 507.1 14.0M507.1 14.0Q507.4 14.4 508.5 14.9M535.2 19.5Q535.4 19.3 536.0 19.3M536.0 19.3Q535.6 17.9 535.8 16.7M528.8 13.4Q529.4 13.9 529.2 15.3M529.2 15.3Q529.9 16.0 531.9 16.3M523.1 26.5Q522.9 24.8 523.3 23.8M523.3 23.8Q523.8 23.1 525.0 22.1M516.2 22.3Q516.2 21.6 517.7 20.3M517.7 20.3Q518.0 20.1 518.1 20.2M517.4 12.5Q518.0 12.9 518.7 12.5M518.7 12.5Q519.0 14.0 519.8 14.5M525.0 15.1Q524.2 13.9 522.0 14.3M522.0 14.3Q520.4 14.8 519.8 14.5M519.8 14.5Q519.2 15.6 518.8 17.5M518.8 17.5Q518.8 18.6 518.1 20.2M573.9 95.1Q572.2 96.2 571.5 96.1M571.5 96.1Q571.3 95.5 571.0 94.9M575.4 100.9Q574.7 100.4 574.5 99.4M574.5 99.4Q573.6 98.8 572.2 98.5M576.4 93.7Q575.1 95.0 574.5 95.2M574.5 95.2Q574.3 95.3 573.9 95.1M572.9 7.9Q573.1 6.7 575.1 6.0M575.1 6.0Q575.3 6.4 575.8 6.3M573.1 2.8Q573.3 2.5 574.7 0.7M574.7 0.7Q575.7 -0.2 576.2 -0.5M587.3 10.6Q584.4 11.1 583.6 12.3M583.6 12.3Q581.1 14.0 579.5 14.4M588.4 10.8Q588.0 11.1 587.6 11.3M587.6 11.3Q587.4 10.7 587.3 10.6M587.0 3.8Q585.0 4.8 584.5 5.1M584.5 5.1Q582.5 5.0 581.8 6.4M576.1 51.8Q575.8 51.3 576.2 50.4M576.2 50.4Q574.9 49.1 574.3 48.8M573.7 48.0Q573.0 47.9 572.1 47.6M572.1 47.6Q571.1 46.8 570.2 46.9M587.0 62.5Q587.0 62.1 586.6 61.9M586.6 61.9Q586.9 61.8 587.4 61.8M592.4 59.3Q592.5 59.5 592.3 60.1M592.3 60.1Q591.9 59.0 590.4 59.0M542.1 26.4Q543.2 26.5 544.2 26.8M544.2 26.8Q544.3 27.6 544.7 27.9M610.1 28.9Q611.1 28.6 612.0 27.6M612.0 27.6Q612.2 27.9 613.1 28.3M610.1 28.9Q609.1 28.9 608.1 28.1M608.1 28.1Q607.6 26.6 607.1 25.1M616.7 22.7Q615.6 21.4 613.7 21.5M613.7 21.5Q613.2 20.5 612.6 19.6M620.0 9.9Q620.4 9.8 620.6 9.2M620.6 9.2Q620.1 8.3 619.7 7.9M619.7 7.9Q619.1 7.7 618.5 7.5M618.5 7.5Q618.8 6.9 618.5 6.2M614.2 6.1Q613.6 7.5 613.5 8.1M613.5 8.1Q612.5 7.5 611.0 8.0M607.7 14.9Q608.3 14.9 609.2 14.9M609.2 14.9Q609.5 14.6 609.5 14.3M612.4 17.9Q612.6 17.4 612.9 16.8M612.9 16.8Q612.6 15.9 611.5 16.0M611.5 16.0Q612.1 14.9 613.6 14.4M613.6 14.4Q613.6 14.1 614.1 13.6M648.7 120.1Q649.1 120.1 649.4 119.6M649.4 119.6Q649.7 119.2 651.3 117.7M653.0 110.8Q651.8 110.0 651.2 109.3M651.2 109.3Q651.0 109.1 651.0 109.0M651.0 109.0Q651.1 109.1 651.3 108.9M651.3 108.9Q650.6 107.9 650.0 106.6M645.0 102.8Q645.5 102.2 645.6 102.1M645.6 102.1Q645.9 102.2 646.1 102.8M648.4 119.9Q646.6 120.6 645.4 119.7M645.4 119.7Q644.3 120.0 640.6 118.8M634.9 108.4Q634.9 110.0 636.4 111.5M636.4 111.5Q636.7 111.4 637.8 112.4M640.5 113.2Q640.2 114.0 640.1 114.2M640.1 114.2Q640.5 113.7 641.0 113.6M624.5 118.8Q624.8 117.3 626.6 117.2M626.6 117.2Q627.2 114.4 628.2 113.3M618.5 114.6Q619.0 114.3 618.9 113.3M618.9 113.3Q619.2 112.8 619.1 112.2M627.3 111.1Q625.3 112.8 622.4 112.2M622.4 112.2Q621.4 113.0 619.1 112.2M629.6 103.5Q629.3 102.9 628.6 102.7M628.6 102.7Q627.1 102.5 626.3 100.6M629.7 103.9Q629.3 105.8 629.8 106.4M629.8 106.4Q629.5 106.9 628.8 107.8M626.3 100.6Q625.2 101.3 625.3 102.7M625.3 102.7Q623.8 103.0 622.6 103.3M622.6 103.3Q622.0 103.5 621.3 104.2M621.3 104.2Q621.7 104.4 621.9 105.3M619.8 99.1Q620.3 100.4 621.2 101.1M621.2 101.1Q621.2 102.1 622.6 103.3M581.7 134.2Q581.2 132.2 581.5 131.3M581.5 131.3Q582.0 130.1 581.2 127.9M581.2 127.9Q582.3 125.3 584.6 125.1M584.6 125.1Q585.8 124.3 587.5 124.8M587.1 136.5Q588.7 136.6 589.7 136.3M589.7 136.3Q590.2 136.5 590.7 136.2M613.6 123.9Q612.1 123.8 611.7 122.7M611.7 122.7Q609.7 122.5 608.3 123.1M597.8 123.5Q597.9 124.3 598.2 124.6M598.2 124.6Q599.2 125.6 600.5 126.8M598.7 131.3Q599.5 131.5 600.0 131.9M600.0 131.9Q599.6 131.3 599.0 131.0M590.7 136.2Q591.0 134.2 591.8 133.2M591.8 133.2Q591.7 132.0 592.0 129.3M607.4 121.5Q607.6 121.4 607.6 121.4M607.6 121.4Q607.4 122.4 608.3 123.1M601.1 114.7Q601.2 114.6 601.5 114.5M601.5 114.5Q602.5 116.1 603.2 116.5M593.1 114.6Q591.9 116.0 591.8 117.3M591.8 117.3Q590.5 120.4 591.3 121.4M620.3 93.7Q620.0 93.5 619.9 93.3M619.9 93.3Q618.7 92.0 618.9 90.6M598.2 104.1Q598.8 103.0 600.0 103.1M600.0 103.1Q602.0 102.2 602.3 100.4M602.8 95.7Q602.9 97.0 602.2 97.7M602.2 97.7Q602.0 99.2 602.3 100.4M596.3 89.5Q596.6 89.2 596.8 88.5M596.8 88.5Q598.7 89.5 599.4 89.7M597.6 81.5Q597.5 81.7 597.0 81.7M597.0 81.7Q595.7 82.5 594.8 82.0M595.2 86.9Q595.1 87.8 594.9 88.2M594.9 88.2Q595.2 87.9 595.7 87.1M602.8 95.7Q602.7 95.4 602.8 95.2M602.8 95.2Q603.6 94.7 604.3 94.4M604.3 94.4Q604.2 92.8 603.5 92.2M603.5 92.2Q602.3 90.8 601.1 88.6M603.5 116.5Q604.5 116.7 605.8 116.5M605.8 116.5Q606.0 115.8 606.4 114.5M606.4 114.5Q605.9 113.6 604.9 111.2M604.9 111.2Q603.6 110.3 603.6 108.3M607.6 106.1Q608.2 106.0 608.6 106.0M608.6 106.0Q607.5 104.2 607.7 103.7M607.6 106.1Q607.4 105.9 606.9 105.3M606.9 105.3Q607.1 105.8 607.2 106.7M602.3 100.4Q602.8 100.7 603.9 101.1M603.9 101.1Q605.5 102.1 607.7 103.7M603.6 108.3Q604.7 107.7 606.2 107.3M606.2 107.3Q606.8 106.9 607.2 106.7M610.5 113.9Q610.1 113.9 610.0 114.2M610.0 114.2Q610.0 113.9 610.1 113.8M610.5 113.9Q611.0 114.7 611.2 115.1M611.2 115.1Q611.3 115.1 611.6 115.1M607.3 121.1Q606.9 119.6 608.0 116.5M608.0 116.5Q608.4 115.0 608.5 114.2M608.5 114.2Q609.0 114.4 609.7 114.7M609.7 114.7Q610.2 114.2 610.1 113.8M613.9 109.4Q613.6 110.2 613.3 111.7M613.3 111.7Q612.6 112.4 610.5 113.9M613.9 109.4Q613.3 107.4 612.5 106.8M612.5 106.8Q610.9 106.7 608.9 106.4M608.9 106.4Q608.8 106.8 608.7 107.0M608.7 107.0Q608.1 106.6 607.6 106.1M607.2 106.7Q606.7 108.6 608.0 110.1M608.0 110.1Q608.6 111.1 610.1 113.8M612.1 115.4Q611.7 115.0 611.0 114.1M611.0 114.1Q611.2 114.6 611.6 115.1M613.9 109.4Q614.4 109.2 615.3 108.2M615.3 108.2Q616.8 107.7 617.4 108.2M619.1 112.2Q618.1 110.9 618.0 110.2M618.0 110.2Q617.9 109.0 617.4 108.2M607.3 121.2Q607.4 121.0 607.6 121.0M607.6 121.0Q607.4 121.0 607.3 121.1M606.4 114.5Q606.4 114.3 606.6 114.2M606.6 114.2Q607.4 114.4 608.5 114.2M604.4 144.8Q604.3 144.9 604.0 145.0M604.0 145.0Q604.6 144.9 605.5 145.6M650.2 149.6Q649.7 147.5 651.7 145.7M651.7 145.7Q650.1 144.0 651.1 140.9M526.0 18.6Q527.0 18.4 529.4 18.7M529.4 18.7Q530.1 17.9 531.7 17.8M529.9 22.5Q531.2 23.0 532.4 22.7M532.4 22.7Q532.5 22.3 532.9 21.9M532.9 21.9Q533.6 22.3 534.0 22.1M534.0 22.1Q533.6 20.8 534.0 20.2M530.0 25.6Q530.7 24.7 530.8 24.1M530.8 24.1Q530.9 23.8 529.9 22.5M535.2 19.5Q534.8 19.7 533.7 19.0M533.7 19.0Q533.8 19.4 534.0 20.2M567.5 37.9Q567.0 38.6 565.9 39.5M565.9 39.5Q564.4 40.9 563.8 41.5M564.6 44.2Q565.3 44.0 565.2 43.0M565.2 43.0Q565.1 41.9 563.8 41.5M570.4 42.9Q570.5 43.8 569.7 44.2M569.7 44.2Q570.3 44.9 570.2 46.9M560.5 54.7Q560.6 55.3 560.2 56.5M560.2 56.5Q559.7 58.7 560.6 60.4M562.8 59.5Q562.7 59.6 562.4 59.6M562.4 59.6Q561.4 59.9 560.6 60.4M568.9 61.4Q568.2 60.4 565.4 61.4M565.4 61.4Q563.5 60.1 562.8 59.5M560.1 61.0Q560.3 60.9 560.4 60.7M560.4 60.7Q560.4 60.5 560.6 60.4M589.0 51.0Q590.0 51.0 590.3 51.9M590.3 51.9Q590.2 51.8 589.6 52.0M554.7 35.1Q554.2 33.7 554.0 33.1M554.0 33.1Q553.8 32.7 553.7 32.3M549.4 32.5Q550.3 32.3 552.3 32.5M552.3 32.5Q552.7 32.3 553.7 32.3M561.0 30.8Q563.5 31.0 563.9 32.9M563.9 32.9Q564.8 33.5 567.4 36.5M554.7 35.1Q556.3 35.7 556.7 35.0M556.7 35.0Q558.6 34.2 559.2 33.1M556.1 28.7Q558.0 30.2 558.6 30.6M558.6 30.6Q560.5 31.3 561.0 30.8M553.8 31.6Q554.3 31.8 554.4 31.9M554.4 31.9Q553.9 32.3 553.7 32.3M576.9 46.0Q576.8 45.4 578.1 43.8M578.1 43.8Q577.9 42.2 577.1 41.3M608.7 18.1Q608.8 18.5 609.4 18.7M609.4 18.7Q609.5 19.4 609.9 19.5M599.9 24.3Q601.1 23.4 602.4 22.8M602.4 22.8Q602.9 22.4 603.2 21.8M628.9 13.6Q627.7 15.0 628.0 16.1M628.0 16.1Q628.3 16.4 629.0 16.6M627.6 19.5Q626.7 16.6 624.1 14.5M624.1 14.5Q623.1 13.2 622.6 11.5M634.6 11.4Q633.4 12.2 630.8 12.0M630.8 12.0Q630.2 12.4 628.9 13.6M627.4 20.7Q627.4 20.9 627.8 21.1M627.8 21.1Q627.5 20.2 627.6 19.5M635.4 114.0Q636.0 115.2 636.0 117.0M636.0 117.0Q636.0 118.5 636.0 119.3M636.0 119.3Q635.8 119.3 635.7 119.6M635.7 119.6Q634.4 119.3 633.4 119.4M631.1 122.4Q632.4 121.9 632.8 121.5M632.8 121.5Q633.0 120.3 633.4 119.4M638.7 123.6Q638.5 122.9 636.5 120.3M636.5 120.3Q636.1 119.7 636.0 119.3M638.7 123.6Q639.1 122.8 639.0 122.1M639.0 122.1Q639.7 120.9 640.6 118.8M617.4 108.2Q617.4 108.8 617.4 109.0M617.4 109.0Q617.4 108.4 617.6 107.7M621.9 105.3Q620.1 105.1 619.4 105.1M619.4 105.1Q619.3 105.4 618.3 106.6M617.6 107.7Q617.7 108.1 617.8 108.2M617.8 108.2Q618.2 107.8 618.3 106.6M608.9 106.4Q610.3 106.0 611.1 105.9M611.1 105.9Q612.8 106.0 613.3 105.3M618.3 99.8Q617.2 100.8 617.0 101.2M617.0 101.2Q617.4 102.4 617.6 104.8M618.3 106.6Q618.1 106.4 617.8 105.9M617.8 105.9Q617.8 105.2 617.6 104.8M601.9 86.0Q601.9 85.4 602.8 83.4M602.8 83.4Q604.6 83.8 605.9 82.3M607.3 86.1Q607.2 86.0 607.0 86.2M607.0 86.2Q606.4 86.3 605.3 87.1M611.1 81.2Q610.4 81.9 609.9 82.5M609.9 82.5Q607.8 82.4 607.1 82.8M612.0 86.8Q611.8 86.2 611.6 85.4M611.6 85.4Q612.1 85.9 612.7 85.7M614.7 85.9Q614.1 86.5 613.8 87.0M613.8 87.0Q613.2 86.1 612.7 85.7M618.9 90.6Q618.1 90.6 616.5 90.5M616.5 90.5Q615.4 90.5 614.9 90.9M611.1 81.2Q611.0 83.5 611.6 84.1M611.6 84.1Q612.1 84.8 612.7 85.7M612.0 90.4Q611.5 90.5 610.6 90.4M610.6 90.4Q609.0 90.1 608.2 90.2M612.0 90.4Q611.9 92.3 609.7 93.1M609.7 93.1Q609.6 94.3 609.6 95.2M612.7 89.9Q612.6 89.8 612.4 89.6M612.4 89.6Q612.2 89.9 612.0 90.4M657.6 139.4Q656.8 138.6 656.2 138.7M656.2 138.7Q655.2 138.1 654.1 138.1M664.0 131.2Q662.4 132.4 659.8 131.7M659.8 131.7Q657.0 132.2 654.0 130.5M653.2 140.0Q653.7 139.1 654.1 138.4M654.1 138.4Q654.2 138.2 654.1 138.1M653.1 130.1Q652.9 129.7 652.6 129.4M652.6 129.4Q653.3 129.7 654.0 130.5M638.7 123.6Q638.0 124.7 638.0 125.2M638.0 125.2Q638.5 124.8 638.7 124.6M653.1 130.1Q653.1 129.8 653.1 129.3M653.1 129.3Q652.7 129.8 652.3 129.9M645.0 142.1Q644.8 140.5 642.8 139.4M642.8 139.4Q641.8 138.4 640.9 136.7M561.0 44.1Q560.6 44.5 560.4 44.7M560.4 44.7Q561.0 44.7 561.5 44.5M561.5 44.5Q561.4 47.4 562.9 48.4M562.9 48.4Q563.0 50.0 563.1 50.5M564.2 45.5Q562.8 45.1 561.8 46.1M561.8 46.1Q561.2 44.8 561.5 44.5M560.9 43.9Q561.2 43.9 561.8 44.3M561.8 44.3Q561.3 44.1 561.0 44.1M582.7 56.6Q583.3 56.1 583.8 55.1M583.8 55.1Q583.6 54.7 582.6 54.8M588.4 60.7Q587.6 59.9 586.9 58.0M586.9 58.0Q586.2 57.3 586.1 56.6M583.3 51.0Q583.6 51.0 583.8 51.3M583.8 51.3Q583.2 51.2 582.8 51.2M580.9 60.4Q582.1 59.5 582.1 58.2M582.1 58.2Q582.2 57.6 582.7 56.6M551.5 24.4Q551.6 26.2 551.5 27.8M551.5 27.8Q551.6 28.7 552.6 30.4M552.6 30.4Q550.9 30.4 549.0 29.6M549.0 29.6Q547.9 28.7 546.4 27.5M553.0 23.0Q552.2 23.8 551.8 24.0M551.8 24.0Q551.5 24.3 551.5 24.4M545.0 27.9Q545.2 27.9 545.4 27.9M545.4 27.9Q545.6 27.4 546.4 27.5M575.0 30.4Q576.0 31.7 576.3 32.4M576.3 32.4Q576.3 32.6 576.4 32.7M573.9 37.1Q574.4 36.8 574.7 36.9M574.7 36.9Q575.0 36.6 575.9 36.7M576.4 32.7Q576.0 34.1 576.4 35.8M576.4 35.8Q575.8 36.2 575.9 36.7M613.9 92.6Q615.1 93.0 615.9 93.6M615.9 93.6Q616.2 94.1 617.3 95.0M613.9 92.6Q613.9 92.7 613.5 93.2M613.5 93.2Q613.6 92.9 613.8 92.7M620.3 93.7Q618.6 93.5 617.7 93.9M617.7 93.9Q617.6 94.2 617.3 95.0M614.4 91.1Q614.5 91.2 614.5 91.3M614.5 91.3Q613.8 92.1 613.9 92.6M610.3 100.4Q610.3 100.2 610.2 100.1M610.2 100.1Q610.8 99.3 610.6 98.3M610.3 100.4Q610.5 100.5 611.2 100.8M611.2 100.8Q611.9 101.5 612.8 102.3M610.6 98.3Q611.4 98.6 612.2 99.0M612.2 99.0Q612.9 98.1 614.2 97.8M615.2 102.7Q614.2 102.6 613.3 103.1M613.3 103.1Q613.1 102.5 612.8 102.3M607.7 103.7Q608.5 103.1 608.7 101.4M608.7 101.4Q609.6 100.7 610.3 100.4M613.3 105.3Q612.6 104.8 612.1 102.8M612.1 102.8Q612.4 102.8 612.8 102.3M615.1 96.6Q613.9 96.8 613.5 96.0M613.5 96.0Q613.9 96.6 614.2 97.8M617.6 104.8Q617.0 103.3 615.7 102.7M615.7 102.7Q615.3 102.8 615.2 102.7M590.9 34.5Q589.7 34.6 587.7 36.8M587.7 36.8Q586.5 37.4 585.2 37.7M583.3 51.0Q584.1 48.4 583.0 46.6M583.0 46.6Q583.6 45.8 583.4 43.4M577.1 41.3Q577.2 41.5 577.8 41.9M577.8 41.9Q578.0 41.1 579.1 40.4M579.1 40.4Q578.7 40.1 578.5 39.9M578.5 39.9Q578.8 39.9 579.2 39.4M582.7 43.3Q582.4 43.1 582.2 42.8M582.2 42.8Q582.7 43.0 583.4 43.4M583.6 36.2Q583.7 35.6 583.6 34.5M583.6 34.5Q583.7 34.4 583.9 34.3M581.7 32.6Q581.9 33.8 582.8 34.0M582.8 34.0Q583.2 34.3 583.9 34.3" stroke="#eeeeee" stroke-width="0.85" fill="none" opacity="0.9"/>
<path d="M605.3 107.6Q604.4 104.9 602.6 104.2M633.8 9.4Q632.2 9.2 631.5 9.3M587.2 66.7Q587.6 69.4 589.1 70.2M569.6 60.1Q571.3 59.0 572.2 58.6M501.1 74.3Q498.3 72.3 497.4 72.4M589.8 95.1Q588.9 96.2 587.5 96.6M545.4 131.9Q547.2 132.4 548.6 132.0M586.6 101.7Q585.7 103.0 584.0 105.0M570.3 23.0Q572.2 23.7 573.6 25.8M552.2 76.5Q553.7 75.6 554.1 74.8M520.9 66.1Q519.8 67.0 520.2 69.3M579.5 27.9Q581.3 28.2 582.5 30.6M594.9 29.3Q594.5 27.8 595.0 24.5M563.6 145.4Q564.7 145.4 566.0 146.3M495.1 126.5Q496.7 127.4 497.3 127.3M539.2 149.5Q541.2 150.1 541.9 150.5M556.9 100.6Q560.3 101.5 561.0 102.8M509.8 116.4Q511.5 114.7 511.9 112.6M521.2 7.7Q521.4 6.0 521.0 5.5M566.7 120.3Q565.2 120.8 563.6 124.1M538.2 118.3Q538.6 120.2 537.4 122.3M521.7 22.2Q523.8 19.2 525.1 19.0M603.2 20.3Q603.8 18.9 603.1 17.2M615.6 70.2Q615.2 67.2 616.8 65.7M633.5 83.0Q634.3 83.7 634.7 85.7M589.4 69.5Q589.7 68.1 591.9 66.9M606.5 10.0Q606.9 12.7 607.9 14.1M506.0 145.5Q504.6 144.9 504.9 142.3M530.7 137.8Q530.0 136.3 528.6 134.1M533.1 57.3Q534.6 57.0 536.2 57.7M637.7 47.6Q639.2 48.6 641.0 48.5M544.7 99.5Q544.9 97.4 543.6 96.3M498.5 133.9Q499.9 132.1 501.4 132.1M562.2 114.4Q559.9 114.6 558.3 115.9M604.3 17.7Q605.4 18.2 607.2 17.1M604.2 50.2Q604.1 52.6 602.9 54.9M603.9 93.4Q601.8 92.9 600.7 91.7M513.5 84.5Q514.3 83.2 514.5 81.5M595.4 149.7Q596.2 151.9 598.1 152.2M601.6 24.3Q600.0 25.1 599.0 25.0M620.2 113.3Q621.3 112.8 621.6 111.0M587.1 80.2Q584.3 80.4 583.5 81.5M580.5 24.1Q580.8 22.8 581.0 21.5M549.5 60.7Q547.7 61.0 546.3 59.3M532.0 91.7Q531.3 88.7 530.8 88.0M597.3 47.4Q596.3 47.5 595.4 48.4M546.9 14.4Q543.9 13.9 542.8 14.6M525.4 99.8Q526.2 101.4 528.2 102.1M614.2 111.2Q615.7 110.4 616.6 110.5M509.8 30.0Q509.1 32.7 509.0 33.7M523.0 138.2Q523.1 136.6 523.7 135.6M552.9 86.2Q552.3 88.1 552.1 88.8M585.0 38.5Q587.0 40.1 588.0 41.3M590.2 116.9Q592.9 117.5 593.4 119.1M502.1 129.4Q502.5 127.5 503.2 127.0M633.2 71.0Q632.1 72.0 632.7 74.3M596.5 72.4Q598.3 72.3 600.6 72.5M592.6 37.7Q593.9 38.1 594.6 39.2M512.3 149.9Q513.7 150.4 515.9 151.8M633.2 148.7Q634.2 146.1 633.5 144.8M628.4 80.0Q627.2 80.5 625.7 83.7M606.1 78.7Q608.3 79.3 609.5 78.9M518.8 44.6Q518.3 45.5 516.5 46.0M573.7 47.9Q572.2 46.8 571.2 44.9M517.7 123.7Q518.4 125.9 518.3 127.6M627.3 53.7Q629.8 54.1 630.5 55.7M497.1 104.2Q497.8 104.8 499.1 106.0M619.2 85.7Q618.1 86.8 615.6 87.0M584.5 32.3Q585.1 32.8 587.2 32.3M503.3 65.7Q504.2 64.8 505.1 64.2M607.6 43.8Q606.3 44.8 604.3 46.1M518.4 143.0Q519.1 143.9 520.0 144.3M506.6 41.4Q505.2 40.7 502.8 39.6M538.4 95.3Q540.5 96.2 541.9 95.3M593.0 106.3Q591.3 105.3 592.0 102.1M502.1 47.3Q500.9 46.2 498.7 46.0M583.8 97.6Q584.5 97.4 586.3 97.6M576.2 53.0Q573.9 53.0 572.9 52.9M580.5 147.3Q580.0 148.5 577.5 150.9M639.7 14.5Q636.9 13.6 636.4 11.8M569.4 48.8Q567.9 48.3 566.2 49.2M599.4 72.5Q596.5 72.7 595.8 72.9M572.4 49.0Q573.0 47.5 573.8 46.4M541.0 131.6Q542.6 131.4 544.5 129.7M608.2 80.8Q608.4 82.4 609.2 83.3M521.6 36.4Q522.5 35.5 525.3 36.2M525.0 125.9Q525.2 123.2 524.0 121.4M500.3 114.3Q498.5 114.6 497.8 114.2M509.0 134.6Q511.7 137.4 512.0 137.8M542.8 34.4Q545.6 33.5 547.5 34.4M571.9 65.6Q571.4 65.1 569.8 63.9M591.4 140.1Q593.4 142.1 594.8 142.5M594.2 138.1Q593.3 140.1 591.6 141.4M630.2 59.4Q629.0 58.7 628.2 58.9M623.8 149.8Q625.1 150.3 625.6 151.0M503.9 83.2Q503.2 82.1 500.9 80.3M514.3 100.4Q515.1 103.1 513.8 104.3M569.1 21.3Q570.2 20.2 571.1 19.2M589.0 113.3Q590.2 113.8 590.7 115.4M577.4 146.3Q577.0 145.7 575.6 144.7M630.7 131.0Q632.1 131.4 634.0 131.1M545.1 47.8Q545.3 49.3 542.9 51.8M599.0 55.4Q596.8 56.4 596.4 57.7M540.9 113.4Q541.6 111.1 541.8 108.5M607.2 42.6Q609.3 41.8 609.3 39.8M613.0 70.9Q611.5 71.2 609.1 72.4M543.2 118.2Q544.6 119.1 546.9 118.1M554.4 7.9Q553.1 8.4 551.0 9.6M509.3 53.8Q510.7 53.7 512.9 51.1M550.6 8.9Q550.9 9.8 551.0 11.1M622.5 59.4Q621.8 60.4 618.6 62.4M494.3 61.4Q493.8 61.0 493.1 59.7M554.9 116.0Q553.6 114.0 552.5 113.6M574.3 45.1Q574.1 43.7 574.8 41.8M548.7 45.1Q548.3 43.4 549.1 42.9M555.9 47.8Q555.6 46.9 554.3 45.1M571.4 59.1Q574.1 59.0 574.7 57.8M569.7 85.1Q567.8 82.4 567.3 81.4M613.9 146.5Q610.7 147.1 609.1 145.5M636.1 66.2Q634.6 66.8 631.3 65.7M618.2 128.1Q618.2 127.6 618.8 125.6M630.4 23.5Q631.7 20.9 632.2 19.3M617.1 129.2Q615.9 128.0 615.7 127.7M624.5 59.5Q625.0 60.7 624.7 63.3M569.1 117.5Q570.1 116.9 573.5 117.5M593.5 103.1Q594.1 104.5 595.7 104.4M564.1 142.8Q565.5 141.2 566.8 139.7M530.5 111.9Q529.5 112.2 528.5 112.5M623.6 112.5Q623.7 113.0 625.0 114.4M503.5 144.1Q501.9 144.5 500.7 144.7M574.3 28.5Q571.9 29.3 571.3 29.3M599.7 149.4Q600.5 148.5 603.3 148.6M644.9 108.2Q645.6 106.5 646.2 105.1M645.5 52.2Q645.8 51.0 645.4 49.5M642.7 109.3Q641.9 107.7 643.7 105.1M626.9 139.7Q627.4 138.9 628.3 138.3M542.9 140.4Q543.1 138.5 544.4 136.2M537.9 126.7Q539.9 125.2 540.4 124.4M549.4 8.6Q548.8 10.0 547.9 11.5M585.4 54.9Q584.3 56.8 584.5 57.7M543.6 70.0Q545.7 71.4 548.5 70.5M563.2 12.7Q563.0 14.8 561.4 15.5M596.1 98.4Q594.1 97.4 592.9 96.6M542.4 35.5Q545.0 35.0 546.9 36.7M495.7 131.7Q496.0 130.0 496.4 129.4M550.0 38.1Q551.4 36.8 552.6 35.6M642.6 11.9Q643.2 11.3 643.3 8.9M619.0 122.8Q620.5 120.5 621.1 119.3M530.2 51.1Q531.5 49.9 532.1 49.0M519.8 48.2Q520.6 50.3 522.0 51.5M565.9 145.0Q564.3 146.6 563.4 147.2M579.3 67.2Q580.0 68.5 582.3 70.1M515.1 16.7Q516.5 15.8 516.8 13.7M563.0 15.3Q562.0 13.4 561.5 13.1M517.3 96.4Q517.9 97.0 519.4 99.4M577.0 17.5Q575.9 19.0 575.4 21.4M551.4 105.1Q549.3 104.5 548.8 102.5M616.9 68.0Q617.0 68.7 618.8 71.8M620.0 16.9Q621.0 19.1 621.1 20.4M587.9 133.2Q588.6 132.2 588.9 131.3M577.2 86.9Q576.3 86.1 573.9 86.2M495.7 90.2Q494.7 89.4 492.3 89.0M650.7 48.3Q649.7 51.0 648.1 51.7M539.1 88.4Q539.0 85.3 539.0 83.6M581.8 21.8Q582.8 22.5 583.8 22.8M590.1 130.3Q587.2 129.2 587.1 126.9M509.1 28.9Q510.8 27.5 511.3 26.9M561.8 81.6Q563.1 83.4 562.8 84.3M515.4 74.1Q515.4 74.7 514.4 76.5M596.1 77.7Q594.7 76.2 593.1 76.2M496.8 125.2Q496.2 124.6 496.7 123.0M583.2 32.5Q582.6 31.0 580.8 30.8M562.0 41.8Q560.4 41.6 559.6 39.7M509.0 132.7Q509.2 133.8 508.9 135.7M571.9 84.6Q573.3 85.6 573.5 86.6M598.4 18.2Q598.1 19.5 596.1 19.7M600.3 89.9Q600.3 92.1 602.0 93.1M605.0 102.3Q605.9 101.8 607.0 99.9M508.7 21.4Q509.5 18.7 510.9 17.5M544.2 140.3Q545.2 141.1 545.7 141.6M498.9 56.2Q497.3 53.3 497.6 52.3M621.3 107.4Q620.5 109.2 620.4 110.0M579.3 34.6Q578.0 35.4 577.4 36.5M597.8 110.8Q599.4 111.6 599.1 114.7M552.2 137.7Q549.8 137.0 549.4 134.8M545.0 23.9Q548.1 24.6 549.5 22.7M605.2 102.7Q606.5 104.5 607.0 105.1M590.6 67.9Q591.9 68.3 592.7 70.6M641.2 25.4Q641.9 27.6 642.8 29.9M614.2 139.3Q613.3 141.1 614.8 143.9M528.8 39.2Q528.5 39.7 527.6 40.9M641.6 99.7Q640.3 101.9 638.8 103.8M531.6 9.7Q531.4 8.3 530.2 6.5M589.7 79.9Q591.2 82.5 592.4 83.7M599.1 77.9Q599.4 78.4 601.0 80.2M517.9 136.4Q515.7 135.8 513.3 136.3M580.3 81.6Q582.0 81.9 584.0 80.2M602.3 57.0Q603.0 56.1 605.9 55.6M623.4 138.3Q624.7 139.3 626.8 138.6M603.4 39.7Q606.0 40.1 607.8 38.0" stroke="#bbbbbb" stroke-width="0.5" fill="none" opacity="0.7"/>
</g>
<rect x="333.1" y="142.3" width="33.8" height="3.1" fill="#fff"/>
<text x="337.7" y="136.6" font-size="10.3" fill="#fff" font-weight="bold">3 μm</text>
<rect x="499.2" y="143" width="34.6" height="3" fill="#fff"/>
<text x="502.3" y="138" font-size="10.3" fill="#fff" font-weight="bold">1 μm</text>
<text transform="translate(5.00,9.60)" font-size="13.5" fill="#000" text-anchor="start" font-weight="bold"  stroke="#000" stroke-width="0.22">a</text>
<text transform="translate(305.60,9.60)" font-size="13.5" fill="#000" text-anchor="start" font-weight="bold"  stroke="#000" stroke-width="0.22">b</text>
<text transform="translate(0.00,179.40)" font-size="13.5" fill="#000" text-anchor="start" font-weight="bold"  stroke="#000" stroke-width="0.22">c</text>
<text transform="translate(206.00,179.20)" font-size="13.5" fill="#000" text-anchor="start" font-weight="bold"  stroke="#000" stroke-width="0.22">d</text>
<text transform="translate(420.50,179.20)" font-size="13.5" fill="#000" text-anchor="start" font-weight="bold"  stroke="#000" stroke-width="0.22">e</text>
<text transform="translate(1.00,361.20)" font-size="13.5" fill="#000" text-anchor="start" font-weight="bold"  stroke="#000" stroke-width="0.22">f</text>
<rect x="57.80" y="277.30" width="16.40" height="44.20" fill="#3a7cb6" stroke="#2b2b2b" stroke-width="0.6" />
<text transform="translate(66.00,275.10)" font-size="7.5" fill="#000" text-anchor="middle" font-weight="bold"  stroke="#000" stroke-width="0.22">21.5</text>
<rect x="112.30" y="281.82" width="16.40" height="39.68" fill="#ec6148" stroke="#2b2b2b" stroke-width="0.6" />
<text transform="translate(120.50,279.62)" font-size="7.5" fill="#000" text-anchor="middle" font-weight="bold"  stroke="#000" stroke-width="0.22">19.3</text>
<rect x="166.80" y="201.22" width="16.40" height="120.28" fill="#c9314a" stroke="#2b2b2b" stroke-width="0.6" />
<text transform="translate(175.00,199.02)" font-size="7.5" fill="#000" text-anchor="middle" font-weight="bold"  stroke="#000" stroke-width="0.22">58.5</text>
<rect x="38.5" y="177.5" width="164.0" height="144.0" fill="none" stroke="#2a2a2a" stroke-width="1"/>
<line x1="36.10" y1="321.50" x2="38.50" y2="321.50" stroke="#2a2a2a" stroke-width="0.8" />
<text transform="translate(34.20,324.10)" font-size="7.3" fill="#000" text-anchor="end" font-weight="bold"  stroke="#000" stroke-width="0.22">0</text>
<line x1="36.90" y1="300.94" x2="38.50" y2="300.94" stroke="#2a2a2a" stroke-width="0.8" />
<line x1="36.10" y1="280.38" x2="38.50" y2="280.38" stroke="#2a2a2a" stroke-width="0.8" />
<text transform="translate(34.20,282.98)" font-size="7.3" fill="#000" text-anchor="end" font-weight="bold"  stroke="#000" stroke-width="0.22">20</text>
<line x1="36.90" y1="259.82" x2="38.50" y2="259.82" stroke="#2a2a2a" stroke-width="0.8" />
<line x1="36.10" y1="239.26" x2="38.50" y2="239.26" stroke="#2a2a2a" stroke-width="0.8" />
<text transform="translate(34.20,241.86)" font-size="7.3" fill="#000" text-anchor="end" font-weight="bold"  stroke="#000" stroke-width="0.22">40</text>
<line x1="36.90" y1="218.70" x2="38.50" y2="218.70" stroke="#2a2a2a" stroke-width="0.8" />
<line x1="36.10" y1="198.14" x2="38.50" y2="198.14" stroke="#2a2a2a" stroke-width="0.8" />
<text transform="translate(34.20,200.74)" font-size="7.3" fill="#000" text-anchor="end" font-weight="bold"  stroke="#000" stroke-width="0.22">60</text>
<line x1="36.90" y1="177.58" x2="38.50" y2="177.58" stroke="#2a2a2a" stroke-width="0.8" />
<line x1="66.00" y1="321.50" x2="66.00" y2="323.90" stroke="#2a2a2a" stroke-width="0.8" />
<line x1="120.50" y1="321.50" x2="120.50" y2="323.90" stroke="#2a2a2a" stroke-width="0.8" />
<line x1="175.00" y1="321.50" x2="175.00" y2="323.90" stroke="#2a2a2a" stroke-width="0.8" />
<line x1="38.50" y1="321.50" x2="38.50" y2="323.10" stroke="#2a2a2a" stroke-width="0.8" />
<line x1="93.25" y1="321.50" x2="93.25" y2="323.10" stroke="#2a2a2a" stroke-width="0.8" />
<line x1="147.75" y1="321.50" x2="147.75" y2="323.10" stroke="#2a2a2a" stroke-width="0.8" />
<text transform="translate(58.20,342.20) rotate(-13.3)" font-size="8.45" fill="#000" text-anchor="middle" font-weight="bold"  stroke="#000" stroke-width="0.22">Ni/CeZrO<tspan baseline-shift="-2.29" font-size="6.2">x</tspan></text>
<text transform="translate(113.10,340.00) rotate(-13.3)" font-size="8.45" fill="#000" text-anchor="middle" font-weight="bold"  stroke="#000" stroke-width="0.22">CeZrO<tspan baseline-shift="-2.29" font-size="6.2">x</tspan>/Ni</text>
<text transform="translate(167.40,340.00) rotate(-13.3)" font-size="8.45" fill="#000" text-anchor="middle" font-weight="bold"  stroke="#000" stroke-width="0.22">CeZrO<tspan baseline-shift="-2.29" font-size="6.2">x</tspan>/Ni/Ni-foam</text>
<text transform="translate(19.00,249.90) rotate(-90)" font-size="9.1" fill="#000" text-anchor="middle" font-weight="bold"  stroke="#000" stroke-width="0.22">Ni metal surface area (m<tspan baseline-shift="-2.33" font-size="6.3">Ni</tspan><tspan baseline-shift="3.47" font-size="6.3">2</tspan>/g<tspan baseline-shift="-2.07" font-size="5.6">active phase</tspan>)</text>
<rect x="265.30" y="190.16" width="16.40" height="131.34" fill="#3a7cb6" stroke="#2b2b2b" stroke-width="0.6" />
<text transform="translate(273.50,187.76)" font-size="7.5" fill="#000" text-anchor="middle" font-weight="bold"  stroke="#000" stroke-width="0.22">-0.22</text>
<rect x="319.30" y="214.04" width="16.40" height="107.46" fill="#ec6148" stroke="#2b2b2b" stroke-width="0.6" />
<text transform="translate(327.50,211.64)" font-size="7.5" fill="#000" text-anchor="middle" font-weight="bold"  stroke="#000" stroke-width="0.22">-0.18</text>
<rect x="373.40" y="285.68" width="16.40" height="35.82" fill="#c9314a" stroke="#2b2b2b" stroke-width="0.6" />
<text transform="translate(381.60,283.28)" font-size="7.5" fill="#000" text-anchor="middle" font-weight="bold"  stroke="#000" stroke-width="0.22">-0.06</text>
<rect x="246.5" y="177.5" width="163.0" height="144.0" fill="none" stroke="#2a2a2a" stroke-width="1"/>
<line x1="244.10" y1="321.50" x2="246.50" y2="321.50" stroke="#2a2a2a" stroke-width="0.8" />
<text transform="translate(242.50,324.10)" font-size="7.3" fill="#000" text-anchor="end" font-weight="bold"  stroke="#000" stroke-width="0.22">0.00</text>
<line x1="244.90" y1="309.56" x2="246.50" y2="309.56" stroke="#2a2a2a" stroke-width="0.8" />
<line x1="244.10" y1="297.62" x2="246.50" y2="297.62" stroke="#2a2a2a" stroke-width="0.8" />
<text transform="translate(242.50,300.22)" font-size="7.3" fill="#000" text-anchor="end" font-weight="bold"  stroke="#000" stroke-width="0.22">-0.04</text>
<line x1="244.90" y1="285.68" x2="246.50" y2="285.68" stroke="#2a2a2a" stroke-width="0.8" />
<line x1="244.10" y1="273.74" x2="246.50" y2="273.74" stroke="#2a2a2a" stroke-width="0.8" />
<text transform="translate(242.50,276.34)" font-size="7.3" fill="#000" text-anchor="end" font-weight="bold"  stroke="#000" stroke-width="0.22">-0.08</text>
<line x1="244.90" y1="261.80" x2="246.50" y2="261.80" stroke="#2a2a2a" stroke-width="0.8" />
<line x1="244.10" y1="249.86" x2="246.50" y2="249.86" stroke="#2a2a2a" stroke-width="0.8" />
<text transform="translate(242.50,252.46)" font-size="7.3" fill="#000" text-anchor="end" font-weight="bold"  stroke="#000" stroke-width="0.22">-0.12</text>
<line x1="244.90" y1="237.92" x2="246.50" y2="237.92" stroke="#2a2a2a" stroke-width="0.8" />
<line x1="244.10" y1="225.98" x2="246.50" y2="225.98" stroke="#2a2a2a" stroke-width="0.8" />
<text transform="translate(242.50,228.58)" font-size="7.3" fill="#000" text-anchor="end" font-weight="bold"  stroke="#000" stroke-width="0.22">-0.16</text>
<line x1="244.90" y1="214.04" x2="246.50" y2="214.04" stroke="#2a2a2a" stroke-width="0.8" />
<line x1="244.10" y1="202.10" x2="246.50" y2="202.10" stroke="#2a2a2a" stroke-width="0.8" />
<text transform="translate(242.50,204.70)" font-size="7.3" fill="#000" text-anchor="end" font-weight="bold"  stroke="#000" stroke-width="0.22">-0.20</text>
<line x1="244.90" y1="190.16" x2="246.50" y2="190.16" stroke="#2a2a2a" stroke-width="0.8" />
<line x1="244.10" y1="178.22" x2="246.50" y2="178.22" stroke="#2a2a2a" stroke-width="0.8" />
<text transform="translate(242.50,180.82)" font-size="7.3" fill="#000" text-anchor="end" font-weight="bold"  stroke="#000" stroke-width="0.22">-0.24</text>
<line x1="273.50" y1="321.50" x2="273.50" y2="323.90" stroke="#2a2a2a" stroke-width="0.8" />
<line x1="327.50" y1="321.50" x2="327.50" y2="323.90" stroke="#2a2a2a" stroke-width="0.8" />
<line x1="381.60" y1="321.50" x2="381.60" y2="323.90" stroke="#2a2a2a" stroke-width="0.8" />
<line x1="246.50" y1="321.50" x2="246.50" y2="323.10" stroke="#2a2a2a" stroke-width="0.8" />
<line x1="300.50" y1="321.50" x2="300.50" y2="323.10" stroke="#2a2a2a" stroke-width="0.8" />
<line x1="354.60" y1="321.50" x2="354.60" y2="323.10" stroke="#2a2a2a" stroke-width="0.8" />
<text transform="translate(269.20,342.20) rotate(-13.3)" font-size="8.45" fill="#000" text-anchor="middle" font-weight="bold"  stroke="#000" stroke-width="0.22">Ni/CeZrO<tspan baseline-shift="-2.29" font-size="6.2">x</tspan></text>
<text transform="translate(323.60,340.00) rotate(-13.3)" font-size="8.45" fill="#000" text-anchor="middle" font-weight="bold"  stroke="#000" stroke-width="0.22">CeZrO<tspan baseline-shift="-2.29" font-size="6.2">x</tspan>/Ni</text>
<text transform="translate(377.90,340.00) rotate(-13.3)" font-size="8.45" fill="#000" text-anchor="middle" font-weight="bold"  stroke="#000" stroke-width="0.22">CeZrO<tspan baseline-shift="-2.29" font-size="6.2">x</tspan>/Ni/Ni-foam</text>
<text transform="translate(218.30,250.40) rotate(-90)" font-size="9.2" fill="#000" text-anchor="middle" font-weight="bold"  stroke="#000" stroke-width="0.22">H<tspan baseline-shift="-2.33" font-size="6.3">2</tspan>O reaction order</text>
<line x1="447.50" y1="178.00" x2="651.10" y2="178.00" stroke="#9c9c9c" stroke-width="1.3" />
<line x1="650.50" y1="178.00" x2="650.50" y2="322.50" stroke="#9c9c9c" stroke-width="1.3" />
<line x1="447.50" y1="178.50" x2="447.50" y2="322.50" stroke="#2a2a2a" stroke-width="1" />
<line x1="447.00" y1="322.50" x2="651.00" y2="322.50" stroke="#2a2a2a" stroke-width="1" />
<line x1="445.90" y1="322.54" x2="447.50" y2="322.54" stroke="#2a2a2a" stroke-width="0.8" />
<line x1="445.10" y1="310.50" x2="447.50" y2="310.50" stroke="#2a2a2a" stroke-width="0.8" />
<text transform="translate(443.30,313.10)" font-size="7.4" fill="#000" text-anchor="end" font-weight="bold"  stroke="#000" stroke-width="0.22">0.0</text>
<line x1="445.90" y1="298.46" x2="447.50" y2="298.46" stroke="#2a2a2a" stroke-width="0.8" />
<line x1="445.10" y1="286.42" x2="447.50" y2="286.42" stroke="#2a2a2a" stroke-width="0.8" />
<text transform="translate(443.30,289.02)" font-size="7.4" fill="#000" text-anchor="end" font-weight="bold"  stroke="#000" stroke-width="0.22">0.2</text>
<line x1="445.90" y1="274.38" x2="447.50" y2="274.38" stroke="#2a2a2a" stroke-width="0.8" />
<line x1="445.10" y1="262.34" x2="447.50" y2="262.34" stroke="#2a2a2a" stroke-width="0.8" />
<text transform="translate(443.30,264.94)" font-size="7.4" fill="#000" text-anchor="end" font-weight="bold"  stroke="#000" stroke-width="0.22">0.4</text>
<line x1="445.90" y1="250.30" x2="447.50" y2="250.30" stroke="#2a2a2a" stroke-width="0.8" />
<line x1="445.10" y1="238.26" x2="447.50" y2="238.26" stroke="#2a2a2a" stroke-width="0.8" />
<text transform="translate(443.30,240.86)" font-size="7.4" fill="#000" text-anchor="end" font-weight="bold"  stroke="#000" stroke-width="0.22">0.6</text>
<line x1="445.90" y1="226.22" x2="447.50" y2="226.22" stroke="#2a2a2a" stroke-width="0.8" />
<line x1="445.10" y1="214.18" x2="447.50" y2="214.18" stroke="#2a2a2a" stroke-width="0.8" />
<text transform="translate(443.30,216.78)" font-size="7.4" fill="#000" text-anchor="end" font-weight="bold"  stroke="#000" stroke-width="0.22">0.8</text>
<line x1="445.90" y1="202.14" x2="447.50" y2="202.14" stroke="#2a2a2a" stroke-width="0.8" />
<line x1="445.10" y1="190.10" x2="447.50" y2="190.10" stroke="#2a2a2a" stroke-width="0.8" />
<text transform="translate(443.30,192.70)" font-size="7.4" fill="#000" text-anchor="end" font-weight="bold"  stroke="#000" stroke-width="0.22">1.0</text>
<line x1="445.90" y1="178.06" x2="447.50" y2="178.06" stroke="#2a2a2a" stroke-width="0.8" />
<line x1="481.60" y1="322.50" x2="481.60" y2="324.90" stroke="#2a2a2a" stroke-width="0.8" />
<line x1="548.60" y1="322.50" x2="548.60" y2="324.90" stroke="#2a2a2a" stroke-width="0.8" />
<line x1="616.30" y1="322.50" x2="616.30" y2="324.90" stroke="#2a2a2a" stroke-width="0.8" />
<line x1="447.80" y1="322.50" x2="447.80" y2="324.10" stroke="#2a2a2a" stroke-width="0.8" />
<line x1="464.50" y1="322.50" x2="464.50" y2="324.10" stroke="#2a2a2a" stroke-width="0.8" />
<line x1="498.60" y1="322.50" x2="498.60" y2="324.10" stroke="#2a2a2a" stroke-width="0.8" />
<line x1="515.00" y1="322.50" x2="515.00" y2="324.10" stroke="#2a2a2a" stroke-width="0.8" />
<line x1="531.80" y1="322.50" x2="531.80" y2="324.10" stroke="#2a2a2a" stroke-width="0.8" />
<line x1="565.50" y1="322.50" x2="565.50" y2="324.10" stroke="#2a2a2a" stroke-width="0.8" />
<line x1="582.50" y1="322.50" x2="582.50" y2="324.10" stroke="#2a2a2a" stroke-width="0.8" />
<line x1="599.20" y1="322.50" x2="599.20" y2="324.10" stroke="#2a2a2a" stroke-width="0.8" />
<line x1="633.30" y1="322.50" x2="633.30" y2="324.10" stroke="#2a2a2a" stroke-width="0.8" />
<line x1="507.60" y1="179.00" x2="507.60" y2="325.50" stroke="#6a6a6a" stroke-width="0.8" stroke-dasharray="1,1.9"/>
<line x1="582.80" y1="179.00" x2="582.80" y2="325.50" stroke="#6a6a6a" stroke-width="0.8" stroke-dasharray="1,1.9"/>
<circle cx="481.4" cy="202.1" r="3.3" fill="#e24b5e"/>
<text transform="translate(481.40,195.54) scale(0.97,1)" font-size="8.6" fill="#e24b5e" text-anchor="middle" font-weight="normal" stroke="#e24b5e" stroke-width="0.25">0.90</text>
<circle cx="548.5" cy="240.7" r="3.3" fill="#e24b5e"/>
<text transform="translate(548.50,234.07) scale(0.97,1)" font-size="8.6" fill="#e24b5e" text-anchor="middle" font-weight="normal" stroke="#e24b5e" stroke-width="0.25">0.58</text>
<circle cx="615.9" cy="243.1" r="3.3" fill="#e24b5e"/>
<text transform="translate(615.90,236.48) scale(0.97,1)" font-size="8.6" fill="#e24b5e" text-anchor="middle" font-weight="normal" stroke="#e24b5e" stroke-width="0.25">0.56</text>
<path d="M478.0,301.0 L485.2,301.0 L481.6,295.0Z" fill="#3b3895"/>
<text transform="translate(481.60,310.66) scale(0.97,1)" font-size="8.6" fill="#3b3895" text-anchor="middle" font-weight="bold"  stroke="#3b3895" stroke-width="0.22">0.10</text>
<path d="M544.8,264.8 L552.0,264.8 L548.4,258.8Z" fill="#3b3895"/>
<text transform="translate(548.40,274.54) scale(0.97,1)" font-size="8.6" fill="#3b3895" text-anchor="middle" font-weight="bold"  stroke="#3b3895" stroke-width="0.22">0.40</text>
<path d="M612.3,257.6 L619.5,257.6 L615.9,251.6Z" fill="#3b3895"/>
<text transform="translate(615.90,267.32) scale(0.97,1)" font-size="8.6" fill="#3b3895" text-anchor="middle" font-weight="bold"  stroke="#3b3895" stroke-width="0.22">0.46</text>
<circle cx="516.6" cy="169.4" r="3.3" fill="#e24b5e"/>
<text transform="translate(530.20,173.00)" font-size="8.4" fill="#000" text-anchor="start" font-weight="bold"  stroke="#000" stroke-width="0.22">H<tspan baseline-shift="-2.15" font-size="5.8">2</tspan></text>
<path d="M551.6,171.6 L558.8,171.6 L555.2,165.6Z" fill="#3b3895"/>
<text transform="translate(569.00,173.00)" font-size="8.4" fill="#000" text-anchor="start" font-weight="bold"  stroke="#000" stroke-width="0.22">CO<tspan baseline-shift="-2.15" font-size="5.8">2</tspan></text>
<text transform="translate(424.00,249.70) rotate(-90)" font-size="9.9" fill="#000" text-anchor="middle" font-weight="bold"  stroke="#000" stroke-width="0.22">Reaction order</text>
<text transform="translate(472.60,342.40) rotate(-9)" font-size="8.5" fill="#000" text-anchor="middle" font-weight="bold"  stroke="#000" stroke-width="0.22">Ni/CeZrO<tspan baseline-shift="-2.22" font-size="6">x</tspan></text>
<text transform="translate(539.70,341.50) rotate(-9.5)" font-size="8.5" fill="#000" text-anchor="middle" font-weight="bold"  stroke="#000" stroke-width="0.22">CeZrO<tspan baseline-shift="-2.22" font-size="6">x</tspan>/Ni</text>
<text transform="translate(624.20,338.20) rotate(-9.8)" font-size="8.5" fill="#000" text-anchor="middle" font-weight="bold"  stroke="#000" stroke-width="0.22">CeZrO<tspan baseline-shift="-2.22" font-size="6">x</tspan>/Ni/Ni-foam</text>
<path d="M495.8,202.7 L521.4,219.9 L524.3,216.6 L531.6,229.8 L517,226.5 L518.8,223.2 L495.4,203.5 Z" fill="#f0222e"/>
<path d="M499.9,292.7 L519.2,272.8 L516.9,268.5 L530.6,265.6 L525.7,279 L522.8,276 L500.6,293.3 Z" fill="#5a82c2"/>
<rect x="56.60" y="490.62" width="17.20" height="43.08" fill="#e64d5f" stroke="#1e1e1e" stroke-width="0.75" />
<rect x="76.90" y="515.69" width="17.20" height="18.01" fill="#4474b6" stroke="#2e2e2e" stroke-width="0.65" />
<rect x="209.30" y="516.18" width="17.20" height="17.52" fill="#e64d5f" stroke="#1e1e1e" stroke-width="0.75" />
<rect x="229.60" y="516.19" width="17.20" height="17.51" fill="#4474b6" stroke="#2e2e2e" stroke-width="0.65" />
<rect x="285.65" y="457.59" width="17.20" height="76.11" fill="#e64d5f" stroke="#1e1e1e" stroke-width="0.75" />
<rect x="305.95" y="458.37" width="17.20" height="75.33" fill="#4474b6" stroke="#2e2e2e" stroke-width="0.65" />
<rect x="362.00" y="443.38" width="17.20" height="90.32" fill="#e64d5f" stroke="#1e1e1e" stroke-width="0.75" />
<rect x="382.30" y="444.26" width="17.20" height="89.44" fill="#4474b6" stroke="#2e2e2e" stroke-width="0.65" />
<rect x="438.35" y="421.55" width="17.20" height="112.15" fill="#e64d5f" stroke="#1e1e1e" stroke-width="0.75" />
<rect x="458.65" y="422.69" width="17.20" height="111.01" fill="#4474b6" stroke="#2e2e2e" stroke-width="0.65" />
<rect x="514.70" y="410.06" width="17.20" height="123.64" fill="#e64d5f" stroke="#1e1e1e" stroke-width="0.75" />
<rect x="535.00" y="415.55" width="17.20" height="118.15" fill="#4474b6" stroke="#2e2e2e" stroke-width="0.65" />
<rect x="591.05" y="392.83" width="17.20" height="140.87" fill="#e64d5f" stroke="#1e1e1e" stroke-width="0.75" />
<rect x="611.35" y="390.64" width="17.20" height="143.06" fill="#4474b6" stroke="#2e2e2e" stroke-width="0.65" />
<line x1="38.45" y1="394.50" x2="648.00" y2="394.50" stroke="#767676" stroke-width="1.1" stroke-dasharray="3.2,1.5"/>
<line x1="81.20" y1="390.25" x2="145.55" y2="391.85" stroke="#57b0a8" stroke-width="1.1" />
<line x1="157.55" y1="391.84" x2="221.90" y2="390.06" stroke="#57b0a8" stroke-width="1.1" />
<line x1="233.90" y1="389.90" x2="298.25" y2="389.90" stroke="#57b0a8" stroke-width="1.1" />
<line x1="310.25" y1="389.90" x2="374.60" y2="389.90" stroke="#57b0a8" stroke-width="1.1" />
<line x1="386.60" y1="389.90" x2="450.95" y2="389.90" stroke="#57b0a8" stroke-width="1.1" />
<line x1="462.95" y1="389.90" x2="527.30" y2="389.90" stroke="#57b0a8" stroke-width="1.1" />
<line x1="539.30" y1="389.90" x2="603.65" y2="389.90" stroke="#57b0a8" stroke-width="1.1" />
<circle cx="75.2" cy="390.1" r="4.3" fill="#57b0a8"/>
<circle cx="151.6" cy="392.0" r="4.3" fill="#57b0a8"/>
<circle cx="227.9" cy="389.9" r="4.3" fill="#57b0a8"/>
<circle cx="304.2" cy="389.9" r="4.3" fill="#57b0a8"/>
<circle cx="380.6" cy="389.9" r="4.3" fill="#57b0a8"/>
<circle cx="456.9" cy="389.9" r="4.3" fill="#57b0a8"/>
<circle cx="533.3" cy="389.9" r="4.3" fill="#57b0a8"/>
<circle cx="609.6" cy="389.9" r="4.3" fill="#57b0a8"/>
<line x1="36.75" y1="368.50" x2="648.70" y2="368.50" stroke="#111" stroke-width="1.4" />
<line x1="36.75" y1="533.70" x2="648.70" y2="533.70" stroke="#111" stroke-width="1.5" />
<line x1="37.45" y1="368.50" x2="37.45" y2="533.70" stroke="#e0495c" stroke-width="1.4" />
<line x1="648.00" y1="368.50" x2="648.00" y2="533.70" stroke="#4a78b8" stroke-width="1.5" />
<line x1="35.05" y1="533.70" x2="37.45" y2="533.70" stroke="#e0495c" stroke-width="0.9" />
<text transform="translate(34.15,536.90) scale(0.92,1)" font-size="8.8" fill="#e0495c" text-anchor="end" font-weight="bold"  stroke="#e0495c" stroke-width="0.22">0</text>
<line x1="35.85" y1="519.34" x2="37.45" y2="519.34" stroke="#e0495c" stroke-width="0.9" />
<line x1="35.05" y1="504.98" x2="37.45" y2="504.98" stroke="#e0495c" stroke-width="0.9" />
<text transform="translate(34.15,508.18) scale(0.92,1)" font-size="8.8" fill="#e0495c" text-anchor="end" font-weight="bold"  stroke="#e0495c" stroke-width="0.22">20</text>
<line x1="35.85" y1="490.62" x2="37.45" y2="490.62" stroke="#e0495c" stroke-width="0.9" />
<line x1="35.05" y1="476.26" x2="37.45" y2="476.26" stroke="#e0495c" stroke-width="0.9" />
<text transform="translate(34.15,479.46) scale(0.92,1)" font-size="8.8" fill="#e0495c" text-anchor="end" font-weight="bold"  stroke="#e0495c" stroke-width="0.22">40</text>
<line x1="35.85" y1="461.90" x2="37.45" y2="461.90" stroke="#e0495c" stroke-width="0.9" />
<line x1="35.05" y1="447.54" x2="37.45" y2="447.54" stroke="#e0495c" stroke-width="0.9" />
<text transform="translate(34.15,450.74) scale(0.92,1)" font-size="8.8" fill="#e0495c" text-anchor="end" font-weight="bold"  stroke="#e0495c" stroke-width="0.22">60</text>
<line x1="35.85" y1="433.18" x2="37.45" y2="433.18" stroke="#e0495c" stroke-width="0.9" />
<line x1="35.05" y1="418.82" x2="37.45" y2="418.82" stroke="#e0495c" stroke-width="0.9" />
<text transform="translate(34.15,422.02) scale(0.92,1)" font-size="8.8" fill="#e0495c" text-anchor="end" font-weight="bold"  stroke="#e0495c" stroke-width="0.22">80</text>
<line x1="35.85" y1="404.46" x2="37.45" y2="404.46" stroke="#e0495c" stroke-width="0.9" />
<line x1="35.05" y1="390.10" x2="37.45" y2="390.10" stroke="#e0495c" stroke-width="0.9" />
<text transform="translate(34.15,393.30) scale(0.92,1)" font-size="8.8" fill="#e0495c" text-anchor="end" font-weight="bold"  stroke="#e0495c" stroke-width="0.22">100</text>
<line x1="35.85" y1="375.74" x2="37.45" y2="375.74" stroke="#e0495c" stroke-width="0.9" />
<line x1="648.00" y1="533.70" x2="650.40" y2="533.70" stroke="#4a78b8" stroke-width="0.9" />
<text transform="translate(652.00,536.90) scale(0.92,1)" font-size="8.8" fill="#4a78b8" text-anchor="start" font-weight="bold"  stroke="#4a78b8" stroke-width="0.22">0</text>
<line x1="648.00" y1="517.18" x2="649.60" y2="517.18" stroke="#4a78b8" stroke-width="0.9" />
<line x1="648.00" y1="500.66" x2="650.40" y2="500.66" stroke="#4a78b8" stroke-width="0.9" />
<text transform="translate(652.00,503.86) scale(0.92,1)" font-size="8.8" fill="#4a78b8" text-anchor="start" font-weight="bold"  stroke="#4a78b8" stroke-width="0.22">100</text>
<line x1="648.00" y1="484.14" x2="649.60" y2="484.14" stroke="#4a78b8" stroke-width="0.9" />
<line x1="648.00" y1="467.62" x2="650.40" y2="467.62" stroke="#4a78b8" stroke-width="0.9" />
<text transform="translate(652.00,470.82) scale(0.92,1)" font-size="8.8" fill="#4a78b8" text-anchor="start" font-weight="bold"  stroke="#4a78b8" stroke-width="0.22">200</text>
<line x1="648.00" y1="451.10" x2="649.60" y2="451.10" stroke="#4a78b8" stroke-width="0.9" />
<line x1="648.00" y1="434.58" x2="650.40" y2="434.58" stroke="#4a78b8" stroke-width="0.9" />
<text transform="translate(652.00,437.78) scale(0.92,1)" font-size="8.8" fill="#4a78b8" text-anchor="start" font-weight="bold"  stroke="#4a78b8" stroke-width="0.22">300</text>
<line x1="648.00" y1="418.06" x2="649.60" y2="418.06" stroke="#4a78b8" stroke-width="0.9" />
<line x1="648.00" y1="401.54" x2="650.40" y2="401.54" stroke="#4a78b8" stroke-width="0.9" />
<text transform="translate(652.00,404.74) scale(0.92,1)" font-size="8.8" fill="#4a78b8" text-anchor="start" font-weight="bold"  stroke="#4a78b8" stroke-width="0.22">400</text>
<line x1="648.00" y1="385.02" x2="649.60" y2="385.02" stroke="#4a78b8" stroke-width="0.9" />
<line x1="648.00" y1="368.50" x2="650.40" y2="368.50" stroke="#4a78b8" stroke-width="0.9" />
<text transform="translate(652.00,371.70) scale(0.92,1)" font-size="8.8" fill="#4a78b8" text-anchor="start" font-weight="bold"  stroke="#4a78b8" stroke-width="0.22">500</text>
<line x1="75.20" y1="533.70" x2="75.20" y2="536.30" stroke="#111" stroke-width="0.9" />
<line x1="151.55" y1="533.70" x2="151.55" y2="536.30" stroke="#111" stroke-width="0.9" />
<line x1="227.90" y1="533.70" x2="227.90" y2="536.30" stroke="#111" stroke-width="0.9" />
<line x1="304.25" y1="533.70" x2="304.25" y2="536.30" stroke="#111" stroke-width="0.9" />
<line x1="380.60" y1="533.70" x2="380.60" y2="536.30" stroke="#111" stroke-width="0.9" />
<line x1="456.95" y1="533.70" x2="456.95" y2="536.30" stroke="#111" stroke-width="0.9" />
<line x1="533.30" y1="533.70" x2="533.30" y2="536.30" stroke="#111" stroke-width="0.9" />
<line x1="609.65" y1="533.70" x2="609.65" y2="536.30" stroke="#111" stroke-width="0.9" />
<line x1="113.40" y1="533.70" x2="113.40" y2="535.40" stroke="#111" stroke-width="0.9" />
<line x1="189.75" y1="533.70" x2="189.75" y2="535.40" stroke="#111" stroke-width="0.9" />
<line x1="266.10" y1="533.70" x2="266.10" y2="535.40" stroke="#111" stroke-width="0.9" />
<line x1="342.45" y1="533.70" x2="342.45" y2="535.40" stroke="#111" stroke-width="0.9" />
<line x1="418.80" y1="533.70" x2="418.80" y2="535.40" stroke="#111" stroke-width="0.9" />
<line x1="495.15" y1="533.70" x2="495.15" y2="535.40" stroke="#111" stroke-width="0.9" />
<line x1="571.50" y1="533.70" x2="571.50" y2="535.40" stroke="#111" stroke-width="0.9" />
<text transform="translate(58.60,383.20)" font-size="9.95" fill="#8a8a8a" text-anchor="start" font-weight="bold"  stroke="#8a8a8a" stroke-width="0.22">CO<tspan baseline-shift="-2.52" font-size="6.8">2</tspan> Conv.=97.8%</text>
<text transform="translate(152.00,383.20)" font-size="9.95" fill="#d2354f" text-anchor="start" font-weight="bold"  stroke="#d2354f" stroke-width="0.22">Pipeline-grade methane &gt; 95%</text>
<text transform="translate(49.90,411.60)" font-size="9.8" fill="#444" text-anchor="start" font-weight="bold" xml:space="preserve" stroke="#444" stroke-width="0.22">240 °C  1 bar  10000 h<tspan baseline-shift="3.63" font-size="6.6">-1</tspan></text>
<text transform="translate(58.00,428.20)" font-size="9.8" fill="#444" text-anchor="start" font-weight="bold"  stroke="#444" stroke-width="0.22">50% CO<tspan baseline-shift="-2.52" font-size="6.8">2</tspan> / 50% CH<tspan baseline-shift="-2.52" font-size="6.8">4</tspan></text>
<rect x="55.00" y="434.60" width="24.80" height="11.90" fill="#e64d5f" stroke="#222" stroke-width="0.8" />
<rect x="55.00" y="453.00" width="24.80" height="11.70" fill="#4474b6" stroke="#222" stroke-width="0.8" />
<text transform="translate(83.70,444.70)" font-size="11.2" fill="#000" text-anchor="start" font-weight="bold"  stroke="#000" stroke-width="0.22">CO<tspan baseline-shift="-2.92" font-size="7.9">2</tspan> Conv.</text>
<text transform="translate(83.70,462.80)" font-size="11.2" fill="#000" text-anchor="start" font-weight="bold"  stroke="#000" stroke-width="0.22">CH<tspan baseline-shift="-2.92" font-size="7.9">4</tspan> STY</text>
<line x1="54.60" y1="477.00" x2="80.00" y2="477.00" stroke="#57b0a8" stroke-width="1.1" />
<circle cx="67.3" cy="477" r="4.2" fill="#57b0a8"/>
<text transform="translate(83.70,481.00)" font-size="11.2" fill="#000" text-anchor="start" font-weight="bold"  stroke="#000" stroke-width="0.22">CH<tspan baseline-shift="-2.92" font-size="7.9">4</tspan> Sel.</text>
<text transform="translate(14.30,450.70) rotate(-90)" font-size="9.9" fill="#e0495c" text-anchor="middle" font-weight="bold"  stroke="#e0495c" stroke-width="0.22">CO<tspan baseline-shift="-2.59" font-size="7">2</tspan> Conversion &amp; CH<tspan baseline-shift="-2.59" font-size="7">4</tspan> Selectivity (%)</text>
<text transform="translate(681.20,447.30) rotate(-90)" font-size="9.75" fill="#4a78b8" text-anchor="middle" font-weight="bold"  stroke="#4a78b8" stroke-width="0.22">STY (mmol<tspan baseline-shift="-2.40" font-size="6.5">CH4</tspan>/g<tspan baseline-shift="-2.40" font-size="6.5">active phase</tspan>/h)</text>
<text transform="translate(76.20,554.20) rotate(-10.5)" font-size="9.8" fill="#000" text-anchor="middle" font-weight="bold"  stroke="#000" stroke-width="0.22">Ni/CeZrO<tspan baseline-shift="-2.52" font-size="6.8">x</tspan></text>
<text transform="translate(152.55,554.20) rotate(-10.5)" font-size="9.8" fill="#000" text-anchor="middle" font-weight="bold"  stroke="#000" stroke-width="0.22">Ni/Ni-foam</text>
<text transform="translate(228.90,554.20) rotate(-10.5)" font-size="9.8" fill="#000" text-anchor="middle" font-weight="bold"  stroke="#000" stroke-width="0.22">MgO</text>
<text transform="translate(305.25,554.20) rotate(-10.5)" font-size="9.8" fill="#000" text-anchor="middle" font-weight="bold"  stroke="#000" stroke-width="0.22">CeO<tspan baseline-shift="-2.52" font-size="6.8">2</tspan></text>
<text transform="translate(381.60,554.20) rotate(-10.5)" font-size="9.8" fill="#000" text-anchor="middle" font-weight="bold"  stroke="#000" stroke-width="0.22">ZrO<tspan baseline-shift="-2.52" font-size="6.8">2</tspan></text>
<text transform="translate(457.95,554.20) rotate(-10.5)" font-size="9.8" fill="#000" text-anchor="middle" font-weight="bold"  stroke="#000" stroke-width="0.22">Al<tspan baseline-shift="-2.52" font-size="6.8">2</tspan>O<tspan baseline-shift="-2.52" font-size="6.8">3</tspan></text>
<text transform="translate(534.30,554.20) rotate(-10.5)" font-size="9.8" fill="#000" text-anchor="middle" font-weight="bold"  stroke="#000" stroke-width="0.22">ZrAlO<tspan baseline-shift="-2.52" font-size="6.8">x</tspan></text>
<text transform="translate(610.65,554.20) rotate(-10.5)" font-size="9.8" fill="#000" text-anchor="middle" font-weight="bold"  stroke="#000" stroke-width="0.22">CeZrO<tspan baseline-shift="-2.52" font-size="6.8">x</tspan></text>
<text transform="translate(426.00,573.50)" font-size="11.95" fill="#000" text-anchor="middle" font-weight="bold"  stroke="#000" stroke-width="0.22">MO<tspan baseline-shift="-3.03" font-size="8.2">x</tspan>/Ni/Ni-foam</text>
<line x1="214.00" y1="569.00" x2="372.70" y2="569.00" stroke="#111" stroke-width="1.7" />
<path d="M208.8,569 L216.3,565.6 L215.2,569 L216.3,572.4 Z" fill="#111"/>
<line x1="484.40" y1="569.00" x2="618.00" y2="569.00" stroke="#111" stroke-width="1.7" />
<path d="M624.3,569 L616.8,565.6 L617.9,569 L616.8,572.4 Z" fill="#111"/>
</svg>
</body></html>
